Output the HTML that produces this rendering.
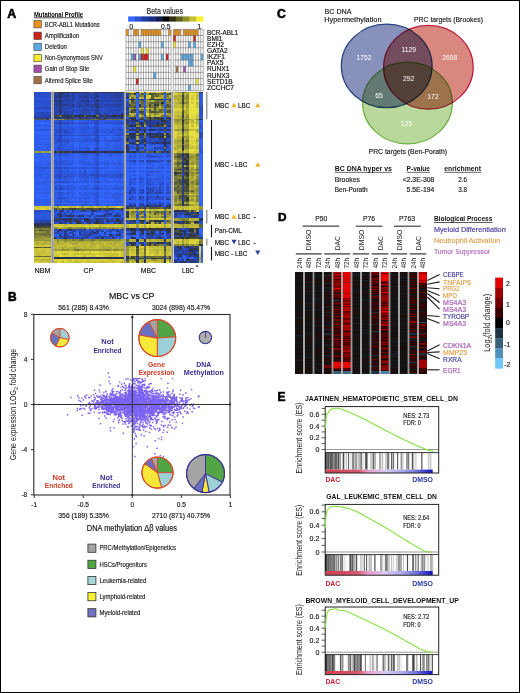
<!DOCTYPE html>
<html><head><meta charset="utf-8"><title>Figure</title><style>
html,body{margin:0;padding:0;background:#fff}
#fig{position:relative;width:520px;height:693px;overflow:hidden;background:#fff}
#fig>div{position:absolute}
#fig>svg{position:absolute;left:0;top:0}
svg text{font-family:"Liberation Sans",sans-serif}
</style></head><body><div id="fig">
<div style="left:34px;top:91.5px;width:169.3px;height:171.5px;filter:blur(0.6px)"><div style="position:absolute;left:0.0px;top:0.0px;width:17.3px;height:1.7px;background:linear-gradient(90deg,#2a51d2 0.0px 2.5px,#294cc7 2.5px 4.9px,#2b55da 4.9px 7.4px,#2a4ecc 7.4px 9.9px,#2b55d9 9.9px 12.4px,#294ac4 12.4px 14.8px,#294dca 14.8px 17.3px)"></div><div style="position:absolute;left:0.0px;top:1.5px;width:17.3px;height:1.9px;background:linear-gradient(90deg,#294dcb 0.0px 2.5px,#294bc6 2.5px 4.9px,#294dca 4.9px 7.4px,#2a4ecc 7.4px 9.9px,#294cc8 9.9px 12.4px,#2a4fcf 12.4px 14.8px,#294dca 14.8px 17.3px)"></div><div style="position:absolute;left:0.0px;top:3.2px;width:17.3px;height:1.9px;background:linear-gradient(90deg,#2a4fcd 0.0px 2.5px,#2a50d0 2.5px 4.9px,#2849c2 4.9px 7.4px,#2a4fcd 7.4px 9.9px,#2a50d1 9.9px 12.4px,#2a4ecd 12.4px 14.8px,#2a50d0 14.8px 17.3px)"></div><div style="position:absolute;left:0.0px;top:5.0px;width:17.3px;height:1.9px;background:linear-gradient(90deg,#2b54d8 0.0px 2.5px,#294ecc 2.5px 4.9px,#2b53d6 4.9px 7.4px,#2b53d5 7.4px 9.9px,#2a51d3 9.9px 12.4px,#294ecc 12.4px 14.8px,#2b54d7 14.8px 17.3px)"></div><div style="position:absolute;left:0.0px;top:6.7px;width:17.3px;height:1.9px;background:linear-gradient(90deg,#294ecb 0.0px 2.5px,#2c58e0 2.5px 4.9px,#2b55da 4.9px 7.4px,#2b52d5 7.4px 9.9px,#2a4ecc 9.9px 12.4px,#2c57dd 12.4px 14.8px,#2d5ae5 14.8px 17.3px)"></div><div style="position:absolute;left:0.0px;top:8.4px;width:17.3px;height:1.9px;background:linear-gradient(90deg,#2a50d1 0.0px 2.5px,#2a50d0 2.5px 4.9px,#294ecc 4.9px 7.4px,#2a4ecd 7.4px 9.9px,#2a4ecc 9.9px 12.4px,#2a50d0 12.4px 14.8px,#294cc7 14.8px 17.3px)"></div><div style="position:absolute;left:0.0px;top:10.1px;width:17.3px;height:1.9px;background:linear-gradient(90deg,#294bc7 0.0px 2.5px,#294dca 2.5px 4.9px,#284ac3 4.9px 7.4px,#294ac5 7.4px 9.9px,#2a4ecd 9.9px 12.4px,#294dca 12.4px 14.8px,#2849c2 14.8px 17.3px)"></div><div style="position:absolute;left:0.0px;top:11.9px;width:17.3px;height:1.9px;background:linear-gradient(90deg,#2b53d6 0.0px 2.5px,#2a51d3 2.5px 4.9px,#2b52d4 4.9px 7.4px,#2a52d4 7.4px 9.9px,#2c57de 9.9px 12.4px,#294dcb 12.4px 14.8px,#2a51d3 14.8px 17.3px)"></div><div style="position:absolute;left:0.0px;top:13.6px;width:17.3px;height:1.9px;background:linear-gradient(90deg,#2b53d5 0.0px 2.5px,#2b54d9 2.5px 4.9px,#2b55da 4.9px 7.4px,#2b52d5 7.4px 9.9px,#2a4fce 9.9px 12.4px,#2b54d7 12.4px 14.8px,#2a51d2 14.8px 17.3px)"></div><div style="position:absolute;left:0.0px;top:15.3px;width:17.3px;height:1.9px;background:linear-gradient(90deg,#294cc7 0.0px 2.5px,#294ac5 2.5px 4.9px,#2847bd 4.9px 7.4px,#294dcb 7.4px 9.9px,#284ac3 9.9px 12.4px,#2847ba 12.4px 14.8px,#2847bc 14.8px 17.3px)"></div><div style="position:absolute;left:0.0px;top:17.0px;width:17.3px;height:1.9px;background:linear-gradient(90deg,#2b54d8 0.0px 2.5px,#2849c2 2.5px 4.9px,#294ecc 4.9px 7.4px,#294dcb 7.4px 9.9px,#294ecc 9.9px 12.4px,#2b54d7 12.4px 14.8px,#2b53d6 14.8px 17.3px)"></div><div style="position:absolute;left:0.0px;top:18.8px;width:17.3px;height:1.9px;background:linear-gradient(90deg,#2a51d3 0.0px 2.5px,#2c59e1 2.5px 4.9px,#2c57de 4.9px 7.4px,#2c57de 7.4px 9.9px,#2b55da 9.9px 12.4px,#2b55da 12.4px 14.8px,#2b56dc 14.8px 17.3px)"></div><div style="position:absolute;left:0.0px;top:20.5px;width:17.3px;height:1.8px;background:linear-gradient(90deg,#2a51d3 0.0px 2.5px,#2848be 2.5px 4.9px,#2847bd 4.9px 7.4px,#2846b6 7.4px 9.9px,#2848c0 9.9px 12.4px,#284ac3 12.4px 14.8px,#2847bc 14.8px 17.3px)"></div><div style="position:absolute;left:0.0px;top:22.1px;width:17.3px;height:1.8px;background:linear-gradient(90deg,#294cc9 0.0px 2.5px,#294cc8 2.5px 4.9px,#2848c0 4.9px 7.4px,#2845b2 7.4px 9.9px,#2847bd 9.9px 12.4px,#2847ba 12.4px 14.8px,#2848c1 14.8px 17.3px)"></div><div style="position:absolute;left:0.0px;top:23.8px;width:17.3px;height:1.8px;background:linear-gradient(90deg,#2845b0 0.0px 2.5px,#2845af 2.5px 4.9px,#2848c0 4.9px 7.4px,#2846b6 7.4px 9.9px,#2846b7 9.9px 12.4px,#2843a6 12.4px 14.8px,#2843a7 14.8px 17.3px)"></div><div style="position:absolute;left:0.0px;top:25.4px;width:17.3px;height:1.8px;background:linear-gradient(90deg,#283f96 0.0px 2.5px,#2843a5 2.5px 4.9px,#28409a 4.9px 7.4px,#283f92 7.4px 9.9px,#2842a2 9.9px 12.4px,#28409a 12.4px 14.8px,#2842a4 14.8px 17.3px)"></div><div style="position:absolute;left:0.0px;top:27.0px;width:17.3px;height:1.7px;background:linear-gradient(90deg,#61663a 0.0px 2.5px,#53593a 2.5px 4.9px,#61663a 4.9px 7.4px,#585e3a 7.4px 9.9px,#646939 9.9px 12.4px,#414738 12.4px 14.8px,#808138 14.8px 17.3px)"></div><div style="position:absolute;left:0.0px;top:28.5px;width:17.3px;height:2.0px;background:linear-gradient(90deg,#2e5ce8 0.0px 2.5px,#2e5deb 2.5px 4.9px,#2e5be7 4.9px 7.4px,#2d5ae4 7.4px 9.9px,#2d5ae5 9.9px 12.4px,#2d5ae5 12.4px 14.8px,#2f5fef 14.8px 17.3px)"></div><div style="position:absolute;left:0.0px;top:30.3px;width:17.3px;height:2.0px;background:linear-gradient(90deg,#3060f1 0.0px 2.5px,#3162f6 2.5px 4.9px,#3265fd 4.9px 7.4px,#3264fa 7.4px 9.9px,#3265fc 9.9px 12.4px,#3264fb 12.4px 14.8px,#3060f2 14.8px 17.3px)"></div><div style="position:absolute;left:0.0px;top:32.1px;width:17.3px;height:2.0px;background:linear-gradient(90deg,#2f5eec 0.0px 2.5px,#305ff0 2.5px 4.9px,#3162f7 4.9px 7.4px,#3061f4 7.4px 9.9px,#2e5be8 9.9px 12.4px,#3161f4 12.4px 14.8px,#3162f5 14.8px 17.3px)"></div><div style="position:absolute;left:0.0px;top:33.9px;width:17.3px;height:2.0px;background:linear-gradient(90deg,#2e5be7 0.0px 2.5px,#2e5be8 2.5px 4.9px,#2c59e2 4.9px 7.4px,#2f5fef 7.4px 9.9px,#2d5be6 9.9px 12.4px,#2f5dec 12.4px 14.8px,#2f5eed 14.8px 17.3px)"></div><div style="position:absolute;left:0.0px;top:35.7px;width:17.3px;height:2.0px;background:linear-gradient(90deg,#305ff0 0.0px 2.5px,#3162f5 2.5px 4.9px,#3265fc 4.9px 7.4px,#3263f9 7.4px 9.9px,#2f5eee 9.9px 12.4px,#305ff0 12.4px 14.8px,#3263f9 14.8px 17.3px)"></div><div style="position:absolute;left:0.0px;top:37.6px;width:17.3px;height:2.0px;background:linear-gradient(90deg,#2c59e2 0.0px 2.5px,#2d5ae5 2.5px 4.9px,#2c58e1 4.9px 7.4px,#2c56dc 7.4px 9.9px,#2b55d9 9.9px 12.4px,#2b56dc 12.4px 14.8px,#2c59e2 14.8px 17.3px)"></div><div style="position:absolute;left:0.0px;top:39.4px;width:17.3px;height:2.0px;background:linear-gradient(90deg,#3263f9 0.0px 2.5px,#3061f3 2.5px 4.9px,#3162f6 4.9px 7.4px,#3060f2 7.4px 9.9px,#3163f8 9.9px 12.4px,#3162f5 12.4px 14.8px,#3162f7 14.8px 17.3px)"></div><div style="position:absolute;left:0.0px;top:41.2px;width:17.3px;height:2.0px;background:linear-gradient(90deg,#3265fc 0.0px 2.5px,#3264fb 2.5px 4.9px,#3265fc 4.9px 7.4px,#3161f5 7.4px 9.9px,#3162f7 9.9px 12.4px,#3265fd 12.4px 14.8px,#3161f5 14.8px 17.3px)"></div><div style="position:absolute;left:0.0px;top:43.0px;width:17.3px;height:2.0px;background:linear-gradient(90deg,#2e5be8 0.0px 2.5px,#2f5fee 2.5px 4.9px,#2f5fef 4.9px 7.4px,#305ff1 7.4px 9.9px,#2f5eed 9.9px 12.4px,#2f5dec 12.4px 14.8px,#2f5eed 14.8px 17.3px)"></div><div style="position:absolute;left:0.0px;top:44.8px;width:17.3px;height:2.0px;background:linear-gradient(90deg,#2f5fef 0.0px 2.5px,#3060f1 2.5px 4.9px,#305ff0 4.9px 7.4px,#3161f5 7.4px 9.9px,#305ff0 9.9px 12.4px,#3162f5 12.4px 14.8px,#3161f5 14.8px 17.3px)"></div><div style="position:absolute;left:0.0px;top:46.6px;width:17.3px;height:2.0px;background:linear-gradient(90deg,#2d5be6 0.0px 2.5px,#2e5dea 2.5px 4.9px,#2f5fee 4.9px 7.4px,#2f5fef 7.4px 9.9px,#2e5dea 9.9px 12.4px,#2e5ce9 12.4px 14.8px,#2e5ce9 14.8px 17.3px)"></div><div style="position:absolute;left:0.0px;top:48.4px;width:17.3px;height:2.0px;background:linear-gradient(90deg,#305ff0 0.0px 2.5px,#3060f2 2.5px 4.9px,#3060f2 4.9px 7.4px,#3161f4 7.4px 9.9px,#3060f2 9.9px 12.4px,#3264fa 12.4px 14.8px,#3162f6 14.8px 17.3px)"></div><div style="position:absolute;left:0.0px;top:50.2px;width:17.3px;height:2.0px;background:linear-gradient(90deg,#3060f1 0.0px 2.5px,#2e5deb 2.5px 4.9px,#3060f2 4.9px 7.4px,#2f5eee 7.4px 9.9px,#2f5deb 9.9px 12.4px,#3060f1 12.4px 14.8px,#305ff0 14.8px 17.3px)"></div><div style="position:absolute;left:0.0px;top:52.1px;width:17.3px;height:2.0px;background:linear-gradient(90deg,#2d59e3 0.0px 2.5px,#2d59e3 2.5px 4.9px,#2c59e2 4.9px 7.4px,#2c58e0 7.4px 9.9px,#2c58e0 9.9px 12.4px,#2b56dc 12.4px 14.8px,#2c56dc 14.8px 17.3px)"></div><div style="position:absolute;left:0.0px;top:53.9px;width:17.3px;height:2.0px;background:linear-gradient(90deg,#3061f4 0.0px 2.5px,#3163f8 2.5px 4.9px,#3163f8 4.9px 7.4px,#3162f5 7.4px 9.9px,#2f5fef 9.9px 12.4px,#3060f2 12.4px 14.8px,#2f5fef 14.8px 17.3px)"></div><div style="position:absolute;left:0.0px;top:55.7px;width:17.3px;height:2.0px;background:linear-gradient(90deg,#2e5dea 0.0px 2.5px,#2c58e1 2.5px 4.9px,#2f5dec 4.9px 7.4px,#2f5dec 7.4px 9.9px,#2f5deb 9.9px 12.4px,#2d5ae5 12.4px 14.8px,#2e5dea 14.8px 17.3px)"></div><div style="position:absolute;left:0.0px;top:57.5px;width:17.3px;height:2.0px;background:linear-gradient(90deg,#3060f2 0.0px 2.5px,#305ff0 2.5px 4.9px,#3161f5 4.9px 7.4px,#3162f5 7.4px 9.9px,#305ff0 9.9px 12.4px,#305ff0 12.4px 14.8px,#305ff0 14.8px 17.3px)"></div><div style="position:absolute;left:0.0px;top:59.3px;width:17.3px;height:2.0px;background:linear-gradient(90deg,#9e9e38 0.0px 2.5px,#9f9f38 2.5px 4.9px,#868638 4.9px 7.4px,#a8a838 7.4px 9.9px,#9c9c38 9.9px 12.4px,#979738 12.4px 14.8px,#b4b138 14.8px 17.3px)"></div><div style="position:absolute;left:0.0px;top:61.1px;width:17.3px;height:2.0px;background:linear-gradient(90deg,#3060f2 0.0px 2.5px,#2f5fef 2.5px 4.9px,#2f5deb 4.9px 7.4px,#2e5dea 7.4px 9.9px,#2f5fef 9.9px 12.4px,#3060f3 12.4px 14.8px,#3060f2 14.8px 17.3px)"></div><div style="position:absolute;left:0.0px;top:62.9px;width:17.3px;height:2.0px;background:linear-gradient(90deg,#3264fb 0.0px 2.5px,#3162f6 2.5px 4.9px,#3263f8 4.9px 7.4px,#3162f6 7.4px 9.9px,#3264fa 9.9px 12.4px,#3264fa 12.4px 14.8px,#3162f7 14.8px 17.3px)"></div><div style="position:absolute;left:0.0px;top:64.7px;width:17.3px;height:2.0px;background:linear-gradient(90deg,#2f5eec 0.0px 2.5px,#3162f7 2.5px 4.9px,#3060f1 4.9px 7.4px,#3060f2 7.4px 9.9px,#3263f9 9.9px 12.4px,#2f5fef 12.4px 14.8px,#3060f1 14.8px 17.3px)"></div><div style="position:absolute;left:0.0px;top:66.4px;width:17.3px;height:2.0px;background:linear-gradient(90deg,#3365fd 0.0px 2.5px,#3264fb 2.5px 4.9px,#3366ff 4.9px 7.4px,#3163f7 7.4px 9.9px,#3366ff 9.9px 12.4px,#3366ff 12.4px 14.8px,#3365fd 14.8px 17.3px)"></div><div style="position:absolute;left:0.0px;top:68.2px;width:17.3px;height:2.0px;background:linear-gradient(90deg,#3263f9 0.0px 2.5px,#3365fd 2.5px 4.9px,#3060f1 4.9px 7.4px,#3162f6 7.4px 9.9px,#2f5fef 9.9px 12.4px,#305ff0 12.4px 14.8px,#3161f5 14.8px 17.3px)"></div><div style="position:absolute;left:0.0px;top:70.0px;width:17.3px;height:2.0px;background:linear-gradient(90deg,#2e5deb 0.0px 2.5px,#2e5deb 2.5px 4.9px,#305ff0 4.9px 7.4px,#3162f6 7.4px 9.9px,#3263f9 9.9px 12.4px,#3162f6 12.4px 14.8px,#2f5deb 14.8px 17.3px)"></div><div style="position:absolute;left:0.0px;top:71.8px;width:17.3px;height:2.0px;background:linear-gradient(90deg,#2f5eed 0.0px 2.5px,#3060f2 2.5px 4.9px,#2e5deb 4.9px 7.4px,#305ff0 7.4px 9.9px,#2f5dec 9.9px 12.4px,#2e5ce8 12.4px 14.8px,#2d5be6 14.8px 17.3px)"></div><div style="position:absolute;left:0.0px;top:73.6px;width:17.3px;height:2.0px;background:linear-gradient(90deg,#305ff0 0.0px 2.5px,#2f5eed 2.5px 4.9px,#2d5ae5 4.9px 7.4px,#2f5eec 7.4px 9.9px,#3162f6 9.9px 12.4px,#2d5be6 12.4px 14.8px,#2f5eed 14.8px 17.3px)"></div><div style="position:absolute;left:0.0px;top:75.3px;width:17.3px;height:2.0px;background:linear-gradient(90deg,#2b53d6 0.0px 2.5px,#2b52d4 2.5px 4.9px,#2b53d5 4.9px 7.4px,#2a51d2 7.4px 9.9px,#2b53d7 9.9px 12.4px,#2b56db 12.4px 14.8px,#2c57de 14.8px 17.3px)"></div><div style="position:absolute;left:0.0px;top:77.1px;width:17.3px;height:2.0px;background:linear-gradient(90deg,#3061f3 0.0px 2.5px,#3061f3 2.5px 4.9px,#2d5be6 4.9px 7.4px,#2f5eec 7.4px 9.9px,#2e5deb 9.9px 12.4px,#3061f3 12.4px 14.8px,#2f5fef 14.8px 17.3px)"></div><div style="position:absolute;left:0.0px;top:78.9px;width:17.3px;height:2.0px;background:linear-gradient(90deg,#3060f2 0.0px 2.5px,#2f5eed 2.5px 4.9px,#2f5eee 4.9px 7.4px,#305ff0 7.4px 9.9px,#305ff0 9.9px 12.4px,#3263f9 12.4px 14.8px,#3161f5 14.8px 17.3px)"></div><div style="position:absolute;left:0.0px;top:80.7px;width:17.3px;height:2.0px;background:linear-gradient(90deg,#2f5eee 0.0px 2.5px,#305ff0 2.5px 4.9px,#2e5deb 4.9px 7.4px,#3060f1 7.4px 9.9px,#305ff0 9.9px 12.4px,#2e5ce8 12.4px 14.8px,#2f5eee 14.8px 17.3px)"></div><div style="position:absolute;left:0.0px;top:82.5px;width:17.3px;height:2.0px;background:linear-gradient(90deg,#2c59e2 0.0px 2.5px,#2c58e0 2.5px 4.9px,#2c57de 4.9px 7.4px,#2f5fef 7.4px 9.9px,#2d5ae5 9.9px 12.4px,#2e5deb 12.4px 14.8px,#2d5be7 14.8px 17.3px)"></div><div style="position:absolute;left:0.0px;top:84.2px;width:17.3px;height:2.0px;background:linear-gradient(90deg,#2e5cea 0.0px 2.5px,#305ff1 2.5px 4.9px,#2e5ce8 4.9px 7.4px,#3061f3 7.4px 9.9px,#305ff1 9.9px 12.4px,#305ff0 12.4px 14.8px,#2f5deb 14.8px 17.3px)"></div><div style="position:absolute;left:0.0px;top:86.0px;width:17.3px;height:2.0px;background:linear-gradient(90deg,#3061f3 0.0px 2.5px,#3060f2 2.5px 4.9px,#3162f7 4.9px 7.4px,#2e5ce9 7.4px 9.9px,#2f5dec 9.9px 12.4px,#2f5eee 12.4px 14.8px,#2f5fee 14.8px 17.3px)"></div><div style="position:absolute;left:0.0px;top:87.8px;width:17.3px;height:2.0px;background:linear-gradient(90deg,#3162f6 0.0px 2.5px,#305ff0 2.5px 4.9px,#3163f8 4.9px 7.4px,#3163f8 7.4px 9.9px,#2f5eec 9.9px 12.4px,#2f5eec 12.4px 14.8px,#3060f3 14.8px 17.3px)"></div><div style="position:absolute;left:0.0px;top:89.6px;width:17.3px;height:2.0px;background:linear-gradient(90deg,#2e5dea 0.0px 2.5px,#2d5ae4 2.5px 4.9px,#2f5eee 4.9px 7.4px,#2e5deb 7.4px 9.9px,#2e5ce9 9.9px 12.4px,#2d5ae4 12.4px 14.8px,#2f5eed 14.8px 17.3px)"></div><div style="position:absolute;left:0.0px;top:91.4px;width:17.3px;height:2.0px;background:linear-gradient(90deg,#305ff0 0.0px 2.5px,#3060f1 2.5px 4.9px,#3060f1 4.9px 7.4px,#2f5eed 7.4px 9.9px,#2e5ce9 9.9px 12.4px,#3060f1 12.4px 14.8px,#3060f1 14.8px 17.3px)"></div><div style="position:absolute;left:0.0px;top:93.1px;width:17.3px;height:2.0px;background:linear-gradient(90deg,#3060f1 0.0px 2.5px,#2f5fef 2.5px 4.9px,#3263f9 4.9px 7.4px,#3060f1 7.4px 9.9px,#3163f8 9.9px 12.4px,#2f5fef 12.4px 14.8px,#3163f8 14.8px 17.3px)"></div><div style="position:absolute;left:0.0px;top:94.9px;width:17.3px;height:2.0px;background:linear-gradient(90deg,#3264fc 0.0px 2.5px,#3163f8 2.5px 4.9px,#3365fd 4.9px 7.4px,#3162f7 7.4px 9.9px,#3162f7 9.9px 12.4px,#3163f8 12.4px 14.8px,#3162f7 14.8px 17.3px)"></div><div style="position:absolute;left:0.0px;top:96.7px;width:17.3px;height:2.0px;background:linear-gradient(90deg,#2f5eec 0.0px 2.5px,#2e5ce9 2.5px 4.9px,#2e5ce9 4.9px 7.4px,#3061f3 7.4px 9.9px,#2e5be7 9.9px 12.4px,#2f5eed 12.4px 14.8px,#2f5eec 14.8px 17.3px)"></div><div style="position:absolute;left:0.0px;top:98.5px;width:17.3px;height:2.0px;background:linear-gradient(90deg,#3060f2 0.0px 2.5px,#3060f1 2.5px 4.9px,#305ff1 4.9px 7.4px,#3162f6 7.4px 9.9px,#2f5fef 9.9px 12.4px,#3060f1 12.4px 14.8px,#3161f5 14.8px 17.3px)"></div><div style="position:absolute;left:0.0px;top:100.3px;width:17.3px;height:2.0px;background:linear-gradient(90deg,#2f5dec 0.0px 2.5px,#2f5eed 2.5px 4.9px,#2f5dec 4.9px 7.4px,#2f5fef 7.4px 9.9px,#2e5cea 9.9px 12.4px,#2d5ae4 12.4px 14.8px,#2f5eed 14.8px 17.3px)"></div><div style="position:absolute;left:0.0px;top:102.0px;width:17.3px;height:2.0px;background:linear-gradient(90deg,#3061f3 0.0px 2.5px,#3366ff 2.5px 4.9px,#3366ff 4.9px 7.4px,#3366ff 7.4px 9.9px,#3264fa 9.9px 12.4px,#3162f6 12.4px 14.8px,#3162f7 14.8px 17.3px)"></div><div style="position:absolute;left:0.0px;top:103.8px;width:17.3px;height:2.0px;background:linear-gradient(90deg,#2f5deb 0.0px 2.5px,#3061f3 2.5px 4.9px,#3162f5 4.9px 7.4px,#3060f2 7.4px 9.9px,#3060f1 9.9px 12.4px,#3060f2 12.4px 14.8px,#305ff0 14.8px 17.3px)"></div><div style="position:absolute;left:0.0px;top:105.6px;width:17.3px;height:2.0px;background:linear-gradient(90deg,#3263f9 0.0px 2.5px,#3366ff 2.5px 4.9px,#3365fd 4.9px 7.4px,#3366ff 7.4px 9.9px,#3366ff 9.9px 12.4px,#3366ff 12.4px 14.8px,#3366ff 14.8px 17.3px)"></div><div style="position:absolute;left:0.0px;top:107.4px;width:17.3px;height:2.0px;background:linear-gradient(90deg,#2e5ce9 0.0px 2.5px,#3060f2 2.5px 4.9px,#3162f7 4.9px 7.4px,#305ff0 7.4px 9.9px,#3060f1 9.9px 12.4px,#2f5dec 12.4px 14.8px,#2f5eed 14.8px 17.3px)"></div><div style="position:absolute;left:0.0px;top:109.2px;width:17.3px;height:2.0px;background:linear-gradient(90deg,#2c58e0 0.0px 2.5px,#2d5ae4 2.5px 4.9px,#2c59e2 4.9px 7.4px,#3060f2 7.4px 9.9px,#2e5be8 9.9px 12.4px,#2e5be8 12.4px 14.8px,#2d5ae4 14.8px 17.3px)"></div><div style="position:absolute;left:0.0px;top:110.9px;width:17.3px;height:2.0px;background:linear-gradient(90deg,#2f5dec 0.0px 2.5px,#2e5ce8 2.5px 4.9px,#305ff1 4.9px 7.4px,#2f5deb 7.4px 9.9px,#2f5eee 9.9px 12.4px,#2f5eed 12.4px 14.8px,#2f5deb 14.8px 17.3px)"></div><div style="position:absolute;left:0.0px;top:112.7px;width:17.3px;height:2.0px;background:linear-gradient(90deg,#3060f1 0.0px 2.5px,#3060f2 2.5px 4.9px,#2f5eed 4.9px 7.4px,#3060f2 7.4px 9.9px,#305ff0 9.9px 12.4px,#2d5ae5 12.4px 14.8px,#2f5fef 14.8px 17.3px)"></div><div style="position:absolute;left:0.0px;top:114.5px;width:17.3px;height:2.0px;background:linear-gradient(90deg,#d4cc3b 0.0px 2.5px,#c7bf38 2.5px 4.9px,#d1c93a 4.9px 7.4px,#d2ca3a 7.4px 9.9px,#d0c83a 9.9px 12.4px,#d3cb3b 12.4px 14.8px,#d2ca3a 14.8px 17.3px)"></div><div style="position:absolute;left:0.0px;top:116.3px;width:17.3px;height:2.0px;background:linear-gradient(90deg,#cfc73a 0.0px 2.5px,#d6ce3c 2.5px 4.9px,#d0c83a 4.9px 7.4px,#dbd33d 7.4px 9.9px,#d4cc3b 9.9px 12.4px,#cbc339 12.4px 14.8px,#d4cc3b 14.8px 17.3px)"></div><div style="position:absolute;left:0.0px;top:118.1px;width:17.3px;height:2.6px;background:linear-gradient(90deg,#284ac3 0.0px 2.5px,#294ecc 2.5px 4.9px,#2b54d7 4.9px 7.4px,#2a4ecc 7.4px 9.9px,#284ac3 9.9px 12.4px,#294cc8 12.4px 14.8px,#2a4fce 14.8px 17.3px)"></div><div style="position:absolute;left:0.0px;top:120.5px;width:17.3px;height:2.2px;background:linear-gradient(90deg,#2b53d6 0.0px 2.5px,#2a50d1 2.5px 4.9px,#2b52d4 4.9px 7.4px,#2b54d8 7.4px 9.9px,#2c57df 9.9px 12.4px,#2b54d8 12.4px 14.8px,#2b54d8 14.8px 17.3px)"></div><div style="position:absolute;left:0.0px;top:122.5px;width:17.3px;height:2.2px;background:linear-gradient(90deg,#2c57dd 0.0px 2.5px,#2e5be7 2.5px 4.9px,#2c56dc 4.9px 7.4px,#2c58e0 7.4px 9.9px,#2c57de 9.9px 12.4px,#2c58e0 12.4px 14.8px,#2c59e2 14.8px 17.3px)"></div><div style="position:absolute;left:0.0px;top:124.5px;width:17.3px;height:2.2px;background:linear-gradient(90deg,#2b54d9 0.0px 2.5px,#2c58e0 2.5px 4.9px,#2b56dc 4.9px 7.4px,#2d59e2 7.4px 9.9px,#2b55db 9.9px 12.4px,#2c57dd 12.4px 14.8px,#2d5ae5 14.8px 17.3px)"></div><div style="position:absolute;left:0.0px;top:126.5px;width:17.3px;height:2.2px;background:linear-gradient(90deg,#2b55da 0.0px 2.5px,#2b52d4 2.5px 4.9px,#2c57dd 4.9px 7.4px,#2c58e0 7.4px 9.9px,#2a50d1 9.9px 12.4px,#2c57de 12.4px 14.8px,#2c59e2 14.8px 17.3px)"></div><div style="position:absolute;left:0.0px;top:128.5px;width:17.3px;height:2.7px;background:linear-gradient(90deg,#2848bf 0.0px 2.5px,#2845b2 2.5px 4.9px,#28419d 4.9px 7.4px,#2845b3 7.4px 9.9px,#2844ac 9.9px 12.4px,#2844aa 12.4px 14.8px,#2844ad 14.8px 17.3px)"></div><div style="position:absolute;left:0.0px;top:131.0px;width:17.3px;height:1.9px;background:linear-gradient(90deg,#2a334d 0.0px 2.5px,#293461 2.5px 4.9px,#29345c 4.9px 7.4px,#29345f 7.4px 9.9px,#283671 9.9px 12.4px,#29345c 12.4px 14.8px,#293460 14.8px 17.3px)"></div><div style="position:absolute;left:0.0px;top:132.8px;width:17.3px;height:1.9px;background:linear-gradient(90deg,#2b3348 0.0px 2.5px,#2b323d 2.5px 4.9px,#28346a 4.9px 7.4px,#293358 7.4px 9.9px,#293357 9.9px 12.4px,#29345c 12.4px 14.8px,#2a334c 14.8px 17.3px)"></div><div style="position:absolute;left:0.0px;top:134.5px;width:17.3px;height:2.2px;background:linear-gradient(90deg,#4e5439 0.0px 2.5px,#3b4137 2.5px 4.9px,#424838 4.9px 7.4px,#4c5239 7.4px 9.9px,#474d39 9.9px 12.4px,#464c38 12.4px 14.8px,#4b5139 14.8px 17.3px)"></div><div style="position:absolute;left:0.0px;top:136.5px;width:17.3px;height:1.9px;background:linear-gradient(90deg,#6a6e39 0.0px 2.5px,#8a8a38 2.5px 4.9px,#6f7239 4.9px 7.4px,#7f8038 7.4px 9.9px,#7f7f38 9.9px 12.4px,#838338 12.4px 14.8px,#707339 14.8px 17.3px)"></div><div style="position:absolute;left:0.0px;top:138.2px;width:17.3px;height:1.9px;background:linear-gradient(90deg,#6f7239 0.0px 2.5px,#6d7039 2.5px 4.9px,#4e5439 4.9px 7.4px,#4b5139 7.4px 9.9px,#636739 9.9px 12.4px,#656939 12.4px 14.8px,#666a39 14.8px 17.3px)"></div><div style="position:absolute;left:0.0px;top:139.8px;width:17.3px;height:1.9px;background:linear-gradient(90deg,#787a39 0.0px 2.5px,#9c9c38 2.5px 4.9px,#8d8d38 4.9px 7.4px,#909038 7.4px 9.9px,#878738 9.9px 12.4px,#6b6e39 12.4px 14.8px,#878738 14.8px 17.3px)"></div><div style="position:absolute;left:0.0px;top:141.5px;width:17.3px;height:1.9px;background:linear-gradient(90deg,#777939 0.0px 2.5px,#717339 2.5px 4.9px,#7a7c38 4.9px 7.4px,#676b39 7.4px 9.9px,#6d7139 9.9px 12.4px,#727539 12.4px 14.8px,#696c39 14.8px 17.3px)"></div><div style="position:absolute;left:0.0px;top:143.2px;width:17.3px;height:1.9px;background:linear-gradient(90deg,#7b7d38 0.0px 2.5px,#8a8a38 2.5px 4.9px,#717439 4.9px 7.4px,#7e7f38 7.4px 9.9px,#666a39 9.9px 12.4px,#6e7139 12.4px 14.8px,#787a39 14.8px 17.3px)"></div><div style="position:absolute;left:0.0px;top:144.8px;width:17.3px;height:1.9px;background:linear-gradient(90deg,#7b7c38 0.0px 2.5px,#8c8c38 2.5px 4.9px,#888838 4.9px 7.4px,#929238 7.4px 9.9px,#8f8f38 9.9px 12.4px,#8c8c38 12.4px 14.8px,#828338 14.8px 17.3px)"></div><div style="position:absolute;left:0.0px;top:146.5px;width:17.3px;height:1.7px;background:linear-gradient(90deg,#9e9e38 0.0px 2.5px,#9e9e38 2.5px 4.9px,#989838 4.9px 7.4px,#9b9b38 7.4px 9.9px,#9c9c38 9.9px 12.4px,#a3a338 12.4px 14.8px,#a4a438 14.8px 17.3px)"></div><div style="position:absolute;left:0.0px;top:148.0px;width:17.3px;height:1.7px;background:linear-gradient(90deg,#939338 0.0px 2.5px,#969638 2.5px 4.9px,#9a9a38 4.9px 7.4px,#939338 7.4px 9.9px,#959538 9.9px 12.4px,#919138 12.4px 14.8px,#9a9a38 14.8px 17.3px)"></div><div style="position:absolute;left:0.0px;top:149.5px;width:17.3px;height:2.2px;background:linear-gradient(90deg,#bbb638 0.0px 2.5px,#abaa38 2.5px 4.9px,#c4bd38 4.9px 7.4px,#bfb938 7.4px 9.9px,#acab38 9.9px 12.4px,#b6b238 12.4px 14.8px,#b1ae38 14.8px 17.3px)"></div><div style="position:absolute;left:0.0px;top:151.5px;width:17.3px;height:2.2px;background:linear-gradient(90deg,#b5b238 0.0px 2.5px,#b2af38 2.5px 4.9px,#beb838 4.9px 7.4px,#b4b138 7.4px 9.9px,#b0ae38 9.9px 12.4px,#b7b338 12.4px 14.8px,#bab538 14.8px 17.3px)"></div><div style="position:absolute;left:0.0px;top:153.5px;width:17.3px;height:2.2px;background:linear-gradient(90deg,#d3cb3b 0.0px 2.5px,#c6bf38 2.5px 4.9px,#cbc339 4.9px 7.4px,#cfc73a 7.4px 9.9px,#cac239 9.9px 12.4px,#d4cc3b 12.4px 14.8px,#cec639 14.8px 17.3px)"></div><div style="position:absolute;left:0.0px;top:155.5px;width:17.3px;height:1.4px;background:linear-gradient(90deg,#52583a 0.0px 2.5px,#555b3a 2.5px 4.9px,#494f39 4.9px 7.4px,#686c39 7.4px 9.9px,#505639 9.9px 12.4px,#4f5539 12.4px 14.8px,#474d39 14.8px 17.3px)"></div><div style="position:absolute;left:0.0px;top:156.7px;width:17.3px;height:2.2px;background:linear-gradient(90deg,#c5be38 0.0px 2.5px,#cfc73a 2.5px 4.9px,#d5cd3b 4.9px 7.4px,#d1c93a 7.4px 9.9px,#cbc339 9.9px 12.4px,#d5cd3b 12.4px 14.8px,#ccc439 14.8px 17.3px)"></div><div style="position:absolute;left:0.0px;top:158.6px;width:17.3px;height:2.2px;background:linear-gradient(90deg,#cec63a 0.0px 2.5px,#cbc339 2.5px 4.9px,#d0c83a 4.9px 7.4px,#c6bf38 7.4px 9.9px,#c3bc38 9.9px 12.4px,#d5cd3b 12.4px 14.8px,#c9c138 14.8px 17.3px)"></div><div style="position:absolute;left:0.0px;top:160.6px;width:17.3px;height:2.2px;background:linear-gradient(90deg,#cdc539 0.0px 2.5px,#c8c038 2.5px 4.9px,#c4bd38 4.9px 7.4px,#cac238 7.4px 9.9px,#c5be38 9.9px 12.4px,#cec63a 12.4px 14.8px,#c8c038 14.8px 17.3px)"></div><div style="position:absolute;left:0.0px;top:162.6px;width:17.3px;height:2.2px;background:linear-gradient(90deg,#d0c83a 0.0px 2.5px,#c2bc38 2.5px 4.9px,#c3bc38 4.9px 7.4px,#d0c83a 7.4px 9.9px,#d3cb3b 9.9px 12.4px,#ccc439 12.4px 14.8px,#c7c038 14.8px 17.3px)"></div><div style="position:absolute;left:0.0px;top:164.5px;width:17.3px;height:1.5px;background:linear-gradient(90deg,#6c6f39 0.0px 2.5px,#707339 2.5px 4.9px,#565c3a 4.9px 7.4px,#666a39 7.4px 9.9px,#5e633a 9.9px 12.4px,#5d623a 12.4px 14.8px,#6c7039 14.8px 17.3px)"></div><div style="position:absolute;left:0.0px;top:165.8px;width:17.3px;height:2.1px;background:linear-gradient(90deg,#ccc439 0.0px 2.5px,#cdc539 2.5px 4.9px,#d7cf3c 4.9px 7.4px,#d3cb3b 7.4px 9.9px,#cec639 9.9px 12.4px,#d2ca3a 12.4px 14.8px,#cfc73a 14.8px 17.3px)"></div><div style="position:absolute;left:0.0px;top:167.7px;width:17.3px;height:2.1px;background:linear-gradient(90deg,#b9b538 0.0px 2.5px,#beb838 2.5px 4.9px,#c0ba38 4.9px 7.4px,#b4b138 7.4px 9.9px,#b7b338 9.9px 12.4px,#b8b438 12.4px 14.8px,#b3b038 14.8px 17.3px)"></div><div style="position:absolute;left:0.0px;top:169.6px;width:17.3px;height:2.1px;background:linear-gradient(90deg,#d5cd3b 0.0px 2.5px,#dad23d 2.5px 4.9px,#c5be38 4.9px 7.4px,#cdc539 7.4px 9.9px,#ddd53d 9.9px 12.4px,#cac238 12.4px 14.8px,#c7bf38 14.8px 17.3px)"></div><div style="position:absolute;left:19.8px;top:0.0px;width:70.0px;height:1.7px;background:linear-gradient(90deg,#555b3a 0.0px 2.5px,#3a4037 2.5px 5.0px,#2b3345 5.0px 7.5px,#2c3236 7.5px 10.0px,#2e3436 10.0px 12.5px,#2c323a 12.5px 15.0px,#2b3346 15.0px 17.5px,#343a37 17.5px 20.0px,#2b3242 20.0px 22.5px,#2c323b 22.5px 25.0px,#373d37 25.0px 27.5px,#29335b 27.5px 30.0px,#283d8b 30.0px 32.5px,#2c3239 32.5px 35.0px,#283f96 35.0px 37.5px,#52583a 37.5px 40.0px,#283462 40.0px 42.5px,#28356b 42.5px 45.0px,#2843a9 45.0px 47.5px,#29345e 47.5px 50.0px,#2a334f 50.0px 52.5px,#2b3241 52.5px 55.0px,#293357 55.0px 57.5px,#28397a 57.5px 60.0px,#2c3239 60.0px 62.5px,#28356c 62.5px 65.0px,#283b84 65.0px 67.5px,#2c3236 67.5px 70.0px)"></div><div style="position:absolute;left:19.8px;top:1.5px;width:70.0px;height:2.0px;background:linear-gradient(90deg,#2843a9 0.0px 2.5px,#28419d 2.5px 5.0px,#28356e 5.0px 7.5px,#284098 7.5px 10.0px,#2844ac 10.0px 12.5px,#283e8f 12.5px 15.0px,#294dcb 15.0px 17.5px,#2842a4 17.5px 20.0px,#2847bc 20.0px 22.5px,#2849c2 22.5px 25.0px,#2843a8 25.0px 27.5px,#2848c1 27.5px 30.0px,#2842a1 30.0px 32.5px,#2842a0 32.5px 35.0px,#2848bf 35.0px 37.5px,#2845b3 37.5px 40.0px,#283f95 40.0px 42.5px,#2842a2 42.5px 45.0px,#2849c3 45.0px 47.5px,#2846b8 47.5px 50.0px,#284ac4 50.0px 52.5px,#2845b0 52.5px 55.0px,#2845b2 55.0px 57.5px,#2849c2 57.5px 60.0px,#2845b2 60.0px 62.5px,#28419e 62.5px 65.0px,#28419c 65.0px 67.5px,#2847bc 67.5px 70.0px)"></div><div style="position:absolute;left:19.8px;top:3.3px;width:70.0px;height:2.0px;background:linear-gradient(90deg,#283d8d 0.0px 2.5px,#283d8c 2.5px 5.0px,#29335a 5.0px 7.5px,#283e90 7.5px 10.0px,#283d8e 10.0px 12.5px,#283b86 12.5px 15.0px,#28409a 15.0px 17.5px,#283c88 17.5px 20.0px,#2846b8 20.0px 22.5px,#294ecc 22.5px 25.0px,#283c89 25.0px 27.5px,#284098 27.5px 30.0px,#283d8d 30.0px 32.5px,#28419c 32.5px 35.0px,#2844ab 35.0px 37.5px,#2844aa 37.5px 40.0px,#283f95 40.0px 42.5px,#28356a 42.5px 45.0px,#2845b1 45.0px 47.5px,#2849c2 47.5px 50.0px,#2842a4 50.0px 52.5px,#2844ab 52.5px 55.0px,#2844ad 55.0px 57.5px,#2842a2 57.5px 60.0px,#283a7e 60.0px 62.5px,#2844ae 62.5px 65.0px,#283f95 65.0px 67.5px,#28419d 67.5px 70.0px)"></div><div style="position:absolute;left:19.8px;top:5.1px;width:70.0px;height:2.0px;background:linear-gradient(90deg,#283c89 0.0px 2.5px,#2842a1 2.5px 5.0px,#283b85 5.0px 7.5px,#2843a6 7.5px 10.0px,#2845b1 10.0px 12.5px,#283e91 12.5px 15.0px,#2848be 15.0px 17.5px,#2842a0 17.5px 20.0px,#2845b3 20.0px 22.5px,#294ecb 22.5px 25.0px,#2844ae 25.0px 27.5px,#2845b1 27.5px 30.0px,#283c89 30.0px 32.5px,#2843a5 32.5px 35.0px,#294dc9 35.0px 37.5px,#2843a9 37.5px 40.0px,#283b84 40.0px 42.5px,#2842a1 42.5px 45.0px,#2b55da 45.0px 47.5px,#2842a0 47.5px 50.0px,#2845b2 50.0px 52.5px,#294dcb 52.5px 55.0px,#2844aa 55.0px 57.5px,#2842a2 57.5px 60.0px,#2a4ecc 60.0px 62.5px,#28419b 62.5px 65.0px,#28419d 65.0px 67.5px,#2845b2 67.5px 70.0px)"></div><div style="position:absolute;left:19.8px;top:7.0px;width:70.0px;height:2.0px;background:linear-gradient(90deg,#2845b0 0.0px 2.5px,#2847bc 2.5px 5.0px,#284098 5.0px 7.5px,#2848bf 7.5px 10.0px,#2847bc 10.0px 12.5px,#2845b0 12.5px 15.0px,#2846b8 15.0px 17.5px,#2845b1 17.5px 20.0px,#2a50cf 20.0px 22.5px,#284ac3 22.5px 25.0px,#2a4fce 25.0px 27.5px,#2849c3 27.5px 30.0px,#2846b5 30.0px 32.5px,#2845af 32.5px 35.0px,#2c58e0 35.0px 37.5px,#2a50cf 37.5px 40.0px,#2845af 40.0px 42.5px,#28419b 42.5px 45.0px,#2846b6 45.0px 47.5px,#2a50d1 47.5px 50.0px,#294cc8 50.0px 52.5px,#2849c2 52.5px 55.0px,#2849c1 55.0px 57.5px,#294dca 57.5px 60.0px,#2845b1 60.0px 62.5px,#2a4fce 62.5px 65.0px,#2844ad 65.0px 67.5px,#2848be 67.5px 70.0px)"></div><div style="position:absolute;left:19.8px;top:8.8px;width:70.0px;height:2.0px;background:linear-gradient(90deg,#28387a 0.0px 2.5px,#283e92 2.5px 5.0px,#28356c 5.0px 7.5px,#284097 7.5px 10.0px,#28419c 10.0px 12.5px,#28419f 12.5px 15.0px,#2844ad 15.0px 17.5px,#283e8f 17.5px 20.0px,#2a50d0 20.0px 22.5px,#294bc7 22.5px 25.0px,#28419f 25.0px 27.5px,#283e90 27.5px 30.0px,#284097 30.0px 32.5px,#283c8a 32.5px 35.0px,#2844aa 35.0px 37.5px,#2845b2 37.5px 40.0px,#28419e 40.0px 42.5px,#283773 42.5px 45.0px,#28419b 45.0px 47.5px,#2846b5 47.5px 50.0px,#2846b5 50.0px 52.5px,#28419f 52.5px 55.0px,#2848be 55.0px 57.5px,#2846b8 57.5px 60.0px,#284096 60.0px 62.5px,#28419b 62.5px 65.0px,#283d8d 65.0px 67.5px,#2842a3 67.5px 70.0px)"></div><div style="position:absolute;left:19.8px;top:10.6px;width:70.0px;height:2.0px;background:linear-gradient(90deg,#2843a7 0.0px 2.5px,#2844aa 2.5px 5.0px,#28397c 5.0px 7.5px,#2848c1 7.5px 10.0px,#2849c2 10.0px 12.5px,#2846b6 12.5px 15.0px,#2844ad 15.0px 17.5px,#2846b8 17.5px 20.0px,#2c59e2 20.0px 22.5px,#2843a9 22.5px 25.0px,#2849c2 25.0px 27.5px,#2847bb 27.5px 30.0px,#2843a5 30.0px 32.5px,#2844ae 32.5px 35.0px,#2849c1 35.0px 37.5px,#2a51d1 37.5px 40.0px,#284099 40.0px 42.5px,#28419f 42.5px 45.0px,#294cc8 45.0px 47.5px,#2849c2 47.5px 50.0px,#2849c2 50.0px 52.5px,#2a50d0 52.5px 55.0px,#294cc8 55.0px 57.5px,#2846b7 57.5px 60.0px,#2845b2 60.0px 62.5px,#294bc5 62.5px 65.0px,#2845b1 65.0px 67.5px,#2846b8 67.5px 70.0px)"></div><div style="position:absolute;left:19.8px;top:12.4px;width:70.0px;height:2.0px;background:linear-gradient(90deg,#283c8a 0.0px 2.5px,#283c8a 2.5px 5.0px,#283775 5.0px 7.5px,#283e92 7.5px 10.0px,#283b86 10.0px 12.5px,#283f95 12.5px 15.0px,#2843a5 15.0px 17.5px,#283a7f 17.5px 20.0px,#2846b6 20.0px 22.5px,#2848c0 22.5px 25.0px,#283f95 25.0px 27.5px,#2845b1 27.5px 30.0px,#2842a2 30.0px 32.5px,#283d8d 32.5px 35.0px,#2843a8 35.0px 37.5px,#2842a0 37.5px 40.0px,#283879 40.0px 42.5px,#283a80 42.5px 45.0px,#2844aa 45.0px 47.5px,#2847b9 47.5px 50.0px,#2842a3 50.0px 52.5px,#2842a2 52.5px 55.0px,#2844ac 55.0px 57.5px,#2846b8 57.5px 60.0px,#2842a0 60.0px 62.5px,#28419e 62.5px 65.0px,#283e92 65.0px 67.5px,#2845b2 67.5px 70.0px)"></div><div style="position:absolute;left:19.8px;top:14.2px;width:70.0px;height:2.0px;background:linear-gradient(90deg,#2843a5 0.0px 2.5px,#2843a5 2.5px 5.0px,#283c89 5.0px 7.5px,#2844ad 7.5px 10.0px,#2846b6 10.0px 12.5px,#2844ac 12.5px 15.0px,#2846b8 15.0px 17.5px,#2843a5 17.5px 20.0px,#294bc7 20.0px 22.5px,#2846b5 22.5px 25.0px,#2843a8 25.0px 27.5px,#2844ae 27.5px 30.0px,#2842a3 30.0px 32.5px,#2848bf 32.5px 35.0px,#2846b5 35.0px 37.5px,#2844ab 37.5px 40.0px,#2843a6 40.0px 42.5px,#283775 42.5px 45.0px,#2847ba 45.0px 47.5px,#2849c2 47.5px 50.0px,#2847bc 50.0px 52.5px,#2846b6 52.5px 55.0px,#294bc5 55.0px 57.5px,#2847b9 57.5px 60.0px,#2846b4 60.0px 62.5px,#2845af 62.5px 65.0px,#2847bb 65.0px 67.5px,#2844aa 67.5px 70.0px)"></div><div style="position:absolute;left:19.8px;top:16.0px;width:70.0px;height:2.0px;background:linear-gradient(90deg,#2845af 0.0px 2.5px,#2843a9 2.5px 5.0px,#28419c 5.0px 7.5px,#28419c 7.5px 10.0px,#2845b3 10.0px 12.5px,#2845b0 12.5px 15.0px,#294bc5 15.0px 17.5px,#2846b8 17.5px 20.0px,#2c58e0 20.0px 22.5px,#2a4ecd 22.5px 25.0px,#294ac4 25.0px 27.5px,#294cc8 27.5px 30.0px,#2844ad 30.0px 32.5px,#2845b2 32.5px 35.0px,#2a4ecc 35.0px 37.5px,#2b52d4 37.5px 40.0px,#284ac3 40.0px 42.5px,#2843a9 42.5px 45.0px,#294dca 45.0px 47.5px,#294ecc 47.5px 50.0px,#2a52d3 50.0px 52.5px,#294bc5 52.5px 55.0px,#2848c0 55.0px 57.5px,#2a50d0 57.5px 60.0px,#294dca 60.0px 62.5px,#294dca 62.5px 65.0px,#2846b6 65.0px 67.5px,#2b54d8 67.5px 70.0px)"></div><div style="position:absolute;left:19.8px;top:17.9px;width:70.0px;height:2.0px;background:linear-gradient(90deg,#2842a3 0.0px 2.5px,#2843a7 2.5px 5.0px,#283a7e 5.0px 7.5px,#2843a9 7.5px 10.0px,#2845b1 10.0px 12.5px,#2846b8 12.5px 15.0px,#294bc5 15.0px 17.5px,#2844ab 17.5px 20.0px,#294ecc 20.0px 22.5px,#294dca 22.5px 25.0px,#2849c1 25.0px 27.5px,#2844aa 27.5px 30.0px,#2842a1 30.0px 32.5px,#2843a9 32.5px 35.0px,#294ecb 35.0px 37.5px,#2842a1 37.5px 40.0px,#283f94 40.0px 42.5px,#2842a0 42.5px 45.0px,#2847bc 45.0px 47.5px,#294ecb 47.5px 50.0px,#294bc6 50.0px 52.5px,#294bc5 52.5px 55.0px,#2847bc 55.0px 57.5px,#2847bb 57.5px 60.0px,#2847b9 60.0px 62.5px,#2847b9 62.5px 65.0px,#2848bf 65.0px 67.5px,#2847b9 67.5px 70.0px)"></div><div style="position:absolute;left:19.8px;top:19.7px;width:70.0px;height:2.0px;background:linear-gradient(90deg,#2845af 0.0px 2.5px,#2842a1 2.5px 5.0px,#283876 5.0px 7.5px,#2847bb 7.5px 10.0px,#2842a1 10.0px 12.5px,#2846b7 12.5px 15.0px,#2845b1 15.0px 17.5px,#2844ac 17.5px 20.0px,#2a4ecc 20.0px 22.5px,#294ecb 22.5px 25.0px,#2849c2 25.0px 27.5px,#2848c0 27.5px 30.0px,#2842a3 30.0px 32.5px,#2844ac 32.5px 35.0px,#2843a6 35.0px 37.5px,#2a4fce 37.5px 40.0px,#2843a8 40.0px 42.5px,#283f93 42.5px 45.0px,#294cc8 45.0px 47.5px,#2a51d1 47.5px 50.0px,#294ac4 50.0px 52.5px,#2848c1 52.5px 55.0px,#2846b5 55.0px 57.5px,#2849c3 57.5px 60.0px,#294bc6 60.0px 62.5px,#2846b5 62.5px 65.0px,#2a51d1 65.0px 67.5px,#294cc8 67.5px 70.0px)"></div><div style="position:absolute;left:19.8px;top:21.5px;width:70.0px;height:2.0px;background:linear-gradient(90deg,#28419e 0.0px 2.5px,#2a51d1 2.5px 5.0px,#283d8d 5.0px 7.5px,#284ac4 7.5px 10.0px,#283e8e 10.0px 12.5px,#283f94 12.5px 15.0px,#2848bf 15.0px 17.5px,#2842a2 17.5px 20.0px,#2c56dc 20.0px 22.5px,#284ac4 22.5px 25.0px,#2844ac 25.0px 27.5px,#28419c 27.5px 30.0px,#2845b2 30.0px 32.5px,#2b55d9 32.5px 35.0px,#2843a9 35.0px 37.5px,#2a51d2 37.5px 40.0px,#2843a8 40.0px 42.5px,#283f95 42.5px 45.0px,#28419e 45.0px 47.5px,#294cc7 47.5px 50.0px,#28419f 50.0px 52.5px,#2846b7 52.5px 55.0px,#2b54d8 55.0px 57.5px,#2845b0 57.5px 60.0px,#2844ab 60.0px 62.5px,#2848bf 62.5px 65.0px,#2a4fcd 65.0px 67.5px,#283670 67.5px 70.0px)"></div><div style="position:absolute;left:19.8px;top:23.3px;width:70.0px;height:2.0px;background:linear-gradient(90deg,#3a4037 0.0px 2.5px,#3f4538 2.5px 5.0px,#656939 5.0px 7.5px,#373d37 7.5px 10.0px,#29345c 10.0px 12.5px,#29335b 12.5px 15.0px,#343a37 15.0px 17.5px,#484e39 17.5px 20.0px,#2b323f 20.0px 22.5px,#2b3347 22.5px 25.0px,#2b3241 25.0px 27.5px,#373d37 27.5px 30.0px,#53593a 30.0px 32.5px,#333937 32.5px 35.0px,#373d37 35.0px 37.5px,#343a37 37.5px 40.0px,#2c3239 40.0px 42.5px,#676b39 42.5px 45.0px,#28356d 45.0px 47.5px,#283776 47.5px 50.0px,#424838 50.0px 52.5px,#283877 52.5px 55.0px,#293356 55.0px 57.5px,#2f3536 57.5px 60.0px,#2c323c 60.0px 62.5px,#2a334c 62.5px 65.0px,#293355 65.0px 67.5px,#2c323a 67.5px 70.0px)"></div><div style="position:absolute;left:19.8px;top:25.2px;width:70.0px;height:2.0px;background:linear-gradient(90deg,#283879 0.0px 2.5px,#283d8d 2.5px 5.0px,#28397e 5.0px 7.5px,#283a80 7.5px 10.0px,#283879 10.0px 12.5px,#283462 12.5px 15.0px,#283e92 15.0px 17.5px,#283467 17.5px 20.0px,#2847bb 20.0px 22.5px,#294bc6 22.5px 25.0px,#28356c 25.0px 27.5px,#283f95 27.5px 30.0px,#283e91 30.0px 32.5px,#283b86 32.5px 35.0px,#2844ae 35.0px 37.5px,#28419c 37.5px 40.0px,#283e91 40.0px 42.5px,#2a3355 42.5px 45.0px,#2843a8 45.0px 47.5px,#2842a0 47.5px 50.0px,#283e8f 50.0px 52.5px,#283a82 52.5px 55.0px,#2847bc 55.0px 57.5px,#283d8d 57.5px 60.0px,#283f93 60.0px 62.5px,#2842a3 62.5px 65.0px,#283c87 65.0px 67.5px,#283a7f 67.5px 70.0px)"></div><div style="position:absolute;left:19.8px;top:27.0px;width:70.0px;height:1.7px;background:linear-gradient(90deg,#9c9c38 0.0px 2.5px,#6f7139 2.5px 5.0px,#878738 5.0px 7.5px,#989838 7.5px 10.0px,#656939 10.0px 12.5px,#5f643a 12.5px 15.0px,#60653a 15.0px 17.5px,#61663a 17.5px 20.0px,#5e633a 20.0px 22.5px,#62663a 22.5px 25.0px,#5a603a 25.0px 27.5px,#505639 27.5px 30.0px,#717439 30.0px 32.5px,#52583a 32.5px 35.0px,#545a3a 35.0px 37.5px,#6e7139 37.5px 40.0px,#787a39 40.0px 42.5px,#6a6e39 42.5px 45.0px,#424838 45.0px 47.5px,#494f39 47.5px 50.0px,#474d39 50.0px 52.5px,#767839 52.5px 55.0px,#777939 55.0px 57.5px,#6e7139 57.5px 60.0px,#717439 60.0px 62.5px,#61653a 62.5px 65.0px,#747639 65.0px 67.5px,#6b6e39 67.5px 70.0px)"></div><div style="position:absolute;left:19.8px;top:28.5px;width:70.0px;height:2.0px;background:linear-gradient(90deg,#2b54d9 0.0px 2.5px,#2b55db 2.5px 5.0px,#2847bc 5.0px 7.5px,#2b54d8 7.5px 10.0px,#2c57df 10.0px 12.5px,#2b54d8 12.5px 15.0px,#2c59e1 15.0px 17.5px,#2b54d7 17.5px 20.0px,#3366fe 20.0px 22.5px,#3265fd 22.5px 25.0px,#2e5cea 25.0px 27.5px,#2e5deb 27.5px 30.0px,#2c58e0 30.0px 32.5px,#2b53d6 32.5px 35.0px,#305ff0 35.0px 37.5px,#2b54d7 37.5px 40.0px,#294dcb 40.0px 42.5px,#2847bc 42.5px 45.0px,#2f5eed 45.0px 47.5px,#2e5ce9 47.5px 50.0px,#2c59e2 50.0px 52.5px,#2c57de 52.5px 55.0px,#2d5ae4 55.0px 57.5px,#2c59e1 57.5px 60.0px,#2c58e0 60.0px 62.5px,#2b53d6 62.5px 65.0px,#2b56db 65.0px 67.5px,#2e5be8 67.5px 70.0px)"></div><div style="position:absolute;left:19.8px;top:30.3px;width:70.0px;height:2.0px;background:linear-gradient(90deg,#294bc6 0.0px 2.5px,#2847bb 2.5px 5.0px,#283e91 5.0px 7.5px,#2a4ecd 7.5px 10.0px,#294ac5 10.0px 12.5px,#294cc9 12.5px 15.0px,#2b53d6 15.0px 17.5px,#2849c3 17.5px 20.0px,#2c58e0 20.0px 22.5px,#2c57de 22.5px 25.0px,#2b55da 25.0px 27.5px,#294dca 27.5px 30.0px,#294dca 30.0px 32.5px,#2b54d9 32.5px 35.0px,#2b55d9 35.0px 37.5px,#2c59e2 37.5px 40.0px,#2843a9 40.0px 42.5px,#2847bc 42.5px 45.0px,#2b54d8 45.0px 47.5px,#2d5be6 47.5px 50.0px,#2b54d8 50.0px 52.5px,#2b56dc 52.5px 55.0px,#2a4ecc 55.0px 57.5px,#2c56dc 57.5px 60.0px,#2b53d5 60.0px 62.5px,#294dca 62.5px 65.0px,#294ecb 65.0px 67.5px,#294ecb 67.5px 70.0px)"></div><div style="position:absolute;left:19.8px;top:32.1px;width:70.0px;height:2.0px;background:linear-gradient(90deg,#2e5deb 0.0px 2.5px,#2b54d8 2.5px 5.0px,#2848bf 5.0px 7.5px,#2c58e0 7.5px 10.0px,#2d5be6 10.0px 12.5px,#2b53d7 12.5px 15.0px,#2d5ae4 15.0px 17.5px,#2e5be8 17.5px 20.0px,#3162f7 20.0px 22.5px,#3264fb 22.5px 25.0px,#2e5be8 25.0px 27.5px,#2d5be6 27.5px 30.0px,#2b55da 30.0px 32.5px,#2d5ae5 32.5px 35.0px,#2f5fef 35.0px 37.5px,#3366ff 37.5px 40.0px,#2c57dd 40.0px 42.5px,#294cc8 42.5px 45.0px,#3265fc 45.0px 47.5px,#3162f7 47.5px 50.0px,#305ff0 50.0px 52.5px,#2f5eed 52.5px 55.0px,#3060f1 55.0px 57.5px,#2d5ae5 57.5px 60.0px,#2e5ce9 60.0px 62.5px,#2e5ce8 62.5px 65.0px,#2f5eee 65.0px 67.5px,#2e5dea 67.5px 70.0px)"></div><div style="position:absolute;left:19.8px;top:33.9px;width:70.0px;height:2.0px;background:linear-gradient(90deg,#2b54d9 0.0px 2.5px,#2d5ae5 2.5px 5.0px,#2a51d2 5.0px 7.5px,#2e5ce9 7.5px 10.0px,#2f5deb 10.0px 12.5px,#2c58e0 12.5px 15.0px,#2f5dec 15.0px 17.5px,#2f5eee 17.5px 20.0px,#3366ff 20.0px 22.5px,#3060f1 22.5px 25.0px,#2d5ae3 25.0px 27.5px,#2e5dea 27.5px 30.0px,#2d59e3 30.0px 32.5px,#2c57de 32.5px 35.0px,#3162f7 35.0px 37.5px,#3163f8 37.5px 40.0px,#2c56dc 40.0px 42.5px,#2b54d8 42.5px 45.0px,#3366ff 45.0px 47.5px,#2f5fef 47.5px 50.0px,#3060f1 50.0px 52.5px,#3263f9 52.5px 55.0px,#3163f8 55.0px 57.5px,#3163f7 57.5px 60.0px,#3061f4 60.0px 62.5px,#2f5eed 62.5px 65.0px,#3161f4 65.0px 67.5px,#3366ff 67.5px 70.0px)"></div><div style="position:absolute;left:19.8px;top:35.7px;width:70.0px;height:2.0px;background:linear-gradient(90deg,#2b55da 0.0px 2.5px,#2c57df 2.5px 5.0px,#284ac3 5.0px 7.5px,#2c59e2 7.5px 10.0px,#2b54d7 10.0px 12.5px,#2b56db 12.5px 15.0px,#2b56db 15.0px 17.5px,#2a52d3 17.5px 20.0px,#2f5fef 20.0px 22.5px,#3161f4 22.5px 25.0px,#2b56db 25.0px 27.5px,#2c57de 27.5px 30.0px,#2b53d6 30.0px 32.5px,#2b55d9 32.5px 35.0px,#2f5eec 35.0px 37.5px,#2d5ae5 37.5px 40.0px,#294ecc 40.0px 42.5px,#2849c2 42.5px 45.0px,#3060f1 45.0px 47.5px,#3162f6 47.5px 50.0px,#2d59e3 50.0px 52.5px,#2e5deb 52.5px 55.0px,#3061f4 55.0px 57.5px,#2b56dc 57.5px 60.0px,#2c56dd 60.0px 62.5px,#2e5ce8 62.5px 65.0px,#2a52d3 65.0px 67.5px,#3162f6 67.5px 70.0px)"></div><div style="position:absolute;left:19.8px;top:37.6px;width:70.0px;height:2.0px;background:linear-gradient(90deg,#294cc8 0.0px 2.5px,#294dc9 2.5px 5.0px,#2846b8 5.0px 7.5px,#2a4fcd 7.5px 10.0px,#294dca 10.0px 12.5px,#2b54d8 12.5px 15.0px,#2c58e0 15.0px 17.5px,#2a4ecc 17.5px 20.0px,#2d5ae4 20.0px 22.5px,#3061f4 22.5px 25.0px,#2d5ae4 25.0px 27.5px,#2b53d7 27.5px 30.0px,#2b53d6 30.0px 32.5px,#2b56db 32.5px 35.0px,#2d5ae4 35.0px 37.5px,#2c58df 37.5px 40.0px,#2b53d6 40.0px 42.5px,#2845b2 42.5px 45.0px,#2e5ce9 45.0px 47.5px,#2d59e2 47.5px 50.0px,#2d5be7 50.0px 52.5px,#2d5ae4 52.5px 55.0px,#2c57de 55.0px 57.5px,#2b54d7 57.5px 60.0px,#2c56dc 60.0px 62.5px,#2b55db 62.5px 65.0px,#294dc9 65.0px 67.5px,#2a52d4 67.5px 70.0px)"></div><div style="position:absolute;left:19.8px;top:39.4px;width:70.0px;height:2.0px;background:linear-gradient(90deg,#2a52d3 0.0px 2.5px,#294ac5 2.5px 5.0px,#2846b4 5.0px 7.5px,#2b55da 7.5px 10.0px,#294bc7 10.0px 12.5px,#294dca 12.5px 15.0px,#2b56dc 15.0px 17.5px,#2a52d4 17.5px 20.0px,#2e5be8 20.0px 22.5px,#3060f2 22.5px 25.0px,#2d5ae5 25.0px 27.5px,#2b52d4 27.5px 30.0px,#2c58e0 30.0px 32.5px,#2d5ae5 32.5px 35.0px,#2f5eee 35.0px 37.5px,#2c58e1 37.5px 40.0px,#2849c1 40.0px 42.5px,#284ac4 42.5px 45.0px,#2c58df 45.0px 47.5px,#2c58e0 47.5px 50.0px,#2b53d6 50.0px 52.5px,#2e5deb 52.5px 55.0px,#2b56db 55.0px 57.5px,#2a50d1 57.5px 60.0px,#2d5be7 60.0px 62.5px,#2e5ce8 62.5px 65.0px,#2a4fcd 65.0px 67.5px,#2c56dc 67.5px 70.0px)"></div><div style="position:absolute;left:19.8px;top:41.2px;width:70.0px;height:2.0px;background:linear-gradient(90deg,#2b53d6 0.0px 2.5px,#2c58e0 2.5px 5.0px,#294bc7 5.0px 7.5px,#2b55da 7.5px 10.0px,#2a51d3 10.0px 12.5px,#2a50d0 12.5px 15.0px,#2b55da 15.0px 17.5px,#2c58df 17.5px 20.0px,#3060f2 20.0px 22.5px,#2e5be7 22.5px 25.0px,#2e5dea 25.0px 27.5px,#2c57de 27.5px 30.0px,#2c57de 30.0px 32.5px,#2b56db 32.5px 35.0px,#2b54d9 35.0px 37.5px,#2d5be6 37.5px 40.0px,#2a51d1 40.0px 42.5px,#294cc8 42.5px 45.0px,#3163f8 45.0px 47.5px,#3060f1 47.5px 50.0px,#3162f7 50.0px 52.5px,#2d5ae5 52.5px 55.0px,#2e5ce8 55.0px 57.5px,#2f5eee 57.5px 60.0px,#2e5cea 60.0px 62.5px,#2b53d6 62.5px 65.0px,#2a51d2 65.0px 67.5px,#2a52d4 67.5px 70.0px)"></div><div style="position:absolute;left:19.8px;top:43.0px;width:70.0px;height:2.0px;background:linear-gradient(90deg,#294ac4 0.0px 2.5px,#294bc6 2.5px 5.0px,#2842a1 5.0px 7.5px,#294cc7 7.5px 10.0px,#294bc6 10.0px 12.5px,#2846b8 12.5px 15.0px,#2b52d4 15.0px 17.5px,#294ecc 17.5px 20.0px,#2b55db 20.0px 22.5px,#2c58e0 22.5px 25.0px,#2a50d0 25.0px 27.5px,#294dcb 27.5px 30.0px,#2845b0 30.0px 32.5px,#2a50d1 32.5px 35.0px,#2a52d3 35.0px 37.5px,#2b53d7 37.5px 40.0px,#2847bd 40.0px 42.5px,#2842a0 42.5px 45.0px,#2c58e0 45.0px 47.5px,#2b53d5 47.5px 50.0px,#2c57df 50.0px 52.5px,#2b53d5 52.5px 55.0px,#2c59e1 55.0px 57.5px,#2b53d5 57.5px 60.0px,#2a50d0 60.0px 62.5px,#2a4ecd 62.5px 65.0px,#294ecb 65.0px 67.5px,#2b54d8 67.5px 70.0px)"></div><div style="position:absolute;left:19.8px;top:44.8px;width:70.0px;height:2.0px;background:linear-gradient(90deg,#2c56dd 0.0px 2.5px,#2c58e1 2.5px 5.0px,#294bc5 5.0px 7.5px,#3162f6 7.5px 10.0px,#2d5be6 10.0px 12.5px,#3060f2 12.5px 15.0px,#2e5be7 15.0px 17.5px,#305ff0 17.5px 20.0px,#3366ff 20.0px 22.5px,#3263f9 22.5px 25.0px,#2f5eee 25.0px 27.5px,#2f5eee 27.5px 30.0px,#2e5be7 30.0px 32.5px,#2d59e2 32.5px 35.0px,#3061f3 35.0px 37.5px,#3161f5 37.5px 40.0px,#2c56dc 40.0px 42.5px,#294dc9 42.5px 45.0px,#3060f3 45.0px 47.5px,#3366ff 47.5px 50.0px,#2f5eed 50.0px 52.5px,#3366fe 52.5px 55.0px,#3365fe 55.0px 57.5px,#3263f9 57.5px 60.0px,#3163f7 60.0px 62.5px,#2e5cea 62.5px 65.0px,#3161f5 65.0px 67.5px,#3366fe 67.5px 70.0px)"></div><div style="position:absolute;left:19.8px;top:46.6px;width:70.0px;height:2.0px;background:linear-gradient(90deg,#2b55d9 0.0px 2.5px,#2a50cf 2.5px 5.0px,#2847bc 5.0px 7.5px,#2c57de 7.5px 10.0px,#2b53d7 10.0px 12.5px,#2a4fcd 12.5px 15.0px,#2c57df 15.0px 17.5px,#2b54d8 17.5px 20.0px,#2e5ce9 20.0px 22.5px,#3162f5 22.5px 25.0px,#2d5be6 25.0px 27.5px,#2c59e2 27.5px 30.0px,#294cc8 30.0px 32.5px,#2b53d5 32.5px 35.0px,#2a51d3 35.0px 37.5px,#2c57de 37.5px 40.0px,#284ac3 40.0px 42.5px,#284ac4 42.5px 45.0px,#3163f7 45.0px 47.5px,#3366fe 47.5px 50.0px,#2c59e1 50.0px 52.5px,#2e5deb 52.5px 55.0px,#305ff0 55.0px 57.5px,#2c58e0 57.5px 60.0px,#2c57df 60.0px 62.5px,#2e5be7 62.5px 65.0px,#2b53d7 65.0px 67.5px,#2b53d6 67.5px 70.0px)"></div><div style="position:absolute;left:19.8px;top:48.4px;width:70.0px;height:2.0px;background:linear-gradient(90deg,#2a4fcf 0.0px 2.5px,#2848bf 2.5px 5.0px,#284ac4 5.0px 7.5px,#2a51d2 7.5px 10.0px,#2a4fce 10.0px 12.5px,#2849c1 12.5px 15.0px,#2c58e0 15.0px 17.5px,#2b54d7 17.5px 20.0px,#2e5ce9 20.0px 22.5px,#2c58e1 22.5px 25.0px,#2c57df 25.0px 27.5px,#2a52d4 27.5px 30.0px,#2a4fcf 30.0px 32.5px,#2b52d5 32.5px 35.0px,#2d5ae5 35.0px 37.5px,#2b55da 37.5px 40.0px,#2848c1 40.0px 42.5px,#2845b0 42.5px 45.0px,#2c58e1 45.0px 47.5px,#2d5be6 47.5px 50.0px,#2c58e1 50.0px 52.5px,#2b55d9 52.5px 55.0px,#2b54d7 55.0px 57.5px,#2b55da 57.5px 60.0px,#2a52d3 60.0px 62.5px,#2a4ecd 62.5px 65.0px,#2a4fcd 65.0px 67.5px,#2b55da 67.5px 70.0px)"></div><div style="position:absolute;left:19.8px;top:50.2px;width:70.0px;height:2.0px;background:linear-gradient(90deg,#2b53d7 0.0px 2.5px,#2c58e0 2.5px 5.0px,#2a4fcd 5.0px 7.5px,#2d5be6 7.5px 10.0px,#2b56db 10.0px 12.5px,#2b56dc 12.5px 15.0px,#3060f2 15.0px 17.5px,#2e5ce8 17.5px 20.0px,#3061f4 20.0px 22.5px,#3366ff 22.5px 25.0px,#2e5deb 25.0px 27.5px,#3061f4 27.5px 30.0px,#2f5fee 30.0px 32.5px,#3060f2 32.5px 35.0px,#3060f1 35.0px 37.5px,#3060f2 37.5px 40.0px,#2f5eee 40.0px 42.5px,#2a50d0 42.5px 45.0px,#3264fa 45.0px 47.5px,#3366ff 47.5px 50.0px,#3060f1 50.0px 52.5px,#3162f6 52.5px 55.0px,#2e5dea 55.0px 57.5px,#3264fa 57.5px 60.0px,#2e5be7 60.0px 62.5px,#3161f4 62.5px 65.0px,#2f5fef 65.0px 67.5px,#2d5ae4 67.5px 70.0px)"></div><div style="position:absolute;left:19.8px;top:52.1px;width:70.0px;height:2.0px;background:linear-gradient(90deg,#2c59e2 0.0px 2.5px,#2e5ce8 2.5px 5.0px,#294cc8 5.0px 7.5px,#2b54d9 7.5px 10.0px,#2c59e2 10.0px 12.5px,#2c59e2 12.5px 15.0px,#2e5dea 15.0px 17.5px,#2e5deb 17.5px 20.0px,#3366ff 20.0px 22.5px,#3264fb 22.5px 25.0px,#2e5deb 25.0px 27.5px,#3163f8 27.5px 30.0px,#3061f3 30.0px 32.5px,#2c59e2 32.5px 35.0px,#3264fa 35.0px 37.5px,#2f5eee 37.5px 40.0px,#2a50cf 40.0px 42.5px,#2a4ecc 42.5px 45.0px,#3264fb 45.0px 47.5px,#3366ff 47.5px 50.0px,#2c59e2 50.0px 52.5px,#2d5be7 52.5px 55.0px,#3163f8 55.0px 57.5px,#3163f8 57.5px 60.0px,#2e5ce9 60.0px 62.5px,#3163f8 62.5px 65.0px,#2c58df 65.0px 67.5px,#2d5be6 67.5px 70.0px)"></div><div style="position:absolute;left:19.8px;top:53.9px;width:70.0px;height:2.0px;background:linear-gradient(90deg,#2f5eec 0.0px 2.5px,#2a52d3 2.5px 5.0px,#2a51d3 5.0px 7.5px,#2e5ce8 7.5px 10.0px,#2e5be8 10.0px 12.5px,#3162f6 12.5px 15.0px,#2e5ce8 15.0px 17.5px,#2c57de 17.5px 20.0px,#3366ff 20.0px 22.5px,#3366ff 22.5px 25.0px,#2c59e2 25.0px 27.5px,#3265fc 27.5px 30.0px,#2e5ce9 30.0px 32.5px,#3162f6 32.5px 35.0px,#3366ff 35.0px 37.5px,#3265fc 37.5px 40.0px,#3060f2 40.0px 42.5px,#2b56db 42.5px 45.0px,#3264fb 45.0px 47.5px,#3366ff 47.5px 50.0px,#3265fc 50.0px 52.5px,#2c58e0 52.5px 55.0px,#3060f2 55.0px 57.5px,#3263f9 57.5px 60.0px,#2e5ce9 60.0px 62.5px,#2e5ce9 62.5px 65.0px,#2e5ce9 65.0px 67.5px,#2f5eed 67.5px 70.0px)"></div><div style="position:absolute;left:19.8px;top:55.7px;width:70.0px;height:2.0px;background:linear-gradient(90deg,#2c57de 0.0px 2.5px,#294cc9 2.5px 5.0px,#284ac4 5.0px 7.5px,#2a52d3 7.5px 10.0px,#2e5deb 10.0px 12.5px,#2d59e3 12.5px 15.0px,#2f5eed 15.0px 17.5px,#2c58df 17.5px 20.0px,#3162f6 20.0px 22.5px,#2f5fef 22.5px 25.0px,#2c58e0 25.0px 27.5px,#2d5be6 27.5px 30.0px,#2b54d8 30.0px 32.5px,#2b56dc 32.5px 35.0px,#2e5ce9 35.0px 37.5px,#3366ff 37.5px 40.0px,#2b53d6 40.0px 42.5px,#2849c2 42.5px 45.0px,#3161f5 45.0px 47.5px,#2e5dea 47.5px 50.0px,#2f5eee 50.0px 52.5px,#2e5ce9 52.5px 55.0px,#3161f4 55.0px 57.5px,#2f5dec 57.5px 60.0px,#2c58df 60.0px 62.5px,#2b54d9 62.5px 65.0px,#2b55d9 65.0px 67.5px,#2d59e3 67.5px 70.0px)"></div><div style="position:absolute;left:19.8px;top:57.5px;width:70.0px;height:2.0px;background:linear-gradient(90deg,#2c57de 0.0px 2.5px,#2a4ecc 2.5px 5.0px,#284ac4 5.0px 7.5px,#2b54d7 7.5px 10.0px,#2b53d6 10.0px 12.5px,#2a4fcf 12.5px 15.0px,#2d5ae5 15.0px 17.5px,#2a52d4 17.5px 20.0px,#305ff0 20.0px 22.5px,#2d5ae4 22.5px 25.0px,#2c57df 25.0px 27.5px,#2c59e1 27.5px 30.0px,#2d5ae5 30.0px 32.5px,#2b52d4 32.5px 35.0px,#2d5ae5 35.0px 37.5px,#3263f8 37.5px 40.0px,#294cc8 40.0px 42.5px,#2847bd 42.5px 45.0px,#2f5fee 45.0px 47.5px,#2d5ae5 47.5px 50.0px,#2d5ae5 50.0px 52.5px,#2d5ae4 52.5px 55.0px,#2d5ae5 55.0px 57.5px,#2f5eee 57.5px 60.0px,#2c57de 60.0px 62.5px,#2d5ae5 62.5px 65.0px,#2b54d8 65.0px 67.5px,#2b55da 67.5px 70.0px)"></div><div style="position:absolute;left:19.8px;top:59.3px;width:70.0px;height:2.0px;background:linear-gradient(90deg,#2b3347 0.0px 2.5px,#505639 2.5px 5.0px,#3a4037 5.0px 7.5px,#3e4438 7.5px 10.0px,#373d37 10.0px 12.5px,#343a37 12.5px 15.0px,#414738 15.0px 17.5px,#2b323d 17.5px 20.0px,#283774 20.0px 22.5px,#2a3354 22.5px 25.0px,#2a334e 25.0px 27.5px,#29345d 27.5px 30.0px,#2b3343 30.0px 32.5px,#2f3536 32.5px 35.0px,#2c3238 35.0px 37.5px,#2b3344 37.5px 40.0px,#2d3336 40.0px 42.5px,#393f37 42.5px 45.0px,#293355 45.0px 47.5px,#283462 47.5px 50.0px,#2b3242 50.0px 52.5px,#333937 52.5px 55.0px,#293359 55.0px 57.5px,#2b3344 57.5px 60.0px,#303636 60.0px 62.5px,#293357 62.5px 65.0px,#2f3536 65.0px 67.5px,#2b323e 67.5px 70.0px)"></div><div style="position:absolute;left:19.8px;top:61.1px;width:70.0px;height:2.0px;background:linear-gradient(90deg,#2b55d9 0.0px 2.5px,#2a52d3 2.5px 5.0px,#2845b2 5.0px 7.5px,#294bc6 7.5px 10.0px,#2a4fce 10.0px 12.5px,#294cc8 12.5px 15.0px,#2c58e1 15.0px 17.5px,#2a50cf 17.5px 20.0px,#2d5be6 20.0px 22.5px,#2d5ae4 22.5px 25.0px,#2d5ae4 25.0px 27.5px,#2b55db 27.5px 30.0px,#2a4fce 30.0px 32.5px,#2a4fcf 32.5px 35.0px,#2c56dd 35.0px 37.5px,#2c57de 37.5px 40.0px,#284ac4 40.0px 42.5px,#2845b2 42.5px 45.0px,#305ff0 45.0px 47.5px,#3162f6 47.5px 50.0px,#2c57de 50.0px 52.5px,#2a51d1 52.5px 55.0px,#2a52d3 55.0px 57.5px,#2b55da 57.5px 60.0px,#2d5ae5 60.0px 62.5px,#2b53d5 62.5px 65.0px,#2b56dc 65.0px 67.5px,#2b53d7 67.5px 70.0px)"></div><div style="position:absolute;left:19.8px;top:62.9px;width:70.0px;height:2.0px;background:linear-gradient(90deg,#2a51d2 0.0px 2.5px,#2d5be6 2.5px 5.0px,#284ac3 5.0px 7.5px,#2e5dea 7.5px 10.0px,#2b56db 10.0px 12.5px,#2c57df 12.5px 15.0px,#3161f4 15.0px 17.5px,#3161f4 17.5px 20.0px,#3163f8 20.0px 22.5px,#3263f9 22.5px 25.0px,#2f5eed 25.0px 27.5px,#2d5ae4 27.5px 30.0px,#2c58e0 30.0px 32.5px,#2c59e1 32.5px 35.0px,#3162f6 35.0px 37.5px,#305ff1 37.5px 40.0px,#2b56db 40.0px 42.5px,#294dc9 42.5px 45.0px,#2e5ce9 45.0px 47.5px,#3264fa 47.5px 50.0px,#2f5eed 50.0px 52.5px,#3366ff 52.5px 55.0px,#2c58e0 55.0px 57.5px,#2e5deb 57.5px 60.0px,#2e5be7 60.0px 62.5px,#2d5be6 62.5px 65.0px,#2d5be6 65.0px 67.5px,#3264fa 67.5px 70.0px)"></div><div style="position:absolute;left:19.8px;top:64.7px;width:70.0px;height:2.0px;background:linear-gradient(90deg,#305ff0 0.0px 2.5px,#2e5ce9 2.5px 5.0px,#2c59e2 5.0px 7.5px,#2f5eec 7.5px 10.0px,#2d5ae5 10.0px 12.5px,#2e5ce9 12.5px 15.0px,#3060f2 15.0px 17.5px,#2b56dc 17.5px 20.0px,#3366ff 20.0px 22.5px,#3366ff 22.5px 25.0px,#2e5deb 25.0px 27.5px,#3162f6 27.5px 30.0px,#2c57de 30.0px 32.5px,#3161f5 32.5px 35.0px,#3163f8 35.0px 37.5px,#2f5deb 37.5px 40.0px,#305ff0 40.0px 42.5px,#2a51d2 42.5px 45.0px,#3264fa 45.0px 47.5px,#3365fd 47.5px 50.0px,#2e5deb 50.0px 52.5px,#3264fa 52.5px 55.0px,#3161f4 55.0px 57.5px,#3264fb 57.5px 60.0px,#2e5deb 60.0px 62.5px,#3264fb 62.5px 65.0px,#2f5fef 65.0px 67.5px,#3263f9 67.5px 70.0px)"></div><div style="position:absolute;left:19.8px;top:66.4px;width:70.0px;height:2.0px;background:linear-gradient(90deg,#2d5ae4 0.0px 2.5px,#2f5eed 2.5px 5.0px,#2b53d6 5.0px 7.5px,#3366ff 7.5px 10.0px,#3161f4 10.0px 12.5px,#3161f5 12.5px 15.0px,#3060f2 15.0px 17.5px,#3365fd 17.5px 20.0px,#3366ff 20.0px 22.5px,#3264fb 22.5px 25.0px,#3061f3 25.0px 27.5px,#3161f4 27.5px 30.0px,#305ff0 30.0px 32.5px,#3263f8 32.5px 35.0px,#3264fa 35.0px 37.5px,#3263f9 37.5px 40.0px,#2b55da 40.0px 42.5px,#2b56dc 42.5px 45.0px,#3366ff 45.0px 47.5px,#3264fb 47.5px 50.0px,#3366ff 50.0px 52.5px,#3366ff 52.5px 55.0px,#3365fd 55.0px 57.5px,#3366ff 57.5px 60.0px,#3060f2 60.0px 62.5px,#3161f4 62.5px 65.0px,#3264fb 65.0px 67.5px,#3365fd 67.5px 70.0px)"></div><div style="position:absolute;left:19.8px;top:68.2px;width:70.0px;height:2.0px;background:linear-gradient(90deg,#2b52d4 0.0px 2.5px,#2f5eed 2.5px 5.0px,#2c56dd 5.0px 7.5px,#2c58e0 7.5px 10.0px,#2b55da 10.0px 12.5px,#2e5ce9 12.5px 15.0px,#2d5ae4 15.0px 17.5px,#2e5deb 17.5px 20.0px,#3366ff 20.0px 22.5px,#3265fd 22.5px 25.0px,#2d5be6 25.0px 27.5px,#2d59e3 27.5px 30.0px,#2e5ce9 30.0px 32.5px,#3162f5 32.5px 35.0px,#3060f1 35.0px 37.5px,#3163f8 37.5px 40.0px,#2d5ae5 40.0px 42.5px,#2a51d3 42.5px 45.0px,#3162f7 45.0px 47.5px,#3366ff 47.5px 50.0px,#3162f7 50.0px 52.5px,#2d5be6 52.5px 55.0px,#3162f7 55.0px 57.5px,#2d5ae5 57.5px 60.0px,#3366ff 60.0px 62.5px,#3162f6 62.5px 65.0px,#2e5dea 65.0px 67.5px,#3263f9 67.5px 70.0px)"></div><div style="position:absolute;left:19.8px;top:70.0px;width:70.0px;height:2.0px;background:linear-gradient(90deg,#2c56dc 0.0px 2.5px,#2d5be6 2.5px 5.0px,#2847bc 5.0px 7.5px,#2a52d3 7.5px 10.0px,#2e5deb 10.0px 12.5px,#2c58e1 12.5px 15.0px,#3060f1 15.0px 17.5px,#2d5ae5 17.5px 20.0px,#3162f7 20.0px 22.5px,#3162f6 22.5px 25.0px,#2b56dc 25.0px 27.5px,#2c57dd 27.5px 30.0px,#2c59e1 30.0px 32.5px,#2c58df 32.5px 35.0px,#2d5be6 35.0px 37.5px,#3263f9 37.5px 40.0px,#2b53d6 40.0px 42.5px,#2b53d6 42.5px 45.0px,#2e5be7 45.0px 47.5px,#2e5ce9 47.5px 50.0px,#2e5be7 50.0px 52.5px,#2c57dd 52.5px 55.0px,#2f5fef 55.0px 57.5px,#3060f1 57.5px 60.0px,#2c57dd 60.0px 62.5px,#2d5ae5 62.5px 65.0px,#2c58df 65.0px 67.5px,#3061f3 67.5px 70.0px)"></div><div style="position:absolute;left:19.8px;top:71.8px;width:70.0px;height:2.0px;background:linear-gradient(90deg,#2b53d7 0.0px 2.5px,#2b52d5 2.5px 5.0px,#2a4fce 5.0px 7.5px,#2c58e1 7.5px 10.0px,#2b55da 10.0px 12.5px,#2b53d6 12.5px 15.0px,#2b53d6 15.0px 17.5px,#2e5ce9 17.5px 20.0px,#3163f8 20.0px 22.5px,#3161f5 22.5px 25.0px,#2d5ae4 25.0px 27.5px,#2d5be7 27.5px 30.0px,#2c59e1 30.0px 32.5px,#2c59e2 32.5px 35.0px,#2c58e1 35.0px 37.5px,#2e5ce9 37.5px 40.0px,#2b54d7 40.0px 42.5px,#2849c2 42.5px 45.0px,#2e5ce8 45.0px 47.5px,#3061f4 47.5px 50.0px,#2b55d9 50.0px 52.5px,#2e5be8 52.5px 55.0px,#2f5eee 55.0px 57.5px,#2c58e1 57.5px 60.0px,#2e5ce8 60.0px 62.5px,#2d5be6 62.5px 65.0px,#2a50d0 65.0px 67.5px,#2d5be6 67.5px 70.0px)"></div><div style="position:absolute;left:19.8px;top:73.6px;width:70.0px;height:2.0px;background:linear-gradient(90deg,#2e5cea 0.0px 2.5px,#2e5dea 2.5px 5.0px,#2e5dea 5.0px 7.5px,#3061f3 7.5px 10.0px,#2e5ce8 10.0px 12.5px,#305ff0 12.5px 15.0px,#3060f1 15.0px 17.5px,#3263f9 17.5px 20.0px,#3264fb 20.0px 22.5px,#3366ff 22.5px 25.0px,#3263f9 25.0px 27.5px,#3366ff 27.5px 30.0px,#2d5ae5 30.0px 32.5px,#3060f1 32.5px 35.0px,#3265fc 35.0px 37.5px,#3163f8 37.5px 40.0px,#2d5be6 40.0px 42.5px,#2c58df 42.5px 45.0px,#3264fb 45.0px 47.5px,#3366ff 47.5px 50.0px,#305ff0 50.0px 52.5px,#2d5ae5 52.5px 55.0px,#3366ff 55.0px 57.5px,#3263f9 57.5px 60.0px,#3264fa 60.0px 62.5px,#2f5eee 62.5px 65.0px,#3366ff 65.0px 67.5px,#2d5be6 67.5px 70.0px)"></div><div style="position:absolute;left:19.8px;top:75.3px;width:70.0px;height:2.0px;background:linear-gradient(90deg,#294ac4 0.0px 2.5px,#294dca 2.5px 5.0px,#2a4ecd 5.0px 7.5px,#2b56db 7.5px 10.0px,#294cc9 10.0px 12.5px,#2a4fcd 12.5px 15.0px,#2d5ae5 15.0px 17.5px,#2b54d8 17.5px 20.0px,#2c58e1 20.0px 22.5px,#2c59e2 22.5px 25.0px,#2c58e0 25.0px 27.5px,#2b56dc 27.5px 30.0px,#2a51d3 30.0px 32.5px,#2c57dd 32.5px 35.0px,#2d5ae5 35.0px 37.5px,#2c56dd 37.5px 40.0px,#2a50cf 40.0px 42.5px,#294bc7 42.5px 45.0px,#2c58df 45.0px 47.5px,#2c59e2 47.5px 50.0px,#2c57dd 50.0px 52.5px,#2d5ae5 52.5px 55.0px,#2f5dec 55.0px 57.5px,#2f5dec 57.5px 60.0px,#2d5be6 60.0px 62.5px,#2b55db 62.5px 65.0px,#2d5ae5 65.0px 67.5px,#2e5ce8 67.5px 70.0px)"></div><div style="position:absolute;left:19.8px;top:77.1px;width:70.0px;height:2.0px;background:linear-gradient(90deg,#2e5cea 0.0px 2.5px,#2f5eed 2.5px 5.0px,#2a4fce 5.0px 7.5px,#2d5ae5 7.5px 10.0px,#2f5dec 10.0px 12.5px,#2f5eee 12.5px 15.0px,#2f5eec 15.0px 17.5px,#3162f7 17.5px 20.0px,#3264fa 20.0px 22.5px,#3366ff 22.5px 25.0px,#3162f6 25.0px 27.5px,#3060f2 27.5px 30.0px,#2f5dec 30.0px 32.5px,#3366fe 32.5px 35.0px,#3366ff 35.0px 37.5px,#3263f9 37.5px 40.0px,#3060f2 40.0px 42.5px,#2a4fce 42.5px 45.0px,#3366ff 45.0px 47.5px,#3366ff 47.5px 50.0px,#2c59e2 50.0px 52.5px,#3263f9 52.5px 55.0px,#3263f9 55.0px 57.5px,#3161f4 57.5px 60.0px,#3163f8 60.0px 62.5px,#3264fb 62.5px 65.0px,#3265fc 65.0px 67.5px,#3162f5 67.5px 70.0px)"></div><div style="position:absolute;left:19.8px;top:78.9px;width:70.0px;height:2.0px;background:linear-gradient(90deg,#2b53d7 0.0px 2.5px,#2c57de 2.5px 5.0px,#294dcb 5.0px 7.5px,#2f5fee 7.5px 10.0px,#2d5ae5 10.0px 12.5px,#2c58df 12.5px 15.0px,#2f5eee 15.0px 17.5px,#2c59e1 17.5px 20.0px,#3264fb 20.0px 22.5px,#3264fb 22.5px 25.0px,#2d5be6 25.0px 27.5px,#3161f4 27.5px 30.0px,#2a4fce 30.0px 32.5px,#3060f1 32.5px 35.0px,#2d5ae4 35.0px 37.5px,#2d5ae5 37.5px 40.0px,#2c57dd 40.0px 42.5px,#2a50cf 42.5px 45.0px,#2f5eed 45.0px 47.5px,#3161f4 47.5px 50.0px,#2e5ce9 50.0px 52.5px,#305ff0 52.5px 55.0px,#2f5eed 55.0px 57.5px,#3061f3 57.5px 60.0px,#3162f6 60.0px 62.5px,#2f5deb 62.5px 65.0px,#2c58e1 65.0px 67.5px,#2e5deb 67.5px 70.0px)"></div><div style="position:absolute;left:19.8px;top:80.7px;width:70.0px;height:2.0px;background:linear-gradient(90deg,#2c57dd 0.0px 2.5px,#2b53d7 2.5px 5.0px,#2a50d0 5.0px 7.5px,#2c58e0 7.5px 10.0px,#2b55da 10.0px 12.5px,#2c59e2 12.5px 15.0px,#2b54d8 15.0px 17.5px,#2f5fef 17.5px 20.0px,#2f5deb 20.0px 22.5px,#3061f4 22.5px 25.0px,#2b55da 25.0px 27.5px,#2e5ce8 27.5px 30.0px,#2b53d5 30.0px 32.5px,#2d5be6 32.5px 35.0px,#2f5fee 35.0px 37.5px,#2f5deb 37.5px 40.0px,#2a52d4 40.0px 42.5px,#2a52d3 42.5px 45.0px,#2d5ae4 45.0px 47.5px,#3263f9 47.5px 50.0px,#2e5ce9 50.0px 52.5px,#2d5be6 52.5px 55.0px,#2f5deb 55.0px 57.5px,#2c58e0 57.5px 60.0px,#2f5eed 60.0px 62.5px,#2b55db 62.5px 65.0px,#2b53d6 65.0px 67.5px,#2d5be6 67.5px 70.0px)"></div><div style="position:absolute;left:19.8px;top:82.5px;width:70.0px;height:2.0px;background:linear-gradient(90deg,#2a52d3 0.0px 2.5px,#294dc9 2.5px 5.0px,#2849c1 5.0px 7.5px,#2d5ae4 7.5px 10.0px,#2b55da 10.0px 12.5px,#294bc5 12.5px 15.0px,#2b55d9 15.0px 17.5px,#2c58df 17.5px 20.0px,#2c56dd 20.0px 22.5px,#2e5ce8 22.5px 25.0px,#2a51d2 25.0px 27.5px,#2b52d5 27.5px 30.0px,#2847bc 30.0px 32.5px,#2c58e0 32.5px 35.0px,#2a52d3 35.0px 37.5px,#2847b9 37.5px 40.0px,#2848c0 40.0px 42.5px,#2845b3 42.5px 45.0px,#2b55db 45.0px 47.5px,#2b53d6 47.5px 50.0px,#2a50d0 50.0px 52.5px,#2a4fce 52.5px 55.0px,#2c58e0 55.0px 57.5px,#2b52d5 57.5px 60.0px,#2a4fce 60.0px 62.5px,#2a4fcf 62.5px 65.0px,#294cc7 65.0px 67.5px,#294dca 67.5px 70.0px)"></div><div style="position:absolute;left:19.8px;top:84.2px;width:70.0px;height:2.0px;background:linear-gradient(90deg,#2a4ecd 0.0px 2.5px,#294cc8 2.5px 5.0px,#2848c1 5.0px 7.5px,#2b53d6 7.5px 10.0px,#294dc9 10.0px 12.5px,#2b55da 12.5px 15.0px,#2a4fcf 15.0px 17.5px,#2c57dd 17.5px 20.0px,#2d5be6 20.0px 22.5px,#2f5eec 22.5px 25.0px,#2c57de 25.0px 27.5px,#2b52d5 27.5px 30.0px,#2c57df 30.0px 32.5px,#294dc9 32.5px 35.0px,#2e5dea 35.0px 37.5px,#2b54d8 37.5px 40.0px,#294dcb 40.0px 42.5px,#2849c2 42.5px 45.0px,#2c58e0 45.0px 47.5px,#2b55da 47.5px 50.0px,#2b55da 50.0px 52.5px,#2c58e1 52.5px 55.0px,#2c57df 55.0px 57.5px,#2b52d5 57.5px 60.0px,#2d59e2 60.0px 62.5px,#2b52d5 62.5px 65.0px,#294dca 65.0px 67.5px,#2c58e0 67.5px 70.0px)"></div><div style="position:absolute;left:19.8px;top:86.0px;width:70.0px;height:2.0px;background:linear-gradient(90deg,#2b55da 0.0px 2.5px,#2d5ae4 2.5px 5.0px,#2a50d0 5.0px 7.5px,#2e5ce8 7.5px 10.0px,#2c58e0 10.0px 12.5px,#2f5deb 12.5px 15.0px,#3163f8 15.0px 17.5px,#2c57dd 17.5px 20.0px,#3366fe 20.0px 22.5px,#3366ff 22.5px 25.0px,#2d59e2 25.0px 27.5px,#305ff0 27.5px 30.0px,#2d5ae5 30.0px 32.5px,#305ff0 32.5px 35.0px,#3060f2 35.0px 37.5px,#2f5eee 37.5px 40.0px,#2a51d3 40.0px 42.5px,#2a4ecc 42.5px 45.0px,#3366fe 45.0px 47.5px,#3264fa 47.5px 50.0px,#2e5ce8 50.0px 52.5px,#3161f4 52.5px 55.0px,#3263f8 55.0px 57.5px,#3060f2 57.5px 60.0px,#2d5ae4 60.0px 62.5px,#3060f3 62.5px 65.0px,#2c58e0 65.0px 67.5px,#2e5be7 67.5px 70.0px)"></div><div style="position:absolute;left:19.8px;top:87.8px;width:70.0px;height:2.0px;background:linear-gradient(90deg,#3060f2 0.0px 2.5px,#2e5ce8 2.5px 5.0px,#2b55da 5.0px 7.5px,#3060f1 7.5px 10.0px,#2e5ce8 10.0px 12.5px,#2b53d6 12.5px 15.0px,#2e5cea 15.0px 17.5px,#2d59e3 17.5px 20.0px,#3366fe 20.0px 22.5px,#3161f5 22.5px 25.0px,#3162f5 25.0px 27.5px,#2f5fef 27.5px 30.0px,#2c58e0 30.0px 32.5px,#2b56db 32.5px 35.0px,#3060f1 35.0px 37.5px,#3162f6 37.5px 40.0px,#2c59e2 40.0px 42.5px,#2c58e1 42.5px 45.0px,#3162f6 45.0px 47.5px,#305ff0 47.5px 50.0px,#2f5fef 50.0px 52.5px,#3161f4 52.5px 55.0px,#3263f9 55.0px 57.5px,#3365fd 57.5px 60.0px,#2e5ce8 60.0px 62.5px,#305ff0 62.5px 65.0px,#2d59e3 65.0px 67.5px,#3264fa 67.5px 70.0px)"></div><div style="position:absolute;left:19.8px;top:89.6px;width:70.0px;height:2.0px;background:linear-gradient(90deg,#2a50cf 0.0px 2.5px,#2b53d5 2.5px 5.0px,#294dc9 5.0px 7.5px,#294ac5 7.5px 10.0px,#294dc9 10.0px 12.5px,#2a4ecc 12.5px 15.0px,#2d5ae5 15.0px 17.5px,#2a50cf 17.5px 20.0px,#2e5be8 20.0px 22.5px,#2c57df 22.5px 25.0px,#2c58df 25.0px 27.5px,#2c59e2 27.5px 30.0px,#2c58e0 30.0px 32.5px,#2e5ce8 32.5px 35.0px,#3060f2 35.0px 37.5px,#2e5ce9 37.5px 40.0px,#2a50d0 40.0px 42.5px,#2847b9 42.5px 45.0px,#2b55d9 45.0px 47.5px,#305ff1 47.5px 50.0px,#3161f5 50.0px 52.5px,#2c58e0 52.5px 55.0px,#2d59e3 55.0px 57.5px,#2e5be7 57.5px 60.0px,#2e5ce9 60.0px 62.5px,#2d5ae4 62.5px 65.0px,#2b55da 65.0px 67.5px,#2c58e1 67.5px 70.0px)"></div><div style="position:absolute;left:19.8px;top:91.4px;width:70.0px;height:2.0px;background:linear-gradient(90deg,#3162f6 0.0px 2.5px,#3264fb 2.5px 5.0px,#2f5eec 5.0px 7.5px,#3263f9 7.5px 10.0px,#3265fd 10.0px 12.5px,#3161f4 12.5px 15.0px,#3366ff 15.0px 17.5px,#3162f6 17.5px 20.0px,#3366ff 20.0px 22.5px,#3366ff 22.5px 25.0px,#3366ff 25.0px 27.5px,#3366ff 27.5px 30.0px,#3366ff 30.0px 32.5px,#2f5eed 32.5px 35.0px,#3366ff 35.0px 37.5px,#3366ff 37.5px 40.0px,#3161f4 40.0px 42.5px,#2f5dec 42.5px 45.0px,#3366ff 45.0px 47.5px,#3366ff 47.5px 50.0px,#3264fa 50.0px 52.5px,#3366ff 52.5px 55.0px,#3366ff 55.0px 57.5px,#3366ff 57.5px 60.0px,#3365fe 60.0px 62.5px,#3366ff 62.5px 65.0px,#3061f4 65.0px 67.5px,#3061f3 67.5px 70.0px)"></div><div style="position:absolute;left:19.8px;top:93.1px;width:70.0px;height:2.0px;background:linear-gradient(90deg,#2e5cea 0.0px 2.5px,#2c57de 2.5px 5.0px,#2c56dc 5.0px 7.5px,#3162f6 7.5px 10.0px,#3265fd 10.0px 12.5px,#2f5eed 12.5px 15.0px,#2e5be8 15.0px 17.5px,#3060f2 17.5px 20.0px,#3366ff 20.0px 22.5px,#3366ff 22.5px 25.0px,#3061f3 25.0px 27.5px,#3060f3 27.5px 30.0px,#2f5fef 30.0px 32.5px,#3060f1 32.5px 35.0px,#3366ff 35.0px 37.5px,#3366fe 37.5px 40.0px,#2b54d8 40.0px 42.5px,#2d59e3 42.5px 45.0px,#305ff0 45.0px 47.5px,#3366ff 47.5px 50.0px,#2e5cea 50.0px 52.5px,#3161f5 52.5px 55.0px,#3060f2 55.0px 57.5px,#3162f7 57.5px 60.0px,#2f5fef 60.0px 62.5px,#2c56dc 62.5px 65.0px,#3366ff 65.0px 67.5px,#3163f8 67.5px 70.0px)"></div><div style="position:absolute;left:19.8px;top:94.9px;width:70.0px;height:2.0px;background:linear-gradient(90deg,#2a4fce 0.0px 2.5px,#2d59e3 2.5px 5.0px,#294dc9 5.0px 7.5px,#2b54d8 7.5px 10.0px,#2c58e0 10.0px 12.5px,#2b56dc 12.5px 15.0px,#2d59e2 15.0px 17.5px,#2b54d7 17.5px 20.0px,#2f5eee 20.0px 22.5px,#2f5eee 22.5px 25.0px,#2e5ce8 25.0px 27.5px,#2e5ce8 27.5px 30.0px,#294dca 30.0px 32.5px,#2e5deb 32.5px 35.0px,#2f5dec 35.0px 37.5px,#2f5fef 37.5px 40.0px,#2a52d4 40.0px 42.5px,#2a52d3 42.5px 45.0px,#2e5ce8 45.0px 47.5px,#3162f6 47.5px 50.0px,#2f5dec 50.0px 52.5px,#3061f3 52.5px 55.0px,#2f5eee 55.0px 57.5px,#3162f5 57.5px 60.0px,#2e5ce8 60.0px 62.5px,#2c57df 62.5px 65.0px,#2f5eed 65.0px 67.5px,#2b53d7 67.5px 70.0px)"></div><div style="position:absolute;left:19.8px;top:96.7px;width:70.0px;height:2.0px;background:linear-gradient(90deg,#2a52d3 0.0px 2.5px,#2b53d6 2.5px 5.0px,#2847bb 5.0px 7.5px,#2b53d6 7.5px 10.0px,#2b55da 10.0px 12.5px,#2b53d5 12.5px 15.0px,#2c57de 15.0px 17.5px,#2c59e1 17.5px 20.0px,#2c58e1 20.0px 22.5px,#3163f7 22.5px 25.0px,#2b55da 25.0px 27.5px,#2d5be7 27.5px 30.0px,#2b54d8 30.0px 32.5px,#2c57dd 32.5px 35.0px,#2c59e2 35.0px 37.5px,#2b54d8 37.5px 40.0px,#2a51d3 40.0px 42.5px,#2849c2 42.5px 45.0px,#2d5ae5 45.0px 47.5px,#2e5ce9 47.5px 50.0px,#2f5deb 50.0px 52.5px,#2c59e2 52.5px 55.0px,#3060f3 55.0px 57.5px,#2b55da 57.5px 60.0px,#2b52d4 60.0px 62.5px,#2b56dc 62.5px 65.0px,#2b53d6 65.0px 67.5px,#2c59e1 67.5px 70.0px)"></div><div style="position:absolute;left:19.8px;top:98.5px;width:70.0px;height:2.0px;background:linear-gradient(90deg,#3263f9 0.0px 2.5px,#2f5eec 2.5px 5.0px,#2d5be6 5.0px 7.5px,#3366ff 7.5px 10.0px,#3366ff 10.0px 12.5px,#2f5fef 12.5px 15.0px,#3060f2 15.0px 17.5px,#2f5eed 17.5px 20.0px,#3163f8 20.0px 22.5px,#3366ff 22.5px 25.0px,#3365fe 25.0px 27.5px,#3264fa 27.5px 30.0px,#3265fc 30.0px 32.5px,#3264fa 32.5px 35.0px,#3264fb 35.0px 37.5px,#3366ff 37.5px 40.0px,#2e5deb 40.0px 42.5px,#2f5fef 42.5px 45.0px,#3366ff 45.0px 47.5px,#3366ff 47.5px 50.0px,#3366fe 50.0px 52.5px,#3366fe 52.5px 55.0px,#3366ff 55.0px 57.5px,#3366ff 57.5px 60.0px,#3265fc 60.0px 62.5px,#3366ff 62.5px 65.0px,#3264fa 65.0px 67.5px,#3366ff 67.5px 70.0px)"></div><div style="position:absolute;left:19.8px;top:100.3px;width:70.0px;height:2.0px;background:linear-gradient(90deg,#2e5ce9 0.0px 2.5px,#2b56dc 2.5px 5.0px,#294bc7 5.0px 7.5px,#2b55db 7.5px 10.0px,#2d5ae4 10.0px 12.5px,#2b52d5 12.5px 15.0px,#2d5be6 15.0px 17.5px,#2b54d9 17.5px 20.0px,#3162f6 20.0px 22.5px,#3366ff 22.5px 25.0px,#2d5be7 25.0px 27.5px,#305ff0 27.5px 30.0px,#2e5ce9 30.0px 32.5px,#3162f6 32.5px 35.0px,#2f5dec 35.0px 37.5px,#2d5ae4 37.5px 40.0px,#2d59e2 40.0px 42.5px,#2a51d2 42.5px 45.0px,#3366ff 45.0px 47.5px,#3060f2 47.5px 50.0px,#2d59e3 50.0px 52.5px,#2f5dec 52.5px 55.0px,#2e5ce9 55.0px 57.5px,#2e5be7 57.5px 60.0px,#2f5dec 60.0px 62.5px,#2c58e1 62.5px 65.0px,#3060f2 65.0px 67.5px,#2f5eec 67.5px 70.0px)"></div><div style="position:absolute;left:19.8px;top:102.0px;width:70.0px;height:2.0px;background:linear-gradient(90deg,#2b54d8 0.0px 2.5px,#2a50d1 2.5px 5.0px,#2a4fce 5.0px 7.5px,#2e5cea 7.5px 10.0px,#2d59e2 10.0px 12.5px,#2c59e2 12.5px 15.0px,#2f5fef 15.0px 17.5px,#2f5fee 17.5px 20.0px,#3060f2 20.0px 22.5px,#3366ff 22.5px 25.0px,#2d5be6 25.0px 27.5px,#2e5be8 27.5px 30.0px,#2c58e0 30.0px 32.5px,#2b56db 32.5px 35.0px,#2e5ce9 35.0px 37.5px,#2f5deb 37.5px 40.0px,#294ecb 40.0px 42.5px,#2a51d2 42.5px 45.0px,#3265fc 45.0px 47.5px,#3163f8 47.5px 50.0px,#2d59e2 50.0px 52.5px,#3060f2 52.5px 55.0px,#3161f5 55.0px 57.5px,#2e5be8 57.5px 60.0px,#2b52d5 60.0px 62.5px,#2e5ce9 62.5px 65.0px,#2b55da 65.0px 67.5px,#2c57dd 67.5px 70.0px)"></div><div style="position:absolute;left:19.8px;top:103.8px;width:70.0px;height:2.0px;background:linear-gradient(90deg,#2f5dec 0.0px 2.5px,#2d5be7 2.5px 5.0px,#2b56dc 5.0px 7.5px,#2f5deb 7.5px 10.0px,#3060f1 10.0px 12.5px,#2e5cea 12.5px 15.0px,#3060f1 15.0px 17.5px,#2b55db 17.5px 20.0px,#3366ff 20.0px 22.5px,#3265fd 22.5px 25.0px,#3161f5 25.0px 27.5px,#3060f1 27.5px 30.0px,#2f5dec 30.0px 32.5px,#3061f3 32.5px 35.0px,#3162f6 35.0px 37.5px,#3265fc 37.5px 40.0px,#2c58df 40.0px 42.5px,#2a50d0 42.5px 45.0px,#3162f6 45.0px 47.5px,#3264fc 47.5px 50.0px,#2f5eee 50.0px 52.5px,#3161f4 52.5px 55.0px,#3060f2 55.0px 57.5px,#2c57de 57.5px 60.0px,#2f5fee 60.0px 62.5px,#2c57de 62.5px 65.0px,#2d5be6 65.0px 67.5px,#3162f6 67.5px 70.0px)"></div><div style="position:absolute;left:19.8px;top:105.6px;width:70.0px;height:2.0px;background:linear-gradient(90deg,#2d5ae5 0.0px 2.5px,#2b53d6 2.5px 5.0px,#2849c1 5.0px 7.5px,#2c57dd 7.5px 10.0px,#2b53d6 10.0px 12.5px,#2c57dd 12.5px 15.0px,#2e5cea 15.0px 17.5px,#305ff0 17.5px 20.0px,#2f5fef 20.0px 22.5px,#2f5dec 22.5px 25.0px,#2c57dd 25.0px 27.5px,#2e5ce8 27.5px 30.0px,#2b55d9 30.0px 32.5px,#2c57de 32.5px 35.0px,#2d5ae5 35.0px 37.5px,#3060f1 37.5px 40.0px,#2c58e0 40.0px 42.5px,#2c57de 42.5px 45.0px,#3061f3 45.0px 47.5px,#3162f6 47.5px 50.0px,#305ff0 50.0px 52.5px,#2e5be7 52.5px 55.0px,#3162f7 55.0px 57.5px,#2e5ce8 57.5px 60.0px,#2b56db 60.0px 62.5px,#2d5be6 62.5px 65.0px,#305ff0 65.0px 67.5px,#2e5ce9 67.5px 70.0px)"></div><div style="position:absolute;left:19.8px;top:107.4px;width:70.0px;height:2.0px;background:linear-gradient(90deg,#2e5be8 0.0px 2.5px,#2e5ce8 2.5px 5.0px,#2c56dc 5.0px 7.5px,#2e5dea 7.5px 10.0px,#2c58e0 10.0px 12.5px,#2e5deb 12.5px 15.0px,#3060f1 15.0px 17.5px,#3264fa 17.5px 20.0px,#2f5eee 20.0px 22.5px,#3366ff 22.5px 25.0px,#305ff0 25.0px 27.5px,#3365fd 27.5px 30.0px,#2d5be6 30.0px 32.5px,#3162f5 32.5px 35.0px,#3162f5 35.0px 37.5px,#3265fc 37.5px 40.0px,#2d5ae5 40.0px 42.5px,#2c56dc 42.5px 45.0px,#3366ff 45.0px 47.5px,#3366ff 47.5px 50.0px,#3264fb 50.0px 52.5px,#3162f7 52.5px 55.0px,#3264fb 55.0px 57.5px,#3366fe 57.5px 60.0px,#3060f2 60.0px 62.5px,#2f5deb 62.5px 65.0px,#2f5dec 65.0px 67.5px,#3366ff 67.5px 70.0px)"></div><div style="position:absolute;left:19.8px;top:109.2px;width:70.0px;height:2.0px;background:linear-gradient(90deg,#2a52d4 0.0px 2.5px,#2d5be6 2.5px 5.0px,#2849c1 5.0px 7.5px,#3060f2 7.5px 10.0px,#2b54d9 10.0px 12.5px,#2b53d7 12.5px 15.0px,#2b55da 15.0px 17.5px,#2a52d4 17.5px 20.0px,#2f5eee 20.0px 22.5px,#2e5dea 22.5px 25.0px,#2b53d6 25.0px 27.5px,#2b53d6 27.5px 30.0px,#2b55da 30.0px 32.5px,#2b55da 32.5px 35.0px,#3060f2 35.0px 37.5px,#305ff0 37.5px 40.0px,#294dc9 40.0px 42.5px,#294cc8 42.5px 45.0px,#3162f7 45.0px 47.5px,#3060f2 47.5px 50.0px,#3161f5 50.0px 52.5px,#2e5be8 52.5px 55.0px,#2d59e3 55.0px 57.5px,#3162f6 57.5px 60.0px,#2d5be6 60.0px 62.5px,#2c58e0 62.5px 65.0px,#2c58e1 65.0px 67.5px,#2d5ae5 67.5px 70.0px)"></div><div style="position:absolute;left:19.8px;top:110.9px;width:70.0px;height:2.0px;background:linear-gradient(90deg,#2f5fef 0.0px 2.5px,#2e5be7 2.5px 5.0px,#2e5be7 5.0px 7.5px,#2f5fee 7.5px 10.0px,#3162f6 10.0px 12.5px,#305ff0 12.5px 15.0px,#2e5be7 15.0px 17.5px,#3060f1 17.5px 20.0px,#3366ff 20.0px 22.5px,#3263f9 22.5px 25.0px,#3162f7 25.0px 27.5px,#3163f7 27.5px 30.0px,#2f5deb 30.0px 32.5px,#2e5cea 32.5px 35.0px,#3366fe 35.0px 37.5px,#3263f8 37.5px 40.0px,#3060f2 40.0px 42.5px,#2d5ae5 42.5px 45.0px,#3365fd 45.0px 47.5px,#3366ff 47.5px 50.0px,#3061f4 50.0px 52.5px,#2f5fef 52.5px 55.0px,#3366ff 55.0px 57.5px,#3161f4 57.5px 60.0px,#3061f3 60.0px 62.5px,#3061f4 62.5px 65.0px,#2f5eed 65.0px 67.5px,#3264fb 67.5px 70.0px)"></div><div style="position:absolute;left:19.8px;top:112.7px;width:70.0px;height:2.0px;background:linear-gradient(90deg,#2b55da 0.0px 2.5px,#294dca 2.5px 5.0px,#2b55da 5.0px 7.5px,#2e5ce8 7.5px 10.0px,#2b54d9 10.0px 12.5px,#2b52d4 12.5px 15.0px,#2f5fef 15.0px 17.5px,#2e5ce9 17.5px 20.0px,#3162f6 20.0px 22.5px,#2f5fef 22.5px 25.0px,#2e5deb 25.0px 27.5px,#2c57de 27.5px 30.0px,#2a50d1 30.0px 32.5px,#2d59e3 32.5px 35.0px,#2c58e0 35.0px 37.5px,#3162f7 37.5px 40.0px,#2c57de 40.0px 42.5px,#294cc8 42.5px 45.0px,#2e5be7 45.0px 47.5px,#3265fc 47.5px 50.0px,#2f5dec 50.0px 52.5px,#2d5ae4 52.5px 55.0px,#2f5deb 55.0px 57.5px,#2f5fef 57.5px 60.0px,#2e5be7 60.0px 62.5px,#2c56dd 62.5px 65.0px,#2d5ae4 65.0px 67.5px,#3060f1 67.5px 70.0px)"></div><div style="position:absolute;left:19.8px;top:114.5px;width:70.0px;height:2.4px;background:linear-gradient(90deg,#b4b138 0.0px 2.5px,#939338 2.5px 5.0px,#cdc539 5.0px 7.5px,#cdc539 7.5px 10.0px,#d3cb3b 10.0px 12.5px,#d0c83a 12.5px 15.0px,#b7b338 15.0px 17.5px,#c1bb38 17.5px 20.0px,#b8b438 20.0px 22.5px,#d1c93a 22.5px 25.0px,#bfb938 25.0px 27.5px,#969638 27.5px 30.0px,#d1c93a 30.0px 32.5px,#bdb838 32.5px 35.0px,#b1af38 35.0px 37.5px,#afad38 37.5px 40.0px,#d1c93a 40.0px 42.5px,#c7bf38 42.5px 45.0px,#b7b338 45.0px 47.5px,#b0ae38 47.5px 50.0px,#c9c138 50.0px 52.5px,#9d9d38 52.5px 55.0px,#bcb738 55.0px 57.5px,#bfba38 57.5px 60.0px,#b6b338 60.0px 62.5px,#d7cf3c 62.5px 65.0px,#ddd53d 65.0px 67.5px,#b1af38 67.5px 70.0px)"></div><div style="position:absolute;left:19.8px;top:116.7px;width:70.0px;height:2.0px;background:linear-gradient(90deg,#474d39 0.0px 2.5px,#717439 2.5px 5.0px,#727539 5.0px 7.5px,#464c38 7.5px 10.0px,#5c613a 10.0px 12.5px,#575d3a 12.5px 15.0px,#434938 15.0px 17.5px,#3b4137 17.5px 20.0px,#3b4137 20.0px 22.5px,#4b5139 22.5px 25.0px,#575d3a 25.0px 27.5px,#4e5439 27.5px 30.0px,#555b3a 30.0px 32.5px,#404638 32.5px 35.0px,#3d4338 35.0px 37.5px,#454b38 37.5px 40.0px,#52583a 40.0px 42.5px,#4f5539 42.5px 45.0px,#2f3536 45.0px 47.5px,#4e5439 47.5px 50.0px,#444a38 50.0px 52.5px,#4c5239 52.5px 55.0px,#353b37 55.0px 57.5px,#343a37 57.5px 60.0px,#53593a 60.0px 62.5px,#4e5439 62.5px 65.0px,#595f3a 65.0px 67.5px,#3c4238 67.5px 70.0px)"></div><div style="position:absolute;left:19.8px;top:118.5px;width:70.0px;height:1.9px;background:linear-gradient(90deg,#284ac3 0.0px 2.5px,#2b55db 2.5px 5.0px,#283878 5.0px 7.5px,#284096 7.5px 10.0px,#2f5fef 10.0px 12.5px,#2842a0 12.5px 15.0px,#2c58e0 15.0px 17.5px,#2844ae 17.5px 20.0px,#2a52d3 20.0px 22.5px,#2f5eed 22.5px 25.0px,#294ecc 25.0px 27.5px,#283774 27.5px 30.0px,#28419d 30.0px 32.5px,#284ac3 32.5px 35.0px,#2e5ce9 35.0px 37.5px,#29335b 37.5px 40.0px,#283a81 40.0px 42.5px,#2844ad 42.5px 45.0px,#2849c2 45.0px 47.5px,#2c57df 47.5px 50.0px,#2848be 50.0px 52.5px,#2843a8 52.5px 55.0px,#2b52d5 55.0px 57.5px,#2b55d9 57.5px 60.0px,#2e5ce9 60.0px 62.5px,#2f5eec 62.5px 65.0px,#2a51d3 65.0px 67.5px,#294ac5 67.5px 70.0px)"></div><div style="position:absolute;left:19.8px;top:120.2px;width:70.0px;height:1.9px;background:linear-gradient(90deg,#2b53d6 0.0px 2.5px,#3366ff 2.5px 5.0px,#2849c1 5.0px 7.5px,#294dcb 7.5px 10.0px,#2846b8 10.0px 12.5px,#2c56dd 12.5px 15.0px,#3366ff 15.0px 17.5px,#2843a6 17.5px 20.0px,#3366ff 20.0px 22.5px,#294ecc 22.5px 25.0px,#3366ff 25.0px 27.5px,#3366ff 27.5px 30.0px,#3366ff 30.0px 32.5px,#3265fc 32.5px 35.0px,#2e5ce9 35.0px 37.5px,#2c56dc 37.5px 40.0px,#3366ff 40.0px 42.5px,#3263f9 42.5px 45.0px,#3366ff 45.0px 47.5px,#2c56dd 47.5px 50.0px,#3161f4 50.0px 52.5px,#2b53d5 52.5px 55.0px,#3366ff 55.0px 57.5px,#2847bd 57.5px 60.0px,#3162f7 60.0px 62.5px,#2c58e1 62.5px 65.0px,#2c57df 65.0px 67.5px,#3161f5 67.5px 70.0px)"></div><div style="position:absolute;left:19.8px;top:121.8px;width:70.0px;height:1.9px;background:linear-gradient(90deg,#2c57de 0.0px 2.5px,#283c86 2.5px 5.0px,#283878 5.0px 7.5px,#2d5ae5 7.5px 10.0px,#2847bb 10.0px 12.5px,#3366ff 12.5px 15.0px,#2844ab 15.0px 17.5px,#2c56dc 17.5px 20.0px,#3366ff 20.0px 22.5px,#3366ff 22.5px 25.0px,#2e5be7 25.0px 27.5px,#2f5eed 27.5px 30.0px,#2b54d8 30.0px 32.5px,#3264fb 32.5px 35.0px,#3366ff 35.0px 37.5px,#284098 37.5px 40.0px,#3163f7 40.0px 42.5px,#3162f5 42.5px 45.0px,#3366ff 45.0px 47.5px,#3162f6 47.5px 50.0px,#2843a9 50.0px 52.5px,#2844aa 52.5px 55.0px,#283a81 55.0px 57.5px,#3264fb 57.5px 60.0px,#2c59e2 60.0px 62.5px,#28419c 62.5px 65.0px,#2c58e0 65.0px 67.5px,#2a4fce 67.5px 70.0px)"></div><div style="position:absolute;left:19.8px;top:123.5px;width:70.0px;height:1.9px;background:linear-gradient(90deg,#2847bc 0.0px 2.5px,#2847ba 2.5px 5.0px,#2b3347 5.0px 7.5px,#2844ae 7.5px 10.0px,#283f95 10.0px 12.5px,#2c3236 12.5px 15.0px,#283877 15.0px 17.5px,#333937 17.5px 20.0px,#284ac4 20.0px 22.5px,#28419e 22.5px 25.0px,#283876 25.0px 27.5px,#283879 27.5px 30.0px,#2e5be7 30.0px 32.5px,#284ac4 32.5px 35.0px,#283776 35.0px 37.5px,#2f5fef 37.5px 40.0px,#2a51d3 40.0px 42.5px,#28419f 42.5px 45.0px,#2846b7 45.0px 47.5px,#28366f 47.5px 50.0px,#28366f 50.0px 52.5px,#2844ae 52.5px 55.0px,#294cc9 55.0px 57.5px,#294bc6 57.5px 60.0px,#2b3347 60.0px 62.5px,#283877 62.5px 65.0px,#283467 65.0px 67.5px,#3060f1 67.5px 70.0px)"></div><div style="position:absolute;left:19.8px;top:125.2px;width:70.0px;height:1.9px;background:linear-gradient(90deg,#294cc8 0.0px 2.5px,#283e8f 2.5px 5.0px,#2a50cf 5.0px 7.5px,#3366ff 7.5px 10.0px,#3366ff 10.0px 12.5px,#3366ff 12.5px 15.0px,#2e5dea 15.0px 17.5px,#2e5deb 17.5px 20.0px,#3366ff 20.0px 22.5px,#2f5dec 22.5px 25.0px,#2847ba 25.0px 27.5px,#2e5be7 27.5px 30.0px,#3366ff 30.0px 32.5px,#3366ff 32.5px 35.0px,#3366ff 35.0px 37.5px,#3366ff 37.5px 40.0px,#28419d 40.0px 42.5px,#3161f5 42.5px 45.0px,#2848be 45.0px 47.5px,#3366ff 47.5px 50.0px,#3060f2 50.0px 52.5px,#2e5be8 52.5px 55.0px,#3366ff 55.0px 57.5px,#3163f7 57.5px 60.0px,#3162f7 60.0px 62.5px,#3366ff 62.5px 65.0px,#305ff0 65.0px 67.5px,#294bc7 67.5px 70.0px)"></div><div style="position:absolute;left:19.8px;top:126.8px;width:70.0px;height:1.9px;background:linear-gradient(90deg,#283b85 0.0px 2.5px,#444a38 2.5px 5.0px,#28346a 5.0px 7.5px,#283a7f 7.5px 10.0px,#283464 10.0px 12.5px,#283b83 12.5px 15.0px,#2a334c 15.0px 17.5px,#28419c 17.5px 20.0px,#28419f 20.0px 22.5px,#283e8e 22.5px 25.0px,#2844ac 25.0px 27.5px,#2846b4 27.5px 30.0px,#283469 30.0px 32.5px,#2a334d 32.5px 35.0px,#2842a1 35.0px 37.5px,#294ac4 37.5px 40.0px,#28419f 40.0px 42.5px,#283a7e 42.5px 45.0px,#2844aa 45.0px 47.5px,#2842a4 47.5px 50.0px,#4b5139 50.0px 52.5px,#294dc9 52.5px 55.0px,#294dca 55.0px 57.5px,#2845b1 57.5px 60.0px,#2a51d3 60.0px 62.5px,#2a334e 62.5px 65.0px,#2a50d0 65.0px 67.5px,#2847ba 67.5px 70.0px)"></div><div style="position:absolute;left:19.8px;top:128.5px;width:70.0px;height:2.2px;background:linear-gradient(90deg,#28397c 0.0px 2.5px,#284096 2.5px 5.0px,#2842a1 5.0px 7.5px,#2844ae 7.5px 10.0px,#28356d 10.0px 12.5px,#283772 12.5px 15.0px,#3a4037 15.0px 17.5px,#2847b9 17.5px 20.0px,#2a3351 20.0px 22.5px,#383e37 22.5px 25.0px,#283773 25.0px 27.5px,#2e5ce8 27.5px 30.0px,#283a81 30.0px 32.5px,#293357 32.5px 35.0px,#283671 35.0px 37.5px,#283f94 37.5px 40.0px,#2846b4 40.0px 42.5px,#2a334b 42.5px 45.0px,#283d8a 45.0px 47.5px,#2842a1 47.5px 50.0px,#2f5eed 50.0px 52.5px,#283670 52.5px 55.0px,#283f92 55.0px 57.5px,#283879 57.5px 60.0px,#2846b6 60.0px 62.5px,#323837 62.5px 65.0px,#293358 65.0px 67.5px,#283b85 67.5px 70.0px)"></div><div style="position:absolute;left:19.8px;top:130.5px;width:70.0px;height:2.2px;background:linear-gradient(90deg,#2845b1 0.0px 2.5px,#2c56dd 2.5px 5.0px,#283469 5.0px 7.5px,#2846b7 7.5px 10.0px,#2842a4 10.0px 12.5px,#3264fb 12.5px 15.0px,#283e8f 15.0px 17.5px,#2a51d3 17.5px 20.0px,#3366ff 20.0px 22.5px,#2b3346 22.5px 25.0px,#353b37 25.0px 27.5px,#2842a3 27.5px 30.0px,#3162f6 30.0px 32.5px,#2842a0 32.5px 35.0px,#283773 35.0px 37.5px,#2a4fce 37.5px 40.0px,#2a3351 40.0px 42.5px,#2b323f 42.5px 45.0px,#283c88 45.0px 47.5px,#283c87 47.5px 50.0px,#2b53d5 50.0px 52.5px,#2847bc 52.5px 55.0px,#2b56db 55.0px 57.5px,#2d5be6 57.5px 60.0px,#283670 60.0px 62.5px,#2844ac 62.5px 65.0px,#283466 65.0px 67.5px,#2845af 67.5px 70.0px)"></div><div style="position:absolute;left:19.8px;top:132.5px;width:70.0px;height:1.7px;background:linear-gradient(90deg,#d2ca3b 0.0px 2.5px,#d2ca3a 2.5px 5.0px,#ccc439 5.0px 7.5px,#cac238 7.5px 10.0px,#b8b438 10.0px 12.5px,#c2bb38 12.5px 15.0px,#cec639 15.0px 17.5px,#c7bf38 17.5px 20.0px,#beb838 20.0px 22.5px,#cac239 22.5px 25.0px,#d0c83a 25.0px 27.5px,#bbb738 27.5px 30.0px,#c3bc38 30.0px 32.5px,#c7bf38 32.5px 35.0px,#b9b538 35.0px 37.5px,#c6bf38 37.5px 40.0px,#cfc73a 40.0px 42.5px,#cdc539 42.5px 45.0px,#b4b138 45.0px 47.5px,#bdb838 47.5px 50.0px,#c2bc38 50.0px 52.5px,#c6be38 52.5px 55.0px,#c1bb38 55.0px 57.5px,#bfb938 57.5px 60.0px,#d1c93a 60.0px 62.5px,#d0c83a 62.5px 65.0px,#c0ba38 65.0px 67.5px,#b8b438 67.5px 70.0px)"></div><div style="position:absolute;left:19.8px;top:134.0px;width:70.0px;height:1.7px;background:linear-gradient(90deg,#dcd43d 0.0px 2.5px,#d9d13c 2.5px 5.0px,#e8e040 5.0px 7.5px,#d6ce3b 7.5px 10.0px,#dbd33d 10.0px 12.5px,#e0d83e 12.5px 15.0px,#dfd73e 15.0px 17.5px,#dcd43d 17.5px 20.0px,#e3db3f 20.0px 22.5px,#e0d83e 22.5px 25.0px,#e8e040 25.0px 27.5px,#e3db3f 27.5px 30.0px,#e4dc3f 30.0px 32.5px,#e8e040 32.5px 35.0px,#dcd43d 35.0px 37.5px,#e5dd3f 37.5px 40.0px,#e0d83e 40.0px 42.5px,#e4dc3f 42.5px 45.0px,#c5be38 45.0px 47.5px,#d3cb3b 47.5px 50.0px,#e0d83e 50.0px 52.5px,#e2da3e 52.5px 55.0px,#ddd53d 55.0px 57.5px,#e0d83e 57.5px 60.0px,#e8e040 60.0px 62.5px,#e0d83e 62.5px 65.0px,#e2da3f 65.0px 67.5px,#ddd53d 67.5px 70.0px)"></div><div style="position:absolute;left:19.8px;top:135.5px;width:70.0px;height:2.2px;background:linear-gradient(90deg,#8a8a38 0.0px 2.5px,#a1a138 2.5px 5.0px,#b9b538 5.0px 7.5px,#a5a538 7.5px 10.0px,#a5a538 10.0px 12.5px,#8f8f38 12.5px 15.0px,#818238 15.0px 17.5px,#979738 17.5px 20.0px,#979738 20.0px 22.5px,#888838 22.5px 25.0px,#8d8d38 25.0px 27.5px,#838338 27.5px 30.0px,#8b8b38 30.0px 32.5px,#abaa38 32.5px 35.0px,#979738 35.0px 37.5px,#a0a038 37.5px 40.0px,#999938 40.0px 42.5px,#949438 42.5px 45.0px,#8c8c38 45.0px 47.5px,#979738 47.5px 50.0px,#8d8d38 50.0px 52.5px,#a1a138 52.5px 55.0px,#9c9c38 55.0px 57.5px,#828238 57.5px 60.0px,#9a9a38 60.0px 62.5px,#9e9e38 62.5px 65.0px,#b3b038 65.0px 67.5px,#878738 67.5px 70.0px)"></div><div style="position:absolute;left:19.8px;top:137.5px;width:70.0px;height:1.9px;background:linear-gradient(90deg,#2846b8 0.0px 2.5px,#284ac3 2.5px 5.0px,#2b323e 5.0px 7.5px,#2d59e3 7.5px 10.0px,#2847bb 10.0px 12.5px,#28397c 12.5px 15.0px,#293460 15.0px 17.5px,#2843a7 17.5px 20.0px,#283c8a 20.0px 22.5px,#2b54d7 22.5px 25.0px,#283b83 25.0px 27.5px,#294cc9 27.5px 30.0px,#28366f 30.0px 32.5px,#3263f9 32.5px 35.0px,#283f93 35.0px 37.5px,#2c56dc 37.5px 40.0px,#2848bf 40.0px 42.5px,#2843a8 42.5px 45.0px,#2846b8 45.0px 47.5px,#2a51d2 47.5px 50.0px,#3162f5 50.0px 52.5px,#2c58e0 52.5px 55.0px,#2846b4 55.0px 57.5px,#28419c 57.5px 60.0px,#294bc5 60.0px 62.5px,#2847ba 62.5px 65.0px,#2c58df 65.0px 67.5px,#2843a7 67.5px 70.0px)"></div><div style="position:absolute;left:19.8px;top:139.2px;width:70.0px;height:1.9px;background:linear-gradient(90deg,#3264fa 0.0px 2.5px,#2b3346 2.5px 5.0px,#294cc8 5.0px 7.5px,#2849c2 7.5px 10.0px,#28356d 10.0px 12.5px,#2b53d7 12.5px 15.0px,#3366ff 15.0px 17.5px,#2842a3 17.5px 20.0px,#2845b0 20.0px 22.5px,#2f5deb 22.5px 25.0px,#2b55db 25.0px 27.5px,#284097 27.5px 30.0px,#2a52d3 30.0px 32.5px,#294bc5 32.5px 35.0px,#2b54d8 35.0px 37.5px,#2a334f 37.5px 40.0px,#3263f9 40.0px 42.5px,#283877 42.5px 45.0px,#2b53d5 45.0px 47.5px,#283c86 47.5px 50.0px,#3366ff 50.0px 52.5px,#2847b9 52.5px 55.0px,#2848c0 55.0px 57.5px,#3366ff 57.5px 60.0px,#3366ff 60.0px 62.5px,#293357 62.5px 65.0px,#2844ae 65.0px 67.5px,#2c58e0 67.5px 70.0px)"></div><div style="position:absolute;left:19.8px;top:140.8px;width:70.0px;height:1.9px;background:linear-gradient(90deg,#2843a9 0.0px 2.5px,#28419d 2.5px 5.0px,#2b55da 5.0px 7.5px,#2a50d1 7.5px 10.0px,#283c89 10.0px 12.5px,#3162f5 12.5px 15.0px,#2846b6 15.0px 17.5px,#284097 17.5px 20.0px,#3366ff 20.0px 22.5px,#3366ff 22.5px 25.0px,#283463 25.0px 27.5px,#2c58e0 27.5px 30.0px,#28419f 30.0px 32.5px,#284ac3 32.5px 35.0px,#2844ae 35.0px 37.5px,#28409a 37.5px 40.0px,#28356d 40.0px 42.5px,#283d8d 42.5px 45.0px,#3366ff 45.0px 47.5px,#3366ff 47.5px 50.0px,#283776 50.0px 52.5px,#3061f3 52.5px 55.0px,#2c59e1 55.0px 57.5px,#3366ff 57.5px 60.0px,#3366ff 60.0px 62.5px,#2d59e2 62.5px 65.0px,#2846b4 65.0px 67.5px,#2a51d2 67.5px 70.0px)"></div><div style="position:absolute;left:19.8px;top:142.5px;width:70.0px;height:1.9px;background:linear-gradient(90deg,#2d5be6 0.0px 2.5px,#3366ff 2.5px 5.0px,#283d8a 5.0px 7.5px,#3161f4 7.5px 10.0px,#283b84 10.0px 12.5px,#28419e 12.5px 15.0px,#3366ff 15.0px 17.5px,#2847bc 17.5px 20.0px,#283e8e 20.0px 22.5px,#3366ff 22.5px 25.0px,#2846b8 25.0px 27.5px,#2844ac 27.5px 30.0px,#2844ae 30.0px 32.5px,#2849c1 32.5px 35.0px,#28356b 35.0px 37.5px,#284ac3 37.5px 40.0px,#2c58e1 40.0px 42.5px,#2b52d4 42.5px 45.0px,#2e5dea 45.0px 47.5px,#3060f1 47.5px 50.0px,#2a50d1 50.0px 52.5px,#3366ff 52.5px 55.0px,#293357 55.0px 57.5px,#2847b9 57.5px 60.0px,#2b53d6 60.0px 62.5px,#283774 62.5px 65.0px,#283877 65.0px 67.5px,#3366ff 67.5px 70.0px)"></div><div style="position:absolute;left:19.8px;top:144.2px;width:70.0px;height:1.9px;background:linear-gradient(90deg,#2b52d5 0.0px 2.5px,#294cc8 2.5px 5.0px,#28366f 5.0px 7.5px,#2846b7 7.5px 10.0px,#283b85 10.0px 12.5px,#2849c1 12.5px 15.0px,#283a82 15.0px 17.5px,#283e92 17.5px 20.0px,#3366ff 20.0px 22.5px,#2849c3 22.5px 25.0px,#3366ff 25.0px 27.5px,#2d5ae5 27.5px 30.0px,#283e8f 30.0px 32.5px,#283772 32.5px 35.0px,#2d5ae6 35.0px 37.5px,#2a4fce 37.5px 40.0px,#2845af 40.0px 42.5px,#294cc9 42.5px 45.0px,#283465 45.0px 47.5px,#283a80 47.5px 50.0px,#2844aa 50.0px 52.5px,#2849c2 52.5px 55.0px,#2845b1 55.0px 57.5px,#2846b6 57.5px 60.0px,#294cc9 60.0px 62.5px,#2d5ae4 62.5px 65.0px,#2844ad 65.0px 67.5px,#284099 67.5px 70.0px)"></div><div style="position:absolute;left:19.8px;top:145.8px;width:70.0px;height:1.9px;background:linear-gradient(90deg,#293461 0.0px 2.5px,#3365fe 2.5px 5.0px,#2846b5 5.0px 7.5px,#283f96 7.5px 10.0px,#28356d 10.0px 12.5px,#2847ba 12.5px 15.0px,#2845b0 15.0px 17.5px,#2845af 17.5px 20.0px,#2846b5 20.0px 22.5px,#294ac4 22.5px 25.0px,#2845b0 25.0px 27.5px,#283d8c 27.5px 30.0px,#2847bd 30.0px 32.5px,#2846b7 32.5px 35.0px,#2f5eed 35.0px 37.5px,#2d59e3 37.5px 40.0px,#2845af 40.0px 42.5px,#28397d 42.5px 45.0px,#2a50d1 45.0px 47.5px,#28356d 47.5px 50.0px,#2a52d3 50.0px 52.5px,#2845b2 52.5px 55.0px,#2a51d2 55.0px 57.5px,#283671 57.5px 60.0px,#294ac5 60.0px 62.5px,#2f5dec 62.5px 65.0px,#2b52d4 65.0px 67.5px,#3366ff 67.5px 70.0px)"></div><div style="position:absolute;left:19.8px;top:147.5px;width:70.0px;height:2.2px;background:linear-gradient(90deg,#acab38 0.0px 2.5px,#888838 2.5px 5.0px,#9c9c38 5.0px 7.5px,#969638 7.5px 10.0px,#888838 10.0px 12.5px,#828238 12.5px 15.0px,#999938 15.0px 17.5px,#777939 17.5px 20.0px,#8a8a38 20.0px 22.5px,#8a8a38 22.5px 25.0px,#797a39 25.0px 27.5px,#656939 27.5px 30.0px,#959538 30.0px 32.5px,#898938 32.5px 35.0px,#8f8f38 35.0px 37.5px,#6f7239 37.5px 40.0px,#878738 40.0px 42.5px,#999938 42.5px 45.0px,#868638 45.0px 47.5px,#848438 47.5px 50.0px,#7e7f38 50.0px 52.5px,#898938 52.5px 55.0px,#888838 55.0px 57.5px,#919138 57.5px 60.0px,#8d8d38 60.0px 62.5px,#8f8f38 62.5px 65.0px,#888838 65.0px 67.5px,#abaa38 67.5px 70.0px)"></div><div style="position:absolute;left:19.8px;top:149.5px;width:70.0px;height:2.2px;background:linear-gradient(90deg,#bab538 0.0px 2.5px,#999938 2.5px 5.0px,#b3b038 5.0px 7.5px,#bcb738 7.5px 10.0px,#9d9d38 10.0px 12.5px,#beb938 12.5px 15.0px,#a3a338 15.0px 17.5px,#b8b438 17.5px 20.0px,#a4a438 20.0px 22.5px,#a3a338 22.5px 25.0px,#aaaa38 25.0px 27.5px,#b7b338 27.5px 30.0px,#afad38 30.0px 32.5px,#b8b438 32.5px 35.0px,#aeac38 35.0px 37.5px,#a4a438 37.5px 40.0px,#c4bd38 40.0px 42.5px,#b2b038 42.5px 45.0px,#a8a838 45.0px 47.5px,#b9b538 47.5px 50.0px,#bdb838 50.0px 52.5px,#b2af38 52.5px 55.0px,#b9b538 55.0px 57.5px,#b4b138 57.5px 60.0px,#a4a438 60.0px 62.5px,#aaa938 62.5px 65.0px,#b2af38 65.0px 67.5px,#bbb738 67.5px 70.0px)"></div><div style="position:absolute;left:19.8px;top:151.5px;width:70.0px;height:2.2px;background:linear-gradient(90deg,#b9b538 0.0px 2.5px,#b6b238 2.5px 5.0px,#c2bc38 5.0px 7.5px,#b3b038 7.5px 10.0px,#c2bc38 10.0px 12.5px,#c7bf38 12.5px 15.0px,#bcb738 15.0px 17.5px,#a8a838 17.5px 20.0px,#a6a638 20.0px 22.5px,#b4b138 22.5px 25.0px,#c9c138 25.0px 27.5px,#b4b138 27.5px 30.0px,#c5be38 30.0px 32.5px,#bbb638 32.5px 35.0px,#c5be38 35.0px 37.5px,#acab38 37.5px 40.0px,#b4b138 40.0px 42.5px,#beb838 42.5px 45.0px,#b8b438 45.0px 47.5px,#b7b438 47.5px 50.0px,#cfc73a 50.0px 52.5px,#beb838 52.5px 55.0px,#adac38 55.0px 57.5px,#c1bb38 57.5px 60.0px,#a6a638 60.0px 62.5px,#c3bc38 62.5px 65.0px,#bbb738 65.0px 67.5px,#b0ae38 67.5px 70.0px)"></div><div style="position:absolute;left:19.8px;top:153.5px;width:70.0px;height:2.2px;background:linear-gradient(90deg,#bab638 0.0px 2.5px,#c6bf38 2.5px 5.0px,#c4bd38 5.0px 7.5px,#c9c138 7.5px 10.0px,#b8b438 10.0px 12.5px,#d1c93a 12.5px 15.0px,#d4cc3b 15.0px 17.5px,#c3bc38 17.5px 20.0px,#c6be38 20.0px 22.5px,#b6b338 22.5px 25.0px,#c2bc38 25.0px 27.5px,#c1bb38 27.5px 30.0px,#aaa938 30.0px 32.5px,#c9c138 32.5px 35.0px,#b0ae38 35.0px 37.5px,#b6b238 37.5px 40.0px,#bdb838 40.0px 42.5px,#cec63a 42.5px 45.0px,#b8b438 45.0px 47.5px,#b6b238 47.5px 50.0px,#b9b538 50.0px 52.5px,#b6b238 52.5px 55.0px,#c5be38 55.0px 57.5px,#b0ae38 57.5px 60.0px,#bdb838 60.0px 62.5px,#bbb638 62.5px 65.0px,#bfb938 65.0px 67.5px,#b5b238 67.5px 70.0px)"></div><div style="position:absolute;left:19.8px;top:155.5px;width:70.0px;height:2.2px;background:linear-gradient(90deg,#c2bc38 0.0px 2.5px,#c2bc38 2.5px 5.0px,#b9b538 5.0px 7.5px,#aaa938 7.5px 10.0px,#b6b338 10.0px 12.5px,#bdb838 12.5px 15.0px,#adac38 15.0px 17.5px,#afad38 17.5px 20.0px,#969638 20.0px 22.5px,#b5b238 22.5px 25.0px,#afad38 25.0px 27.5px,#c0ba38 27.5px 30.0px,#c0ba38 30.0px 32.5px,#bab538 32.5px 35.0px,#b8b438 35.0px 37.5px,#bbb638 37.5px 40.0px,#bfba38 40.0px 42.5px,#c5be38 42.5px 45.0px,#c0ba38 45.0px 47.5px,#acab38 47.5px 50.0px,#a9a838 50.0px 52.5px,#b7b338 52.5px 55.0px,#b0ae38 55.0px 57.5px,#cac238 57.5px 60.0px,#b6b238 60.0px 62.5px,#adac38 62.5px 65.0px,#b9b538 65.0px 67.5px,#b6b338 67.5px 70.0px)"></div><div style="position:absolute;left:19.8px;top:157.5px;width:70.0px;height:2.2px;background:linear-gradient(90deg,#999938 0.0px 2.5px,#a2a238 2.5px 5.0px,#9e9e38 5.0px 7.5px,#898938 7.5px 10.0px,#949438 10.0px 12.5px,#8d8d38 12.5px 15.0px,#aaaa38 15.0px 17.5px,#a5a538 17.5px 20.0px,#878738 20.0px 22.5px,#696c39 22.5px 25.0px,#8c8c38 25.0px 27.5px,#8f8f38 27.5px 30.0px,#8d8d38 30.0px 32.5px,#979738 32.5px 35.0px,#949438 35.0px 37.5px,#989838 37.5px 40.0px,#9e9e38 40.0px 42.5px,#959538 42.5px 45.0px,#898938 45.0px 47.5px,#959538 47.5px 50.0px,#959538 50.0px 52.5px,#757739 52.5px 55.0px,#959538 55.0px 57.5px,#9f9f38 57.5px 60.0px,#838338 60.0px 62.5px,#909038 62.5px 65.0px,#a8a838 65.0px 67.5px,#8e8e38 67.5px 70.0px)"></div><div style="position:absolute;left:19.8px;top:159.5px;width:70.0px;height:2.2px;background:linear-gradient(90deg,#d8d03c 0.0px 2.5px,#ddd53d 2.5px 5.0px,#ded63d 5.0px 7.5px,#dad23d 7.5px 10.0px,#dfd73e 10.0px 12.5px,#d7cf3c 12.5px 15.0px,#dbd33d 15.0px 17.5px,#d7cf3c 17.5px 20.0px,#ded63e 20.0px 22.5px,#d5cd3b 22.5px 25.0px,#e3db3f 25.0px 27.5px,#d2ca3b 27.5px 30.0px,#ddd53d 30.0px 32.5px,#e5dd3f 32.5px 35.0px,#d2ca3b 35.0px 37.5px,#e3db3f 37.5px 40.0px,#dfd73e 40.0px 42.5px,#e8e040 42.5px 45.0px,#d9d13c 45.0px 47.5px,#d5cd3b 47.5px 50.0px,#ded63d 50.0px 52.5px,#dfd73e 52.5px 55.0px,#d2ca3b 55.0px 57.5px,#e2da3e 57.5px 60.0px,#d5cd3b 60.0px 62.5px,#dbd33d 62.5px 65.0px,#e2da3f 65.0px 67.5px,#cec639 67.5px 70.0px)"></div><div style="position:absolute;left:19.8px;top:161.5px;width:70.0px;height:2.2px;background:linear-gradient(90deg,#d5cd3b 0.0px 2.5px,#d9d13c 2.5px 5.0px,#ddd53d 5.0px 7.5px,#c6be38 7.5px 10.0px,#c6be38 10.0px 12.5px,#d1c93a 12.5px 15.0px,#ddd53d 15.0px 17.5px,#d6ce3c 17.5px 20.0px,#c2bc38 20.0px 22.5px,#cbc339 22.5px 25.0px,#d1c93a 25.0px 27.5px,#ccc439 27.5px 30.0px,#cdc539 30.0px 32.5px,#c5bd38 32.5px 35.0px,#c2bb38 35.0px 37.5px,#cfc73a 37.5px 40.0px,#d3cb3b 40.0px 42.5px,#d6ce3c 42.5px 45.0px,#d2ca3a 45.0px 47.5px,#d1c93a 47.5px 50.0px,#bfba38 50.0px 52.5px,#cbc339 52.5px 55.0px,#cbc339 55.0px 57.5px,#c6be38 57.5px 60.0px,#cbc339 60.0px 62.5px,#c9c138 62.5px 65.0px,#e1d93e 65.0px 67.5px,#cac238 67.5px 70.0px)"></div><div style="position:absolute;left:19.8px;top:163.5px;width:70.0px;height:2.2px;background:linear-gradient(90deg,#d1c93a 0.0px 2.5px,#c9c138 2.5px 5.0px,#e8e040 5.0px 7.5px,#dcd43d 7.5px 10.0px,#d7cf3c 10.0px 12.5px,#d5cd3b 12.5px 15.0px,#dcd43d 15.0px 17.5px,#dcd43d 17.5px 20.0px,#cac239 20.0px 22.5px,#dcd43d 22.5px 25.0px,#e3db3f 25.0px 27.5px,#d3cb3b 27.5px 30.0px,#bfb938 30.0px 32.5px,#e3db3f 32.5px 35.0px,#dcd43d 35.0px 37.5px,#d0c83a 37.5px 40.0px,#d2ca3a 40.0px 42.5px,#e1d93e 42.5px 45.0px,#dcd43d 45.0px 47.5px,#d9d13c 47.5px 50.0px,#d3cb3b 50.0px 52.5px,#ccc439 52.5px 55.0px,#c4bd38 55.0px 57.5px,#cbc339 57.5px 60.0px,#ccc439 60.0px 62.5px,#cec639 62.5px 65.0px,#e2da3e 65.0px 67.5px,#ccc439 67.5px 70.0px)"></div><div style="position:absolute;left:19.8px;top:165.5px;width:70.0px;height:2.2px;background:linear-gradient(90deg,#2b3347 0.0px 2.5px,#2a334a 2.5px 5.0px,#2a334a 5.0px 7.5px,#2a334b 7.5px 10.0px,#2a3352 10.0px 12.5px,#2b3241 12.5px 15.0px,#283467 15.0px 17.5px,#2a3352 17.5px 20.0px,#28356d 20.0px 22.5px,#293462 22.5px 25.0px,#2a334c 25.0px 27.5px,#2a3352 27.5px 30.0px,#2a334d 30.0px 32.5px,#2b3347 32.5px 35.0px,#2b3240 35.0px 37.5px,#283879 37.5px 40.0px,#293356 40.0px 42.5px,#2c3237 42.5px 45.0px,#29345f 45.0px 47.5px,#2a334f 47.5px 50.0px,#2c323a 50.0px 52.5px,#2a334a 52.5px 55.0px,#2a334e 55.0px 57.5px,#2a3355 57.5px 60.0px,#29345f 60.0px 62.5px,#293359 62.5px 65.0px,#2b323d 65.0px 67.5px,#2b323e 67.5px 70.0px)"></div><div style="position:absolute;left:19.8px;top:167.5px;width:70.0px;height:2.2px;background:linear-gradient(90deg,#dcd43d 0.0px 2.5px,#d2ca3b 2.5px 5.0px,#e3db3f 5.0px 7.5px,#d6ce3b 7.5px 10.0px,#e1d93e 10.0px 12.5px,#d3cb3b 12.5px 15.0px,#cdc539 15.0px 17.5px,#e4dc3f 17.5px 20.0px,#d1c93a 20.0px 22.5px,#d4cc3b 22.5px 25.0px,#d8d03c 25.0px 27.5px,#d6ce3b 27.5px 30.0px,#d6ce3b 30.0px 32.5px,#d7cf3c 32.5px 35.0px,#cfc73a 35.0px 37.5px,#dbd33d 37.5px 40.0px,#dad23d 40.0px 42.5px,#d6ce3c 42.5px 45.0px,#d1c93a 45.0px 47.5px,#d8d03c 47.5px 50.0px,#d8d03c 50.0px 52.5px,#d4cc3b 52.5px 55.0px,#cac239 55.0px 57.5px,#d0c83a 57.5px 60.0px,#d6ce3c 60.0px 62.5px,#d7cf3c 62.5px 65.0px,#e4dc3f 65.0px 67.5px,#ddd53d 67.5px 70.0px)"></div><div style="position:absolute;left:19.8px;top:169.5px;width:70.0px;height:2.2px;background:linear-gradient(90deg,#c6be38 0.0px 2.5px,#dfd73e 2.5px 5.0px,#d6ce3c 5.0px 7.5px,#bdb838 7.5px 10.0px,#dad23d 10.0px 12.5px,#d1c93a 12.5px 15.0px,#d2ca3a 15.0px 17.5px,#cec639 17.5px 20.0px,#cac238 20.0px 22.5px,#bfb938 22.5px 25.0px,#cac238 25.0px 27.5px,#d2ca3a 27.5px 30.0px,#dbd33d 30.0px 32.5px,#c2bc38 32.5px 35.0px,#cec63a 35.0px 37.5px,#cfc73a 37.5px 40.0px,#c5be38 40.0px 42.5px,#d5cd3b 42.5px 45.0px,#c6bf38 45.0px 47.5px,#beb838 47.5px 50.0px,#c7bf38 50.0px 52.5px,#cfc73a 52.5px 55.0px,#d3cb3b 55.0px 57.5px,#c5be38 57.5px 60.0px,#ccc439 60.0px 62.5px,#d4cc3b 62.5px 65.0px,#d3cb3b 65.0px 67.5px,#c0ba38 67.5px 70.0px)"></div><div style="position:absolute;left:91.8px;top:0.0px;width:45.4px;height:1.7px;background:linear-gradient(90deg,#9d9d38 0.0px 2.5px,#cbc339 2.5px 5.0px,#dcd43d 5.0px 7.6px,#b2af38 7.6px 10.1px,#2b3345 10.1px 12.6px,#c8c038 12.6px 15.1px,#d8d03c 15.1px 17.7px,#494f39 17.7px 20.2px,#e4dc3f 20.2px 22.7px,#bfb938 22.7px 25.2px,#cac239 25.2px 27.7px,#bdb838 27.7px 30.3px,#d3cb3b 30.3px 32.8px,#c8c038 32.8px 35.3px,#c0ba38 35.3px 37.8px,#484e39 37.8px 40.4px,#dfd73e 40.4px 42.9px,#acab38 42.9px 45.4px)"></div><div style="position:absolute;left:91.8px;top:1.5px;width:45.4px;height:2.0px;background:linear-gradient(90deg,#2845b2 0.0px 2.5px,#595e3a 2.5px 5.0px,#767839 5.0px 7.6px,#2c323c 7.6px 10.1px,#3366ff 10.1px 12.6px,#858538 12.6px 15.1px,#505639 15.1px 17.7px,#3366ff 17.7px 20.2px,#929238 20.2px 22.7px,#414738 22.7px 25.2px,#505639 25.2px 27.7px,#575d3a 27.7px 30.3px,#686c39 30.3px 32.8px,#7f8038 32.8px 35.3px,#52583a 35.3px 37.8px,#3366ff 37.8px 40.4px,#676b39 40.4px 42.9px,#4d5339 42.9px 45.4px)"></div><div style="position:absolute;left:91.8px;top:3.3px;width:45.4px;height:2.0px;background:linear-gradient(90deg,#2845b1 0.0px 2.5px,#898938 2.5px 5.0px,#b3b038 5.0px 7.6px,#9f9f38 7.6px 10.1px,#3366ff 10.1px 12.6px,#6a6e39 12.6px 15.1px,#8e8e38 15.1px 17.7px,#2845b3 17.7px 20.2px,#d3cb3b 20.2px 22.7px,#e8e040 22.7px 25.2px,#5f643a 25.2px 27.7px,#696d39 27.7px 30.3px,#666a39 30.3px 32.8px,#959538 32.8px 35.3px,#afad38 35.3px 37.8px,#3162f5 37.8px 40.4px,#787a39 40.4px 42.9px,#c6bf38 42.9px 45.4px)"></div><div style="position:absolute;left:91.8px;top:5.1px;width:45.4px;height:2.0px;background:linear-gradient(90deg,#283877 0.0px 2.5px,#c9c138 2.5px 5.0px,#666a39 5.0px 7.6px,#a8a838 7.6px 10.1px,#2d5ae3 10.1px 12.6px,#d2ca3b 12.6px 15.1px,#adab38 15.1px 17.7px,#2846b4 17.7px 20.2px,#e7df40 20.2px 22.7px,#bab538 22.7px 25.2px,#595f3a 25.2px 27.7px,#b7b438 27.7px 30.3px,#c0ba38 30.3px 32.8px,#b9b438 32.8px 35.3px,#abaa38 35.3px 37.8px,#2b53d6 37.8px 40.4px,#9b9b38 40.4px 42.9px,#919138 42.9px 45.4px)"></div><div style="position:absolute;left:91.8px;top:7.0px;width:45.4px;height:2.0px;background:linear-gradient(90deg,#3366ff 0.0px 2.5px,#293460 2.5px 5.0px,#283463 5.0px 7.6px,#283f96 7.6px 10.1px,#3366ff 10.1px 12.6px,#283877 12.6px 15.1px,#283d8c 15.1px 17.7px,#3366ff 17.7px 20.2px,#5c623a 20.2px 22.7px,#28409a 22.7px 25.2px,#2c323b 25.2px 27.7px,#29345f 27.7px 30.3px,#28397c 30.3px 32.8px,#2c323b 32.8px 35.3px,#28356b 35.3px 37.8px,#3366ff 37.8px 40.4px,#2843a7 40.4px 42.9px,#283879 42.9px 45.4px)"></div><div style="position:absolute;left:91.8px;top:8.8px;width:45.4px;height:2.0px;background:linear-gradient(90deg,#2c57df 0.0px 2.5px,#acab38 2.5px 5.0px,#414738 5.0px 7.6px,#767839 7.6px 10.1px,#305ff0 10.1px 12.6px,#777939 12.6px 15.1px,#585d3a 15.1px 17.7px,#2a50cf 17.7px 20.2px,#afad38 20.2px 22.7px,#959538 22.7px 25.2px,#b7b338 25.2px 27.7px,#858538 27.7px 30.3px,#676b39 30.3px 32.8px,#777939 32.8px 35.3px,#757739 35.3px 37.8px,#2b54d9 37.8px 40.4px,#969638 40.4px 42.9px,#52583a 42.9px 45.4px)"></div><div style="position:absolute;left:91.8px;top:10.6px;width:45.4px;height:2.0px;background:linear-gradient(90deg,#2844aa 0.0px 2.5px,#8e8e38 2.5px 5.0px,#5d623a 5.0px 7.6px,#545a3a 7.6px 10.1px,#3060f2 10.1px 12.6px,#8b8b38 12.6px 15.1px,#5d623a 15.1px 17.7px,#3264fa 17.7px 20.2px,#909038 20.2px 22.7px,#666a39 22.7px 25.2px,#5c623a 25.2px 27.7px,#555b3a 27.7px 30.3px,#545a3a 30.3px 32.8px,#7a7c38 32.8px 35.3px,#2b3347 35.3px 37.8px,#3366ff 37.8px 40.4px,#818138 40.4px 42.9px,#878738 42.9px 45.4px)"></div><div style="position:absolute;left:91.8px;top:12.4px;width:45.4px;height:2.0px;background:linear-gradient(90deg,#2848c0 0.0px 2.5px,#4a5039 2.5px 5.0px,#686c39 5.0px 7.6px,#676b39 7.6px 10.1px,#3366ff 10.1px 12.6px,#28346a 12.6px 15.1px,#6a6e39 15.1px 17.7px,#3162f5 17.7px 20.2px,#929238 20.2px 22.7px,#3c4238 22.7px 25.2px,#888838 25.2px 27.7px,#3d4338 27.7px 30.3px,#393f37 30.3px 32.8px,#909038 32.8px 35.3px,#6b6e39 35.3px 37.8px,#3366fe 37.8px 40.4px,#565c3a 40.4px 42.9px,#6d7039 42.9px 45.4px)"></div><div style="position:absolute;left:91.8px;top:14.2px;width:45.4px;height:2.0px;background:linear-gradient(90deg,#2848bf 0.0px 2.5px,#555b3a 2.5px 5.0px,#646839 5.0px 7.6px,#434938 7.6px 10.1px,#3366ff 10.1px 12.6px,#454b38 12.6px 15.1px,#696d39 15.1px 17.7px,#2a51d2 17.7px 20.2px,#929238 20.2px 22.7px,#5c613a 22.7px 25.2px,#727439 25.2px 27.7px,#484e39 27.7px 30.3px,#797a39 30.3px 32.8px,#bfb938 32.8px 35.3px,#808038 35.3px 37.8px,#2f5eed 37.8px 40.4px,#565c3a 40.4px 42.9px,#4f5539 42.9px 45.4px)"></div><div style="position:absolute;left:91.8px;top:16.1px;width:45.4px;height:2.0px;background:linear-gradient(90deg,#29345d 0.0px 2.5px,#b6b238 2.5px 5.0px,#8a8a38 5.0px 7.6px,#9c9c38 7.6px 10.1px,#2f5eee 10.1px 12.6px,#e8e040 12.6px 15.1px,#c1bb38 15.1px 17.7px,#3061f3 17.7px 20.2px,#e0d83e 20.2px 22.7px,#b8b438 22.7px 25.2px,#bdb738 25.2px 27.7px,#4d5339 27.7px 30.3px,#a1a138 30.3px 32.8px,#cbc339 32.8px 35.3px,#a0a038 35.3px 37.8px,#2e5ce9 37.8px 40.4px,#abaa38 40.4px 42.9px,#a5a538 42.9px 45.4px)"></div><div style="position:absolute;left:91.8px;top:17.9px;width:45.4px;height:2.0px;background:linear-gradient(90deg,#2845b2 0.0px 2.5px,#979738 2.5px 5.0px,#595f3a 5.0px 7.6px,#303636 7.6px 10.1px,#3366ff 10.1px 12.6px,#868638 12.6px 15.1px,#797b39 15.1px 17.7px,#3366ff 17.7px 20.2px,#acab38 20.2px 22.7px,#585d3a 22.7px 25.2px,#9a9a38 25.2px 27.7px,#51573a 27.7px 30.3px,#9d9d38 30.3px 32.8px,#52583a 32.8px 35.3px,#6e7139 35.3px 37.8px,#3061f4 37.8px 40.4px,#717439 40.4px 42.9px,#5b603a 42.9px 45.4px)"></div><div style="position:absolute;left:91.8px;top:19.7px;width:45.4px;height:2.0px;background:linear-gradient(90deg,#294ac4 0.0px 2.5px,#6d7039 2.5px 5.0px,#414738 5.0px 7.6px,#5a603a 7.6px 10.1px,#3366ff 10.1px 12.6px,#383e37 12.6px 15.1px,#414738 15.1px 17.7px,#3366ff 17.7px 20.2px,#b2af38 20.2px 22.7px,#5b603a 22.7px 25.2px,#444a38 25.2px 27.7px,#565c3a 27.7px 30.3px,#5d623a 30.3px 32.8px,#5b603a 32.8px 35.3px,#7d7e38 35.3px 37.8px,#3163f8 37.8px 40.4px,#4e5439 40.4px 42.9px,#4c5239 42.9px 45.4px)"></div><div style="position:absolute;left:91.8px;top:21.5px;width:45.4px;height:2.0px;background:linear-gradient(90deg,#284096 0.0px 2.5px,#b6b338 2.5px 5.0px,#b6b338 5.0px 7.6px,#a8a838 7.6px 10.1px,#2c59e2 10.1px 12.6px,#949438 12.6px 15.1px,#5a603a 15.1px 17.7px,#2a50d0 17.7px 20.2px,#e8e040 20.2px 22.7px,#929238 22.7px 25.2px,#b0ae38 25.2px 27.7px,#818238 27.7px 30.3px,#929238 30.3px 32.8px,#bfba38 32.8px 35.3px,#b2b038 35.3px 37.8px,#3366ff 37.8px 40.4px,#adac38 40.4px 42.9px,#8a8a38 42.9px 45.4px)"></div><div style="position:absolute;left:91.8px;top:23.4px;width:45.4px;height:2.0px;background:linear-gradient(90deg,#5a5f3a 0.0px 2.5px,#9a9a38 2.5px 5.0px,#adac38 5.0px 7.6px,#767839 7.6px 10.1px,#2d5be6 10.1px 12.6px,#d1c93a 12.6px 15.1px,#9a9a38 15.1px 17.7px,#2849c2 17.7px 20.2px,#b9b538 20.2px 22.7px,#8a8a38 22.7px 25.2px,#cdc539 25.2px 27.7px,#9c9c38 27.7px 30.3px,#c9c138 30.3px 32.8px,#b6b338 32.8px 35.3px,#7d7e38 35.3px 37.8px,#2c58df 37.8px 40.4px,#787939 40.4px 42.9px,#9c9c38 42.9px 45.4px)"></div><div style="position:absolute;left:91.8px;top:25.2px;width:45.4px;height:2.0px;background:linear-gradient(90deg,#2f5dec 0.0px 2.5px,#283c8a 2.5px 5.0px,#283464 5.0px 7.6px,#293357 7.6px 10.1px,#3366ff 10.1px 12.6px,#676b39 12.6px 15.1px,#4b5139 15.1px 17.7px,#3366ff 17.7px 20.2px,#545a3a 20.2px 22.7px,#29335a 22.7px 25.2px,#565c3a 25.2px 27.7px,#283b85 27.7px 30.3px,#2b3242 30.3px 32.8px,#494f39 32.8px 35.3px,#29345d 35.3px 37.8px,#3366ff 37.8px 40.4px,#283b83 40.4px 42.9px,#28397d 42.9px 45.4px)"></div><div style="position:absolute;left:91.8px;top:27.0px;width:45.4px;height:1.7px;background:linear-gradient(90deg,#283463 0.0px 2.5px,#696c39 2.5px 5.0px,#2e3436 5.0px 7.6px,#353b37 7.6px 10.1px,#294bc6 10.1px 12.6px,#313736 12.6px 15.1px,#3b4137 15.1px 17.7px,#2849c1 17.7px 20.2px,#575d3a 20.2px 22.7px,#3f4538 22.7px 25.2px,#4f5539 25.2px 27.7px,#404638 27.7px 30.3px,#494f39 30.3px 32.8px,#2c3237 32.8px 35.3px,#393f37 35.3px 37.8px,#2a50d0 37.8px 40.4px,#5b613a 40.4px 42.9px,#293358 42.9px 45.4px)"></div><div style="position:absolute;left:91.8px;top:28.5px;width:45.4px;height:2.0px;background:linear-gradient(90deg,#283672 0.0px 2.5px,#28409a 2.5px 5.0px,#283b84 5.0px 7.6px,#283879 7.6px 10.1px,#28356d 10.1px 12.6px,#2a51d3 12.6px 15.1px,#2b54d8 15.1px 17.7px,#373d37 17.7px 20.2px,#28419e 20.2px 22.7px,#283467 22.7px 25.2px,#2842a1 25.2px 27.7px,#28419c 27.7px 30.3px,#2842a0 30.3px 32.8px,#2845b3 32.8px 35.3px,#2b323c 35.3px 37.8px,#2a334c 37.8px 40.4px,#283e8f 40.4px 42.9px,#28409a 42.9px 45.4px)"></div><div style="position:absolute;left:91.8px;top:30.3px;width:45.4px;height:2.0px;background:linear-gradient(90deg,#28409a 0.0px 2.5px,#2a50d0 2.5px 5.0px,#283f96 5.0px 7.6px,#2847bb 7.6px 10.1px,#808138 10.1px 12.6px,#29335a 12.6px 15.1px,#28366f 15.1px 17.7px,#656939 17.7px 20.2px,#28356b 20.2px 22.7px,#283d8e 22.7px 25.2px,#283c8a 25.2px 27.7px,#28419b 27.7px 30.3px,#283a81 30.3px 32.8px,#283f96 32.8px 35.3px,#283d8c 35.3px 37.8px,#404638 37.8px 40.4px,#283b82 40.4px 42.9px,#2842a3 42.9px 45.4px)"></div><div style="position:absolute;left:91.8px;top:32.1px;width:45.4px;height:2.0px;background:linear-gradient(90deg,#383e37 0.0px 2.5px,#2843a5 2.5px 5.0px,#283c89 5.0px 7.6px,#283469 7.6px 10.1px,#4a5039 10.1px 12.6px,#28419e 12.6px 15.1px,#283671 15.1px 17.7px,#7e7f38 17.7px 20.2px,#28409a 20.2px 22.7px,#283f94 22.7px 25.2px,#28397c 25.2px 27.7px,#28419c 27.7px 30.3px,#293358 30.3px 32.8px,#28356a 32.8px 35.3px,#2d3336 35.3px 37.8px,#4e5439 37.8px 40.4px,#2847ba 40.4px 42.9px,#294dca 42.9px 45.4px)"></div><div style="position:absolute;left:91.8px;top:33.9px;width:45.4px;height:2.0px;background:linear-gradient(90deg,#5c613a 0.0px 2.5px,#2d3336 2.5px 5.0px,#283464 5.0px 7.6px,#2d3336 7.6px 10.1px,#8b8b38 10.1px 12.6px,#717439 12.6px 15.1px,#28366f 15.1px 17.7px,#abaa38 17.7px 20.2px,#2847b9 20.2px 22.7px,#283467 22.7px 25.2px,#283c8a 25.2px 27.7px,#484e39 27.7px 30.3px,#3b4137 30.3px 32.8px,#4f5539 32.8px 35.3px,#3c4238 35.3px 37.8px,#a1a138 37.8px 40.4px,#284099 40.4px 42.9px,#2a3349 42.9px 45.4px)"></div><div style="position:absolute;left:91.8px;top:35.7px;width:45.4px;height:2.0px;background:linear-gradient(90deg,#2845b0 0.0px 2.5px,#2e5be7 2.5px 5.0px,#2845b0 5.0px 7.6px,#2e5ce9 7.6px 10.1px,#283b84 10.1px 12.6px,#2847bc 12.6px 15.1px,#294cc8 15.1px 17.7px,#283f93 17.7px 20.2px,#3264fc 20.2px 22.7px,#2846b5 22.7px 25.2px,#2c58e1 25.2px 27.7px,#2a50d0 27.7px 30.3px,#2a51d3 30.3px 32.8px,#294cc8 32.8px 35.3px,#2c57de 35.3px 37.8px,#293461 37.8px 40.4px,#2a50d0 40.4px 42.9px,#2f5eee 42.9px 45.4px)"></div><div style="position:absolute;left:91.8px;top:37.6px;width:45.4px;height:2.0px;background:linear-gradient(90deg,#61653a 0.0px 2.5px,#28397e 2.5px 5.0px,#283879 5.0px 7.6px,#28397d 7.6px 10.1px,#4c5239 10.1px 12.6px,#2d3336 12.6px 15.1px,#2842a4 15.1px 17.7px,#3b4137 17.7px 20.2px,#2847ba 20.2px 22.7px,#283462 22.7px 25.2px,#2b3347 25.2px 27.7px,#283b84 27.7px 30.3px,#2845af 30.3px 32.8px,#284099 32.8px 35.3px,#283671 35.3px 37.8px,#575d3a 37.8px 40.4px,#28356c 40.4px 42.9px,#283e91 42.9px 45.4px)"></div><div style="position:absolute;left:91.8px;top:39.4px;width:45.4px;height:2.0px;background:linear-gradient(90deg,#2a4fce 0.0px 2.5px,#3366ff 2.5px 5.0px,#2d5ae5 5.0px 7.6px,#2849c2 7.6px 10.1px,#29345d 10.1px 12.6px,#3366ff 12.6px 15.1px,#2b54d7 15.1px 17.7px,#29345e 17.7px 20.2px,#3265fc 20.2px 22.7px,#2a50d0 22.7px 25.2px,#3060f2 25.2px 27.7px,#3061f3 27.7px 30.3px,#2a51d3 30.3px 32.8px,#2843a8 32.8px 35.3px,#3366ff 35.3px 37.8px,#2842a1 37.8px 40.4px,#305ff0 40.4px 42.9px,#2b55da 42.9px 45.4px)"></div><div style="position:absolute;left:91.8px;top:41.2px;width:45.4px;height:2.0px;background:linear-gradient(90deg,#8d8d38 0.0px 2.5px,#2c3237 2.5px 5.0px,#2f3536 5.0px 7.6px,#293460 7.6px 10.1px,#929238 10.1px 12.6px,#404638 12.6px 15.1px,#303636 15.1px 17.7px,#8b8b38 17.7px 20.2px,#283467 20.2px 22.7px,#2a3355 22.7px 25.2px,#2f3536 25.2px 27.7px,#283c86 27.7px 30.3px,#2b3241 30.3px 32.8px,#28397c 32.8px 35.3px,#283463 35.3px 37.8px,#9a9a38 37.8px 40.4px,#2b3347 40.4px 42.9px,#5c613a 42.9px 45.4px)"></div><div style="position:absolute;left:91.8px;top:43.0px;width:45.4px;height:2.0px;background:linear-gradient(90deg,#2a334b 0.0px 2.5px,#28387a 2.5px 5.0px,#293358 5.0px 7.6px,#283d8b 7.6px 10.1px,#3a4037 10.1px 12.6px,#28356e 12.6px 15.1px,#283774 15.1px 17.7px,#5f643a 17.7px 20.2px,#283f95 20.2px 22.7px,#373d37 22.7px 25.2px,#284099 25.2px 27.7px,#283b85 27.7px 30.3px,#2a334f 30.3px 32.8px,#284097 32.8px 35.3px,#293460 35.3px 37.8px,#575d3a 37.8px 40.4px,#283f93 40.4px 42.9px,#283c87 42.9px 45.4px)"></div><div style="position:absolute;left:91.8px;top:44.8px;width:45.4px;height:2.0px;background:linear-gradient(90deg,#515739 0.0px 2.5px,#283c87 2.5px 5.0px,#293358 5.0px 7.6px,#28366f 7.6px 10.1px,#a6a638 10.1px 12.6px,#2842a1 12.6px 15.1px,#2842a1 15.1px 17.7px,#767839 17.7px 20.2px,#294cc7 20.2px 22.7px,#283463 22.7px 25.2px,#29345e 25.2px 27.7px,#353b37 27.7px 30.3px,#3e4438 30.3px 32.8px,#313736 32.8px 35.3px,#2c3238 35.3px 37.8px,#b1ae38 37.8px 40.4px,#283465 40.4px 42.9px,#283672 42.9px 45.4px)"></div><div style="position:absolute;left:91.8px;top:46.6px;width:45.4px;height:2.0px;background:linear-gradient(90deg,#2a3354 0.0px 2.5px,#2849c3 2.5px 5.0px,#28397d 5.0px 7.6px,#2844ab 7.6px 10.1px,#a1a138 10.1px 12.6px,#2b54d8 12.6px 15.1px,#2845b2 15.1px 17.7px,#343a37 17.7px 20.2px,#2c56dd 20.2px 22.7px,#2843a6 22.7px 25.2px,#284ac4 25.2px 27.7px,#2848bf 27.7px 30.3px,#2b54d9 30.3px 32.8px,#283e8f 32.8px 35.3px,#2843a6 35.3px 37.8px,#2b3349 37.8px 40.4px,#2846b8 40.4px 42.9px,#2844aa 42.9px 45.4px)"></div><div style="position:absolute;left:91.8px;top:48.4px;width:45.4px;height:2.0px;background:linear-gradient(90deg,#28356d 0.0px 2.5px,#2a4fce 2.5px 5.0px,#294ac4 5.0px 7.6px,#283f94 7.6px 10.1px,#2b323d 10.1px 12.6px,#28419e 12.6px 15.1px,#283a82 15.1px 17.7px,#29345e 17.7px 20.2px,#2846b4 20.2px 22.7px,#2847bc 22.7px 25.2px,#2b53d7 25.2px 27.7px,#2847b9 27.7px 30.3px,#2846b8 30.3px 32.8px,#2848c0 32.8px 35.3px,#2844ac 35.3px 37.8px,#283465 37.8px 40.4px,#2846b8 40.4px 42.9px,#2844aa 42.9px 45.4px)"></div><div style="position:absolute;left:91.8px;top:50.2px;width:45.4px;height:2.0px;background:linear-gradient(90deg,#898938 0.0px 2.5px,#283a7f 2.5px 5.0px,#29345f 5.0px 7.6px,#284097 7.6px 10.1px,#a1a138 10.1px 12.6px,#283b83 12.6px 15.1px,#28409a 15.1px 17.7px,#61663a 17.7px 20.2px,#2844ab 20.2px 22.7px,#2847bc 22.7px 25.2px,#28397c 25.2px 27.7px,#28419c 27.7px 30.3px,#28356b 30.3px 32.8px,#284098 32.8px 35.3px,#283463 35.3px 37.8px,#293461 37.8px 40.4px,#28356b 40.4px 42.9px,#283772 42.9px 45.4px)"></div><div style="position:absolute;left:91.8px;top:52.1px;width:45.4px;height:2.0px;background:linear-gradient(90deg,#2846b6 0.0px 2.5px,#2a4fcd 2.5px 5.0px,#2849c1 5.0px 7.6px,#283774 7.6px 10.1px,#28397a 10.1px 12.6px,#294bc5 12.6px 15.1px,#2a4fce 15.1px 17.7px,#293357 17.7px 20.2px,#3163f8 20.2px 22.7px,#2b55db 22.7px 25.2px,#2849c2 25.2px 27.7px,#2a4ecc 27.7px 30.3px,#2d5ae4 30.3px 32.8px,#2a4ecd 32.8px 35.3px,#294bc7 35.3px 37.8px,#313736 37.8px 40.4px,#294bc5 40.4px 42.9px,#2a4ecd 42.9px 45.4px)"></div><div style="position:absolute;left:91.8px;top:53.9px;width:45.4px;height:2.0px;background:linear-gradient(90deg,#283462 0.0px 2.5px,#3061f3 2.5px 5.0px,#294bc5 5.0px 7.6px,#3162f6 7.6px 10.1px,#2842a4 10.1px 12.6px,#2e5ce8 12.6px 15.1px,#2e5deb 15.1px 17.7px,#283d8c 17.7px 20.2px,#3366ff 20.2px 22.7px,#2f5eec 22.7px 25.2px,#3366ff 25.2px 27.7px,#2c57dd 27.7px 30.3px,#3366ff 30.3px 32.8px,#2e5cea 32.8px 35.3px,#2e5cea 35.3px 37.8px,#283468 37.8px 40.4px,#2847bb 40.4px 42.9px,#2c58e1 42.9px 45.4px)"></div><div style="position:absolute;left:91.8px;top:55.7px;width:45.4px;height:2.0px;background:linear-gradient(90deg,#303636 0.0px 2.5px,#2848c0 2.5px 5.0px,#2a50cf 5.0px 7.6px,#284ac4 7.6px 10.1px,#414738 10.1px 12.6px,#2844aa 12.6px 15.1px,#2847ba 15.1px 17.7px,#6e7139 17.7px 20.2px,#3161f4 20.2px 22.7px,#2f5eee 22.7px 25.2px,#3162f6 25.2px 27.7px,#283f93 27.7px 30.3px,#2845b3 30.3px 32.8px,#2844ad 32.8px 35.3px,#294ac4 35.3px 37.8px,#6e7139 37.8px 40.4px,#2846b7 40.4px 42.9px,#2e5ce9 42.9px 45.4px)"></div><div style="position:absolute;left:91.8px;top:57.5px;width:45.4px;height:2.0px;background:linear-gradient(90deg,#28397c 0.0px 2.5px,#2b54d8 2.5px 5.0px,#3366ff 5.0px 7.6px,#3366ff 7.6px 10.1px,#28397c 10.1px 12.6px,#2d5be6 12.6px 15.1px,#3162f6 15.1px 17.7px,#28419d 17.7px 20.2px,#3161f4 20.2px 22.7px,#2c58e0 22.7px 25.2px,#2a52d4 25.2px 27.7px,#2a51d3 27.7px 30.3px,#2e5ce8 30.3px 32.8px,#3263f9 32.8px 35.3px,#2b55db 35.3px 37.8px,#2b3344 37.8px 40.4px,#2e5deb 40.4px 42.9px,#294bc6 42.9px 45.4px)"></div><div style="position:absolute;left:91.8px;top:59.3px;width:45.4px;height:2.0px;background:linear-gradient(90deg,#293357 0.0px 2.5px,#414738 2.5px 5.0px,#333937 5.0px 7.6px,#313737 7.6px 10.1px,#2845af 10.1px 12.6px,#454b38 12.6px 15.1px,#494f39 15.1px 17.7px,#2848bf 17.7px 20.2px,#646839 20.2px 22.7px,#4d5339 22.7px 25.2px,#4f5539 25.2px 27.7px,#2c3236 27.7px 30.3px,#6a6e39 30.3px 32.8px,#5b613a 32.8px 35.3px,#353b37 35.3px 37.8px,#2847bd 37.8px 40.4px,#2a3349 40.4px 42.9px,#4b5139 42.9px 45.4px)"></div><div style="position:absolute;left:91.8px;top:61.1px;width:45.4px;height:2.0px;background:linear-gradient(90deg,#3366ff 0.0px 2.5px,#3264fa 2.5px 5.0px,#2f5eed 5.0px 7.6px,#2f5dec 7.6px 10.1px,#3366ff 10.1px 12.6px,#3162f7 12.6px 15.1px,#2f5eed 15.1px 17.7px,#3366ff 17.7px 20.2px,#2b55da 20.2px 22.7px,#2e5be8 22.7px 25.2px,#3060f2 25.2px 27.7px,#3060f1 27.7px 30.3px,#2b55d9 30.3px 32.8px,#2b55da 32.8px 35.3px,#2f5eed 35.3px 37.8px,#3366ff 37.8px 40.4px,#2f5eee 40.4px 42.9px,#305ff0 42.9px 45.4px)"></div><div style="position:absolute;left:91.8px;top:62.9px;width:45.4px;height:2.0px;background:linear-gradient(90deg,#3366ff 0.0px 2.5px,#2c58e0 2.5px 5.0px,#2f5eee 5.0px 7.6px,#2d5ae4 7.6px 10.1px,#3366ff 10.1px 12.6px,#2f5deb 12.6px 15.1px,#3061f4 15.1px 17.7px,#3366ff 17.7px 20.2px,#2b52d5 20.2px 22.7px,#2a4ecc 22.7px 25.2px,#2c57de 25.2px 27.7px,#2f5dec 27.7px 30.3px,#2e5be7 30.3px 32.8px,#2f5eee 32.8px 35.3px,#3060f3 35.3px 37.8px,#3366ff 37.8px 40.4px,#294ecc 40.4px 42.9px,#2d59e2 42.9px 45.4px)"></div><div style="position:absolute;left:91.8px;top:64.7px;width:45.4px;height:2.0px;background:linear-gradient(90deg,#3366ff 0.0px 2.5px,#294dca 2.5px 5.0px,#2f5eed 5.0px 7.6px,#2b53d6 7.6px 10.1px,#3366ff 10.1px 12.6px,#2c58e0 12.6px 15.1px,#2d5ae5 15.1px 17.7px,#3366ff 17.7px 20.2px,#2a4fce 20.2px 22.7px,#2a51d2 22.7px 25.2px,#294ac4 25.2px 27.7px,#2849c2 27.7px 30.3px,#2a51d3 30.3px 32.8px,#2b54d8 32.8px 35.3px,#2a4fce 35.3px 37.8px,#3366ff 37.8px 40.4px,#2b53d6 40.4px 42.9px,#2e5be7 42.9px 45.4px)"></div><div style="position:absolute;left:91.8px;top:66.5px;width:45.4px;height:2.0px;background:linear-gradient(90deg,#3366ff 0.0px 2.5px,#2e5be8 2.5px 5.0px,#3263f9 5.0px 7.6px,#3163f7 7.6px 10.1px,#3366ff 10.1px 12.6px,#3265fc 12.6px 15.1px,#3366ff 15.1px 17.7px,#3366ff 17.7px 20.2px,#3162f5 20.2px 22.7px,#3366ff 22.7px 25.2px,#3366ff 25.2px 27.7px,#3265fc 27.7px 30.3px,#3366fe 30.3px 32.8px,#2e5ce9 32.8px 35.3px,#3366ff 35.3px 37.8px,#3366ff 37.8px 40.4px,#3366ff 40.4px 42.9px,#3162f7 42.9px 45.4px)"></div><div style="position:absolute;left:91.8px;top:68.3px;width:45.4px;height:2.0px;background:linear-gradient(90deg,#2d5ae5 0.0px 2.5px,#2a4fce 2.5px 5.0px,#2848c1 5.0px 7.6px,#2844ae 7.6px 10.1px,#2e5be7 10.1px 12.6px,#2a51d2 12.6px 15.1px,#2848be 15.1px 17.7px,#3366ff 17.7px 20.2px,#2844ac 20.2px 22.7px,#2843a8 22.7px 25.2px,#2843a8 25.2px 27.7px,#2848be 27.7px 30.3px,#2a50d0 30.3px 32.8px,#2848c1 32.8px 35.3px,#2849c2 35.3px 37.8px,#3366ff 37.8px 40.4px,#2845b0 40.4px 42.9px,#2842a3 42.9px 45.4px)"></div><div style="position:absolute;left:91.8px;top:70.1px;width:45.4px;height:2.0px;background:linear-gradient(90deg,#3366ff 0.0px 2.5px,#2d5ae5 2.5px 5.0px,#2f5fef 5.0px 7.6px,#2b52d5 7.6px 10.1px,#3366ff 10.1px 12.6px,#2b53d6 12.6px 15.1px,#2c59e1 15.1px 17.7px,#3366ff 17.7px 20.2px,#2a50d0 20.2px 22.7px,#2b56db 22.7px 25.2px,#2e5be7 25.2px 27.7px,#2d59e3 27.7px 30.3px,#2a50d0 30.3px 32.8px,#2b54d7 32.8px 35.3px,#2e5cea 35.3px 37.8px,#3366ff 37.8px 40.4px,#2e5deb 40.4px 42.9px,#2c58e0 42.9px 45.4px)"></div><div style="position:absolute;left:91.8px;top:71.9px;width:45.4px;height:2.0px;background:linear-gradient(90deg,#3366ff 0.0px 2.5px,#2f5eec 2.5px 5.0px,#2e5be7 5.0px 7.6px,#2c58e1 7.6px 10.1px,#3366ff 10.1px 12.6px,#2c57dd 12.6px 15.1px,#3060f2 15.1px 17.7px,#3366ff 17.7px 20.2px,#2d5ae4 20.2px 22.7px,#2b54d8 22.7px 25.2px,#2f5fee 25.2px 27.7px,#3265fc 27.7px 30.3px,#3365fd 30.3px 32.8px,#3060f1 32.8px 35.3px,#2f5eee 35.3px 37.8px,#3366ff 37.8px 40.4px,#2d59e2 40.4px 42.9px,#2c59e2 42.9px 45.4px)"></div><div style="position:absolute;left:91.8px;top:73.7px;width:45.4px;height:2.0px;background:linear-gradient(90deg,#3366ff 0.0px 2.5px,#2f5eed 2.5px 5.0px,#3366ff 5.0px 7.6px,#3366fe 7.6px 10.1px,#3366ff 10.1px 12.6px,#3366ff 12.6px 15.1px,#3366ff 15.1px 17.7px,#3366ff 17.7px 20.2px,#2f5eed 20.2px 22.7px,#3366ff 22.7px 25.2px,#2f5deb 25.2px 27.7px,#3366ff 27.7px 30.3px,#3061f4 30.3px 32.8px,#2f5fef 32.8px 35.3px,#2e5ce8 35.3px 37.8px,#3366ff 37.8px 40.4px,#2f5eee 40.4px 42.9px,#3161f5 42.9px 45.4px)"></div><div style="position:absolute;left:91.8px;top:75.5px;width:45.4px;height:2.0px;background:linear-gradient(90deg,#3366ff 0.0px 2.5px,#2b55d9 2.5px 5.0px,#2f5dec 5.0px 7.6px,#2e5be8 7.6px 10.1px,#3366ff 10.1px 12.6px,#2b54d7 12.6px 15.1px,#3061f3 15.1px 17.7px,#3366ff 17.7px 20.2px,#2a51d3 20.2px 22.7px,#2c56dc 22.7px 25.2px,#2c56dc 25.2px 27.7px,#3366ff 27.7px 30.3px,#2d59e2 30.3px 32.8px,#2c56dd 32.8px 35.3px,#294dc9 35.3px 37.8px,#3366ff 37.8px 40.4px,#3163f8 40.4px 42.9px,#2b54d8 42.9px 45.4px)"></div><div style="position:absolute;left:91.8px;top:77.3px;width:45.4px;height:2.0px;background:linear-gradient(90deg,#3366ff 0.0px 2.5px,#3365fd 2.5px 5.0px,#3366ff 5.0px 7.6px,#3265fd 7.6px 10.1px,#3366ff 10.1px 12.6px,#3161f4 12.6px 15.1px,#3264fa 15.1px 17.7px,#3366ff 17.7px 20.2px,#3162f6 20.2px 22.7px,#3366ff 22.7px 25.2px,#3366ff 25.2px 27.7px,#3366ff 27.7px 30.3px,#3366ff 30.3px 32.8px,#3366ff 32.8px 35.3px,#3366ff 35.3px 37.8px,#3366ff 37.8px 40.4px,#3162f6 40.4px 42.9px,#3366ff 42.9px 45.4px)"></div><div style="position:absolute;left:91.8px;top:79.1px;width:45.4px;height:2.0px;background:linear-gradient(90deg,#2d5be6 0.0px 2.5px,#2a4fcf 2.5px 5.0px,#294ecb 5.0px 7.6px,#284ac4 7.6px 10.1px,#3366ff 10.1px 12.6px,#2a50d0 12.6px 15.1px,#2a4fcf 15.1px 17.7px,#3366ff 17.7px 20.2px,#294bc5 20.2px 22.7px,#294ac4 22.7px 25.2px,#2844ac 25.2px 27.7px,#2847ba 27.7px 30.3px,#294cc7 30.3px 32.8px,#2d59e2 32.8px 35.3px,#294dca 35.3px 37.8px,#3264fb 37.8px 40.4px,#294ecb 40.4px 42.9px,#2b53d6 42.9px 45.4px)"></div><div style="position:absolute;left:91.8px;top:80.9px;width:45.4px;height:2.0px;background:linear-gradient(90deg,#3366ff 0.0px 2.5px,#3366ff 2.5px 5.0px,#3366ff 5.0px 7.6px,#3264fc 7.6px 10.1px,#3366ff 10.1px 12.6px,#3366ff 12.6px 15.1px,#3061f3 15.1px 17.7px,#3366ff 17.7px 20.2px,#2f5deb 20.2px 22.7px,#2c57de 22.7px 25.2px,#2f5eed 25.2px 27.7px,#3366ff 27.7px 30.3px,#2f5deb 30.3px 32.8px,#3061f4 32.8px 35.3px,#3366ff 35.3px 37.8px,#3366ff 37.8px 40.4px,#3061f4 40.4px 42.9px,#3163f7 42.9px 45.4px)"></div><div style="position:absolute;left:91.8px;top:82.7px;width:45.4px;height:2.0px;background:linear-gradient(90deg,#3366ff 0.0px 2.5px,#2f5eee 2.5px 5.0px,#2d5be6 5.0px 7.6px,#2b56dc 7.6px 10.1px,#3366ff 10.1px 12.6px,#3060f3 12.6px 15.1px,#305ff0 15.1px 17.7px,#3366ff 17.7px 20.2px,#2b52d5 20.2px 22.7px,#2d5ae3 22.7px 25.2px,#2d5ae5 25.2px 27.7px,#3162f6 27.7px 30.3px,#2f5deb 30.3px 32.8px,#3061f3 32.8px 35.3px,#2d5ae4 35.3px 37.8px,#3366ff 37.8px 40.4px,#3263f9 40.4px 42.9px,#2c58e0 42.9px 45.4px)"></div><div style="position:absolute;left:91.8px;top:84.5px;width:45.4px;height:2.0px;background:linear-gradient(90deg,#3366ff 0.0px 2.5px,#2e5ce8 2.5px 5.0px,#3265fc 5.0px 7.6px,#3162f7 7.6px 10.1px,#3366ff 10.1px 12.6px,#2e5ce8 12.6px 15.1px,#3060f2 15.1px 17.7px,#3366ff 17.7px 20.2px,#2c57de 20.2px 22.7px,#3162f6 22.7px 25.2px,#3161f5 25.2px 27.7px,#3365fd 27.7px 30.3px,#2f5fef 30.3px 32.8px,#3162f5 32.8px 35.3px,#2d5ae5 35.3px 37.8px,#3366ff 37.8px 40.4px,#2d5ae5 40.4px 42.9px,#2f5deb 42.9px 45.4px)"></div><div style="position:absolute;left:91.8px;top:86.3px;width:45.4px;height:2.0px;background:linear-gradient(90deg,#3366ff 0.0px 2.5px,#2b52d4 2.5px 5.0px,#2d5ae4 5.0px 7.6px,#294bc7 7.6px 10.1px,#3366ff 10.1px 12.6px,#294dca 12.6px 15.1px,#2a50d0 15.1px 17.7px,#3366ff 17.7px 20.2px,#2b54d8 20.2px 22.7px,#2a50d0 22.7px 25.2px,#2d5be6 25.2px 27.7px,#2b56dc 27.7px 30.3px,#2a51d2 30.3px 32.8px,#2b55da 32.8px 35.3px,#2d59e3 35.3px 37.8px,#3366ff 37.8px 40.4px,#2d5ae5 40.4px 42.9px,#2b54d7 42.9px 45.4px)"></div><div style="position:absolute;left:91.8px;top:88.1px;width:45.4px;height:2.0px;background:linear-gradient(90deg,#3366ff 0.0px 2.5px,#2c57df 2.5px 5.0px,#2c56dc 5.0px 7.6px,#2d5be6 7.6px 10.1px,#3366ff 10.1px 12.6px,#2b52d4 12.6px 15.1px,#2e5ce9 15.1px 17.7px,#3366ff 17.7px 20.2px,#2a50d1 20.2px 22.7px,#2e5deb 22.7px 25.2px,#2e5ce9 25.2px 27.7px,#2e5ce9 27.7px 30.3px,#2d5ae4 30.3px 32.8px,#2f5eed 32.8px 35.3px,#2f5eed 35.3px 37.8px,#3366ff 37.8px 40.4px,#2e5be7 40.4px 42.9px,#2f5deb 42.9px 45.4px)"></div><div style="position:absolute;left:91.8px;top:89.9px;width:45.4px;height:2.0px;background:linear-gradient(90deg,#3366ff 0.0px 2.5px,#294bc6 2.5px 5.0px,#2c58e0 5.0px 7.6px,#2e5be7 7.6px 10.1px,#3366ff 10.1px 12.6px,#2b55db 12.6px 15.1px,#2b55da 15.1px 17.7px,#3366ff 17.7px 20.2px,#2b53d6 20.2px 22.7px,#2c57de 22.7px 25.2px,#2a4fce 25.2px 27.7px,#3163f8 27.7px 30.3px,#2e5ce9 30.3px 32.8px,#2c58e0 32.8px 35.3px,#2a51d2 35.3px 37.8px,#3265fd 37.8px 40.4px,#2f5eed 40.4px 42.9px,#2b54d8 42.9px 45.4px)"></div><div style="position:absolute;left:91.8px;top:91.7px;width:45.4px;height:2.0px;background:linear-gradient(90deg,#3366fe 0.0px 2.5px,#2b54d8 2.5px 5.0px,#2d5ae4 5.0px 7.6px,#2a50d0 7.6px 10.1px,#3366ff 10.1px 12.6px,#2c58df 12.6px 15.1px,#2f5eee 15.1px 17.7px,#3366ff 17.7px 20.2px,#2848be 20.2px 22.7px,#2a4ecc 22.7px 25.2px,#2c59e2 25.2px 27.7px,#2d5ae5 27.7px 30.3px,#2d59e2 30.3px 32.8px,#2b52d5 32.8px 35.3px,#2a50d0 35.3px 37.8px,#3366ff 37.8px 40.4px,#2b56db 40.4px 42.9px,#2c57de 42.9px 45.4px)"></div><div style="position:absolute;left:91.8px;top:93.5px;width:45.4px;height:2.0px;background:linear-gradient(90deg,#3366ff 0.0px 2.5px,#2e5cea 2.5px 5.0px,#3264fa 5.0px 7.6px,#3366ff 7.6px 10.1px,#3366ff 10.1px 12.6px,#305ff1 12.6px 15.1px,#2c58e0 15.1px 17.7px,#3366ff 17.7px 20.2px,#2c58e0 20.2px 22.7px,#2b56db 22.7px 25.2px,#2d5ae5 25.2px 27.7px,#2e5be7 27.7px 30.3px,#3162f6 30.3px 32.8px,#2a4fce 32.8px 35.3px,#2d5ae5 35.3px 37.8px,#3366ff 37.8px 40.4px,#294ecb 40.4px 42.9px,#3162f6 42.9px 45.4px)"></div><div style="position:absolute;left:91.8px;top:95.3px;width:45.4px;height:2.0px;background:linear-gradient(90deg,#3366ff 0.0px 2.5px,#2d59e3 2.5px 5.0px,#2849c1 5.0px 7.6px,#2d59e3 7.6px 10.1px,#3366ff 10.1px 12.6px,#2c59e1 12.6px 15.1px,#305ff0 15.1px 17.7px,#3366ff 17.7px 20.2px,#2846b8 20.2px 22.7px,#2a4fcf 22.7px 25.2px,#2a50d0 25.2px 27.7px,#294cc7 27.7px 30.3px,#2b56db 30.3px 32.8px,#2848bf 32.8px 35.3px,#2b56dc 35.3px 37.8px,#3366ff 37.8px 40.4px,#294ecb 40.4px 42.9px,#2c56dd 42.9px 45.4px)"></div><div style="position:absolute;left:91.8px;top:97.2px;width:45.4px;height:2.0px;background:linear-gradient(90deg,#3264fb 0.0px 2.5px,#294bc7 2.5px 5.0px,#2845b1 5.0px 7.6px,#2847b9 7.6px 10.1px,#3366ff 10.1px 12.6px,#2a4fcf 12.6px 15.1px,#2844ad 15.1px 17.7px,#3366ff 17.7px 20.2px,#2845b2 20.2px 22.7px,#284ac3 22.7px 25.2px,#28409a 25.2px 27.7px,#305ff0 27.7px 30.3px,#2a50d0 30.3px 32.8px,#2b52d4 32.8px 35.3px,#294cc8 35.3px 37.8px,#3366ff 37.8px 40.4px,#2a4ecd 40.4px 42.9px,#2d59e3 42.9px 45.4px)"></div><div style="position:absolute;left:91.8px;top:99.0px;width:45.4px;height:2.0px;background:linear-gradient(90deg,#3366ff 0.0px 2.5px,#28419f 2.5px 5.0px,#2b55d9 5.0px 7.6px,#2b54d7 7.6px 10.1px,#3366ff 10.1px 12.6px,#2a4fcd 12.6px 15.1px,#2a4fcd 15.1px 17.7px,#3366ff 17.7px 20.2px,#2b54d8 20.2px 22.7px,#294bc6 22.7px 25.2px,#2a4fce 25.2px 27.7px,#2c59e2 27.7px 30.3px,#294cc7 30.3px 32.8px,#2847ba 32.8px 35.3px,#2f5deb 35.3px 37.8px,#3366ff 37.8px 40.4px,#2d5be7 40.4px 42.9px,#2b54d9 42.9px 45.4px)"></div><div style="position:absolute;left:91.8px;top:100.8px;width:45.4px;height:2.0px;background:linear-gradient(90deg,#2a51d3 0.0px 2.5px,#283f92 2.5px 5.0px,#2a4ecd 5.0px 7.6px,#2849c2 7.6px 10.1px,#3366ff 10.1px 12.6px,#2847b9 12.6px 15.1px,#2847bd 15.1px 17.7px,#3366ff 17.7px 20.2px,#28419c 20.2px 22.7px,#283d8c 22.7px 25.2px,#2b52d5 25.2px 27.7px,#2847bc 27.7px 30.3px,#2844ae 30.3px 32.8px,#283f96 32.8px 35.3px,#2848bf 35.3px 37.8px,#3366ff 37.8px 40.4px,#2847b9 40.4px 42.9px,#294cc7 42.9px 45.4px)"></div><div style="position:absolute;left:91.8px;top:102.7px;width:45.4px;height:2.0px;background:linear-gradient(90deg,#3366ff 0.0px 2.5px,#2c57dd 2.5px 5.0px,#3061f3 5.0px 7.6px,#3366ff 7.6px 10.1px,#3366ff 10.1px 12.6px,#3366ff 12.6px 15.1px,#3163f8 15.1px 17.7px,#3366ff 17.7px 20.2px,#2a51d2 20.2px 22.7px,#3366ff 22.7px 25.2px,#2e5be8 25.2px 27.7px,#3162f7 27.7px 30.3px,#2c59e1 30.3px 32.8px,#3265fd 32.8px 35.3px,#3366ff 35.3px 37.8px,#3366ff 37.8px 40.4px,#3161f5 40.4px 42.9px,#3366ff 42.9px 45.4px)"></div><div style="position:absolute;left:91.8px;top:104.5px;width:45.4px;height:2.0px;background:linear-gradient(90deg,#3265fd 0.0px 2.5px,#2b53d6 2.5px 5.0px,#2849c2 5.0px 7.6px,#2b55da 7.6px 10.1px,#3366ff 10.1px 12.6px,#28409a 12.6px 15.1px,#2847b9 15.1px 17.7px,#3366ff 17.7px 20.2px,#2847bb 20.2px 22.7px,#2848c0 22.7px 25.2px,#2a4ecd 25.2px 27.7px,#2b55da 27.7px 30.3px,#28409a 30.3px 32.8px,#2a51d2 32.8px 35.3px,#2847ba 35.3px 37.8px,#3366ff 37.8px 40.4px,#2b52d5 40.4px 42.9px,#2d5ae5 42.9px 45.4px)"></div><div style="position:absolute;left:91.8px;top:106.3px;width:45.4px;height:2.0px;background:linear-gradient(90deg,#3060f1 0.0px 2.5px,#283f94 2.5px 5.0px,#2b54d8 5.0px 7.6px,#2c58e1 7.6px 10.1px,#3366ff 10.1px 12.6px,#2844ae 12.6px 15.1px,#2b53d6 15.1px 17.7px,#3366ff 17.7px 20.2px,#2842a0 20.2px 22.7px,#2d5ae5 22.7px 25.2px,#2b53d6 25.2px 27.7px,#2a4fce 27.7px 30.3px,#2a51d2 30.3px 32.8px,#284ac4 32.8px 35.3px,#294cc9 35.3px 37.8px,#3366ff 37.8px 40.4px,#283e90 40.4px 42.9px,#2b53d6 42.9px 45.4px)"></div><div style="position:absolute;left:91.8px;top:108.2px;width:45.4px;height:2.0px;background:linear-gradient(90deg,#3366ff 0.0px 2.5px,#3060f3 2.5px 5.0px,#3366ff 5.0px 7.6px,#2e5cea 7.6px 10.1px,#3366ff 10.1px 12.6px,#3163f8 12.6px 15.1px,#2b53d7 15.1px 17.7px,#3366ff 17.7px 20.2px,#294cc9 20.2px 22.7px,#3060f2 22.7px 25.2px,#2c59e2 25.2px 27.7px,#2f5eed 27.7px 30.3px,#3365fd 30.3px 32.8px,#2f5deb 32.8px 35.3px,#3366ff 35.3px 37.8px,#3366ff 37.8px 40.4px,#3366ff 40.4px 42.9px,#2d5be6 42.9px 45.4px)"></div><div style="position:absolute;left:91.8px;top:110.0px;width:45.4px;height:2.0px;background:linear-gradient(90deg,#3366ff 0.0px 2.5px,#3163f7 2.5px 5.0px,#3162f7 5.0px 7.6px,#3061f3 7.6px 10.1px,#3366ff 10.1px 12.6px,#2d5be6 12.6px 15.1px,#3162f5 15.1px 17.7px,#3366ff 17.7px 20.2px,#2b54d7 20.2px 22.7px,#294ecb 22.7px 25.2px,#3163f8 25.2px 27.7px,#305ff0 27.7px 30.3px,#2b53d7 30.3px 32.8px,#2a4ecd 32.8px 35.3px,#2c58e0 35.3px 37.8px,#3366ff 37.8px 40.4px,#2b56dc 40.4px 42.9px,#3365fd 42.9px 45.4px)"></div><div style="position:absolute;left:91.8px;top:111.8px;width:45.4px;height:2.0px;background:linear-gradient(90deg,#3162f7 0.0px 2.5px,#2844ad 2.5px 5.0px,#294ecc 5.0px 7.6px,#2845b0 7.6px 10.1px,#3366ff 10.1px 12.6px,#2846b6 12.6px 15.1px,#2844ad 15.1px 17.7px,#3366ff 17.7px 20.2px,#2845b2 20.2px 22.7px,#2848bf 22.7px 25.2px,#294bc6 25.2px 27.7px,#2848bf 27.7px 30.3px,#2d59e3 30.3px 32.8px,#2844ac 32.8px 35.3px,#2845b2 35.3px 37.8px,#3365fd 37.8px 40.4px,#2a50d0 40.4px 42.9px,#2847bd 42.9px 45.4px)"></div><div style="position:absolute;left:91.8px;top:113.7px;width:45.4px;height:2.0px;background:linear-gradient(90deg,#2847b9 0.0px 2.5px,#283774 2.5px 5.0px,#28419f 5.0px 7.6px,#283876 7.6px 10.1px,#3366ff 10.1px 12.6px,#28387a 12.6px 15.1px,#2842a0 15.1px 17.7px,#2847b9 17.7px 20.2px,#2a3352 20.2px 22.7px,#283e8f 22.7px 25.2px,#28397c 25.2px 27.7px,#283e8f 27.7px 30.3px,#283773 30.3px 32.8px,#293460 32.8px 35.3px,#2849c1 35.3px 37.8px,#2f5fef 37.8px 40.4px,#28397a 40.4px 42.9px,#2a3353 42.9px 45.4px)"></div><div style="position:absolute;left:91.8px;top:115.5px;width:45.4px;height:2.2px;background:linear-gradient(90deg,#2a334c 0.0px 2.5px,#5b603a 2.5px 5.0px,#484e39 5.0px 7.6px,#666a39 7.6px 10.1px,#283b83 10.1px 12.6px,#494f39 12.6px 15.1px,#545a3a 15.1px 17.7px,#28397d 17.7px 20.2px,#757739 20.2px 22.7px,#444a38 22.7px 25.2px,#555b3a 25.2px 27.7px,#4b5139 27.7px 30.3px,#4f5539 30.3px 32.8px,#656939 32.8px 35.3px,#6b6e39 35.3px 37.8px,#283a82 37.8px 40.4px,#505639 40.4px 42.9px,#3d4338 42.9px 45.4px)"></div><div style="position:absolute;left:91.8px;top:117.5px;width:45.4px;height:2.2px;background:linear-gradient(90deg,#a2a238 0.0px 2.5px,#d4cc3b 2.5px 5.0px,#c8c038 5.0px 7.6px,#c3bc38 7.6px 10.1px,#999938 10.1px 12.6px,#d3cb3b 12.6px 15.1px,#cdc539 15.1px 17.7px,#828238 17.7px 20.2px,#dbd33d 20.2px 22.7px,#cfc73a 22.7px 25.2px,#beb938 25.2px 27.7px,#bbb638 27.7px 30.3px,#cac238 30.3px 32.8px,#d4cc3b 32.8px 35.3px,#d1c93a 35.3px 37.8px,#858538 37.8px 40.4px,#b9b438 40.4px 42.9px,#ccc439 42.9px 45.4px)"></div><div style="position:absolute;left:91.8px;top:119.5px;width:45.4px;height:1.9px;background:linear-gradient(90deg,#283775 0.0px 2.5px,#a9a838 2.5px 5.0px,#717439 5.0px 7.6px,#7e7f38 7.6px 10.1px,#3366ff 10.1px 12.6px,#6c6f39 12.6px 15.1px,#555b3a 15.1px 17.7px,#2f5dec 17.7px 20.2px,#9b9b38 20.2px 22.7px,#5e633a 22.7px 25.2px,#939338 25.2px 27.7px,#686c39 27.7px 30.3px,#515739 30.3px 32.8px,#6f7139 32.8px 35.3px,#5c613a 35.3px 37.8px,#2a4fcd 37.8px 40.4px,#8b8b38 40.4px 42.9px,#4d5339 42.9px 45.4px)"></div><div style="position:absolute;left:91.8px;top:121.2px;width:45.4px;height:1.9px;background:linear-gradient(90deg,#28356d 0.0px 2.5px,#a2a238 2.5px 5.0px,#878738 5.0px 7.6px,#9f9f38 7.6px 10.1px,#2c58df 10.1px 12.6px,#6c6f39 12.6px 15.1px,#8a8a38 15.1px 17.7px,#294cc8 17.7px 20.2px,#c2bb38 20.2px 22.7px,#8d8d38 22.7px 25.2px,#abaa38 25.2px 27.7px,#4f5539 27.7px 30.3px,#888838 30.3px 32.8px,#959538 32.8px 35.3px,#767839 35.3px 37.8px,#2845b1 37.8px 40.4px,#8c8c38 40.4px 42.9px,#747739 42.9px 45.4px)"></div><div style="position:absolute;left:91.8px;top:123.0px;width:45.4px;height:1.9px;background:linear-gradient(90deg,#3e4438 0.0px 2.5px,#bbb638 2.5px 5.0px,#989838 5.0px 7.6px,#a7a738 7.6px 10.1px,#2843a6 10.1px 12.6px,#c0ba38 12.6px 15.1px,#b2af38 15.1px 17.7px,#284096 17.7px 20.2px,#b9b538 20.2px 22.7px,#b2af38 22.7px 25.2px,#adac38 25.2px 27.7px,#bab538 27.7px 30.3px,#abaa38 30.3px 32.8px,#c1bb38 32.8px 35.3px,#b8b438 35.3px 37.8px,#2847bc 37.8px 40.4px,#a3a338 40.4px 42.9px,#8f8f38 42.9px 45.4px)"></div><div style="position:absolute;left:91.8px;top:124.8px;width:45.4px;height:1.9px;background:linear-gradient(90deg,#293358 0.0px 2.5px,#b2af38 2.5px 5.0px,#a0a038 5.0px 7.6px,#999938 7.6px 10.1px,#2a50d0 10.1px 12.6px,#9a9a38 12.6px 15.1px,#656939 15.1px 17.7px,#2b53d6 17.7px 20.2px,#acab38 20.2px 22.7px,#7d7e38 22.7px 25.2px,#a9a938 25.2px 27.7px,#a5a538 27.7px 30.3px,#9e9e38 30.3px 32.8px,#a5a538 32.8px 35.3px,#7a7c38 35.3px 37.8px,#2842a4 37.8px 40.4px,#979738 40.4px 42.9px,#aead38 42.9px 45.4px)"></div><div style="position:absolute;left:91.8px;top:126.5px;width:45.4px;height:2.2px;background:linear-gradient(90deg,#b3b038 0.0px 2.5px,#c9c138 2.5px 5.0px,#c4bd38 5.0px 7.6px,#c6be38 7.6px 10.1px,#6d7039 10.1px 12.6px,#b7b338 12.6px 15.1px,#c1bb38 15.1px 17.7px,#8f8f38 17.7px 20.2px,#cec639 20.2px 22.7px,#c3bc38 22.7px 25.2px,#cec63a 25.2px 27.7px,#c1bb38 27.7px 30.3px,#cdc539 30.3px 32.8px,#d7cf3c 32.8px 35.3px,#c8c038 35.3px 37.8px,#757739 37.8px 40.4px,#ccc439 40.4px 42.9px,#c0ba38 42.9px 45.4px)"></div><div style="position:absolute;left:91.8px;top:128.5px;width:45.4px;height:2.2px;background:linear-gradient(90deg,#2845af 0.0px 2.5px,#4c5239 2.5px 5.0px,#283878 5.0px 7.6px,#283671 7.6px 10.1px,#3366ff 10.1px 12.6px,#283468 12.6px 15.1px,#2a334f 15.1px 17.7px,#294ac5 17.7px 20.2px,#999938 20.2px 22.7px,#28366f 22.7px 25.2px,#474d39 25.2px 27.7px,#29345c 27.7px 30.3px,#2b323f 30.3px 32.8px,#323837 32.8px 35.3px,#283672 35.3px 37.8px,#3366ff 37.8px 40.4px,#53593a 40.4px 42.9px,#7a7b39 42.9px 45.4px)"></div><div style="position:absolute;left:91.8px;top:130.5px;width:45.4px;height:2.2px;background:linear-gradient(90deg,#2b54d9 0.0px 2.5px,#283a7f 2.5px 5.0px,#2845b0 5.0px 7.6px,#4b5139 7.6px 10.1px,#3366ff 10.1px 12.6px,#626739 12.6px 15.1px,#444a38 15.1px 17.7px,#3366ff 17.7px 20.2px,#2f3536 20.2px 22.7px,#444a38 22.7px 25.2px,#c0ba38 25.2px 27.7px,#5c623a 27.7px 30.3px,#717439 30.3px 32.8px,#283878 32.8px 35.3px,#adac38 35.3px 37.8px,#2e5be7 37.8px 40.4px,#929238 40.4px 42.9px,#8a8a38 42.9px 45.4px)"></div><div style="position:absolute;left:91.8px;top:132.5px;width:45.4px;height:2.2px;background:linear-gradient(90deg,#bdb738 0.0px 2.5px,#d9d13c 2.5px 5.0px,#d2ca3a 5.0px 7.6px,#d8d03c 7.6px 10.1px,#a3a338 10.1px 12.6px,#d8d03c 12.6px 15.1px,#d3cb3b 15.1px 17.7px,#b1af38 17.7px 20.2px,#e6de3f 20.2px 22.7px,#cfc73a 22.7px 25.2px,#d3cb3b 25.2px 27.7px,#d9d13c 27.7px 30.3px,#dcd43d 30.3px 32.8px,#dfd73e 32.8px 35.3px,#cdc539 35.3px 37.8px,#b1ae38 37.8px 40.4px,#cfc73a 40.4px 42.9px,#d7cf3c 42.9px 45.4px)"></div><div style="position:absolute;left:91.8px;top:134.5px;width:45.4px;height:2.2px;background:linear-gradient(90deg,#aaaa38 0.0px 2.5px,#d1c93a 2.5px 5.0px,#ccc439 5.0px 7.6px,#c9c138 7.6px 10.1px,#9a9a38 10.1px 12.6px,#d9d13c 12.6px 15.1px,#ccc439 15.1px 17.7px,#a4a438 17.7px 20.2px,#dbd33d 20.2px 22.7px,#bdb838 22.7px 25.2px,#d1c93a 25.2px 27.7px,#cbc339 27.7px 30.3px,#c5be38 30.3px 32.8px,#cfc73a 32.8px 35.3px,#c8c038 35.3px 37.8px,#9a9a38 37.8px 40.4px,#cbc339 40.4px 42.9px,#cbc339 42.9px 45.4px)"></div><div style="position:absolute;left:91.8px;top:136.5px;width:45.4px;height:1.7px;background:linear-gradient(90deg,#283879 0.0px 2.5px,#303636 2.5px 5.0px,#293356 5.0px 7.6px,#29345e 7.6px 10.1px,#294bc5 10.1px 12.6px,#293461 12.6px 15.1px,#283464 15.1px 17.7px,#2842a4 17.7px 20.2px,#323837 20.2px 22.7px,#2b3346 22.7px 25.2px,#2f3536 25.2px 27.7px,#293461 27.7px 30.3px,#393f37 30.3px 32.8px,#2b3242 32.8px 35.3px,#2b3348 35.3px 37.8px,#2844ac 37.8px 40.4px,#2a3352 40.4px 42.9px,#2b3343 42.9px 45.4px)"></div><div style="position:absolute;left:91.8px;top:138.0px;width:45.4px;height:1.7px;background:linear-gradient(90deg,#283a7f 0.0px 2.5px,#424838 2.5px 5.0px,#2a3353 5.0px 7.6px,#2b3241 7.6px 10.1px,#283e92 10.1px 12.6px,#2c3236 12.6px 15.1px,#2b3346 15.1px 17.7px,#283e8f 17.7px 20.2px,#4b5139 20.2px 22.7px,#454b38 22.7px 25.2px,#3d4338 25.2px 27.7px,#2b3242 27.7px 30.3px,#343a37 30.3px 32.8px,#3b4137 32.8px 35.3px,#283672 35.3px 37.8px,#283466 37.8px 40.4px,#2d3336 40.4px 42.9px,#2b323c 42.9px 45.4px)"></div><div style="position:absolute;left:91.8px;top:139.5px;width:45.4px;height:2.2px;background:linear-gradient(90deg,#3366ff 0.0px 2.5px,#2b53d7 2.5px 5.0px,#28419c 5.0px 7.6px,#383e37 7.6px 10.1px,#3366ff 10.1px 12.6px,#2d5ae4 12.6px 15.1px,#363c37 15.1px 17.7px,#3366ff 17.7px 20.2px,#2845b2 20.2px 22.7px,#2848be 22.7px 25.2px,#2b3346 25.2px 27.7px,#294cc9 27.7px 30.3px,#3366ff 30.3px 32.8px,#28356b 32.8px 35.3px,#2b54d7 35.3px 37.8px,#3366ff 37.8px 40.4px,#283773 40.4px 42.9px,#2a334a 42.9px 45.4px)"></div><div style="position:absolute;left:91.8px;top:141.5px;width:45.4px;height:2.2px;background:linear-gradient(90deg,#283f96 0.0px 2.5px,#28409a 2.5px 5.0px,#2a334f 5.0px 7.6px,#2a334d 7.6px 10.1px,#3366ff 10.1px 12.6px,#294bc6 12.6px 15.1px,#283775 15.1px 17.7px,#3366ff 17.7px 20.2px,#2a3350 20.2px 22.7px,#28397b 22.7px 25.2px,#363c37 25.2px 27.7px,#284099 27.7px 30.3px,#2b54d7 30.3px 32.8px,#2846b8 32.8px 35.3px,#28356c 35.3px 37.8px,#3366ff 37.8px 40.4px,#28419e 40.4px 42.9px,#2846b6 42.9px 45.4px)"></div><div style="position:absolute;left:91.8px;top:143.5px;width:45.4px;height:2.2px;background:linear-gradient(90deg,#3366ff 0.0px 2.5px,#2c59e2 2.5px 5.0px,#2c59e2 5.0px 7.6px,#3366ff 7.6px 10.1px,#3366ff 10.1px 12.6px,#2843a7 12.6px 15.1px,#2c58e0 15.1px 17.7px,#3366ff 17.7px 20.2px,#2844ac 20.2px 22.7px,#2846b7 22.7px 25.2px,#283e90 25.2px 27.7px,#3162f7 27.7px 30.3px,#28419c 30.3px 32.8px,#283e8f 32.8px 35.3px,#2e5ce9 35.3px 37.8px,#3366ff 37.8px 40.4px,#2846b8 40.4px 42.9px,#284099 42.9px 45.4px)"></div><div style="position:absolute;left:91.8px;top:145.5px;width:45.4px;height:2.2px;background:linear-gradient(90deg,#3366ff 0.0px 2.5px,#2e5ce9 2.5px 5.0px,#293358 5.0px 7.6px,#283877 7.6px 10.1px,#3366ff 10.1px 12.6px,#2f5dec 12.6px 15.1px,#2846b8 15.1px 17.7px,#3366ff 17.7px 20.2px,#283e8f 20.2px 22.7px,#28397b 22.7px 25.2px,#2846b7 25.2px 27.7px,#2846b8 27.7px 30.3px,#284099 30.3px 32.8px,#2a3353 32.8px 35.3px,#2843a7 35.3px 37.8px,#3366ff 37.8px 40.4px,#28419e 40.4px 42.9px,#28409a 42.9px 45.4px)"></div><div style="position:absolute;left:91.8px;top:147.5px;width:45.4px;height:1.7px;background:linear-gradient(90deg,#4e5439 0.0px 2.5px,#b2af38 2.5px 5.0px,#bab538 5.0px 7.6px,#afad38 7.6px 10.1px,#283467 10.1px 12.6px,#9f9f38 12.6px 15.1px,#a0a038 15.1px 17.7px,#293358 17.7px 20.2px,#c2bb38 20.2px 22.7px,#9b9b38 22.7px 25.2px,#c3bc38 25.2px 27.7px,#b8b438 27.7px 30.3px,#aaa938 30.3px 32.8px,#a2a238 32.8px 35.3px,#a0a038 35.3px 37.8px,#333937 37.8px 40.4px,#bab638 40.4px 42.9px,#a3a338 42.9px 45.4px)"></div><div style="position:absolute;left:91.8px;top:149.0px;width:45.4px;height:1.7px;background:linear-gradient(90deg,#767839 0.0px 2.5px,#b2af38 2.5px 5.0px,#a0a038 5.0px 7.6px,#b5b138 7.6px 10.1px,#2a334e 10.1px 12.6px,#ccc439 12.6px 15.1px,#bab638 15.1px 17.7px,#2b3240 17.7px 20.2px,#d3cb3b 20.2px 22.7px,#bbb638 22.7px 25.2px,#b4b138 25.2px 27.7px,#a8a838 27.7px 30.3px,#bab638 30.3px 32.8px,#bdb738 32.8px 35.3px,#acab38 35.3px 37.8px,#343a37 37.8px 40.4px,#b7b338 40.4px 42.9px,#999938 42.9px 45.4px)"></div><div style="position:absolute;left:91.8px;top:150.5px;width:45.4px;height:2.2px;background:linear-gradient(90deg,#2848be 0.0px 2.5px,#2a3353 2.5px 5.0px,#283877 5.0px 7.6px,#283469 7.6px 10.1px,#3366ff 10.1px 12.6px,#283e8f 12.6px 15.1px,#28419e 15.1px 17.7px,#3264fa 17.7px 20.2px,#4e5439 20.2px 22.7px,#283671 22.7px 25.2px,#454b38 25.2px 27.7px,#2845b3 27.7px 30.3px,#2a3351 30.3px 32.8px,#2a3350 32.8px 35.3px,#2b3348 35.3px 37.8px,#2848c0 37.8px 40.4px,#3d4338 40.4px 42.9px,#383e37 42.9px 45.4px)"></div><div style="position:absolute;left:91.8px;top:152.5px;width:45.4px;height:2.2px;background:linear-gradient(90deg,#2847bb 0.0px 2.5px,#666a39 2.5px 5.0px,#2c323a 5.0px 7.6px,#414738 7.6px 10.1px,#2f5fef 10.1px 12.6px,#989838 12.6px 15.1px,#343a37 15.1px 17.7px,#2b53d5 17.7px 20.2px,#5c623a 20.2px 22.7px,#2c3238 22.7px 25.2px,#7e7f38 25.2px 27.7px,#353b37 27.7px 30.3px,#61653a 30.3px 32.8px,#818138 32.8px 35.3px,#767839 35.3px 37.8px,#3366ff 37.8px 40.4px,#5d623a 40.4px 42.9px,#2b3349 42.9px 45.4px)"></div><div style="position:absolute;left:91.8px;top:154.5px;width:45.4px;height:1.9px;background:linear-gradient(90deg,#949438 0.0px 2.5px,#b5b238 2.5px 5.0px,#bab638 5.0px 7.6px,#c5be38 7.6px 10.1px,#434938 10.1px 12.6px,#d6ce3c 12.6px 15.1px,#d7cf3c 15.1px 17.7px,#737639 17.7px 20.2px,#d5cd3b 20.2px 22.7px,#c5bd38 22.7px 25.2px,#bbb638 25.2px 27.7px,#cbc339 27.7px 30.3px,#beb938 30.3px 32.8px,#bfb938 32.8px 35.3px,#bfb938 35.3px 37.8px,#5a603a 37.8px 40.4px,#c4bd38 40.4px 42.9px,#bdb838 42.9px 45.4px)"></div><div style="position:absolute;left:91.8px;top:156.2px;width:45.4px;height:1.9px;background:linear-gradient(90deg,#9a9a38 0.0px 2.5px,#cec63a 2.5px 5.0px,#c4bd38 5.0px 7.6px,#dad23d 7.6px 10.1px,#61663a 10.1px 12.6px,#d2ca3b 12.6px 15.1px,#b6b338 15.1px 17.7px,#6b6f39 17.7px 20.2px,#e2da3f 20.2px 22.7px,#cdc539 22.7px 25.2px,#d7cf3c 25.2px 27.7px,#c7c038 27.7px 30.3px,#d0c83a 30.3px 32.8px,#c6be38 32.8px 35.3px,#d2ca3b 35.3px 37.8px,#5e633a 37.8px 40.4px,#c0ba38 40.4px 42.9px,#cfc73a 42.9px 45.4px)"></div><div style="position:absolute;left:91.8px;top:157.8px;width:45.4px;height:1.9px;background:linear-gradient(90deg,#959538 0.0px 2.5px,#c1bb38 2.5px 5.0px,#b8b438 5.0px 7.6px,#cac238 7.6px 10.1px,#4e5439 10.1px 12.6px,#b5b238 12.6px 15.1px,#d2ca3a 15.1px 17.7px,#656939 17.7px 20.2px,#d5cd3b 20.2px 22.7px,#c1bb38 22.7px 25.2px,#beb938 25.2px 27.7px,#b7b338 27.7px 30.3px,#b8b438 30.3px 32.8px,#c5be38 32.8px 35.3px,#c4bd38 35.3px 37.8px,#4a5039 37.8px 40.4px,#bbb638 40.4px 42.9px,#b5b238 42.9px 45.4px)"></div><div style="position:absolute;left:91.8px;top:159.5px;width:45.4px;height:1.9px;background:linear-gradient(90deg,#9b9b38 0.0px 2.5px,#d4cc3b 2.5px 5.0px,#ccc439 5.0px 7.6px,#c7bf38 7.6px 10.1px,#575d3a 10.1px 12.6px,#cac239 12.6px 15.1px,#cac238 15.1px 17.7px,#6e7139 17.7px 20.2px,#e5dd3f 20.2px 22.7px,#cdc539 22.7px 25.2px,#cdc539 25.2px 27.7px,#c9c138 27.7px 30.3px,#b7b438 30.3px 32.8px,#d9d13c 32.8px 35.3px,#cdc539 35.3px 37.8px,#6c6f39 37.8px 40.4px,#c5bd38 40.4px 42.9px,#cfc73a 42.9px 45.4px)"></div><div style="position:absolute;left:91.8px;top:161.2px;width:45.4px;height:1.9px;background:linear-gradient(90deg,#9b9b38 0.0px 2.5px,#cfc73a 2.5px 5.0px,#c0ba38 5.0px 7.6px,#e1d93e 7.6px 10.1px,#4d5339 10.1px 12.6px,#c5be38 12.6px 15.1px,#c3bc38 15.1px 17.7px,#6c7039 17.7px 20.2px,#ddd53d 20.2px 22.7px,#c4bd38 22.7px 25.2px,#ccc439 25.2px 27.7px,#cbc339 27.7px 30.3px,#c3bd38 30.3px 32.8px,#d3cb3b 32.8px 35.3px,#c0ba38 35.3px 37.8px,#727439 37.8px 40.4px,#cbc339 40.4px 42.9px,#dcd43d 42.9px 45.4px)"></div><div style="position:absolute;left:91.8px;top:162.8px;width:45.4px;height:1.9px;background:linear-gradient(90deg,#9e9e38 0.0px 2.5px,#d7cf3c 2.5px 5.0px,#d0c83a 5.0px 7.6px,#d4cc3b 7.6px 10.1px,#676b39 10.1px 12.6px,#d6ce3c 12.6px 15.1px,#c4bd38 15.1px 17.7px,#797b39 17.7px 20.2px,#ded63e 20.2px 22.7px,#d3cb3b 22.7px 25.2px,#e5dd3f 25.2px 27.7px,#c8c038 27.7px 30.3px,#c5be38 30.3px 32.8px,#dbd33d 32.8px 35.3px,#d1c93a 35.3px 37.8px,#6f7239 37.8px 40.4px,#c4bd38 40.4px 42.9px,#c7c038 42.9px 45.4px)"></div><div style="position:absolute;left:91.8px;top:164.5px;width:45.4px;height:1.7px;background:linear-gradient(90deg,#2a334a 0.0px 2.5px,#909038 2.5px 5.0px,#404638 5.0px 7.6px,#585e3a 7.6px 10.1px,#283774 10.1px 12.6px,#828238 12.6px 15.1px,#737539 15.1px 17.7px,#28366e 17.7px 20.2px,#62663a 20.2px 22.7px,#5d623a 22.7px 25.2px,#666a39 25.2px 27.7px,#6d7039 27.7px 30.3px,#777939 30.3px 32.8px,#6c6f39 32.8px 35.3px,#666a39 35.3px 37.8px,#283c88 37.8px 40.4px,#8a8a38 40.4px 42.9px,#444a38 42.9px 45.4px)"></div><div style="position:absolute;left:91.8px;top:166.0px;width:45.4px;height:1.7px;background:linear-gradient(90deg,#28366f 0.0px 2.5px,#464c38 2.5px 5.0px,#2c3236 5.0px 7.6px,#4a5039 7.6px 10.1px,#2842a4 10.1px 12.6px,#303636 12.6px 15.1px,#4a5039 15.1px 17.7px,#2846b6 17.7px 20.2px,#53593a 20.2px 22.7px,#52583a 22.7px 25.2px,#2f3536 25.2px 27.7px,#2a3350 27.7px 30.3px,#3a4037 30.3px 32.8px,#343a37 32.8px 35.3px,#373d37 35.3px 37.8px,#294dca 37.8px 40.4px,#4b5139 40.4px 42.9px,#2e3436 42.9px 45.4px)"></div><div style="position:absolute;left:91.8px;top:167.5px;width:45.4px;height:2.2px;background:linear-gradient(90deg,#4e5439 0.0px 2.5px,#a7a738 2.5px 5.0px,#a3a338 5.0px 7.6px,#808138 7.6px 10.1px,#28356a 10.1px 12.6px,#a6a638 12.6px 15.1px,#9d9d38 15.1px 17.7px,#283465 17.7px 20.2px,#b3b138 20.2px 22.7px,#bdb838 22.7px 25.2px,#979738 25.2px 27.7px,#929238 27.7px 30.3px,#adab38 30.3px 32.8px,#bbb738 32.8px 35.3px,#a8a838 35.3px 37.8px,#2c3239 37.8px 40.4px,#c0ba38 40.4px 42.9px,#8a8a38 42.9px 45.4px)"></div><div style="position:absolute;left:91.8px;top:169.5px;width:45.4px;height:2.2px;background:linear-gradient(90deg,#7f8038 0.0px 2.5px,#c9c138 2.5px 5.0px,#bab638 5.0px 7.6px,#c8c038 7.6px 10.1px,#383e37 10.1px 12.6px,#c9c138 12.6px 15.1px,#a7a738 15.1px 17.7px,#313736 17.7px 20.2px,#c4bd38 20.2px 22.7px,#c9c138 22.7px 25.2px,#d5cd3b 25.2px 27.7px,#bdb838 27.7px 30.3px,#bcb738 30.3px 32.8px,#c1bb38 32.8px 35.3px,#acab38 35.3px 37.8px,#293358 37.8px 40.4px,#e8e040 40.4px 42.9px,#b2b038 42.9px 45.4px)"></div><div style="position:absolute;left:139.5px;top:0.0px;width:29.8px;height:1.7px;background:linear-gradient(90deg,#aeac38 0.0px 2.5px,#a1a138 2.5px 5.0px,#9f9f38 5.0px 7.5px,#555b3a 7.5px 9.9px,#8a8a38 9.9px 12.4px,#a1a138 12.4px 14.9px,#beb938 14.9px 17.4px,#bbb738 17.4px 19.9px,#abaa38 19.9px 22.4px,#9f9f38 22.4px 24.8px,#29345f 24.8px 27.3px,#29345f 27.3px 29.8px)"></div><div style="position:absolute;left:139.5px;top:1.5px;width:29.8px;height:2.0px;background:linear-gradient(90deg,#e0d83e 0.0px 2.5px,#c2bb38 2.5px 5.0px,#cbc339 5.0px 7.5px,#686c39 7.5px 9.9px,#bdb838 9.9px 12.4px,#a5a538 12.4px 14.9px,#e8e040 14.9px 17.4px,#e8e040 17.4px 19.9px,#e8e040 19.9px 22.4px,#ccc439 22.4px 24.8px,#2a50cf 24.8px 27.3px,#2d59e2 27.3px 29.8px)"></div><div style="position:absolute;left:139.5px;top:3.3px;width:29.8px;height:2.0px;background:linear-gradient(90deg,#acab38 0.0px 2.5px,#b2b038 2.5px 5.0px,#a2a238 5.0px 7.5px,#393f37 7.5px 9.9px,#a2a238 9.9px 12.4px,#838438 12.4px 14.9px,#e8e040 14.9px 17.4px,#d6ce3c 17.4px 19.9px,#e1d93e 19.9px 22.4px,#bbb638 22.4px 24.8px,#2d59e3 24.8px 27.3px,#3162f6 27.3px 29.8px)"></div><div style="position:absolute;left:139.5px;top:5.1px;width:29.8px;height:2.0px;background:linear-gradient(90deg,#a9a938 0.0px 2.5px,#b5b238 2.5px 5.0px,#b8b438 5.0px 7.5px,#4f5539 7.5px 9.9px,#989838 9.9px 12.4px,#898938 12.4px 14.9px,#e8e040 14.9px 17.4px,#d0c83a 17.4px 19.9px,#e8e040 19.9px 22.4px,#c1bb38 22.4px 24.8px,#2c58e1 24.8px 27.3px,#2c58e1 27.3px 29.8px)"></div><div style="position:absolute;left:139.5px;top:7.0px;width:29.8px;height:2.0px;background:linear-gradient(90deg,#beb938 0.0px 2.5px,#a9a938 2.5px 5.0px,#9e9e38 5.0px 7.5px,#404638 7.5px 9.9px,#a6a638 9.9px 12.4px,#919138 12.4px 14.9px,#e8e040 14.9px 17.4px,#d8d03c 17.4px 19.9px,#e8e040 19.9px 22.4px,#c9c138 22.4px 24.8px,#2c57df 24.8px 27.3px,#305ff0 27.3px 29.8px)"></div><div style="position:absolute;left:139.5px;top:8.8px;width:29.8px;height:2.0px;background:linear-gradient(90deg,#cbc339 0.0px 2.5px,#bcb738 2.5px 5.0px,#bbb638 5.0px 7.5px,#414738 7.5px 9.9px,#b3b138 9.9px 12.4px,#989838 12.4px 14.9px,#e8e040 14.9px 17.4px,#e3db3f 17.4px 19.9px,#e8e040 19.9px 22.4px,#e2da3f 22.4px 24.8px,#2c57dd 24.8px 27.3px,#2e5cea 27.3px 29.8px)"></div><div style="position:absolute;left:139.5px;top:10.6px;width:29.8px;height:2.0px;background:linear-gradient(90deg,#b9b538 0.0px 2.5px,#b2b038 2.5px 5.0px,#9c9c38 5.0px 7.5px,#353b37 7.5px 9.9px,#868638 9.9px 12.4px,#8e8e38 12.4px 14.9px,#e8e040 14.9px 17.4px,#d5cd3b 17.4px 19.9px,#e7df40 19.9px 22.4px,#bbb638 22.4px 24.8px,#2d5be6 24.8px 27.3px,#3161f5 27.3px 29.8px)"></div><div style="position:absolute;left:139.5px;top:12.4px;width:29.8px;height:2.0px;background:linear-gradient(90deg,#c3bc38 0.0px 2.5px,#c4bd38 2.5px 5.0px,#c4bd38 5.0px 7.5px,#5f643a 7.5px 9.9px,#beb838 9.9px 12.4px,#a2a238 12.4px 14.9px,#e8e040 14.9px 17.4px,#e8e040 17.4px 19.9px,#e8e040 19.9px 22.4px,#c9c138 22.4px 24.8px,#2a51d1 24.8px 27.3px,#2c57de 27.3px 29.8px)"></div><div style="position:absolute;left:139.5px;top:14.2px;width:29.8px;height:2.0px;background:linear-gradient(90deg,#bab638 0.0px 2.5px,#c6bf38 2.5px 5.0px,#bab638 5.0px 7.5px,#656939 7.5px 9.9px,#ccc439 9.9px 12.4px,#989838 12.4px 14.9px,#e8e040 14.9px 17.4px,#e8e040 17.4px 19.9px,#e8e040 19.9px 22.4px,#cac239 22.4px 24.8px,#2b52d4 24.8px 27.3px,#2b52d4 27.3px 29.8px)"></div><div style="position:absolute;left:139.5px;top:16.1px;width:29.8px;height:2.0px;background:linear-gradient(90deg,#e4dc3f 0.0px 2.5px,#cfc73a 2.5px 5.0px,#ddd53d 5.0px 7.5px,#898938 7.5px 9.9px,#dfd73e 9.9px 12.4px,#b6b338 12.4px 14.9px,#e8e040 14.9px 17.4px,#e8e040 17.4px 19.9px,#e8e040 19.9px 22.4px,#e8e040 22.4px 24.8px,#2849c2 24.8px 27.3px,#2847bb 27.3px 29.8px)"></div><div style="position:absolute;left:139.5px;top:17.9px;width:29.8px;height:2.0px;background:linear-gradient(90deg,#dbd33d 0.0px 2.5px,#dbd33d 2.5px 5.0px,#dbd33d 5.0px 7.5px,#666a39 7.5px 9.9px,#c3bd38 9.9px 12.4px,#b3b038 12.4px 14.9px,#e8e040 14.9px 17.4px,#e8e040 17.4px 19.9px,#e8e040 19.9px 22.4px,#e8e040 22.4px 24.8px,#294dc9 24.8px 27.3px,#294cc7 27.3px 29.8px)"></div><div style="position:absolute;left:139.5px;top:19.7px;width:29.8px;height:2.0px;background:linear-gradient(90deg,#cbc339 0.0px 2.5px,#bab538 2.5px 5.0px,#c4bd38 5.0px 7.5px,#4b5139 7.5px 9.9px,#acab38 9.9px 12.4px,#aead38 12.4px 14.9px,#e8e040 14.9px 17.4px,#e8e040 17.4px 19.9px,#e8e040 19.9px 22.4px,#e4dc3f 22.4px 24.8px,#2b53d6 24.8px 27.3px,#284ac3 27.3px 29.8px)"></div><div style="position:absolute;left:139.5px;top:21.5px;width:29.8px;height:2.0px;background:linear-gradient(90deg,#cdc539 0.0px 2.5px,#c8c038 2.5px 5.0px,#cac238 5.0px 7.5px,#484e39 7.5px 9.9px,#b9b538 9.9px 12.4px,#b0ae38 12.4px 14.9px,#e8e040 14.9px 17.4px,#e8e040 17.4px 19.9px,#e8e040 19.9px 22.4px,#d7cf3c 22.4px 24.8px,#2a51d2 24.8px 27.3px,#2b52d5 27.3px 29.8px)"></div><div style="position:absolute;left:139.5px;top:23.4px;width:29.8px;height:2.0px;background:linear-gradient(90deg,#c4bd38 0.0px 2.5px,#aead38 2.5px 5.0px,#aeac38 5.0px 7.5px,#3d4338 7.5px 9.9px,#bfb938 9.9px 12.4px,#8a8a38 12.4px 14.9px,#e8e040 14.9px 17.4px,#e1d93e 17.4px 19.9px,#e4dc3f 19.9px 22.4px,#ccc439 22.4px 24.8px,#2b56dc 24.8px 27.3px,#2b55da 27.3px 29.8px)"></div><div style="position:absolute;left:139.5px;top:25.2px;width:29.8px;height:2.0px;background:linear-gradient(90deg,#c6bf38 0.0px 2.5px,#bbb638 2.5px 5.0px,#b1af38 5.0px 7.5px,#3e4438 7.5px 9.9px,#aaaa38 9.9px 12.4px,#929238 12.4px 14.9px,#e8e040 14.9px 17.4px,#d9d13c 17.4px 19.9px,#e8e040 19.9px 22.4px,#c9c138 22.4px 24.8px,#2b54d8 24.8px 27.3px,#2f5eee 27.3px 29.8px)"></div><div style="position:absolute;left:139.5px;top:27.0px;width:29.8px;height:1.7px;background:linear-gradient(90deg,#949438 0.0px 2.5px,#8b8b38 2.5px 5.0px,#8c8c38 5.0px 7.5px,#5b613a 7.5px 9.9px,#7f8038 9.9px 12.4px,#858538 12.4px 14.9px,#a1a138 14.9px 17.4px,#c4bd38 17.4px 19.9px,#bbb638 19.9px 22.4px,#8f8f38 22.4px 24.8px,#28346a 24.8px 27.3px,#28356d 27.3px 29.8px)"></div><div style="position:absolute;left:139.5px;top:28.5px;width:29.8px;height:2.0px;background:linear-gradient(90deg,#9a9a38 0.0px 2.5px,#888838 2.5px 5.0px,#a1a138 5.0px 7.5px,#2b3346 7.5px 9.9px,#8e8e38 9.9px 12.4px,#929238 12.4px 14.9px,#cfc73a 14.9px 17.4px,#b6b338 17.4px 19.9px,#e1d93e 19.9px 22.4px,#b7b338 22.4px 24.8px,#2e5cea 24.8px 27.3px,#3366ff 27.3px 29.8px)"></div><div style="position:absolute;left:139.5px;top:30.3px;width:29.8px;height:2.0px;background:linear-gradient(90deg,#b8b438 0.0px 2.5px,#a2a238 2.5px 5.0px,#adac38 5.0px 7.5px,#3f4538 7.5px 9.9px,#9b9b38 9.9px 12.4px,#838438 12.4px 14.9px,#dbd33d 14.9px 17.4px,#c9c138 17.4px 19.9px,#d3cb3b 19.9px 22.4px,#bcb738 22.4px 24.8px,#2f5eee 24.8px 27.3px,#3265fd 27.3px 29.8px)"></div><div style="position:absolute;left:139.5px;top:32.1px;width:29.8px;height:2.0px;background:linear-gradient(90deg,#bab638 0.0px 2.5px,#bfb938 2.5px 5.0px,#b3b038 5.0px 7.5px,#484e39 7.5px 9.9px,#b3b038 9.9px 12.4px,#a6a638 12.4px 14.9px,#e7df40 14.9px 17.4px,#dcd43d 17.4px 19.9px,#e8e040 19.9px 22.4px,#c6bf38 22.4px 24.8px,#2f5eed 24.8px 27.3px,#2c57de 27.3px 29.8px)"></div><div style="position:absolute;left:139.5px;top:33.9px;width:29.8px;height:2.0px;background:linear-gradient(90deg,#d2ca3a 0.0px 2.5px,#b2af38 2.5px 5.0px,#cdc539 5.0px 7.5px,#4a5039 7.5px 9.9px,#bab538 9.9px 12.4px,#abab38 12.4px 14.9px,#e8e040 14.9px 17.4px,#c1bb38 17.4px 19.9px,#e8e040 19.9px 22.4px,#dbd33d 22.4px 24.8px,#2a4ecd 24.8px 27.3px,#2e5ce9 27.3px 29.8px)"></div><div style="position:absolute;left:139.5px;top:35.7px;width:29.8px;height:2.0px;background:linear-gradient(90deg,#d6ce3b 0.0px 2.5px,#cbc339 2.5px 5.0px,#bdb838 5.0px 7.5px,#494f39 7.5px 9.9px,#b3b138 9.9px 12.4px,#abaa38 12.4px 14.9px,#e8e040 14.9px 17.4px,#e0d83e 17.4px 19.9px,#e8e040 19.9px 22.4px,#e1d93e 22.4px 24.8px,#2b54d8 24.8px 27.3px,#2d5ae5 27.3px 29.8px)"></div><div style="position:absolute;left:139.5px;top:37.6px;width:29.8px;height:2.0px;background:linear-gradient(90deg,#aeac38 0.0px 2.5px,#8f8f38 2.5px 5.0px,#a4a438 5.0px 7.5px,#29335a 7.5px 9.9px,#888838 9.9px 12.4px,#858538 12.4px 14.9px,#c7bf38 14.9px 17.4px,#c0ba38 17.4px 19.9px,#cfc73a 19.9px 22.4px,#a9a938 22.4px 24.8px,#2f5eee 24.8px 27.3px,#3366ff 27.3px 29.8px)"></div><div style="position:absolute;left:139.5px;top:39.4px;width:29.8px;height:2.0px;background:linear-gradient(90deg,#ddd53d 0.0px 2.5px,#c5be38 2.5px 5.0px,#c9c138 5.0px 7.5px,#505639 7.5px 9.9px,#b3b038 9.9px 12.4px,#a9a938 12.4px 14.9px,#e8e040 14.9px 17.4px,#e8e040 17.4px 19.9px,#e8e040 19.9px 22.4px,#c0ba38 22.4px 24.8px,#2b55d9 24.8px 27.3px,#2e5ce9 27.3px 29.8px)"></div><div style="position:absolute;left:139.5px;top:41.2px;width:29.8px;height:2.0px;background:linear-gradient(90deg,#e1d93e 0.0px 2.5px,#c8c038 2.5px 5.0px,#c2bb38 5.0px 7.5px,#717439 7.5px 9.9px,#d0c83a 9.9px 12.4px,#b8b438 12.4px 14.9px,#e8e040 14.9px 17.4px,#e8e040 17.4px 19.9px,#e8e040 19.9px 22.4px,#e4dc3f 22.4px 24.8px,#2845b1 24.8px 27.3px,#2845b3 27.3px 29.8px)"></div><div style="position:absolute;left:139.5px;top:43.0px;width:29.8px;height:2.0px;background:linear-gradient(90deg,#dad23d 0.0px 2.5px,#cac239 2.5px 5.0px,#e1d93e 5.0px 7.5px,#757739 7.5px 9.9px,#cec639 9.9px 12.4px,#aead38 12.4px 14.9px,#e8e040 14.9px 17.4px,#e8e040 17.4px 19.9px,#e8e040 19.9px 22.4px,#ded63d 22.4px 24.8px,#2a4ecc 24.8px 27.3px,#2a4ecc 27.3px 29.8px)"></div><div style="position:absolute;left:139.5px;top:44.8px;width:29.8px;height:2.0px;background:linear-gradient(90deg,#e2da3f 0.0px 2.5px,#b7b338 2.5px 5.0px,#c2bc38 5.0px 7.5px,#53593a 7.5px 9.9px,#a0a038 9.9px 12.4px,#989838 12.4px 14.9px,#dad23d 14.9px 17.4px,#d6ce3c 17.4px 19.9px,#e8e040 19.9px 22.4px,#ddd53d 22.4px 24.8px,#2a4fce 24.8px 27.3px,#2a4ecd 27.3px 29.8px)"></div><div style="position:absolute;left:139.5px;top:46.6px;width:29.8px;height:2.0px;background:linear-gradient(90deg,#c9c138 0.0px 2.5px,#bab638 2.5px 5.0px,#b2af38 5.0px 7.5px,#333937 7.5px 9.9px,#bbb638 9.9px 12.4px,#959538 12.4px 14.9px,#e8e040 14.9px 17.4px,#e8e040 17.4px 19.9px,#ded63d 19.9px 22.4px,#c2bb38 22.4px 24.8px,#2a52d3 24.8px 27.3px,#3060f2 27.3px 29.8px)"></div><div style="position:absolute;left:139.5px;top:48.4px;width:29.8px;height:2.0px;background:linear-gradient(90deg,#abaa38 0.0px 2.5px,#9c9c38 2.5px 5.0px,#9e9e38 5.0px 7.5px,#2b3345 7.5px 9.9px,#979738 9.9px 12.4px,#787a39 12.4px 14.9px,#ddd53d 14.9px 17.4px,#d5cd3b 17.4px 19.9px,#ddd53d 19.9px 22.4px,#afad38 22.4px 24.8px,#3162f7 24.8px 27.3px,#3161f5 27.3px 29.8px)"></div><div style="position:absolute;left:139.5px;top:50.2px;width:29.8px;height:2.0px;background:linear-gradient(90deg,#b3b138 0.0px 2.5px,#aeac38 2.5px 5.0px,#b1ae38 5.0px 7.5px,#383e37 7.5px 9.9px,#a9a938 9.9px 12.4px,#949438 12.4px 14.9px,#e8e040 14.9px 17.4px,#ddd53d 17.4px 19.9px,#dcd43d 19.9px 22.4px,#d1c93a 22.4px 24.8px,#2f5dec 24.8px 27.3px,#3263f8 27.3px 29.8px)"></div><div style="position:absolute;left:139.5px;top:52.1px;width:29.8px;height:2.0px;background:linear-gradient(90deg,#bfba38 0.0px 2.5px,#aeac38 2.5px 5.0px,#b4b138 5.0px 7.5px,#545a3a 7.5px 9.9px,#a2a238 9.9px 12.4px,#8a8a38 12.4px 14.9px,#dad23c 14.9px 17.4px,#e5dd3f 17.4px 19.9px,#e8e040 19.9px 22.4px,#cfc73a 22.4px 24.8px,#2e5ce9 24.8px 27.3px,#3161f5 27.3px 29.8px)"></div><div style="position:absolute;left:139.5px;top:53.9px;width:29.8px;height:2.0px;background:linear-gradient(90deg,#c4bd38 0.0px 2.5px,#9d9d38 2.5px 5.0px,#a7a738 5.0px 7.5px,#2a334a 7.5px 9.9px,#888838 9.9px 12.4px,#828338 12.4px 14.9px,#d8d03c 14.9px 17.4px,#cfc73a 17.4px 19.9px,#ded63d 19.9px 22.4px,#c7c038 22.4px 24.8px,#3060f1 24.8px 27.3px,#3366ff 27.3px 29.8px)"></div><div style="position:absolute;left:139.5px;top:55.7px;width:29.8px;height:2.0px;background:linear-gradient(90deg,#b0ae38 0.0px 2.5px,#a9a938 2.5px 5.0px,#aead38 5.0px 7.5px,#2b3240 7.5px 9.9px,#949438 9.9px 12.4px,#8e8e38 12.4px 14.9px,#c6be38 14.9px 17.4px,#c6be38 17.4px 19.9px,#d3cb3b 19.9px 22.4px,#b9b538 22.4px 24.8px,#2c57de 24.8px 27.3px,#2f5eec 27.3px 29.8px)"></div><div style="position:absolute;left:139.5px;top:57.5px;width:29.8px;height:2.0px;background:linear-gradient(90deg,#bbb638 0.0px 2.5px,#c1bb38 2.5px 5.0px,#d2ca3a 5.0px 7.5px,#363c37 7.5px 9.9px,#b2b038 9.9px 12.4px,#aaaa38 12.4px 14.9px,#e8e040 14.9px 17.4px,#e8e040 17.4px 19.9px,#e2da3e 19.9px 22.4px,#d6ce3c 22.4px 24.8px,#2c59e2 24.8px 27.3px,#2c57de 27.3px 29.8px)"></div><div style="position:absolute;left:139.5px;top:59.3px;width:29.8px;height:2.0px;background:linear-gradient(90deg,#dfd73e 0.0px 2.5px,#b7b338 2.5px 5.0px,#adac38 5.0px 7.5px,#909038 7.5px 9.9px,#d4cc3b 9.9px 12.4px,#b6b338 12.4px 14.9px,#e2da3f 14.9px 17.4px,#dfd73e 17.4px 19.9px,#d2ca3b 19.9px 22.4px,#d6ce3b 22.4px 24.8px,#2b52d5 24.8px 27.3px,#2a52d3 27.3px 29.8px)"></div><div style="position:absolute;left:139.5px;top:61.1px;width:29.8px;height:2.0px;background:linear-gradient(90deg,#7f8038 0.0px 2.5px,#61653a 2.5px 5.0px,#8e8e38 5.0px 7.5px,#283a82 7.5px 9.9px,#4c5239 9.9px 12.4px,#4d5339 12.4px 14.9px,#c3bc38 14.9px 17.4px,#c2bc38 17.4px 19.9px,#c7bf38 19.9px 22.4px,#9a9a38 22.4px 24.8px,#3366ff 24.8px 27.3px,#3366ff 27.3px 29.8px)"></div><div style="position:absolute;left:139.5px;top:62.9px;width:29.8px;height:2.0px;background:linear-gradient(90deg,#868638 0.0px 2.5px,#5a5f3a 2.5px 5.0px,#494f39 5.0px 7.5px,#29345f 7.5px 9.9px,#4e5439 9.9px 12.4px,#303636 12.4px 14.9px,#a1a138 14.9px 17.4px,#9f9f38 17.4px 19.9px,#a3a338 19.9px 22.4px,#656939 22.4px 24.8px,#3366ff 24.8px 27.3px,#3366ff 27.3px 29.8px)"></div><div style="position:absolute;left:139.5px;top:64.7px;width:29.8px;height:2.0px;background:linear-gradient(90deg,#656a39 0.0px 2.5px,#454b38 2.5px 5.0px,#52583a 5.0px 7.5px,#28366e 7.5px 9.9px,#565c3a 9.9px 12.4px,#293356 12.4px 14.9px,#888838 14.9px 17.4px,#8a8a38 17.4px 19.9px,#9a9a38 19.9px 22.4px,#858538 22.4px 24.8px,#3366ff 24.8px 27.3px,#3366ff 27.3px 29.8px)"></div><div style="position:absolute;left:139.5px;top:66.4px;width:29.8px;height:2.0px;background:linear-gradient(90deg,#939338 0.0px 2.5px,#7d7e38 2.5px 5.0px,#686c39 5.0px 7.5px,#283e91 7.5px 9.9px,#2c323a 9.9px 12.4px,#4c5239 12.4px 14.9px,#8c8c38 14.9px 17.4px,#a9a838 17.4px 19.9px,#acab38 19.9px 22.4px,#7e7f38 22.4px 24.8px,#3366ff 24.8px 27.3px,#3366ff 27.3px 29.8px)"></div><div style="position:absolute;left:139.5px;top:68.2px;width:29.8px;height:2.0px;background:linear-gradient(90deg,#b1af38 0.0px 2.5px,#737539 2.5px 5.0px,#919138 5.0px 7.5px,#283a81 7.5px 9.9px,#494f39 9.9px 12.4px,#2c323c 12.4px 14.9px,#b1ae38 14.9px 17.4px,#a8a838 17.4px 19.9px,#a9a938 19.9px 22.4px,#939338 22.4px 24.8px,#3366ff 24.8px 27.3px,#3366ff 27.3px 29.8px)"></div><div style="position:absolute;left:139.5px;top:70.0px;width:29.8px;height:2.0px;background:linear-gradient(90deg,#8b8b38 0.0px 2.5px,#4b5139 2.5px 5.0px,#545a3a 5.0px 7.5px,#283b84 7.5px 9.9px,#53593a 9.9px 12.4px,#2a334f 12.4px 14.9px,#a8a838 14.9px 17.4px,#8a8a38 17.4px 19.9px,#a8a838 19.9px 22.4px,#888838 22.4px 24.8px,#3366ff 24.8px 27.3px,#3366ff 27.3px 29.8px)"></div><div style="position:absolute;left:139.5px;top:71.8px;width:29.8px;height:2.0px;background:linear-gradient(90deg,#7d7e38 0.0px 2.5px,#4b5139 2.5px 5.0px,#646839 5.0px 7.5px,#28356c 7.5px 9.9px,#2a3349 9.9px 12.4px,#2c323a 12.4px 14.9px,#a5a538 14.9px 17.4px,#979738 17.4px 19.9px,#a9a938 19.9px 22.4px,#8d8d38 22.4px 24.8px,#3366ff 24.8px 27.3px,#3366ff 27.3px 29.8px)"></div><div style="position:absolute;left:139.5px;top:73.6px;width:29.8px;height:2.0px;background:linear-gradient(90deg,#a8a838 0.0px 2.5px,#676b39 2.5px 5.0px,#999938 5.0px 7.5px,#283775 7.5px 9.9px,#a5a538 9.9px 12.4px,#5a603a 12.4px 14.9px,#c2bc38 14.9px 17.4px,#c4bd38 17.4px 19.9px,#e8e040 19.9px 22.4px,#9e9e38 22.4px 24.8px,#3366ff 24.8px 27.3px,#3366ff 27.3px 29.8px)"></div><div style="position:absolute;left:139.5px;top:75.3px;width:29.8px;height:2.0px;background:linear-gradient(90deg,#7c7d38 0.0px 2.5px,#7f8038 2.5px 5.0px,#6e7139 5.0px 7.5px,#283773 7.5px 9.9px,#454b38 9.9px 12.4px,#2b3346 12.4px 14.9px,#b7b338 14.9px 17.4px,#a2a238 17.4px 19.9px,#c8c038 19.9px 22.4px,#919138 22.4px 24.8px,#3366ff 24.8px 27.3px,#3366ff 27.3px 29.8px)"></div><div style="position:absolute;left:139.5px;top:77.1px;width:29.8px;height:2.0px;background:linear-gradient(90deg,#646839 0.0px 2.5px,#373d37 2.5px 5.0px,#383e37 5.0px 7.5px,#2847bb 7.5px 9.9px,#53593a 9.9px 12.4px,#2a3352 12.4px 14.9px,#a6a638 14.9px 17.4px,#8c8c38 17.4px 19.9px,#a9a938 19.9px 22.4px,#575d3a 22.4px 24.8px,#3366ff 24.8px 27.3px,#3366ff 27.3px 29.8px)"></div><div style="position:absolute;left:139.5px;top:78.9px;width:29.8px;height:2.0px;background:linear-gradient(90deg,#757739 0.0px 2.5px,#7d7e38 2.5px 5.0px,#828238 5.0px 7.5px,#28397d 7.5px 9.9px,#5f643a 9.9px 12.4px,#5b603a 12.4px 14.9px,#929238 14.9px 17.4px,#a9a938 17.4px 19.9px,#acab38 19.9px 22.4px,#919138 22.4px 24.8px,#3366ff 24.8px 27.3px,#3366ff 27.3px 29.8px)"></div><div style="position:absolute;left:139.5px;top:80.7px;width:29.8px;height:2.0px;background:linear-gradient(90deg,#2c3238 0.0px 2.5px,#4b5139 2.5px 5.0px,#4c5239 5.0px 7.5px,#2844ad 7.5px 9.9px,#3e4438 9.9px 12.4px,#2a3355 12.4px 14.9px,#939338 14.9px 17.4px,#878738 17.4px 19.9px,#9e9e38 19.9px 22.4px,#6e7139 22.4px 24.8px,#3366ff 24.8px 27.3px,#3366ff 27.3px 29.8px)"></div><div style="position:absolute;left:139.5px;top:82.5px;width:29.8px;height:2.0px;background:linear-gradient(90deg,#4d5339 0.0px 2.5px,#686c39 2.5px 5.0px,#666a39 5.0px 7.5px,#2847ba 7.5px 9.9px,#484e39 9.9px 12.4px,#343a37 12.4px 14.9px,#abaa38 14.9px 17.4px,#8d8d38 17.4px 19.9px,#aaaa38 19.9px 22.4px,#a0a038 22.4px 24.8px,#3366ff 24.8px 27.3px,#3366ff 27.3px 29.8px)"></div><div style="position:absolute;left:139.5px;top:84.2px;width:29.8px;height:2.0px;background:linear-gradient(90deg,#828238 0.0px 2.5px,#7d7e38 2.5px 5.0px,#7e7f38 5.0px 7.5px,#283b84 7.5px 9.9px,#747639 9.9px 12.4px,#4a5039 12.4px 14.9px,#b7b338 14.9px 17.4px,#9c9c38 17.4px 19.9px,#c7bf38 19.9px 22.4px,#919138 22.4px 24.8px,#3366ff 24.8px 27.3px,#3366ff 27.3px 29.8px)"></div><div style="position:absolute;left:139.5px;top:86.0px;width:29.8px;height:2.0px;background:linear-gradient(90deg,#62663a 0.0px 2.5px,#898938 2.5px 5.0px,#8f8f38 5.0px 7.5px,#283469 7.5px 9.9px,#686c39 9.9px 12.4px,#646839 12.4px 14.9px,#a7a738 14.9px 17.4px,#9c9c38 17.4px 19.9px,#d7cf3c 19.9px 22.4px,#8b8b38 22.4px 24.8px,#3366ff 24.8px 27.3px,#3366ff 27.3px 29.8px)"></div><div style="position:absolute;left:139.5px;top:87.8px;width:29.8px;height:2.0px;background:linear-gradient(90deg,#7e7f38 0.0px 2.5px,#5e633a 2.5px 5.0px,#545a3a 5.0px 7.5px,#283c8a 7.5px 9.9px,#4b5139 9.9px 12.4px,#313736 12.4px 14.9px,#b4b138 14.9px 17.4px,#b1af38 17.4px 19.9px,#999938 19.9px 22.4px,#7a7c38 22.4px 24.8px,#3366ff 24.8px 27.3px,#3366ff 27.3px 29.8px)"></div><div style="position:absolute;left:139.5px;top:89.6px;width:29.8px;height:2.0px;background:linear-gradient(90deg,#5e633a 0.0px 2.5px,#60653a 2.5px 5.0px,#4b5139 5.0px 7.5px,#28356d 7.5px 9.9px,#2c3238 9.9px 12.4px,#434938 12.4px 14.9px,#a1a138 14.9px 17.4px,#757739 17.4px 19.9px,#a6a638 19.9px 22.4px,#7d7e38 22.4px 24.8px,#3366ff 24.8px 27.3px,#3366ff 27.3px 29.8px)"></div><div style="position:absolute;left:139.5px;top:91.4px;width:29.8px;height:2.0px;background:linear-gradient(90deg,#51573a 0.0px 2.5px,#6c6f39 2.5px 5.0px,#505639 5.0px 7.5px,#283d8d 7.5px 9.9px,#4b5139 9.9px 12.4px,#2d3336 12.4px 14.9px,#a6a638 14.9px 17.4px,#8c8c38 17.4px 19.9px,#999938 19.9px 22.4px,#5e633a 22.4px 24.8px,#3366ff 24.8px 27.3px,#3366ff 27.3px 29.8px)"></div><div style="position:absolute;left:139.5px;top:93.1px;width:29.8px;height:2.0px;background:linear-gradient(90deg,#949438 0.0px 2.5px,#747739 2.5px 5.0px,#7b7c38 5.0px 7.5px,#283b85 7.5px 9.9px,#757739 9.9px 12.4px,#3a4037 12.4px 14.9px,#a2a238 14.9px 17.4px,#aeac38 17.4px 19.9px,#aead38 19.9px 22.4px,#acab38 22.4px 24.8px,#3366ff 24.8px 27.3px,#3366ff 27.3px 29.8px)"></div><div style="position:absolute;left:139.5px;top:94.9px;width:29.8px;height:2.0px;background:linear-gradient(90deg,#727439 0.0px 2.5px,#53593a 2.5px 5.0px,#727439 5.0px 7.5px,#28419d 7.5px 9.9px,#4e5439 9.9px 12.4px,#434938 12.4px 14.9px,#afad38 14.9px 17.4px,#959538 17.4px 19.9px,#bdb838 19.9px 22.4px,#9b9b38 22.4px 24.8px,#3366ff 24.8px 27.3px,#3366ff 27.3px 29.8px)"></div><div style="position:absolute;left:139.5px;top:96.7px;width:29.8px;height:2.0px;background:linear-gradient(90deg,#505639 0.0px 2.5px,#707339 2.5px 5.0px,#61663a 5.0px 7.5px,#283876 7.5px 9.9px,#53593a 9.9px 12.4px,#4b5139 12.4px 14.9px,#b9b538 14.9px 17.4px,#a7a738 17.4px 19.9px,#9f9f38 19.9px 22.4px,#8c8c38 22.4px 24.8px,#3366ff 24.8px 27.3px,#3366ff 27.3px 29.8px)"></div><div style="position:absolute;left:139.5px;top:98.5px;width:29.8px;height:2.0px;background:linear-gradient(90deg,#717439 0.0px 2.5px,#4d5339 2.5px 5.0px,#636739 5.0px 7.5px,#283b85 7.5px 9.9px,#4c5239 9.9px 12.4px,#454b38 12.4px 14.9px,#878738 14.9px 17.4px,#60653a 17.4px 19.9px,#9c9c38 19.9px 22.4px,#8c8c38 22.4px 24.8px,#3366ff 24.8px 27.3px,#3366ff 27.3px 29.8px)"></div><div style="position:absolute;left:139.5px;top:100.3px;width:29.8px;height:2.0px;background:linear-gradient(90deg,#a2a238 0.0px 2.5px,#4e5439 2.5px 5.0px,#787a39 5.0px 7.5px,#283d8b 7.5px 9.9px,#7c7d38 9.9px 12.4px,#6a6e39 12.4px 14.9px,#adac38 14.9px 17.4px,#939338 17.4px 19.9px,#a9a938 19.9px 22.4px,#979738 22.4px 24.8px,#3366ff 24.8px 27.3px,#3366ff 27.3px 29.8px)"></div><div style="position:absolute;left:139.5px;top:102.0px;width:29.8px;height:2.0px;background:linear-gradient(90deg,#b3b038 0.0px 2.5px,#b1af38 2.5px 5.0px,#8c8c38 5.0px 7.5px,#434938 7.5px 9.9px,#909038 9.9px 12.4px,#7e7f38 12.4px 14.9px,#e5dd3f 14.9px 17.4px,#cdc539 17.4px 19.9px,#c9c138 19.9px 22.4px,#b1af38 22.4px 24.8px,#3366ff 24.8px 27.3px,#3264fc 27.3px 29.8px)"></div><div style="position:absolute;left:139.5px;top:103.8px;width:29.8px;height:2.0px;background:linear-gradient(90deg,#8a8a38 0.0px 2.5px,#8c8c38 2.5px 5.0px,#555b3a 5.0px 7.5px,#283a82 7.5px 9.9px,#424838 9.9px 12.4px,#676b39 12.4px 14.9px,#a0a038 14.9px 17.4px,#9b9b38 17.4px 19.9px,#a6a638 19.9px 22.4px,#7f8038 22.4px 24.8px,#3366ff 24.8px 27.3px,#3366ff 27.3px 29.8px)"></div><div style="position:absolute;left:139.5px;top:105.6px;width:29.8px;height:2.0px;background:linear-gradient(90deg,#868638 0.0px 2.5px,#7e7f38 2.5px 5.0px,#545a3a 5.0px 7.5px,#283f95 7.5px 9.9px,#53593a 9.9px 12.4px,#2c3239 12.4px 14.9px,#bfba38 14.9px 17.4px,#a5a538 17.4px 19.9px,#d1c93a 19.9px 22.4px,#878738 22.4px 24.8px,#3366ff 24.8px 27.3px,#3366ff 27.3px 29.8px)"></div><div style="position:absolute;left:139.5px;top:107.4px;width:29.8px;height:2.0px;background:linear-gradient(90deg,#7f8038 0.0px 2.5px,#959538 2.5px 5.0px,#757839 5.0px 7.5px,#283a80 7.5px 9.9px,#53593a 9.9px 12.4px,#2e3436 12.4px 14.9px,#9b9b38 14.9px 17.4px,#949438 17.4px 19.9px,#bbb638 19.9px 22.4px,#818238 22.4px 24.8px,#3265fd 24.8px 27.3px,#3366ff 27.3px 29.8px)"></div><div style="position:absolute;left:139.5px;top:109.2px;width:29.8px;height:2.0px;background:linear-gradient(90deg,#8e8e38 0.0px 2.5px,#a2a238 2.5px 5.0px,#959538 5.0px 7.5px,#283879 7.5px 9.9px,#595f3a 9.9px 12.4px,#515739 12.4px 14.9px,#bdb838 14.9px 17.4px,#a9a938 17.4px 19.9px,#a7a738 19.9px 22.4px,#828338 22.4px 24.8px,#3366ff 24.8px 27.3px,#3366ff 27.3px 29.8px)"></div><div style="position:absolute;left:139.5px;top:110.9px;width:29.8px;height:2.0px;background:linear-gradient(90deg,#9f9f38 0.0px 2.5px,#a9a938 2.5px 5.0px,#8d8d38 5.0px 7.5px,#2b323c 7.5px 9.9px,#a8a838 9.9px 12.4px,#898938 12.4px 14.9px,#ccc439 14.9px 17.4px,#d7cf3c 17.4px 19.9px,#c1bb38 19.9px 22.4px,#b7b338 22.4px 24.8px,#3264fa 24.8px 27.3px,#3264fa 27.3px 29.8px)"></div><div style="position:absolute;left:139.5px;top:112.7px;width:29.8px;height:2.0px;background:linear-gradient(90deg,#7e7f38 0.0px 2.5px,#6d7039 2.5px 5.0px,#6e7139 5.0px 7.5px,#283670 7.5px 9.9px,#5a5f3a 9.9px 12.4px,#4d5339 12.4px 14.9px,#a0a038 14.9px 17.4px,#9d9d38 17.4px 19.9px,#bab638 19.9px 22.4px,#afae38 22.4px 24.8px,#3366ff 24.8px 27.3px,#3366ff 27.3px 29.8px)"></div><div style="position:absolute;left:139.5px;top:114.5px;width:29.8px;height:2.4px;background:linear-gradient(90deg,#ccc439 0.0px 2.5px,#c7bf38 2.5px 5.0px,#c3bc38 5.0px 7.5px,#b8b438 7.5px 9.9px,#bfb938 9.9px 12.4px,#c4bd38 12.4px 14.9px,#d3cb3b 14.9px 17.4px,#cfc73a 17.4px 19.9px,#cbc339 19.9px 22.4px,#d2ca3a 22.4px 24.8px,#8b8b38 24.8px 27.3px,#999938 27.3px 29.8px)"></div><div style="position:absolute;left:139.5px;top:116.7px;width:29.8px;height:2.4px;background:linear-gradient(90deg,#c8c038 0.0px 2.5px,#bbb638 2.5px 5.0px,#d0c83a 5.0px 7.5px,#a8a838 7.5px 9.9px,#d3cb3b 9.9px 12.4px,#c4bd38 12.4px 14.9px,#d7cf3c 14.9px 17.4px,#cdc539 17.4px 19.9px,#c9c138 19.9px 22.4px,#c1ba38 22.4px 24.8px,#969638 24.8px 27.3px,#919138 27.3px 29.8px)"></div><div style="position:absolute;left:139.5px;top:118.9px;width:29.8px;height:1.7px;background:linear-gradient(90deg,#2a334b 0.0px 2.5px,#2c323a 2.5px 5.0px,#283464 5.0px 7.5px,#283466 7.5px 9.9px,#283464 9.9px 12.4px,#4b5139 12.4px 14.9px,#878738 14.9px 17.4px,#414738 17.4px 19.9px,#7c7d38 19.9px 22.4px,#c4bd38 22.4px 24.8px,#3263f8 24.8px 27.3px,#3366ff 27.3px 29.8px)"></div><div style="position:absolute;left:139.5px;top:120.4px;width:29.8px;height:1.7px;background:linear-gradient(90deg,#28409a 0.0px 2.5px,#2843a6 2.5px 5.0px,#2842a2 5.0px 7.5px,#2849c2 7.5px 9.9px,#4b5139 9.9px 12.4px,#283c89 12.4px 14.9px,#283f95 14.9px 17.4px,#28387a 17.4px 19.9px,#2844aa 19.9px 22.4px,#2b3343 22.4px 24.8px,#3366ff 24.8px 27.3px,#3366ff 27.3px 29.8px)"></div><div style="position:absolute;left:139.5px;top:122.0px;width:29.8px;height:1.7px;background:linear-gradient(90deg,#28419e 0.0px 2.5px,#636739 2.5px 5.0px,#2844ae 5.0px 7.5px,#2847bc 7.5px 9.9px,#2b3349 9.9px 12.4px,#2a3351 12.4px 14.9px,#2b3347 14.9px 17.4px,#5c613a 17.4px 19.9px,#61663a 19.9px 22.4px,#464c38 22.4px 24.8px,#3162f5 24.8px 27.3px,#294dca 27.3px 29.8px)"></div><div style="position:absolute;left:139.5px;top:123.5px;width:29.8px;height:1.7px;background:linear-gradient(90deg,#2842a4 0.0px 2.5px,#294ecb 2.5px 5.0px,#2b55d9 5.0px 7.5px,#3264fa 7.5px 9.9px,#294dcb 9.9px 12.4px,#2846b8 12.4px 14.9px,#2844ae 14.9px 17.4px,#283d8d 17.4px 19.9px,#283774 19.9px 22.4px,#284097 22.4px 24.8px,#3366ff 24.8px 27.3px,#3366ff 27.3px 29.8px)"></div><div style="position:absolute;left:139.5px;top:125.0px;width:29.8px;height:1.7px;background:linear-gradient(90deg,#2842a1 0.0px 2.5px,#2c58e0 2.5px 5.0px,#2845af 5.0px 7.5px,#3061f3 7.5px 9.9px,#2846b8 9.9px 12.4px,#2c57df 12.4px 14.9px,#293461 14.9px 17.4px,#283b85 17.4px 19.9px,#283b85 19.9px 22.4px,#2844ab 22.4px 24.8px,#3366ff 24.8px 27.3px,#3366ff 27.3px 29.8px)"></div><div style="position:absolute;left:139.5px;top:126.5px;width:29.8px;height:1.7px;background:linear-gradient(90deg,#9b9b38 0.0px 2.5px,#939338 2.5px 5.0px,#909038 5.0px 7.5px,#787a39 7.5px 9.9px,#8e8e38 9.9px 12.4px,#868638 12.4px 14.9px,#cbc339 14.9px 17.4px,#afad38 17.4px 19.9px,#b8b438 19.9px 22.4px,#b5b238 22.4px 24.8px,#283b84 24.8px 27.3px,#2a334b 27.3px 29.8px)"></div><div style="position:absolute;left:139.5px;top:128.0px;width:29.8px;height:1.7px;background:linear-gradient(90deg,#979738 0.0px 2.5px,#a2a238 2.5px 5.0px,#828238 5.0px 7.5px,#5d623a 7.5px 9.9px,#717439 9.9px 12.4px,#838338 12.4px 14.9px,#a7a738 14.9px 17.4px,#a5a538 17.4px 19.9px,#a9a838 19.9px 22.4px,#a3a338 22.4px 24.8px,#283a81 24.8px 27.3px,#283775 27.3px 29.8px)"></div><div style="position:absolute;left:139.5px;top:129.5px;width:29.8px;height:1.7px;background:linear-gradient(90deg,#293358 0.0px 2.5px,#28397c 2.5px 5.0px,#28419e 5.0px 7.5px,#283466 7.5px 9.9px,#3e4438 9.9px 12.4px,#414738 12.4px 14.9px,#60653a 14.9px 17.4px,#8b8b38 17.4px 19.9px,#28366f 19.9px 22.4px,#2b3240 22.4px 24.8px,#2842a4 24.8px 27.3px,#3162f5 27.3px 29.8px)"></div><div style="position:absolute;left:139.5px;top:131.0px;width:29.8px;height:1.7px;background:linear-gradient(90deg,#7f8038 0.0px 2.5px,#373d37 2.5px 5.0px,#28366f 5.0px 7.5px,#373d37 7.5px 9.9px,#515739 9.9px 12.4px,#283773 12.4px 14.9px,#585d3a 14.9px 17.4px,#cfc73a 17.4px 19.9px,#494f39 19.9px 22.4px,#5a5f3a 22.4px 24.8px,#2e5ce8 24.8px 27.3px,#2849c1 27.3px 29.8px)"></div><div style="position:absolute;left:139.5px;top:132.5px;width:29.8px;height:2.2px;background:linear-gradient(90deg,#bab638 0.0px 2.5px,#bbb638 2.5px 5.0px,#acab38 5.0px 7.5px,#919138 7.5px 9.9px,#b3b038 9.9px 12.4px,#aead38 12.4px 14.9px,#bbb638 14.9px 17.4px,#b0ae38 17.4px 19.9px,#c3bc38 19.9px 22.4px,#b8b438 22.4px 24.8px,#60653a 24.8px 27.3px,#5f643a 27.3px 29.8px)"></div><div style="position:absolute;left:139.5px;top:134.5px;width:29.8px;height:2.2px;background:linear-gradient(90deg,#bfb938 0.0px 2.5px,#bab638 2.5px 5.0px,#c3bd38 5.0px 7.5px,#949438 7.5px 9.9px,#adac38 9.9px 12.4px,#a4a438 12.4px 14.9px,#cac239 14.9px 17.4px,#bab638 17.4px 19.9px,#cfc73a 19.9px 22.4px,#bcb738 22.4px 24.8px,#646839 24.8px 27.3px,#62663a 27.3px 29.8px)"></div><div style="position:absolute;left:139.5px;top:136.5px;width:29.8px;height:2.0px;background:linear-gradient(90deg,#2c323c 0.0px 2.5px,#2846b4 2.5px 5.0px,#284097 5.0px 7.5px,#2a51d3 7.5px 9.9px,#2848be 9.9px 12.4px,#28419b 12.4px 14.9px,#2c323b 14.9px 17.4px,#383e37 17.4px 19.9px,#5b603a 19.9px 22.4px,#303636 22.4px 24.8px,#3366ff 24.8px 27.3px,#3366ff 27.3px 29.8px)"></div><div style="position:absolute;left:139.5px;top:138.3px;width:29.8px;height:2.0px;background:linear-gradient(90deg,#4b5139 0.0px 2.5px,#4f5539 2.5px 5.0px,#353b37 5.0px 7.5px,#283467 7.5px 9.9px,#283467 9.9px 12.4px,#2846b5 12.4px 14.9px,#2b3242 14.9px 17.4px,#2d3336 17.4px 19.9px,#7f8038 19.9px 22.4px,#28356d 22.4px 24.8px,#3162f7 24.8px 27.3px,#3366ff 27.3px 29.8px)"></div><div style="position:absolute;left:139.5px;top:140.1px;width:29.8px;height:2.0px;background:linear-gradient(90deg,#283c88 0.0px 2.5px,#505639 2.5px 5.0px,#434938 5.0px 7.5px,#2a4fce 7.5px 9.9px,#2a334f 9.9px 12.4px,#2e5deb 12.4px 14.9px,#62663a 14.9px 17.4px,#283c89 17.4px 19.9px,#6f7239 19.9px 22.4px,#283462 22.4px 24.8px,#3162f6 24.8px 27.3px,#3365fe 27.3px 29.8px)"></div><div style="position:absolute;left:139.5px;top:141.9px;width:29.8px;height:2.0px;background:linear-gradient(90deg,#2b3348 0.0px 2.5px,#2a334f 2.5px 5.0px,#323837 5.0px 7.5px,#28419c 7.5px 9.9px,#2b3240 9.9px 12.4px,#2844ad 12.4px 14.9px,#2b3241 14.9px 17.4px,#424838 17.4px 19.9px,#28419c 19.9px 22.4px,#28346a 22.4px 24.8px,#2d5be6 24.8px 27.3px,#3366ff 27.3px 29.8px)"></div><div style="position:absolute;left:139.5px;top:143.7px;width:29.8px;height:2.0px;background:linear-gradient(90deg,#2847b9 0.0px 2.5px,#505639 2.5px 5.0px,#283c88 5.0px 7.5px,#2847ba 7.5px 9.9px,#3e4438 9.9px 12.4px,#2843a5 12.4px 14.9px,#2a334b 14.9px 17.4px,#303636 17.4px 19.9px,#2a3355 19.9px 22.4px,#52583a 22.4px 24.8px,#2b52d4 24.8px 27.3px,#3366ff 27.3px 29.8px)"></div><div style="position:absolute;left:139.5px;top:145.5px;width:29.8px;height:2.2px;background:linear-gradient(90deg,#3a4037 0.0px 2.5px,#313736 2.5px 5.0px,#404638 5.0px 7.5px,#29335a 7.5px 9.9px,#4b5139 9.9px 12.4px,#2e3436 12.4px 14.9px,#444a38 14.9px 17.4px,#494f39 17.4px 19.9px,#53593a 19.9px 22.4px,#3e4438 22.4px 24.8px,#283e92 24.8px 27.3px,#28397c 27.3px 29.8px)"></div><div style="position:absolute;left:139.5px;top:147.5px;width:29.8px;height:2.5px;background:linear-gradient(90deg,#c4bd38 0.0px 2.5px,#d1c93a 2.5px 5.0px,#d8d03c 5.0px 7.5px,#9f9f38 7.5px 9.9px,#c5be38 9.9px 12.4px,#b6b338 12.4px 14.9px,#d4cc3b 14.9px 17.4px,#d5cd3b 17.4px 19.9px,#cdc539 19.9px 22.4px,#e2da3f 22.4px 24.8px,#969638 24.8px 27.3px,#848438 27.3px 29.8px)"></div><div style="position:absolute;left:139.5px;top:149.8px;width:29.8px;height:2.5px;background:linear-gradient(90deg,#d6ce3c 0.0px 2.5px,#b7b338 2.5px 5.0px,#d4cc3b 5.0px 7.5px,#a1a138 7.5px 9.9px,#c9c138 9.9px 12.4px,#c1ba38 12.4px 14.9px,#ded63e 14.9px 17.4px,#d8d03c 17.4px 19.9px,#e0d83e 19.9px 22.4px,#cac238 22.4px 24.8px,#757739 24.8px 27.3px,#898938 27.3px 29.8px)"></div><div style="position:absolute;left:139.5px;top:152.0px;width:29.8px;height:2.7px;background:linear-gradient(90deg,#8b8b38 0.0px 2.5px,#898938 2.5px 5.0px,#979738 5.0px 7.5px,#6b6e39 7.5px 9.9px,#929238 9.9px 12.4px,#7d7e38 12.4px 14.9px,#afad38 14.9px 17.4px,#878738 17.4px 19.9px,#adac38 19.9px 22.4px,#999938 22.4px 24.8px,#2c3236 24.8px 27.3px,#2c3237 27.3px 29.8px)"></div><div style="position:absolute;left:139.5px;top:154.5px;width:29.8px;height:2.1px;background:linear-gradient(90deg,#28419d 0.0px 2.5px,#2a334b 2.5px 5.0px,#283469 5.0px 7.5px,#2b55da 7.5px 9.9px,#454b38 9.9px 12.4px,#283776 12.4px 14.9px,#283a80 14.9px 17.4px,#283a7f 17.4px 19.9px,#464c38 19.9px 22.4px,#283b84 22.4px 24.8px,#e8e040 24.8px 27.3px,#3366ff 27.3px 29.8px)"></div><div style="position:absolute;left:139.5px;top:156.4px;width:29.8px;height:2.1px;background:linear-gradient(90deg,#283c89 0.0px 2.5px,#2844aa 2.5px 5.0px,#2a334b 5.0px 7.5px,#2a4fce 7.5px 9.9px,#2a50d1 9.9px 12.4px,#2844ac 12.4px 14.9px,#293460 14.9px 17.4px,#2a3354 17.4px 19.9px,#2b323f 19.9px 22.4px,#283671 22.4px 24.8px,#e8e040 24.8px 27.3px,#3264fa 27.3px 29.8px)"></div><div style="position:absolute;left:139.5px;top:158.3px;width:29.8px;height:2.1px;background:linear-gradient(90deg,#284097 0.0px 2.5px,#283d8b 2.5px 5.0px,#2848c0 5.0px 7.5px,#283e91 7.5px 9.9px,#28419f 9.9px 12.4px,#2844ad 12.4px 14.9px,#29345c 14.9px 17.4px,#293460 17.4px 19.9px,#284098 19.9px 22.4px,#283c88 22.4px 24.8px,#dfd73e 24.8px 27.3px,#3366ff 27.3px 29.8px)"></div><div style="position:absolute;left:139.5px;top:160.2px;width:29.8px;height:2.1px;background:linear-gradient(90deg,#283f94 0.0px 2.5px,#28419c 2.5px 5.0px,#2848be 5.0px 7.5px,#283d8d 7.5px 9.9px,#2845b1 9.9px 12.4px,#2843a8 12.4px 14.9px,#464c38 14.9px 17.4px,#283c87 17.4px 19.9px,#283469 19.9px 22.4px,#2b55da 22.4px 24.8px,#e8e040 24.8px 27.3px,#294cc7 27.3px 29.8px)"></div><div style="position:absolute;left:139.5px;top:162.1px;width:29.8px;height:2.1px;background:linear-gradient(90deg,#2846b4 0.0px 2.5px,#2844ac 2.5px 5.0px,#2a334f 5.0px 7.5px,#283a81 7.5px 9.9px,#283c89 9.9px 12.4px,#393f37 12.4px 14.9px,#293356 14.9px 17.4px,#28397b 17.4px 19.9px,#2c3236 19.9px 22.4px,#28397d 22.4px 24.8px,#acab38 24.8px 27.3px,#3366ff 27.3px 29.8px)"></div><div style="position:absolute;left:139.5px;top:163.9px;width:29.8px;height:2.1px;background:linear-gradient(90deg,#2a4ecd 0.0px 2.5px,#28366f 2.5px 5.0px,#2a3351 5.0px 7.5px,#2f5dec 7.5px 9.9px,#2a51d2 9.9px 12.4px,#294ac5 12.4px 14.9px,#29345e 14.9px 17.4px,#2845b3 17.4px 19.9px,#2a334f 19.9px 22.4px,#283879 22.4px 24.8px,#d5cd3b 24.8px 27.3px,#2a52d4 27.3px 29.8px)"></div><div style="position:absolute;left:139.5px;top:165.8px;width:29.8px;height:2.1px;background:linear-gradient(90deg,#3366fe 0.0px 2.5px,#2842a1 2.5px 5.0px,#2a52d3 5.0px 7.5px,#2b53d6 7.5px 9.9px,#3366ff 9.9px 12.4px,#2846b8 12.4px 14.9px,#2e5deb 14.9px 17.4px,#3366ff 17.4px 19.9px,#2846b7 19.9px 22.4px,#2844aa 22.4px 24.8px,#a0a038 24.8px 27.3px,#3366ff 27.3px 29.8px)"></div><div style="position:absolute;left:139.5px;top:167.7px;width:29.8px;height:2.1px;background:linear-gradient(90deg,#283f95 0.0px 2.5px,#28419f 2.5px 5.0px,#2a50d0 5.0px 7.5px,#283e91 7.5px 9.9px,#3366ff 9.9px 12.4px,#2a334b 12.4px 14.9px,#3f4538 14.9px 17.4px,#283775 17.4px 19.9px,#2849c2 19.9px 22.4px,#284098 22.4px 24.8px,#b7b338 24.8px 27.3px,#3366ff 27.3px 29.8px)"></div><div style="position:absolute;left:139.5px;top:169.6px;width:29.8px;height:2.1px;background:linear-gradient(90deg,#283467 0.0px 2.5px,#294cc8 2.5px 5.0px,#28356c 5.0px 7.5px,#283877 7.5px 9.9px,#2c323a 9.9px 12.4px,#2847b9 12.4px 14.9px,#28397d 14.9px 17.4px,#28397d 17.4px 19.9px,#2a334e 19.9px 22.4px,#2843a5 22.4px 24.8px,#bdb738 24.8px 27.3px,#3366ff 27.3px 29.8px)"></div></div><div style="left:295.40px;top:272.10px;width:7.70px;height:101.90px;background:linear-gradient(180deg,#180f0f 0.0px 1.0px,#1b0e0e 1.0px 2.0px,#131415 2.0px 3.0px,#131516 3.0px 4.0px,#161010 4.0px 5.0px,#1d0d0d 5.0px 6.0px,#161010 6.0px 7.0px,#141617 7.0px 8.0px,#131415 8.0px 9.0px,#131111 9.0px 10.0px,#190f0f 10.0px 11.0px,#141111 11.0px 12.0px,#121212 12.0px 13.0px,#121212 13.0px 14.0px,#151111 14.0px 15.0px,#131415 15.0px 16.0px,#141111 16.0px 17.0px,#151111 17.0px 18.0px,#1c0d0d 18.0px 19.0px,#131111 19.0px 20.0px,#190f0f 20.0px 21.0px,#131516 21.0px 22.0px,#180f0f 22.0px 23.0px,#151111 23.0px 24.0px,#121313 24.0px 25.0px,#141111 25.0px 26.0px,#180f0f 26.0px 27.0px,#121212 27.0px 28.0px,#190f0f 28.0px 29.0px,#1c0d0d 29.0px 30.0px,#1c0d0d 30.0px 31.0px,#1c0d0d 31.0px 32.0px,#141618 32.0px 33.0px,#151010 33.0px 34.0px,#131414 34.0px 35.0px,#190f0f 35.0px 36.0px,#141111 36.0px 37.0px,#151111 37.0px 38.0px,#161010 38.0px 39.0px,#131314 39.0px 40.0px,#141111 40.0px 41.0px,#131414 41.0px 42.0px,#1f0c0c 42.0px 43.0px,#121313 43.0px 44.0px,#141111 44.0px 45.0px,#15191b 45.0px 46.0px,#141719 46.0px 47.0px,#131415 47.0px 48.0px,#180f0f 48.0px 49.0px,#180f0f 49.0px 50.0px,#151010 50.0px 50.9px,#131314 50.9px 51.9px,#1d0d0d 51.9px 52.9px,#131516 52.9px 53.9px,#131415 53.9px 54.9px,#161010 54.9px 55.9px,#131516 55.9px 56.9px,#151111 56.9px 57.9px,#190f0f 57.9px 58.9px,#131111 58.9px 59.9px,#161010 59.9px 60.9px,#141111 60.9px 61.9px,#131414 61.9px 62.9px,#171f24 62.9px 63.9px,#141618 63.9px 64.9px,#141111 64.9px 65.9px,#15181a 65.9px 66.9px,#121313 66.9px 67.9px,#151111 67.9px 68.9px,#1b0e0e 68.9px 69.9px,#141719 69.9px 70.9px,#121313 70.9px 71.9px,#151111 71.9px 72.9px,#161010 72.9px 73.9px,#141719 73.9px 74.9px,#1d0d0d 74.9px 75.9px,#131415 75.9px 76.9px,#190e0e 76.9px 77.9px,#131212 77.9px 78.9px,#161010 78.9px 79.9px,#1c0d0d 79.9px 80.9px,#170f0f 80.9px 81.9px,#141111 81.9px 82.9px,#131516 82.9px 83.9px,#131414 83.9px 84.9px,#141719 84.9px 85.9px,#1e0c0c 85.9px 86.9px,#14181a 86.9px 87.9px,#161d20 87.9px 88.9px,#1c0d0d 88.9px 89.9px,#1a0e0e 89.9px 90.9px,#121212 90.9px 91.9px,#180f0f 91.9px 92.9px,#131415 92.9px 93.9px,#121314 93.9px 94.9px,#161010 94.9px 95.9px,#161010 95.9px 96.9px,#121313 96.9px 97.9px,#1c0d0d 97.9px 98.9px,#180f0f 98.9px 99.9px,#141111 99.9px 100.9px,#141617 100.9px 101.9px)"></div><div style="left:304.90px;top:272.10px;width:7.70px;height:101.90px;background:linear-gradient(180deg,#141111 0.0px 1.0px,#121212 1.0px 2.0px,#131111 2.0px 3.0px,#180f0f 3.0px 4.0px,#121314 4.0px 5.0px,#151111 5.0px 6.0px,#180f0f 6.0px 7.0px,#161010 7.0px 8.0px,#200b0b 8.0px 9.0px,#15191b 9.0px 10.0px,#131111 10.0px 11.0px,#141618 11.0px 12.0px,#131111 12.0px 13.0px,#210b0b 13.0px 14.0px,#15181a 14.0px 15.0px,#121212 15.0px 16.0px,#171010 16.0px 17.0px,#141111 17.0px 18.0px,#190f0f 18.0px 19.0px,#14181a 19.0px 20.0px,#190f0f 20.0px 21.0px,#131516 21.0px 22.0px,#141618 22.0px 23.0px,#171010 23.0px 24.0px,#161010 24.0px 25.0px,#131415 25.0px 26.0px,#131415 26.0px 27.0px,#131212 27.0px 28.0px,#141111 28.0px 29.0px,#131212 29.0px 30.0px,#131516 30.0px 31.0px,#161b1f 31.0px 32.0px,#1b0e0e 32.0px 33.0px,#151111 33.0px 34.0px,#141618 34.0px 35.0px,#14181a 35.0px 36.0px,#131414 36.0px 37.0px,#121213 37.0px 38.0px,#161b1e 38.0px 39.0px,#1b0e0e 39.0px 40.0px,#161010 40.0px 41.0px,#121212 41.0px 42.0px,#151010 42.0px 43.0px,#151111 43.0px 44.0px,#190f0f 44.0px 45.0px,#141111 45.0px 46.0px,#1a0e0e 46.0px 47.0px,#1c0d0d 47.0px 48.0px,#121212 48.0px 49.0px,#121313 49.0px 50.0px,#131516 50.0px 50.9px,#121212 50.9px 51.9px,#131415 51.9px 52.9px,#141111 52.9px 53.9px,#151010 53.9px 54.9px,#161010 54.9px 55.9px,#141617 55.9px 56.9px,#190f0f 56.9px 57.9px,#121212 57.9px 58.9px,#131212 58.9px 59.9px,#121313 59.9px 60.9px,#151a1d 60.9px 61.9px,#151111 61.9px 62.9px,#15191b 62.9px 63.9px,#190e0e 63.9px 64.9px,#141111 64.9px 65.9px,#1c0d0d 65.9px 66.9px,#171010 66.9px 67.9px,#170f0f 67.9px 68.9px,#1b0e0e 68.9px 69.9px,#131111 69.9px 70.9px,#1c0d0d 70.9px 71.9px,#131212 71.9px 72.9px,#151111 72.9px 73.9px,#131414 73.9px 74.9px,#161010 74.9px 75.9px,#171010 75.9px 76.9px,#121313 76.9px 77.9px,#141718 77.9px 78.9px,#131111 78.9px 79.9px,#161010 79.9px 80.9px,#131212 80.9px 81.9px,#131516 81.9px 82.9px,#131415 82.9px 83.9px,#121212 83.9px 84.9px,#171d21 84.9px 85.9px,#131314 85.9px 86.9px,#1b0e0e 86.9px 87.9px,#141718 87.9px 88.9px,#121212 88.9px 89.9px,#1d0d0d 89.9px 90.9px,#170f0f 90.9px 91.9px,#180f0f 91.9px 92.9px,#131212 92.9px 93.9px,#141719 93.9px 94.9px,#230a0a 94.9px 95.9px,#151010 95.9px 96.9px,#151111 96.9px 97.9px,#1c0d0d 97.9px 98.9px,#180f0f 98.9px 99.9px,#141111 99.9px 100.9px,#141617 100.9px 101.9px)"></div><div style="left:314.40px;top:272.10px;width:7.70px;height:101.90px;background:linear-gradient(180deg,#131212 0.0px 1.0px,#131212 1.0px 2.0px,#131414 2.0px 3.0px,#131516 3.0px 4.0px,#131517 4.0px 5.0px,#131212 5.0px 6.0px,#131314 6.0px 7.0px,#161010 7.0px 8.0px,#190f0f 8.0px 9.0px,#151010 9.0px 10.0px,#141111 10.0px 11.0px,#1c0d0d 11.0px 12.0px,#171010 12.0px 13.0px,#14181a 13.0px 14.0px,#131415 14.0px 15.0px,#151111 15.0px 16.0px,#131516 16.0px 17.0px,#180f0f 17.0px 18.0px,#15191b 18.0px 19.0px,#151a1c 19.0px 20.0px,#190f0f 20.0px 21.0px,#171010 21.0px 22.0px,#15181a 22.0px 23.0px,#141111 23.0px 24.0px,#1b0e0e 24.0px 25.0px,#141617 25.0px 26.0px,#141618 26.0px 27.0px,#141618 27.0px 28.0px,#131516 28.0px 29.0px,#15191b 29.0px 30.0px,#121313 30.0px 31.0px,#141719 31.0px 32.0px,#141111 32.0px 33.0px,#1f0c0c 33.0px 34.0px,#131617 34.0px 35.0px,#180f0f 35.0px 36.0px,#1a0e0e 36.0px 37.0px,#161c1f 37.0px 38.0px,#141111 38.0px 39.0px,#131111 39.0px 40.0px,#121212 40.0px 41.0px,#180f0f 41.0px 42.0px,#121313 42.0px 43.0px,#151010 43.0px 44.0px,#121213 44.0px 45.0px,#131212 45.0px 46.0px,#131415 46.0px 47.0px,#200c0c 47.0px 48.0px,#131111 48.0px 49.0px,#141617 49.0px 50.0px,#1e0c0c 50.0px 50.9px,#1c0d0d 50.9px 51.9px,#121212 51.9px 52.9px,#131414 52.9px 53.9px,#131415 53.9px 54.9px,#1a0e0e 54.9px 55.9px,#121212 55.9px 56.9px,#131415 56.9px 57.9px,#180f0f 57.9px 58.9px,#121212 58.9px 59.9px,#131111 59.9px 60.9px,#1e0c0c 60.9px 61.9px,#180f0f 61.9px 62.9px,#1a0e0e 62.9px 63.9px,#161010 63.9px 64.9px,#1a0e0e 64.9px 65.9px,#131212 65.9px 66.9px,#190f0f 66.9px 67.9px,#190f0f 67.9px 68.9px,#121313 68.9px 69.9px,#141718 69.9px 70.9px,#161010 70.9px 71.9px,#131212 71.9px 72.9px,#171010 72.9px 73.9px,#131314 73.9px 74.9px,#161010 74.9px 75.9px,#190f0f 75.9px 76.9px,#200b0b 76.9px 77.9px,#1d0d0d 77.9px 78.9px,#161010 78.9px 79.9px,#1b0e0e 79.9px 80.9px,#131414 80.9px 81.9px,#1a0e0e 81.9px 82.9px,#141111 82.9px 83.9px,#1b0e0e 83.9px 84.9px,#151010 84.9px 85.9px,#121212 85.9px 86.9px,#131415 86.9px 87.9px,#1a0e0e 87.9px 88.9px,#141111 88.9px 89.9px,#170f0f 89.9px 90.9px,#161010 90.9px 91.9px,#151a1d 91.9px 92.9px,#171010 92.9px 93.9px,#121213 93.9px 94.9px,#161010 94.9px 95.9px,#161010 95.9px 96.9px,#15191c 96.9px 97.9px,#121212 97.9px 98.9px,#131111 98.9px 99.9px,#161010 99.9px 100.9px,#190f0f 100.9px 101.9px)"></div><div style="left:323.90px;top:272.10px;width:7.70px;height:101.90px;background:linear-gradient(180deg,#141617 0.0px 1.0px,#151111 1.0px 2.0px,#220b0b 2.0px 3.0px,#1a252c 3.0px 4.0px,#340202 4.0px 5.0px,#15191c 5.0px 6.0px,#2c0606 6.0px 7.0px,#1a0e0e 7.0px 8.0px,#350202 8.0px 9.0px,#280808 9.0px 10.0px,#180f0f 10.0px 11.0px,#19242a 11.0px 12.0px,#1a0e0e 12.0px 13.0px,#1d0d0d 13.0px 14.0px,#200b0b 14.0px 15.0px,#171e22 15.0px 16.0px,#14181a 16.0px 17.0px,#141719 17.0px 18.0px,#1c0d0d 18.0px 19.0px,#15181b 19.0px 20.0px,#161010 20.0px 21.0px,#260808 21.0px 22.0px,#121212 22.0px 23.0px,#2c0505 23.0px 24.0px,#1d0d0d 24.0px 25.0px,#141111 25.0px 26.0px,#290707 26.0px 27.0px,#200c0c 27.0px 28.0px,#141111 28.0px 29.0px,#131415 29.0px 30.0px,#170f0f 30.0px 31.0px,#1d0d0d 31.0px 32.0px,#290707 32.0px 33.0px,#1c0d0d 33.0px 34.0px,#131516 34.0px 35.0px,#171f23 35.0px 36.0px,#1c0d0d 36.0px 37.0px,#1e0c0c 37.0px 38.0px,#290707 38.0px 39.0px,#131414 39.0px 40.0px,#171e22 40.0px 41.0px,#250909 41.0px 42.0px,#161010 42.0px 43.0px,#171d21 43.0px 44.0px,#310303 44.0px 45.0px,#260909 45.0px 46.0px,#190f0f 46.0px 47.0px,#1c0d0d 47.0px 48.0px,#141718 48.0px 49.0px,#270808 49.0px 50.0px,#121213 50.0px 50.9px,#121313 50.9px 51.9px,#141111 51.9px 52.9px,#161c1f 52.9px 53.9px,#280808 53.9px 54.9px,#310303 54.9px 55.9px,#240a0a 55.9px 56.9px,#1b2830 56.9px 57.9px,#141111 57.9px 58.9px,#131516 58.9px 59.9px,#1e0c0c 59.9px 60.9px,#1c2932 60.9px 61.9px,#1c2a32 61.9px 62.9px,#121313 62.9px 63.9px,#270808 63.9px 64.9px,#151010 64.9px 65.9px,#3a0000 65.9px 66.9px,#14181a 66.9px 67.9px,#190f0f 67.9px 68.9px,#161010 68.9px 69.9px,#14181a 69.9px 70.9px,#290707 70.9px 71.9px,#171e23 71.9px 72.9px,#161b1e 72.9px 73.9px,#131212 73.9px 74.9px,#121313 74.9px 75.9px,#290707 75.9px 76.9px,#131414 76.9px 77.9px,#200c0c 77.9px 78.9px,#121313 78.9px 79.9px,#2b0606 79.9px 80.9px,#180f0f 80.9px 81.9px,#1c0d0d 81.9px 82.9px,#192328 82.9px 83.9px,#230a0a 83.9px 84.9px,#131516 84.9px 85.9px,#260909 85.9px 86.9px,#200b0b 86.9px 87.9px,#200b0b 87.9px 88.9px,#290707 88.9px 89.9px,#1e0c0c 89.9px 90.9px,#15181b 90.9px 91.9px,#1a0e0e 91.9px 92.9px,#700000 92.9px 93.9px,#700000 93.9px 94.9px,#700000 94.9px 95.9px,#2e0505 95.9px 96.9px,#1c0d0d 96.9px 97.9px,#1a0e0e 97.9px 98.9px,#1f0c0c 98.9px 99.9px,#290707 99.9px 100.9px,#131414 100.9px 101.9px)"></div><div style="left:333.40px;top:272.10px;width:7.70px;height:101.90px;background:linear-gradient(180deg,#bd0000 0.0px 1.0px,#750000 1.0px 2.0px,#a80000 2.0px 3.0px,#a70000 3.0px 4.0px,#5e0000 4.0px 5.0px,#ae0000 5.0px 6.0px,#9a0000 6.0px 7.0px,#4d0000 7.0px 8.0px,#800000 8.0px 9.0px,#7a0000 9.0px 10.0px,#700000 10.0px 11.0px,#a20000 11.0px 12.0px,#730000 12.0px 13.0px,#940000 13.0px 14.0px,#670000 14.0px 15.0px,#880000 15.0px 16.0px,#e20101 16.0px 17.0px,#a20000 17.0px 18.0px,#520000 18.0px 19.0px,#6d0000 19.0px 20.0px,#510000 20.0px 21.0px,#1c0d0d 21.0px 22.0px,#7f0000 22.0px 23.0px,#540000 23.0px 24.0px,#530000 24.0px 25.0px,#580000 25.0px 26.0px,#370000 26.0px 27.0px,#290707 27.0px 28.0px,#20333e 28.0px 29.0px,#1a0e0e 29.0px 30.0px,#5e0000 30.0px 31.0px,#710000 31.0px 32.0px,#4a0000 32.0px 33.0px,#121212 33.0px 34.0px,#430000 34.0px 35.0px,#530000 35.0px 36.0px,#220a0a 36.0px 37.0px,#890000 37.0px 38.0px,#270808 38.0px 39.0px,#500000 39.0px 40.0px,#270808 40.0px 41.0px,#760000 41.0px 42.0px,#210b0b 42.0px 43.0px,#2c0606 43.0px 44.0px,#7d0000 44.0px 45.0px,#210b0b 45.0px 46.0px,#360101 46.0px 47.0px,#650000 47.0px 48.0px,#5c0000 48.0px 49.0px,#121314 49.0px 50.0px,#660000 50.0px 50.9px,#3e0000 50.9px 51.9px,#7f0000 51.9px 52.9px,#131414 52.9px 53.9px,#6c0000 53.9px 54.9px,#5c0000 54.9px 55.9px,#380000 55.9px 56.9px,#370101 56.9px 57.9px,#5a0000 57.9px 58.9px,#2e0505 58.9px 59.9px,#380000 59.9px 60.9px,#2b0606 60.9px 61.9px,#4d0000 61.9px 62.9px,#640000 62.9px 63.9px,#121213 63.9px 64.9px,#470000 64.9px 65.9px,#530000 65.9px 66.9px,#840000 66.9px 67.9px,#2a0707 67.9px 68.9px,#7a0000 68.9px 69.9px,#320303 69.9px 70.9px,#590000 70.9px 71.9px,#4d0000 71.9px 72.9px,#4f0000 72.9px 73.9px,#350202 73.9px 74.9px,#210b0b 74.9px 75.9px,#810000 75.9px 76.9px,#7f0000 76.9px 77.9px,#3b0000 77.9px 78.9px,#390000 78.9px 79.9px,#370101 79.9px 80.9px,#151111 80.9px 81.9px,#1b0e0e 81.9px 82.9px,#510000 82.9px 83.9px,#680000 83.9px 84.9px,#350101 84.9px 85.9px,#1f0c0c 85.9px 86.9px,#1b0e0e 86.9px 87.9px,#290707 87.9px 88.9px,#5b0000 88.9px 89.9px,#e00000 89.9px 90.9px,#e00000 90.9px 91.9px,#e00000 91.9px 92.9px,#e00000 92.9px 93.9px,#e00000 93.9px 94.9px,#e00000 94.9px 95.9px,#780000 95.9px 96.9px,#410000 96.9px 97.9px,#240a0a 97.9px 98.9px,#3a6078 98.9px 99.9px,#3a6078 99.9px 100.9px,#3a6078 100.9px 101.9px)"></div><div style="left:342.90px;top:272.10px;width:7.70px;height:101.90px;background:linear-gradient(180deg,#e70404 0.0px 1.0px,#e30202 1.0px 2.0px,#e70303 2.0px 3.0px,#ed0606 3.0px 4.0px,#bf0000 4.0px 5.0px,#e50303 5.0px 6.0px,#d60000 6.0px 7.0px,#e00000 7.0px 8.0px,#de0000 8.0px 9.0px,#e30101 9.0px 10.0px,#940000 10.0px 11.0px,#e80404 11.0px 12.0px,#e80404 12.0px 13.0px,#e80404 13.0px 14.0px,#e80404 14.0px 15.0px,#e80404 15.0px 16.0px,#e80404 16.0px 17.0px,#e80404 17.0px 18.0px,#e20101 18.0px 19.0px,#ec0606 19.0px 20.0px,#bf0000 20.0px 21.0px,#ce0000 21.0px 22.0px,#d60000 22.0px 23.0px,#eb0606 23.0px 24.0px,#e30101 24.0px 25.0px,#e10101 25.0px 26.0px,#8b0000 26.0px 27.0px,#aa0000 27.0px 28.0px,#530000 28.0px 29.0px,#860000 29.0px 30.0px,#b00000 30.0px 31.0px,#8f0000 31.0px 32.0px,#6b0000 32.0px 33.0px,#e20101 33.0px 34.0px,#630000 34.0px 35.0px,#c90000 35.0px 36.0px,#be0000 36.0px 37.0px,#960000 37.0px 38.0px,#c70000 38.0px 39.0px,#640000 39.0px 40.0px,#790000 40.0px 41.0px,#820000 41.0px 42.0px,#9a0000 42.0px 43.0px,#860000 43.0px 44.0px,#d90000 44.0px 45.0px,#7f0000 45.0px 46.0px,#840000 46.0px 47.0px,#5e0000 47.0px 48.0px,#9e0000 48.0px 49.0px,#ac0000 49.0px 50.0px,#710000 50.0px 50.9px,#5c0000 50.9px 51.9px,#570000 51.9px 52.9px,#be0000 52.9px 53.9px,#ac0000 53.9px 54.9px,#970000 54.9px 55.9px,#ab0000 55.9px 56.9px,#9e0000 56.9px 57.9px,#800000 57.9px 58.9px,#2f0404 58.9px 59.9px,#830000 59.9px 60.9px,#890000 60.9px 61.9px,#990000 61.9px 62.9px,#930000 62.9px 63.9px,#530000 63.9px 64.9px,#790000 64.9px 65.9px,#350101 65.9px 66.9px,#a50000 66.9px 67.9px,#370101 67.9px 68.9px,#890000 68.9px 69.9px,#4e0000 69.9px 70.9px,#4d0000 70.9px 71.9px,#4a0000 71.9px 72.9px,#620000 72.9px 73.9px,#7e0000 73.9px 74.9px,#980000 74.9px 75.9px,#630000 75.9px 76.9px,#8f0000 76.9px 77.9px,#8f0000 77.9px 78.9px,#c30000 78.9px 79.9px,#570000 79.9px 80.9px,#7b0000 80.9px 81.9px,#890000 81.9px 82.9px,#750000 82.9px 83.9px,#860000 83.9px 84.9px,#540000 84.9px 85.9px,#610000 85.9px 86.9px,#550000 86.9px 87.9px,#550000 87.9px 88.9px,#4a0000 88.9px 89.9px,#eb0505 89.9px 90.9px,#eb0505 90.9px 91.9px,#eb0505 91.9px 92.9px,#eb0505 92.9px 93.9px,#eb0505 93.9px 94.9px,#eb0505 94.9px 95.9px,#5f0000 95.9px 96.9px,#430000 96.9px 97.9px,#460000 97.9px 98.9px,#3e6a85 98.9px 99.9px,#3e6a85 99.9px 100.9px,#3e6a85 100.9px 101.9px)"></div><div style="left:352.40px;top:272.10px;width:7.70px;height:101.90px;background:linear-gradient(180deg,#131415 0.0px 1.0px,#14181a 1.0px 2.0px,#141618 2.0px 3.0px,#161c1f 3.0px 4.0px,#161010 4.0px 5.0px,#121313 5.0px 6.0px,#180f0f 6.0px 7.0px,#131111 7.0px 8.0px,#151a1d 8.0px 9.0px,#1e0d0d 9.0px 10.0px,#161010 10.0px 11.0px,#180f0f 11.0px 12.0px,#131314 12.0px 13.0px,#131314 13.0px 14.0px,#131212 14.0px 15.0px,#1d0d0d 15.0px 16.0px,#141718 16.0px 17.0px,#141617 17.0px 18.0px,#161010 18.0px 19.0px,#151a1d 19.0px 20.0px,#1b0e0e 20.0px 21.0px,#141618 21.0px 22.0px,#1a0e0e 22.0px 23.0px,#131212 23.0px 24.0px,#121212 24.0px 25.0px,#141618 25.0px 26.0px,#1b0e0e 26.0px 27.0px,#121212 27.0px 28.0px,#141719 28.0px 29.0px,#171010 29.0px 30.0px,#131212 30.0px 31.0px,#161010 31.0px 32.0px,#121313 32.0px 33.0px,#151010 33.0px 34.0px,#161010 34.0px 35.0px,#141111 35.0px 36.0px,#15181b 36.0px 37.0px,#161010 37.0px 38.0px,#1b0e0e 38.0px 39.0px,#161010 39.0px 40.0px,#180f0f 40.0px 41.0px,#180f0f 41.0px 42.0px,#121212 42.0px 43.0px,#190f0f 43.0px 44.0px,#121212 44.0px 45.0px,#131517 45.0px 46.0px,#141718 46.0px 47.0px,#190f0f 47.0px 48.0px,#171010 48.0px 49.0px,#171010 49.0px 50.0px,#131314 50.0px 50.9px,#15191c 50.9px 51.9px,#180f0f 51.9px 52.9px,#131212 52.9px 53.9px,#131414 53.9px 54.9px,#131414 54.9px 55.9px,#131314 55.9px 56.9px,#15191c 56.9px 57.9px,#171010 57.9px 58.9px,#171010 58.9px 59.9px,#180f0f 59.9px 60.9px,#121213 60.9px 61.9px,#141718 61.9px 62.9px,#141719 62.9px 63.9px,#121212 63.9px 64.9px,#1d0d0d 64.9px 65.9px,#180f0f 65.9px 66.9px,#141111 66.9px 67.9px,#161010 67.9px 68.9px,#180f0f 68.9px 69.9px,#141111 69.9px 70.9px,#151111 70.9px 71.9px,#151111 71.9px 72.9px,#131314 72.9px 73.9px,#141617 73.9px 74.9px,#131314 74.9px 75.9px,#1a0e0e 75.9px 76.9px,#15181a 76.9px 77.9px,#121313 77.9px 78.9px,#121313 78.9px 79.9px,#141111 79.9px 80.9px,#121313 80.9px 81.9px,#180f0f 81.9px 82.9px,#121213 82.9px 83.9px,#131111 83.9px 84.9px,#171010 84.9px 85.9px,#141719 85.9px 86.9px,#190f0f 86.9px 87.9px,#190f0f 87.9px 88.9px,#141719 88.9px 89.9px,#131212 89.9px 90.9px,#131415 90.9px 91.9px,#121213 91.9px 92.9px,#180f0f 92.9px 93.9px,#15191c 93.9px 94.9px,#180f0f 94.9px 95.9px,#161010 95.9px 96.9px,#131111 96.9px 97.9px,#1f0c0c 97.9px 98.9px,#121313 98.9px 99.9px,#14181a 99.9px 100.9px,#161010 100.9px 101.9px)"></div><div style="left:361.90px;top:272.10px;width:7.70px;height:101.90px;background:linear-gradient(180deg,#141111 0.0px 1.0px,#131414 1.0px 2.0px,#161b1e 2.0px 3.0px,#151a1c 3.0px 4.0px,#1c0d0d 4.0px 5.0px,#14181a 5.0px 6.0px,#1b0e0e 6.0px 7.0px,#180f0f 7.0px 8.0px,#161b1e 8.0px 9.0px,#151111 9.0px 10.0px,#171010 10.0px 11.0px,#190f0f 11.0px 12.0px,#1b0e0e 12.0px 13.0px,#1a0e0e 13.0px 14.0px,#131111 14.0px 15.0px,#121212 15.0px 16.0px,#121212 16.0px 17.0px,#161010 17.0px 18.0px,#131516 18.0px 19.0px,#141617 19.0px 20.0px,#200c0c 20.0px 21.0px,#190f0f 21.0px 22.0px,#190f0f 22.0px 23.0px,#121212 23.0px 24.0px,#131516 24.0px 25.0px,#121313 25.0px 26.0px,#131415 26.0px 27.0px,#131414 27.0px 28.0px,#14181a 28.0px 29.0px,#171010 29.0px 30.0px,#151010 30.0px 31.0px,#180f0f 31.0px 32.0px,#141111 32.0px 33.0px,#131415 33.0px 34.0px,#1e0c0c 34.0px 35.0px,#180f0f 35.0px 36.0px,#161010 36.0px 37.0px,#180f0f 37.0px 38.0px,#121212 38.0px 39.0px,#170f0f 39.0px 40.0px,#131415 40.0px 41.0px,#190f0f 41.0px 42.0px,#180f0f 42.0px 43.0px,#180f0f 43.0px 44.0px,#161010 44.0px 45.0px,#141111 45.0px 46.0px,#151111 46.0px 47.0px,#170f0f 47.0px 48.0px,#121313 48.0px 49.0px,#171010 49.0px 50.0px,#180f0f 50.0px 50.9px,#141718 50.9px 51.9px,#15191b 51.9px 52.9px,#151111 52.9px 53.9px,#121212 53.9px 54.9px,#131415 54.9px 55.9px,#141718 55.9px 56.9px,#141617 56.9px 57.9px,#15181b 57.9px 58.9px,#121212 58.9px 59.9px,#14181a 59.9px 60.9px,#15191b 60.9px 61.9px,#131212 61.9px 62.9px,#1b0e0e 62.9px 63.9px,#1a0e0e 63.9px 64.9px,#131212 64.9px 65.9px,#151010 65.9px 66.9px,#121212 66.9px 67.9px,#131212 67.9px 68.9px,#131415 68.9px 69.9px,#141111 69.9px 70.9px,#131617 70.9px 71.9px,#131415 71.9px 72.9px,#131212 72.9px 73.9px,#131212 73.9px 74.9px,#1e0c0c 74.9px 75.9px,#131516 75.9px 76.9px,#141617 76.9px 77.9px,#171010 77.9px 78.9px,#161010 78.9px 79.9px,#171010 79.9px 80.9px,#131212 80.9px 81.9px,#14181a 81.9px 82.9px,#121213 82.9px 83.9px,#141718 83.9px 84.9px,#131111 84.9px 85.9px,#1d0d0d 85.9px 86.9px,#121212 86.9px 87.9px,#141111 87.9px 88.9px,#190f0f 88.9px 89.9px,#141719 89.9px 90.9px,#170f0f 90.9px 91.9px,#121212 91.9px 92.9px,#131415 92.9px 93.9px,#121213 93.9px 94.9px,#131517 94.9px 95.9px,#180f0f 95.9px 96.9px,#141111 96.9px 97.9px,#121313 97.9px 98.9px,#161010 98.9px 99.9px,#14181a 99.9px 100.9px,#171e22 100.9px 101.9px)"></div><div style="left:371.40px;top:272.10px;width:7.70px;height:101.90px;background:linear-gradient(180deg,#820000 0.0px 1.0px,#460000 1.0px 2.0px,#720000 2.0px 3.0px,#3b0000 3.0px 4.0px,#250909 4.0px 5.0px,#360101 5.0px 6.0px,#760000 6.0px 7.0px,#650000 7.0px 8.0px,#440000 8.0px 9.0px,#6f0000 9.0px 10.0px,#4f0000 10.0px 11.0px,#5f0000 11.0px 12.0px,#360101 12.0px 13.0px,#1b0e0e 13.0px 14.0px,#5c0000 14.0px 15.0px,#6f0000 15.0px 16.0px,#3b0000 16.0px 17.0px,#890000 17.0px 18.0px,#2f0404 18.0px 19.0px,#5b0000 19.0px 20.0px,#370000 20.0px 21.0px,#4a0000 21.0px 22.0px,#230a0a 22.0px 23.0px,#161c1f 23.0px 24.0px,#6a0000 24.0px 25.0px,#4c0000 25.0px 26.0px,#380000 26.0px 27.0px,#131111 27.0px 28.0px,#3f0000 28.0px 29.0px,#121313 29.0px 30.0px,#340202 30.0px 31.0px,#3f0000 31.0px 32.0px,#340202 32.0px 33.0px,#121212 33.0px 34.0px,#360101 34.0px 35.0px,#2c0606 35.0px 36.0px,#350202 36.0px 37.0px,#4b0000 37.0px 38.0px,#190e0e 38.0px 39.0px,#151010 39.0px 40.0px,#1b2931 40.0px 41.0px,#530000 41.0px 42.0px,#161010 42.0px 43.0px,#4b0000 43.0px 44.0px,#310404 44.0px 45.0px,#480000 45.0px 46.0px,#2e0505 46.0px 47.0px,#330202 47.0px 48.0px,#230a0a 48.0px 49.0px,#320303 49.0px 50.0px,#131314 50.0px 50.9px,#430000 50.9px 51.9px,#182025 51.9px 52.9px,#1c0d0d 52.9px 53.9px,#1f0c0c 53.9px 54.9px,#2a0707 54.9px 55.9px,#260909 55.9px 56.9px,#121212 56.9px 57.9px,#290707 57.9px 58.9px,#213542 58.9px 59.9px,#180f0f 59.9px 60.9px,#260808 60.9px 61.9px,#180f0f 61.9px 62.9px,#400000 62.9px 63.9px,#240909 63.9px 64.9px,#320303 64.9px 65.9px,#131617 65.9px 66.9px,#3f0000 66.9px 67.9px,#390000 67.9px 68.9px,#171d21 68.9px 69.9px,#4f0000 69.9px 70.9px,#141617 70.9px 71.9px,#141718 71.9px 72.9px,#3b0000 72.9px 73.9px,#5a0000 73.9px 74.9px,#360101 74.9px 75.9px,#240909 75.9px 76.9px,#180f0f 76.9px 77.9px,#171010 77.9px 78.9px,#2c0606 78.9px 79.9px,#300404 79.9px 80.9px,#121212 80.9px 81.9px,#330202 81.9px 82.9px,#1c2b34 82.9px 83.9px,#2d0505 83.9px 84.9px,#131212 84.9px 85.9px,#15191b 85.9px 86.9px,#650000 86.9px 87.9px,#350101 87.9px 88.9px,#200b0b 88.9px 89.9px,#131516 89.9px 90.9px,#4f0000 90.9px 91.9px,#2a0707 91.9px 92.9px,#161010 92.9px 93.9px,#1e2f39 93.9px 94.9px,#3e0000 94.9px 95.9px,#380000 95.9px 96.9px,#330303 96.9px 97.9px,#131415 97.9px 98.9px,#203440 98.9px 99.9px,#203440 99.9px 100.9px,#203440 100.9px 101.9px)"></div><div style="left:380.90px;top:272.10px;width:7.70px;height:101.90px;background:linear-gradient(180deg,#ea0505 0.0px 1.0px,#710000 1.0px 2.0px,#da0000 2.0px 3.0px,#ea0505 3.0px 4.0px,#e10101 4.0px 5.0px,#f00808 5.0px 6.0px,#ec0606 6.0px 7.0px,#ed0707 7.0px 8.0px,#e90505 8.0px 9.0px,#780000 9.0px 10.0px,#5f0000 10.0px 11.0px,#5d0000 11.0px 12.0px,#b90000 12.0px 13.0px,#790000 13.0px 14.0px,#280707 14.0px 15.0px,#880000 15.0px 16.0px,#840000 16.0px 17.0px,#6c0000 17.0px 18.0px,#910000 18.0px 19.0px,#5a0000 19.0px 20.0px,#e70303 20.0px 21.0px,#6f0000 21.0px 22.0px,#560000 22.0px 23.0px,#850000 23.0px 24.0px,#880000 24.0px 25.0px,#a40000 25.0px 26.0px,#8a0000 26.0px 27.0px,#9b0000 27.0px 28.0px,#820000 28.0px 29.0px,#760000 29.0px 30.0px,#530000 30.0px 31.0px,#610000 31.0px 32.0px,#7e0000 32.0px 33.0px,#4a0000 33.0px 34.0px,#a10000 34.0px 35.0px,#750000 35.0px 36.0px,#b50000 36.0px 37.0px,#a10000 37.0px 38.0px,#750000 38.0px 39.0px,#ec0606 39.0px 40.0px,#c20000 40.0px 41.0px,#650000 41.0px 42.0px,#920000 42.0px 43.0px,#680000 43.0px 44.0px,#580000 44.0px 45.0px,#870000 45.0px 46.0px,#6d0000 46.0px 47.0px,#a50000 47.0px 48.0px,#250909 48.0px 49.0px,#690000 49.0px 50.0px,#930000 50.0px 50.9px,#680000 50.9px 51.9px,#af0000 51.9px 52.9px,#b30000 52.9px 53.9px,#2a0707 53.9px 54.9px,#4b0000 54.9px 55.9px,#420000 55.9px 56.9px,#9b0000 56.9px 57.9px,#460000 57.9px 58.9px,#131516 58.9px 59.9px,#3f0000 59.9px 60.9px,#4d0000 60.9px 61.9px,#550000 61.9px 62.9px,#540000 62.9px 63.9px,#5e0000 63.9px 64.9px,#370000 64.9px 65.9px,#5a0000 65.9px 66.9px,#470000 66.9px 67.9px,#480000 67.9px 68.9px,#4f0000 68.9px 69.9px,#800000 69.9px 70.9px,#680000 70.9px 71.9px,#790000 71.9px 72.9px,#390000 72.9px 73.9px,#1b0e0e 73.9px 74.9px,#530000 74.9px 75.9px,#810000 75.9px 76.9px,#5a0000 76.9px 77.9px,#430000 77.9px 78.9px,#1e0c0c 78.9px 79.9px,#6b0000 79.9px 80.9px,#360101 80.9px 81.9px,#1b0e0e 81.9px 82.9px,#6c0000 82.9px 83.9px,#5f0000 83.9px 84.9px,#900000 84.9px 85.9px,#290707 85.9px 86.9px,#240909 86.9px 87.9px,#620000 87.9px 88.9px,#9d0000 88.9px 89.9px,#650000 89.9px 90.9px,#790000 90.9px 91.9px,#250909 91.9px 92.9px,#690000 92.9px 93.9px,#8d0000 93.9px 94.9px,#8d0000 94.9px 95.9px,#8d0000 95.9px 96.9px,#8c0000 96.9px 97.9px,#3b0000 97.9px 98.9px,#4c86ab 98.9px 99.9px,#4c86ab 99.9px 100.9px,#4c86ab 100.9px 101.9px)"></div><div style="left:390.40px;top:272.10px;width:7.70px;height:101.90px;background:linear-gradient(180deg,#131111 0.0px 1.0px,#151111 1.0px 2.0px,#131516 2.0px 3.0px,#141618 3.0px 4.0px,#151010 4.0px 5.0px,#1f0c0c 5.0px 6.0px,#121313 6.0px 7.0px,#121313 7.0px 8.0px,#1d0d0d 8.0px 9.0px,#131415 9.0px 10.0px,#131415 10.0px 11.0px,#1d0d0d 11.0px 12.0px,#171010 12.0px 13.0px,#171010 13.0px 14.0px,#161b1e 14.0px 15.0px,#1a0e0e 15.0px 16.0px,#121212 16.0px 17.0px,#190f0f 17.0px 18.0px,#161010 18.0px 19.0px,#1d0d0d 19.0px 20.0px,#180f0f 20.0px 21.0px,#1d0d0d 21.0px 22.0px,#131415 22.0px 23.0px,#190f0f 23.0px 24.0px,#171010 24.0px 25.0px,#131314 25.0px 26.0px,#141719 26.0px 27.0px,#121212 27.0px 28.0px,#131516 28.0px 29.0px,#121313 29.0px 30.0px,#121314 30.0px 31.0px,#131415 31.0px 32.0px,#141111 32.0px 33.0px,#141111 33.0px 34.0px,#131617 34.0px 35.0px,#131415 35.0px 36.0px,#141111 36.0px 37.0px,#131314 37.0px 38.0px,#121313 38.0px 39.0px,#131516 39.0px 40.0px,#151a1c 40.0px 41.0px,#121212 41.0px 42.0px,#141617 42.0px 43.0px,#131212 43.0px 44.0px,#121212 44.0px 45.0px,#121313 45.0px 46.0px,#180f0f 46.0px 47.0px,#131516 47.0px 48.0px,#190e0e 48.0px 49.0px,#151111 49.0px 50.0px,#210b0b 50.0px 50.9px,#131516 50.9px 51.9px,#131415 51.9px 52.9px,#151010 52.9px 53.9px,#180f0f 53.9px 54.9px,#121212 54.9px 55.9px,#180f0f 55.9px 56.9px,#141111 56.9px 57.9px,#14181a 57.9px 58.9px,#151111 58.9px 59.9px,#180f0f 59.9px 60.9px,#151010 60.9px 61.9px,#131212 61.9px 62.9px,#131516 62.9px 63.9px,#170f0f 63.9px 64.9px,#1b0e0e 64.9px 65.9px,#141719 65.9px 66.9px,#171010 66.9px 67.9px,#15191c 67.9px 68.9px,#141111 68.9px 69.9px,#171e22 69.9px 70.9px,#121212 70.9px 71.9px,#171010 71.9px 72.9px,#14181a 72.9px 73.9px,#141719 73.9px 74.9px,#141111 74.9px 75.9px,#121212 75.9px 76.9px,#151111 76.9px 77.9px,#1b0e0e 77.9px 78.9px,#141618 78.9px 79.9px,#151111 79.9px 80.9px,#151a1d 80.9px 81.9px,#171f24 81.9px 82.9px,#131517 82.9px 83.9px,#171e22 83.9px 84.9px,#161010 84.9px 85.9px,#180f0f 85.9px 86.9px,#161010 86.9px 87.9px,#15191b 87.9px 88.9px,#131415 88.9px 89.9px,#15191b 89.9px 90.9px,#121212 90.9px 91.9px,#141617 91.9px 92.9px,#190f0f 92.9px 93.9px,#161010 93.9px 94.9px,#141719 94.9px 95.9px,#1b0e0e 95.9px 96.9px,#151111 96.9px 97.9px,#180f0f 97.9px 98.9px,#141111 98.9px 99.9px,#1a0e0e 99.9px 100.9px,#190e0e 100.9px 101.9px)"></div><div style="left:399.90px;top:272.10px;width:7.70px;height:101.90px;background:linear-gradient(180deg,#180f0f 0.0px 1.0px,#1b0e0e 1.0px 2.0px,#171010 2.0px 3.0px,#151111 3.0px 4.0px,#131415 4.0px 5.0px,#161b1e 5.0px 6.0px,#1a0e0e 6.0px 7.0px,#171010 7.0px 8.0px,#141617 8.0px 9.0px,#180f0f 9.0px 10.0px,#141111 10.0px 11.0px,#141111 11.0px 12.0px,#1d0d0d 12.0px 13.0px,#190f0f 13.0px 14.0px,#141719 14.0px 15.0px,#141111 15.0px 16.0px,#190f0f 16.0px 17.0px,#1a0e0e 17.0px 18.0px,#161010 18.0px 19.0px,#121213 19.0px 20.0px,#151010 20.0px 21.0px,#151a1c 21.0px 22.0px,#1a0e0e 22.0px 23.0px,#131111 23.0px 24.0px,#131314 24.0px 25.0px,#131415 25.0px 26.0px,#141111 26.0px 27.0px,#131516 27.0px 28.0px,#131517 28.0px 29.0px,#131516 29.0px 30.0px,#1d0d0d 30.0px 31.0px,#131212 31.0px 32.0px,#161010 32.0px 33.0px,#151010 33.0px 34.0px,#131414 34.0px 35.0px,#180f0f 35.0px 36.0px,#131212 36.0px 37.0px,#131415 37.0px 38.0px,#131617 38.0px 39.0px,#121313 39.0px 40.0px,#121313 40.0px 41.0px,#1b0e0e 41.0px 42.0px,#161d21 42.0px 43.0px,#190e0e 43.0px 44.0px,#1b0e0e 44.0px 45.0px,#1c0d0d 45.0px 46.0px,#131415 46.0px 47.0px,#131516 47.0px 48.0px,#1a0e0e 48.0px 49.0px,#171010 49.0px 50.0px,#151111 50.0px 50.9px,#131516 50.9px 51.9px,#121212 51.9px 52.9px,#141618 52.9px 53.9px,#1c0d0d 53.9px 54.9px,#190f0f 54.9px 55.9px,#121313 55.9px 56.9px,#190f0f 56.9px 57.9px,#141111 57.9px 58.9px,#151a1d 58.9px 59.9px,#171010 59.9px 60.9px,#131415 60.9px 61.9px,#151010 61.9px 62.9px,#121313 62.9px 63.9px,#131517 63.9px 64.9px,#121212 64.9px 65.9px,#190f0f 65.9px 66.9px,#141618 66.9px 67.9px,#131517 67.9px 68.9px,#14181a 68.9px 69.9px,#131414 69.9px 70.9px,#180f0f 70.9px 71.9px,#170f0f 71.9px 72.9px,#161010 72.9px 73.9px,#161010 73.9px 74.9px,#1c0d0d 74.9px 75.9px,#1c0d0d 75.9px 76.9px,#1c0d0d 76.9px 77.9px,#131516 77.9px 78.9px,#131414 78.9px 79.9px,#180f0f 79.9px 80.9px,#170f0f 80.9px 81.9px,#121313 81.9px 82.9px,#121212 82.9px 83.9px,#180f0f 83.9px 84.9px,#131212 84.9px 85.9px,#131415 85.9px 86.9px,#151010 86.9px 87.9px,#131314 87.9px 88.9px,#171010 88.9px 89.9px,#151111 89.9px 90.9px,#121212 90.9px 91.9px,#131516 91.9px 92.9px,#190f0f 92.9px 93.9px,#131516 93.9px 94.9px,#141111 94.9px 95.9px,#121212 95.9px 96.9px,#141111 96.9px 97.9px,#121213 97.9px 98.9px,#190f0f 98.9px 99.9px,#141111 99.9px 100.9px,#141617 100.9px 101.9px)"></div><div style="left:409.40px;top:272.10px;width:7.70px;height:101.90px;background:linear-gradient(180deg,#131617 0.0px 1.0px,#390000 1.0px 2.0px,#240909 2.0px 3.0px,#490000 3.0px 4.0px,#330202 4.0px 5.0px,#4a0000 5.0px 6.0px,#15191b 6.0px 7.0px,#210b0b 7.0px 8.0px,#490000 8.0px 9.0px,#131617 9.0px 10.0px,#380000 10.0px 11.0px,#280808 11.0px 12.0px,#420000 12.0px 13.0px,#220a0a 13.0px 14.0px,#190f0f 14.0px 15.0px,#3b0000 15.0px 16.0px,#660000 16.0px 17.0px,#131415 17.0px 18.0px,#2f0404 18.0px 19.0px,#180f0f 19.0px 20.0px,#330202 20.0px 21.0px,#330303 21.0px 22.0px,#190f0f 22.0px 23.0px,#14181a 23.0px 24.0px,#2a0606 24.0px 25.0px,#2a0707 25.0px 26.0px,#3e0000 26.0px 27.0px,#280707 27.0px 28.0px,#430000 28.0px 29.0px,#2f0404 29.0px 30.0px,#510000 30.0px 31.0px,#430000 31.0px 32.0px,#141719 32.0px 33.0px,#230a0a 33.0px 34.0px,#330303 34.0px 35.0px,#240a0a 35.0px 36.0px,#310303 36.0px 37.0px,#570000 37.0px 38.0px,#171010 38.0px 39.0px,#1b0e0e 39.0px 40.0px,#171010 40.0px 41.0px,#440000 41.0px 42.0px,#690000 42.0px 43.0px,#171010 43.0px 44.0px,#6d0000 44.0px 45.0px,#14181a 45.0px 46.0px,#2c0606 46.0px 47.0px,#2d0505 47.0px 48.0px,#300404 48.0px 49.0px,#960000 49.0px 50.0px,#960000 50.0px 50.9px,#260909 50.9px 51.9px,#430000 51.9px 52.9px,#250909 52.9px 53.9px,#320303 53.9px 54.9px,#340202 54.9px 55.9px,#510000 55.9px 56.9px,#131212 56.9px 57.9px,#550000 57.9px 58.9px,#600000 58.9px 59.9px,#121313 59.9px 60.9px,#1d2d37 60.9px 61.9px,#1d2d37 61.9px 62.9px,#180f0f 62.9px 63.9px,#700000 63.9px 64.9px,#700000 64.9px 65.9px,#182025 65.9px 66.9px,#1a0e0e 66.9px 67.9px,#161c1f 67.9px 68.9px,#410000 68.9px 69.9px,#161010 69.9px 70.9px,#2f0404 70.9px 71.9px,#1f0c0c 71.9px 72.9px,#350202 72.9px 73.9px,#1d2e38 73.9px 74.9px,#290707 74.9px 75.9px,#15191b 75.9px 76.9px,#151010 76.9px 77.9px,#320303 77.9px 78.9px,#3d0000 78.9px 79.9px,#161010 79.9px 80.9px,#1f0c0c 80.9px 81.9px,#610000 81.9px 82.9px,#2b0606 82.9px 83.9px,#410000 83.9px 84.9px,#430000 84.9px 85.9px,#3b0000 85.9px 86.9px,#270808 86.9px 87.9px,#260808 87.9px 88.9px,#3e0000 88.9px 89.9px,#1f313c 89.9px 90.9px,#190f0f 90.9px 91.9px,#330303 91.9px 92.9px,#350101 92.9px 93.9px,#360101 93.9px 94.9px,#1e0c0c 94.9px 95.9px,#180f0f 95.9px 96.9px,#14181a 96.9px 97.9px,#2e0505 97.9px 98.9px,#290707 98.9px 99.9px,#2c0606 99.9px 100.9px,#1b2830 100.9px 101.9px)"></div><div style="left:418.90px;top:272.10px;width:7.70px;height:101.90px;background:linear-gradient(180deg,#b40000 0.0px 1.0px,#960000 1.0px 2.0px,#e50202 2.0px 3.0px,#e20101 3.0px 4.0px,#e20101 4.0px 5.0px,#e00000 5.0px 6.0px,#e70303 6.0px 7.0px,#d30000 7.0px 8.0px,#a00000 8.0px 9.0px,#cf0000 9.0px 10.0px,#ca0000 10.0px 11.0px,#330202 11.0px 12.0px,#380000 12.0px 13.0px,#2b0606 13.0px 14.0px,#300404 14.0px 15.0px,#280808 15.0px 16.0px,#220a0a 16.0px 17.0px,#15191c 17.0px 18.0px,#141111 18.0px 19.0px,#1c0d0d 19.0px 20.0px,#6e0000 20.0px 21.0px,#230a0a 21.0px 22.0px,#131415 22.0px 23.0px,#3b0000 23.0px 24.0px,#370000 24.0px 25.0px,#200b0b 25.0px 26.0px,#4b0000 26.0px 27.0px,#141719 27.0px 28.0px,#161b1e 28.0px 29.0px,#1a0e0e 29.0px 30.0px,#1e0c0c 30.0px 31.0px,#220a0a 31.0px 32.0px,#290707 32.0px 33.0px,#490000 33.0px 34.0px,#2b0606 34.0px 35.0px,#350202 35.0px 36.0px,#220b0b 36.0px 37.0px,#14181a 37.0px 38.0px,#270808 38.0px 39.0px,#141719 39.0px 40.0px,#3f0000 40.0px 41.0px,#210b0b 41.0px 42.0px,#15191b 42.0px 43.0px,#260808 43.0px 44.0px,#2d0505 44.0px 45.0px,#1a0e0e 45.0px 46.0px,#15191b 46.0px 47.0px,#200b0b 47.0px 48.0px,#1a0e0e 48.0px 49.0px,#1a0e0e 49.0px 50.0px,#2e4b5d 50.0px 50.9px,#131212 50.9px 51.9px,#7b0000 51.9px 52.9px,#660000 52.9px 53.9px,#4f0000 53.9px 54.9px,#220a0a 54.9px 55.9px,#4d0000 55.9px 56.9px,#3a0000 56.9px 57.9px,#2a0707 57.9px 58.9px,#280707 58.9px 59.9px,#2a0707 59.9px 60.9px,#1c2b33 60.9px 61.9px,#4d0000 61.9px 62.9px,#480000 62.9px 63.9px,#310303 63.9px 64.9px,#330202 64.9px 65.9px,#121314 65.9px 66.9px,#260909 66.9px 67.9px,#161010 67.9px 68.9px,#15181a 68.9px 69.9px,#310303 69.9px 70.9px,#7e0000 70.9px 71.9px,#6e0000 71.9px 72.9px,#2b0606 72.9px 73.9px,#1c0d0d 73.9px 74.9px,#790000 74.9px 75.9px,#131415 75.9px 76.9px,#151111 76.9px 77.9px,#350101 77.9px 78.9px,#730000 78.9px 79.9px,#650000 79.9px 80.9px,#1f313c 80.9px 81.9px,#1e2f3a 81.9px 82.9px,#171d21 82.9px 83.9px,#530000 83.9px 84.9px,#131516 84.9px 85.9px,#141111 85.9px 86.9px,#530000 86.9px 87.9px,#a00000 87.9px 88.9px,#a00000 88.9px 89.9px,#a00000 89.9px 90.9px,#a00000 90.9px 91.9px,#a00000 91.9px 92.9px,#a00000 92.9px 93.9px,#a00000 93.9px 94.9px,#a00000 94.9px 95.9px,#430000 95.9px 96.9px,#360101 96.9px 97.9px,#360101 97.9px 98.9px,#400000 98.9px 99.9px,#2d0505 99.9px 100.9px,#1b0e0e 100.9px 101.9px)"></div>
<svg width="520" height="693" viewBox="0 0 520 693"><defs><linearGradient id="gbar" x1="0" x2="1" y1="0" y2="0">
<stop offset="0" stop-color="#d04050"/><stop offset="0.3" stop-color="#d85870"/><stop offset="0.4" stop-color="#e8a0d0"/>
<stop offset="0.55" stop-color="#d8c8f0"/><stop offset="0.7" stop-color="#b0b0ec"/><stop offset="0.85" stop-color="#7070e0"/><stop offset="1" stop-color="#1010c0"/></linearGradient></defs>
<text x="7.30" y="18.10" font-size="12.4" font-weight="bold" stroke="#000" stroke-width="0.55">A</text>
<text x="34.00" y="16.50" font-size="7.1" font-weight="bold" textLength="49.00" lengthAdjust="spacingAndGlyphs" text-decoration="underline">Mutational Profile</text>
<rect x="33.90" y="20.50" width="7.40" height="7.40" fill="#e8901c" stroke="#444" stroke-width="0.6"/>
<text x="44.80" y="26.60" font-size="6.8" fill="#222" stroke="#222" stroke-width="0.16" textLength="54.90" lengthAdjust="spacingAndGlyphs">BCR-ABL1 Mutations</text>
<rect x="33.90" y="32.10" width="7.40" height="7.40" fill="#cc2018" stroke="#444" stroke-width="0.6"/>
<text x="44.80" y="38.20" font-size="6.8" fill="#222" stroke="#222" stroke-width="0.16" textLength="34.40" lengthAdjust="spacingAndGlyphs">Amplification</text>
<rect x="33.90" y="43.20" width="7.40" height="7.40" fill="#5aaae4" stroke="#444" stroke-width="0.6"/>
<text x="44.80" y="49.30" font-size="6.8" fill="#222" stroke="#222" stroke-width="0.16" textLength="22.10" lengthAdjust="spacingAndGlyphs">Deletion</text>
<rect x="33.90" y="54.30" width="7.40" height="7.40" fill="#f8ea30" stroke="#444" stroke-width="0.6"/>
<text x="44.80" y="60.40" font-size="6.8" fill="#222" stroke="#222" stroke-width="0.16" textLength="57.90" lengthAdjust="spacingAndGlyphs">Non-Synonymous SNV</text>
<rect x="33.90" y="65.10" width="7.40" height="7.40" fill="#a050a8" stroke="#444" stroke-width="0.6"/>
<text x="44.80" y="71.20" font-size="6.8" fill="#222" stroke="#222" stroke-width="0.16" textLength="44.50" lengthAdjust="spacingAndGlyphs">Gain of Stop Site</text>
<rect x="33.90" y="76.40" width="7.40" height="7.40" fill="#a07448" stroke="#444" stroke-width="0.6"/>
<text x="44.80" y="82.50" font-size="6.8" fill="#222" stroke="#222" stroke-width="0.16" textLength="48.00" lengthAdjust="spacingAndGlyphs">Altered Splice Site</text>
<text x="146.50" y="13.80" font-size="9.2" fill="#222" stroke="#222" stroke-width="0.16" textLength="36.50" lengthAdjust="spacingAndGlyphs">Beta values</text>
<rect x="128.20" y="16.40" width="7.11" height="5.20" fill="#3366ff"/>
<rect x="135.01" y="16.40" width="7.11" height="5.20" fill="#2850d0"/>
<rect x="141.82" y="16.40" width="7.11" height="5.20" fill="#1e3ca0"/>
<rect x="148.63" y="16.40" width="7.11" height="5.20" fill="#182c80"/>
<rect x="155.44" y="16.40" width="7.11" height="5.20" fill="#101a50"/>
<rect x="162.25" y="16.40" width="7.11" height="5.20" fill="#000000"/>
<rect x="169.05" y="16.40" width="7.11" height="5.20" fill="#303010"/>
<rect x="175.86" y="16.40" width="7.11" height="5.20" fill="#606020"/>
<rect x="182.67" y="16.40" width="7.11" height="5.20" fill="#909028"/>
<rect x="189.48" y="16.40" width="7.11" height="5.20" fill="#c8c030"/>
<rect x="196.29" y="16.40" width="7.11" height="5.20" fill="#f8f030"/>
<text x="131.20" y="28.70" font-size="7.2" fill="#222" stroke="#222" stroke-width="0.16" text-anchor="middle">0</text>
<text x="165.80" y="28.70" font-size="7.2" fill="#222" stroke="#222" stroke-width="0.16" text-anchor="middle" textLength="9.50" lengthAdjust="spacingAndGlyphs">0.5</text>
<text x="199.20" y="28.70" font-size="7.2" fill="#222" stroke="#222" stroke-width="0.16" text-anchor="middle">1</text>
<rect x="126.00" y="29.40" width="45.00" height="61.40" fill="#fff"/>
<rect x="126.00" y="29.40" width="2.50" height="6.14" fill="#e8901c"/>
<rect x="133.50" y="29.40" width="2.50" height="6.14" fill="#e8901c"/>
<rect x="136.00" y="29.40" width="2.50" height="6.14" fill="#e8901c"/>
<rect x="141.00" y="29.40" width="2.50" height="6.14" fill="#e8901c"/>
<rect x="143.50" y="29.40" width="2.50" height="6.14" fill="#e8901c"/>
<rect x="146.00" y="29.40" width="2.50" height="6.14" fill="#e8901c"/>
<rect x="148.50" y="29.40" width="2.50" height="6.14" fill="#e8901c"/>
<rect x="151.00" y="29.40" width="2.50" height="6.14" fill="#e8901c"/>
<rect x="153.50" y="29.40" width="2.50" height="6.14" fill="#e8901c"/>
<rect x="156.00" y="29.40" width="2.50" height="6.14" fill="#e8901c"/>
<rect x="158.50" y="29.40" width="2.50" height="6.14" fill="#e8901c"/>
<rect x="168.50" y="29.40" width="2.50" height="6.14" fill="#e8901c"/>
<rect x="138.50" y="41.68" width="2.50" height="6.14" fill="#5aaae4"/>
<rect x="161.00" y="41.68" width="2.50" height="6.14" fill="#5aaae4"/>
<rect x="141.00" y="47.82" width="2.50" height="6.14" fill="#f8ea30"/>
<rect x="146.00" y="47.82" width="2.50" height="6.14" fill="#f8ea30"/>
<rect x="131.00" y="53.96" width="2.50" height="6.14" fill="#5aaae4"/>
<rect x="133.50" y="53.96" width="2.50" height="6.14" fill="#a050a8"/>
<rect x="138.50" y="53.96" width="2.50" height="6.14" fill="#5aaae4"/>
<rect x="141.00" y="53.96" width="2.50" height="6.14" fill="#cc2018"/>
<rect x="143.50" y="53.96" width="2.50" height="6.14" fill="#cc2018"/>
<rect x="146.00" y="53.96" width="2.50" height="6.14" fill="#cc2018"/>
<rect x="161.00" y="53.96" width="2.50" height="6.14" fill="#5aaae4"/>
<rect x="166.00" y="53.96" width="2.50" height="6.14" fill="#cc2018"/>
<rect x="133.50" y="66.24" width="2.50" height="6.14" fill="#f8ea30"/>
<rect x="153.50" y="72.38" width="2.50" height="6.14" fill="#5aaae4"/>
<rect x="136.00" y="78.52" width="2.50" height="6.14" fill="#cc2018"/>
<path d="M126.00 29.40V90.80M128.50 29.40V90.80M131.00 29.40V90.80M133.50 29.40V90.80M136.00 29.40V90.80M138.50 29.40V90.80M141.00 29.40V90.80M143.50 29.40V90.80M146.00 29.40V90.80M148.50 29.40V90.80M151.00 29.40V90.80M153.50 29.40V90.80M156.00 29.40V90.80M158.50 29.40V90.80M161.00 29.40V90.80M163.50 29.40V90.80M166.00 29.40V90.80M168.50 29.40V90.80M171.00 29.40V90.80M126.00 29.40H171.00M126.00 35.54H171.00M126.00 41.68H171.00M126.00 47.82H171.00M126.00 53.96H171.00M126.00 60.10H171.00M126.00 66.24H171.00M126.00 72.38H171.00M126.00 78.52H171.00M126.00 84.66H171.00M126.00 90.80H171.00" stroke="#5a5a5a" stroke-width="0.5" fill="none"/>
<rect x="173.25" y="29.40" width="30.00" height="61.40" fill="#fff"/>
<rect x="173.25" y="29.40" width="2.50" height="6.14" fill="#e8901c"/>
<rect x="175.75" y="29.40" width="2.50" height="6.14" fill="#e8901c"/>
<rect x="178.25" y="29.40" width="2.50" height="6.14" fill="#e8901c"/>
<rect x="183.25" y="29.40" width="2.50" height="6.14" fill="#e8901c"/>
<rect x="185.75" y="29.40" width="2.50" height="6.14" fill="#e8901c"/>
<rect x="188.25" y="29.40" width="2.50" height="6.14" fill="#e8901c"/>
<rect x="190.75" y="29.40" width="2.50" height="6.14" fill="#e8901c"/>
<rect x="193.25" y="29.40" width="2.50" height="6.14" fill="#e8901c"/>
<rect x="195.75" y="29.40" width="2.50" height="6.14" fill="#e8901c"/>
<rect x="173.25" y="35.54" width="2.50" height="6.14" fill="#cc2018"/>
<rect x="193.25" y="35.54" width="2.50" height="6.14" fill="#cc2018"/>
<rect x="173.25" y="41.68" width="2.50" height="6.14" fill="#f8ea30"/>
<rect x="188.25" y="41.68" width="2.50" height="6.14" fill="#5aaae4"/>
<rect x="193.25" y="41.68" width="2.50" height="6.14" fill="#5aaae4"/>
<rect x="180.75" y="53.96" width="2.50" height="6.14" fill="#5aaae4"/>
<rect x="183.25" y="53.96" width="2.50" height="6.14" fill="#5aaae4"/>
<rect x="185.75" y="53.96" width="2.50" height="6.14" fill="#5aaae4"/>
<rect x="188.25" y="53.96" width="2.50" height="6.14" fill="#5aaae4"/>
<rect x="190.75" y="53.96" width="2.50" height="6.14" fill="#5aaae4"/>
<rect x="200.75" y="53.96" width="2.50" height="6.14" fill="#5aaae4"/>
<rect x="188.25" y="60.10" width="2.50" height="6.14" fill="#5aaae4"/>
<rect x="190.75" y="60.10" width="2.50" height="6.14" fill="#5aaae4"/>
<rect x="175.75" y="66.24" width="2.50" height="6.14" fill="#a07448"/>
<rect x="183.25" y="66.24" width="2.50" height="6.14" fill="#a050a8"/>
<rect x="195.75" y="78.52" width="2.50" height="6.14" fill="#f8ea30"/>
<rect x="188.25" y="84.66" width="2.50" height="6.14" fill="#5aaae4"/>
<path d="M173.25 29.40V90.80M175.75 29.40V90.80M178.25 29.40V90.80M180.75 29.40V90.80M183.25 29.40V90.80M185.75 29.40V90.80M188.25 29.40V90.80M190.75 29.40V90.80M193.25 29.40V90.80M195.75 29.40V90.80M198.25 29.40V90.80M200.75 29.40V90.80M203.25 29.40V90.80M173.25 29.40H203.25M173.25 35.54H203.25M173.25 41.68H203.25M173.25 47.82H203.25M173.25 53.96H203.25M173.25 60.10H203.25M173.25 66.24H203.25M173.25 72.38H203.25M173.25 78.52H203.25M173.25 84.66H203.25M173.25 90.80H203.25" stroke="#5a5a5a" stroke-width="0.5" fill="none"/>
<text x="207.00" y="34.57" font-size="6.6" fill="#111" stroke="#111" stroke-width="0.16" textLength="31.00" lengthAdjust="spacingAndGlyphs">BCR-ABL1</text>
<text x="207.00" y="40.71" font-size="6.6" fill="#111" stroke="#111" stroke-width="0.16">BMI1</text>
<text x="207.00" y="46.85" font-size="6.6" fill="#111" stroke="#111" stroke-width="0.16">EZH2</text>
<text x="207.00" y="52.99" font-size="6.6" fill="#111" stroke="#111" stroke-width="0.16">GATA2</text>
<text x="207.00" y="59.13" font-size="6.6" fill="#111" stroke="#111" stroke-width="0.16">IKZF1</text>
<text x="207.00" y="65.27" font-size="6.6" fill="#111" stroke="#111" stroke-width="0.16">PAX5</text>
<text x="207.00" y="71.41" font-size="6.6" fill="#111" stroke="#111" stroke-width="0.16">RUNX1</text>
<text x="207.00" y="77.55" font-size="6.6" fill="#111" stroke="#111" stroke-width="0.16">RUNX3</text>
<text x="207.00" y="83.69" font-size="6.6" fill="#111" stroke="#111" stroke-width="0.16">SETD1B</text>
<text x="207.00" y="89.83" font-size="6.6" fill="#111" stroke="#111" stroke-width="0.16" textLength="27.00" lengthAdjust="spacingAndGlyphs">ZCCHC7</text>
<rect x="51.30" y="91.50" width="2.50" height="171.50" fill="#9a9a9a"/>
<rect x="123.80" y="91.50" width="2.00" height="171.50" fill="#9a9a9a"/>
<rect x="171.20" y="91.50" width="2.30" height="171.50" fill="#9a9a9a"/>
<text x="34.60" y="272.60" font-size="7.4" fill="#111" stroke="#111" stroke-width="0.16" textLength="16.00" lengthAdjust="spacingAndGlyphs">NBM</text>
<text x="83.60" y="272.60" font-size="7.4" fill="#111" stroke="#111" stroke-width="0.16" textLength="9.70" lengthAdjust="spacingAndGlyphs">CP</text>
<text x="140.80" y="272.60" font-size="7.4" fill="#111" stroke="#111" stroke-width="0.16" textLength="15.20" lengthAdjust="spacingAndGlyphs">MBC</text>
<text x="182.00" y="272.60" font-size="7.4" fill="#111" stroke="#111" stroke-width="0.16" textLength="12.00" lengthAdjust="spacingAndGlyphs">LBC</text>
<text x="196.00" y="268.50" font-size="5.5" fill="#111" stroke="#111" stroke-width="0.16">*</text>
<line x1="206.80" y1="91.90" x2="206.80" y2="119.30" stroke="#777" stroke-width="1.1" />
<line x1="211.50" y1="120.00" x2="211.50" y2="209.00" stroke="#111" stroke-width="1.1" />
<line x1="206.80" y1="209.80" x2="206.80" y2="223.50" stroke="#777" stroke-width="1.1" />
<line x1="211.50" y1="224.80" x2="211.50" y2="237.20" stroke="#111" stroke-width="1.1" />
<line x1="206.80" y1="238.50" x2="206.80" y2="245.40" stroke="#777" stroke-width="1.1" />
<line x1="211.50" y1="246.80" x2="211.50" y2="260.50" stroke="#111" stroke-width="1.1" />
<text x="214.70" y="107.70" font-size="7.4" fill="#111" stroke="#111" stroke-width="0.16" textLength="14.50" lengthAdjust="spacingAndGlyphs">MBC</text>
<path d="M231.40 107.24L236.60 107.24L234.00 102.76Z" fill="#f0b428"/>
<text x="238.00" y="107.70" font-size="7.4" fill="#111" stroke="#111" stroke-width="0.16" textLength="12.30" lengthAdjust="spacingAndGlyphs">LBC</text>
<path d="M255.20 107.24L260.40 107.24L257.80 102.76Z" fill="#f0b428"/>
<text x="214.70" y="167.20" font-size="7.4" fill="#111" stroke="#111" stroke-width="0.16" textLength="14.50" lengthAdjust="spacingAndGlyphs">MBC</text>
<text x="231.00" y="167.20" font-size="7.4" fill="#111" stroke="#111" stroke-width="0.16">-</text>
<text x="235.00" y="167.20" font-size="7.4" fill="#111" stroke="#111" stroke-width="0.16" textLength="12.30" lengthAdjust="spacingAndGlyphs">LBC</text>
<path d="M255.20 166.74L260.40 166.74L257.80 162.26Z" fill="#f0b428"/>
<text x="214.70" y="219.30" font-size="7.4" fill="#111" stroke="#111" stroke-width="0.16" textLength="14.50" lengthAdjust="spacingAndGlyphs">MBC</text>
<path d="M231.40 218.84L236.60 218.84L234.00 214.36Z" fill="#f0b428"/>
<text x="238.00" y="219.30" font-size="7.4" fill="#111" stroke="#111" stroke-width="0.16" textLength="12.30" lengthAdjust="spacingAndGlyphs">LBC</text>
<text x="253.50" y="219.30" font-size="7.4" fill="#111" stroke="#111" stroke-width="0.16">-</text>
<text x="214.70" y="233.00" font-size="7.4" fill="#111" stroke="#111" stroke-width="0.16" textLength="27.00" lengthAdjust="spacingAndGlyphs">Pan-CML</text>
<text x="214.70" y="244.70" font-size="7.4" fill="#111" stroke="#111" stroke-width="0.16" textLength="14.50" lengthAdjust="spacingAndGlyphs">MBC</text>
<path d="M231.40 239.76L236.60 239.76L234.00 244.24Z" fill="#2840a0"/>
<text x="238.00" y="244.70" font-size="7.4" fill="#111" stroke="#111" stroke-width="0.16" textLength="12.30" lengthAdjust="spacingAndGlyphs">LBC</text>
<text x="253.50" y="244.70" font-size="7.4" fill="#111" stroke="#111" stroke-width="0.16">-</text>
<text x="214.70" y="255.50" font-size="7.4" fill="#111" stroke="#111" stroke-width="0.16" textLength="14.50" lengthAdjust="spacingAndGlyphs">MBC</text>
<text x="231.00" y="255.50" font-size="7.4" fill="#111" stroke="#111" stroke-width="0.16">-</text>
<text x="235.00" y="255.50" font-size="7.4" fill="#111" stroke="#111" stroke-width="0.16" textLength="12.30" lengthAdjust="spacingAndGlyphs">LBC</text>
<path d="M255.20 250.56L260.40 250.56L257.80 255.04Z" fill="#2840a0"/>
<text x="7.90" y="301.30" font-size="12.0" font-weight="bold" stroke="#000" stroke-width="0.55">B</text>
<text x="109.00" y="299.00" font-size="9.2" fill="#111" stroke="#111" stroke-width="0.16" textLength="45.50" lengthAdjust="spacingAndGlyphs">MBC vs CP</text>
<text x="58.30" y="310.20" font-size="6.4" fill="#222" stroke="#222" stroke-width="0.16" textLength="50.50" lengthAdjust="spacingAndGlyphs">561 (285) 8.43%</text>
<text x="152.00" y="310.20" font-size="6.4" fill="#222" stroke="#222" stroke-width="0.16" textLength="58.00" lengthAdjust="spacingAndGlyphs">3024 (898) 45.47%</text>
<text x="58.30" y="518.20" font-size="6.4" fill="#222" stroke="#222" stroke-width="0.16" textLength="50.50" lengthAdjust="spacingAndGlyphs">356 (189) 5.35%</text>
<text x="152.00" y="518.20" font-size="6.4" fill="#222" stroke="#222" stroke-width="0.16" textLength="58.00" lengthAdjust="spacingAndGlyphs">2710 (871) 40.75%</text>
<path d="M136.5 406.9h0M183.6 403.1h0M170.7 404.1h0M131.8 392.7h0M118.3 401.4h0M129.6 386.6h0M125.3 395.9h0M133.7 400.4h0M134.8 399.0h0M127.3 406.9h0M170.8 409.7h0M131.6 385.5h0M111.8 395.4h0M90.3 404.7h0M109.7 404.3h0M138.7 386.7h0M167.7 427.3h0M149.0 410.8h0M132.2 404.8h0M149.4 422.8h0M129.5 383.6h0M132.3 401.0h0M94.1 412.2h0M149.6 409.4h0M117.4 404.2h0M139.7 412.1h0M107.7 408.7h0M172.8 396.9h0M127.8 409.8h0M143.9 413.1h0M134.1 390.4h0M155.6 402.5h0M109.3 400.3h0M139.8 424.3h0M130.5 396.4h0M139.8 411.1h0M149.9 406.4h0M181.7 401.0h0M162.0 407.0h0M142.1 403.4h0M136.8 429.1h0M134.0 395.9h0M130.9 403.4h0M158.1 403.3h0M134.3 420.8h0M125.4 398.7h0M89.7 397.7h0M151.4 390.2h0M158.6 397.6h0M143.0 422.2h0M127.9 404.8h0M165.0 416.2h0M158.1 393.3h0M146.7 407.2h0M166.2 402.3h0M131.8 406.8h0M156.6 411.8h0M103.9 408.4h0M125.5 413.5h0M164.2 406.5h0M180.4 412.1h0M137.6 412.4h0M128.7 418.9h0M117.6 410.9h0M127.7 403.8h0M158.3 402.6h0M156.5 406.4h0M144.9 412.4h0M102.0 397.3h0M169.2 406.9h0M171.1 403.9h0M175.0 419.6h0M134.5 405.8h0M120.4 412.6h0M100.0 412.4h0M151.5 419.3h0M124.1 399.1h0M115.3 400.4h0M133.2 388.5h0M118.4 414.3h0M154.0 407.4h0M140.9 418.7h0M137.4 416.0h0M145.2 406.4h0M109.8 405.5h0M126.1 403.7h0M162.7 406.8h0M123.2 406.5h0M168.0 395.9h0M134.9 404.5h0M118.0 402.1h0M173.3 406.4h0M149.6 391.3h0M128.2 402.0h0M95.0 409.1h0M97.6 396.6h0M145.9 412.5h0M120.1 400.5h0M173.8 398.2h0M136.4 412.7h0M140.0 414.0h0M120.1 411.1h0M150.3 411.6h0M119.2 407.0h0M130.1 402.8h0M136.5 404.6h0M126.2 402.0h0M128.3 398.4h0M126.5 407.9h0M125.3 402.4h0M164.0 400.4h0M90.3 410.2h0M109.2 407.0h0M147.3 404.0h0M118.5 410.0h0M117.1 397.8h0M156.5 417.1h0M104.6 405.1h0M148.2 394.9h0M140.2 406.0h0M132.8 407.5h0M125.2 399.1h0M107.5 399.9h0M162.3 398.8h0M143.5 410.9h0M167.0 394.0h0M129.8 406.1h0M159.4 394.9h0M154.5 400.3h0M159.7 428.4h0M154.5 404.5h0M146.7 397.9h0M149.4 409.7h0M115.5 394.8h0M134.6 396.2h0M115.9 402.0h0M135.7 415.7h0M131.7 421.1h0M124.0 402.2h0M141.9 402.0h0M143.2 384.6h0M135.6 426.8h0M129.1 413.3h0M141.6 400.0h0M164.8 396.8h0M142.3 426.8h0M124.7 399.8h0M125.8 393.4h0M126.6 404.7h0M137.0 426.5h0M176.5 397.5h0M163.7 430.1h0M163.4 404.7h0M99.0 409.4h0M154.9 453.7h0M158.4 402.1h0M134.4 415.4h0M136.1 413.5h0M109.9 402.6h0M110.4 404.2h0M113.7 398.0h0M161.1 408.2h0M128.7 408.5h0M167.1 398.0h0M149.9 417.1h0M125.9 389.4h0M99.0 418.5h0M183.6 401.0h0M115.8 405.7h0M171.3 404.1h0M107.7 404.0h0M138.2 407.8h0M122.7 386.7h0M145.0 399.6h0M130.3 415.3h0M141.8 389.2h0M128.1 399.6h0M120.0 403.0h0M123.6 421.6h0M140.3 400.5h0M171.8 401.9h0M157.5 420.3h0M128.4 391.1h0M136.1 402.9h0M93.6 394.8h0M145.1 416.5h0M139.9 417.9h0M162.3 396.8h0M140.9 394.3h0M139.6 395.9h0M143.7 417.9h0M111.2 405.4h0M177.7 406.3h0M130.5 391.2h0M133.8 399.6h0M166.8 392.3h0M139.5 419.6h0M154.0 401.5h0M127.6 408.6h0M193.6 404.6h0M136.3 396.1h0M137.7 388.4h0M199.0 395.9h0M161.4 424.9h0M114.4 402.3h0M135.5 398.2h0M157.7 405.1h0M141.3 405.0h0M115.9 413.9h0M139.7 415.3h0M112.7 402.2h0M132.2 400.3h0M132.7 421.7h0M124.5 396.5h0M172.2 410.5h0M120.2 406.5h0M165.6 398.4h0M145.4 395.9h0M144.7 418.0h0M166.0 399.7h0M111.8 390.8h0M90.1 406.0h0M100.5 423.7h0M132.4 385.6h0M163.8 402.5h0M144.7 406.1h0M136.6 415.2h0M169.3 403.0h0M167.7 393.1h0M125.3 406.4h0M142.6 409.8h0M130.6 396.7h0M163.4 425.6h0M154.6 402.0h0M111.4 410.5h0M161.6 437.1h0M153.1 388.1h0M136.7 399.3h0M130.8 401.2h0M133.6 379.9h0M158.4 403.3h0M170.6 396.5h0M149.2 400.6h0M146.7 401.7h0M115.6 398.7h0M158.4 401.3h0M143.5 395.2h0M143.3 414.1h0M152.0 409.4h0M161.5 405.6h0M137.6 411.7h0M115.2 406.5h0M145.3 416.3h0M146.4 399.9h0M119.7 397.0h0M130.0 395.7h0M118.4 400.2h0M140.6 408.5h0M116.0 414.2h0M112.4 412.2h0M136.5 402.9h0M127.5 426.7h0M108.2 404.1h0M121.6 408.0h0M167.3 419.5h0M109.5 396.5h0M157.6 428.4h0M158.4 407.2h0M136.1 413.8h0M136.3 379.5h0M109.0 402.3h0M133.9 409.4h0M139.1 407.0h0M125.3 422.3h0M130.2 397.1h0M138.4 419.8h0M140.9 421.7h0M131.2 406.2h0M122.5 401.4h0M147.5 421.1h0M118.6 416.4h0M179.1 405.0h0M130.4 394.7h0M123.8 400.9h0M136.8 402.9h0M100.6 399.5h0M151.6 404.3h0M171.7 402.7h0M157.2 409.2h0M114.7 400.6h0M133.4 407.7h0M137.1 404.8h0M127.8 405.2h0M144.4 405.0h0M131.8 400.8h0M128.5 414.0h0M140.4 397.2h0M151.9 411.7h0M152.0 401.2h0M138.0 405.9h0M115.6 399.7h0M151.8 407.7h0M94.8 405.6h0M138.7 395.6h0M174.7 400.8h0M105.9 405.8h0M131.9 402.4h0M139.3 402.5h0M135.7 407.3h0M153.4 395.6h0M160.5 402.0h0M130.5 407.3h0M148.9 417.0h0M154.2 399.6h0M118.6 406.5h0M107.0 399.8h0M132.9 394.9h0M175.1 409.7h0M157.9 415.6h0M132.6 384.8h0M158.7 394.0h0M163.4 392.0h0M134.3 404.8h0M158.8 400.3h0M147.3 401.7h0M137.5 410.3h0M148.7 398.5h0M138.5 419.9h0M185.8 400.1h0M162.4 405.1h0M144.2 390.8h0M110.2 406.1h0M149.0 401.5h0M162.9 401.0h0M147.0 394.2h0M112.1 403.7h0M129.5 402.8h0M131.6 397.5h0M133.6 407.3h0M117.5 407.3h0M158.8 406.4h0M121.1 406.8h0M138.5 410.7h0M103.4 398.6h0M111.8 405.9h0M149.9 391.8h0M168.0 383.2h0M138.6 386.8h0M118.7 404.8h0M129.7 405.1h0M162.3 408.6h0M147.9 418.7h0M170.1 394.6h0M115.5 408.3h0M121.6 384.2h0M109.2 414.6h0M175.7 400.1h0M140.0 411.2h0M106.4 410.1h0M136.5 396.9h0M179.3 409.4h0M153.6 404.2h0M160.8 402.4h0M128.4 406.9h0M140.5 410.3h0M114.4 400.0h0M90.4 403.7h0M171.4 401.4h0M156.5 423.4h0M134.2 419.3h0M161.1 404.0h0M140.0 417.3h0M150.5 398.1h0M90.0 413.2h0M159.4 409.5h0M129.3 403.1h0M126.6 404.6h0M133.6 391.5h0M133.1 421.0h0M150.6 406.9h0M109.9 403.6h0M149.3 407.7h0M142.8 387.1h0M111.8 401.7h0M152.9 412.4h0M172.2 408.2h0M139.4 414.5h0M136.5 412.9h0M133.5 409.8h0M136.5 410.4h0M143.1 395.3h0M121.8 405.2h0M108.6 406.2h0M139.2 405.3h0M120.0 409.6h0M169.7 411.3h0M117.5 405.8h0M136.4 410.8h0M132.0 407.2h0M155.8 404.1h0M148.0 410.4h0M112.3 407.1h0M131.9 403.4h0M151.7 402.7h0M141.2 392.0h0M149.3 415.9h0M107.9 405.6h0M145.2 402.6h0M125.7 399.6h0M156.4 405.2h0M134.6 400.7h0M174.3 398.3h0M123.0 408.3h0M116.6 403.4h0M143.7 402.7h0M127.8 407.5h0M135.8 398.2h0M102.8 400.2h0M127.9 397.5h0M154.1 400.9h0M143.6 407.2h0M147.3 423.9h0M146.7 404.1h0M137.8 418.9h0M127.9 404.0h0M161.6 404.2h0M106.6 401.7h0M162.5 410.3h0M86.0 398.1h0M113.4 401.8h0M136.3 417.0h0M121.1 406.3h0M129.5 392.8h0M155.0 409.0h0M132.5 421.3h0M114.1 427.8h0M132.1 408.8h0M155.7 392.9h0M164.6 400.8h0M150.2 413.7h0M142.9 417.1h0M154.7 411.6h0M133.5 401.3h0M134.4 392.4h0M138.8 419.2h0M108.0 409.4h0M126.1 392.8h0M151.3 383.6h0M138.3 396.1h0M131.5 397.5h0M130.9 400.9h0M137.7 403.8h0M166.6 399.5h0M147.0 396.3h0M147.8 409.2h0M162.7 405.7h0M160.6 410.9h0M144.1 397.3h0M180.8 401.0h0M114.4 400.6h0M128.4 399.7h0M130.8 403.8h0M145.3 412.1h0M130.3 408.7h0M71.0 397.5h0M135.0 410.8h0M108.1 405.7h0M134.0 400.2h0M115.1 401.4h0M134.0 380.9h0M143.7 402.1h0M140.6 405.7h0M142.4 398.6h0M159.9 429.9h0M164.2 406.4h0M114.1 399.6h0M135.3 433.5h0M137.8 394.6h0M164.8 418.4h0M139.6 414.4h0M127.5 403.5h0M166.7 406.0h0M127.9 412.5h0M125.1 390.6h0M156.5 406.2h0M136.9 399.9h0M153.4 411.7h0M163.6 426.8h0M133.3 399.6h0M128.5 394.4h0M121.9 401.1h0M137.1 397.3h0M124.1 399.3h0M156.7 399.6h0M146.8 398.4h0M139.9 409.1h0M146.8 411.6h0M138.5 419.6h0M102.8 412.2h0M157.4 397.2h0M142.3 417.1h0M155.0 406.8h0M160.2 397.3h0M164.4 407.8h0M108.0 402.5h0M150.8 419.6h0M107.9 410.8h0M107.3 394.1h0M119.7 407.0h0M142.6 412.5h0M144.7 397.2h0M134.4 391.2h0M138.1 409.7h0M180.0 408.5h0M130.7 397.9h0M125.7 394.4h0M135.0 383.7h0M110.7 403.0h0M115.0 404.3h0M121.8 404.7h0M164.4 407.9h0M186.0 398.5h0M120.0 404.3h0M140.2 412.1h0M152.0 393.1h0M137.3 408.4h0M123.5 409.2h0M134.8 404.4h0M134.9 456.4h0M108.3 411.6h0M131.1 402.8h0M147.3 415.4h0M133.8 396.8h0M124.6 403.3h0M150.7 408.6h0M162.9 408.3h0M168.1 392.4h0M110.4 427.8h0M141.9 393.7h0M150.0 400.3h0M149.5 416.8h0M144.1 436.0h0M141.7 413.1h0M130.0 395.0h0M140.6 408.9h0M161.5 402.5h0M132.0 410.6h0M95.2 397.8h0M126.7 407.4h0M135.3 410.3h0M133.8 399.5h0M132.1 406.0h0M146.1 393.8h0M155.1 400.9h0M136.1 419.7h0M149.7 421.9h0M163.2 405.0h0M179.8 406.8h0M98.5 406.7h0M111.1 399.9h0M116.4 409.0h0M140.9 416.3h0M118.7 410.7h0M144.6 426.1h0M190.8 398.8h0M180.1 397.8h0M135.8 411.4h0M161.3 378.6h0M139.9 411.2h0M166.6 410.4h0M150.3 416.4h0M171.6 404.9h0M140.0 418.2h0M135.5 403.4h0M99.7 405.4h0M108.6 414.5h0M126.9 413.4h0M111.2 399.2h0M131.7 386.4h0M120.8 399.7h0M137.0 395.0h0M147.0 393.5h0M142.3 408.2h0M111.8 402.0h0M106.6 396.7h0M121.9 396.9h0M168.7 405.9h0M164.9 409.5h0M172.3 412.8h0M137.0 399.9h0M119.1 400.5h0M108.9 410.2h0M96.8 401.0h0M160.0 399.5h0M145.6 404.9h0M122.7 405.5h0M199.1 407.3h0M174.3 395.1h0M128.7 392.8h0M128.8 398.1h0M95.7 407.7h0M134.5 412.2h0M156.1 399.4h0M128.7 405.5h0M163.3 405.7h0M148.1 395.8h0M139.3 393.3h0M138.7 396.3h0M116.6 414.3h0M133.7 407.1h0M175.8 405.7h0M151.6 412.0h0M110.1 411.8h0M139.3 416.1h0M142.3 401.5h0M147.8 394.3h0M133.2 429.1h0M169.8 406.3h0M176.5 398.5h0M155.6 403.7h0M138.6 403.2h0M117.3 410.8h0M126.9 412.9h0M121.3 396.2h0M138.2 396.0h0M110.8 400.6h0M170.5 409.3h0M104.7 399.5h0M113.9 403.9h0M112.0 402.3h0M118.2 399.7h0M124.8 403.8h0M117.6 403.3h0M153.0 408.5h0M171.2 403.2h0M114.9 404.4h0M152.9 400.0h0M151.8 402.9h0M153.5 393.4h0M134.0 420.3h0M120.9 416.6h0M159.7 401.3h0M105.6 403.2h0M149.3 411.9h0M136.2 410.8h0M141.6 407.2h0M154.9 418.5h0M156.1 415.8h0M139.8 400.3h0M107.9 404.4h0M167.1 398.6h0M120.7 415.0h0M119.0 401.4h0M135.9 390.1h0M154.1 402.7h0M145.3 408.8h0M113.6 404.4h0M123.4 403.4h0M135.4 405.6h0M121.5 400.1h0M118.1 407.0h0M99.0 407.1h0M112.9 403.3h0M129.7 407.3h0M111.5 401.0h0M157.6 411.9h0M169.0 391.8h0M133.3 404.7h0M173.8 395.3h0M133.5 423.8h0M143.9 427.4h0M116.9 399.3h0M164.1 416.1h0M130.6 407.9h0M139.5 392.0h0M139.8 401.1h0M120.3 394.2h0M101.7 408.8h0M159.5 401.6h0M155.8 406.7h0M148.4 420.5h0M170.2 397.5h0M148.3 402.5h0M96.2 408.7h0M103.8 392.5h0M141.5 386.2h0M154.9 409.1h0M164.4 400.4h0M134.5 421.0h0M178.0 404.7h0M101.4 407.4h0M108.8 400.6h0M127.3 402.5h0M179.9 394.2h0M154.1 404.1h0M128.0 398.0h0M109.8 406.0h0M142.4 399.7h0M132.9 412.5h0M163.2 407.9h0M123.2 412.3h0M143.5 392.8h0M102.5 394.9h0M127.3 398.4h0M109.7 398.3h0M128.9 391.7h0M156.2 390.8h0M114.2 411.3h0M150.2 408.0h0M161.4 402.3h0M117.9 397.9h0M133.5 423.6h0M185.9 393.0h0M171.3 408.1h0M145.0 399.3h0M134.8 429.1h0M134.6 400.9h0M133.6 418.2h0M134.1 396.6h0M138.7 394.3h0M136.4 394.9h0M116.3 402.8h0M113.0 409.2h0M139.9 395.5h0M155.8 395.5h0M113.1 406.9h0M138.3 399.4h0M165.5 403.9h0M166.9 410.3h0M174.6 403.0h0M133.8 396.1h0M140.8 397.9h0M113.8 403.8h0M169.6 408.9h0M103.6 396.8h0M174.1 402.0h0M153.9 408.9h0M138.9 378.6h0M133.5 394.8h0M172.6 402.4h0M130.9 395.1h0M128.0 417.3h0M130.7 409.6h0M151.3 395.5h0M166.8 404.5h0M126.1 420.9h0M131.0 396.0h0M139.6 398.2h0M139.3 394.7h0M149.5 399.3h0M183.3 408.5h0M121.9 403.3h0M142.9 410.1h0M113.6 399.2h0M120.9 408.1h0M134.1 414.9h0M154.9 401.9h0M144.6 409.1h0M153.2 398.4h0M130.8 400.1h0M119.9 399.0h0M117.4 400.7h0M137.5 402.1h0M188.1 400.0h0M138.4 387.6h0M165.3 404.2h0M153.1 399.4h0M152.3 413.9h0M132.0 388.0h0M152.9 405.6h0M112.5 411.1h0M141.6 397.5h0M129.0 388.3h0M144.8 420.4h0M161.1 410.5h0M154.1 411.9h0M158.9 419.5h0M128.0 395.6h0M107.0 408.1h0M144.1 385.4h0M107.7 407.5h0M138.1 390.3h0M129.9 421.6h0M107.1 406.8h0M138.1 390.2h0M138.7 401.8h0M120.0 396.9h0M161.9 400.4h0M125.0 401.2h0M142.5 405.8h0M185.0 406.2h0M143.2 406.6h0M153.1 403.2h0M88.8 403.6h0M132.0 406.0h0M130.3 387.3h0M141.8 404.3h0M94.3 406.5h0M157.5 406.1h0M131.5 404.6h0M117.7 403.1h0M106.1 402.9h0M129.0 413.9h0M116.4 391.8h0M113.1 395.1h0M174.2 394.1h0M154.0 403.6h0M171.1 403.4h0M139.0 397.7h0M140.3 397.5h0M157.6 408.1h0M198.4 396.7h0M156.7 415.7h0M165.1 425.4h0M158.9 413.6h0M77.5 410.4h0M128.2 397.3h0M173.2 402.3h0M155.0 399.0h0M128.3 401.4h0M126.2 392.4h0M134.7 407.4h0M154.5 397.8h0M140.9 391.7h0M135.6 409.7h0M171.6 403.9h0M137.6 404.2h0M140.7 410.0h0M150.2 412.6h0M144.8 416.9h0M137.6 400.8h0M152.3 409.0h0M138.0 403.6h0M167.7 410.1h0M145.2 380.7h0M182.5 423.1h0M140.0 392.2h0M128.6 402.3h0M148.6 404.9h0M141.3 408.3h0M116.8 402.0h0M142.9 419.5h0M145.0 404.1h0M145.0 404.5h0M130.7 408.6h0M155.4 429.5h0M128.9 406.0h0M135.4 422.5h0M129.9 407.1h0M106.5 398.6h0M88.3 413.3h0M116.0 412.4h0M118.5 409.5h0M159.6 405.2h0M114.2 407.0h0M145.0 415.2h0M137.6 407.5h0M139.5 427.4h0M99.3 403.4h0M159.1 412.5h0M153.6 400.4h0M167.2 404.2h0M144.9 400.9h0M115.9 407.2h0M115.5 411.2h0M152.7 397.3h0M138.6 409.4h0M132.0 397.8h0M165.7 400.3h0M146.3 392.1h0M132.1 401.8h0M151.9 406.6h0M127.1 403.8h0M122.6 404.1h0M148.4 396.3h0M77.7 395.8h0M119.8 399.8h0M154.1 399.8h0M137.0 378.6h0M139.0 409.9h0M169.7 406.7h0M124.6 395.6h0M131.5 387.5h0M137.9 399.6h0M129.3 398.7h0M144.3 384.2h0M142.0 408.5h0M102.5 413.1h0M142.1 386.6h0M137.5 401.5h0M134.3 427.0h0M137.1 414.6h0M130.3 379.8h0M140.4 405.5h0M133.2 409.8h0M173.6 413.4h0M138.7 407.0h0M105.0 399.8h0M154.1 407.0h0M96.6 407.5h0M132.2 398.7h0M105.9 391.8h0M119.8 396.3h0M99.2 390.1h0M105.9 398.4h0M146.1 417.5h0M144.8 409.1h0M67.6 414.7h0M152.6 408.8h0M137.0 392.7h0M165.5 408.7h0M130.4 398.9h0M135.5 426.5h0M114.5 399.8h0M128.6 393.0h0M148.9 398.4h0M124.7 422.0h0M152.9 396.4h0M171.0 402.4h0M123.0 423.9h0M166.4 403.0h0M150.0 399.6h0M136.7 410.2h0M132.8 416.9h0M163.4 414.3h0M152.3 399.7h0M172.6 378.6h0M122.3 400.4h0M143.3 400.5h0M156.1 407.7h0M124.0 404.5h0M177.8 404.1h0M128.5 395.1h0M181.8 400.5h0M110.0 403.3h0M149.1 387.3h0M145.7 393.5h0M141.4 389.2h0M116.0 402.1h0M136.6 395.1h0M134.7 397.0h0M118.6 408.0h0M125.6 416.0h0M123.7 399.7h0M114.1 407.2h0M174.8 399.9h0M125.1 406.1h0M156.2 406.4h0M154.5 410.1h0M119.9 399.0h0M157.7 400.6h0M108.8 403.1h0M144.3 394.8h0M138.9 411.5h0M121.1 397.4h0M130.9 402.5h0M135.1 407.4h0M144.0 394.4h0M138.8 405.7h0M136.8 396.2h0M129.2 390.4h0M107.9 407.3h0M133.0 404.1h0M171.8 406.6h0M135.6 401.6h0M155.9 397.6h0M138.1 408.5h0M137.3 401.9h0M131.0 412.5h0M100.0 385.3h0M167.8 400.1h0M135.1 405.0h0M158.3 406.4h0M130.0 410.9h0M161.5 439.6h0M133.3 404.8h0M130.1 405.2h0M123.5 409.7h0M109.3 403.9h0M164.9 401.9h0M176.0 404.3h0M141.9 390.9h0M115.0 401.1h0M159.3 403.7h0M136.5 399.4h0M112.2 394.8h0M139.3 412.1h0M139.2 410.7h0M170.6 410.7h0M114.3 406.0h0M192.2 411.8h0M150.5 396.0h0M162.7 405.1h0M117.7 409.7h0M142.8 415.1h0M116.5 400.1h0M128.9 399.8h0M129.8 406.3h0M141.3 390.1h0M157.9 407.8h0M133.6 406.1h0M145.1 378.6h0M130.5 409.0h0M143.0 398.9h0M116.0 398.9h0M145.2 395.7h0M190.0 409.1h0M129.4 398.1h0M139.2 400.3h0M104.2 395.7h0M93.8 403.1h0M143.3 392.9h0M124.1 395.6h0M136.3 403.5h0M145.6 395.5h0M134.1 415.6h0M162.0 411.6h0M138.9 408.7h0M164.8 417.6h0M134.7 402.0h0M128.3 419.8h0M161.4 403.8h0M142.8 396.4h0M114.6 403.4h0M128.3 401.6h0M128.9 413.1h0M132.8 391.6h0M121.3 401.2h0M111.0 401.4h0M118.5 401.9h0M134.2 419.8h0M135.5 402.0h0M116.3 408.0h0M143.3 414.2h0M175.1 400.7h0M111.0 399.6h0M105.1 401.1h0M115.8 409.2h0M141.8 402.0h0M168.8 407.2h0M144.9 398.3h0M121.1 387.1h0M157.9 401.4h0M142.6 408.2h0M128.4 398.6h0M119.0 401.9h0M151.4 414.7h0M136.1 411.0h0M133.8 406.5h0M143.0 415.9h0M110.9 401.0h0M143.1 424.6h0M169.9 421.9h0M138.0 385.9h0M84.7 396.7h0M141.7 389.7h0M136.7 398.4h0M142.9 410.2h0M131.8 406.0h0M173.9 398.2h0M179.7 408.4h0M153.4 410.0h0M133.2 393.4h0M141.4 392.1h0M131.9 385.8h0M129.4 396.4h0M141.0 388.7h0M150.6 405.6h0M140.5 382.0h0M166.5 402.8h0M110.7 405.2h0M162.3 405.7h0M115.6 401.7h0M169.4 401.1h0M139.7 404.6h0M116.7 393.7h0M126.9 397.5h0M128.2 405.5h0M125.4 409.4h0M140.4 398.9h0M121.2 400.8h0M142.3 402.6h0M144.2 395.3h0M118.0 407.0h0M165.2 406.4h0M147.9 397.3h0M116.3 409.1h0M111.7 397.8h0M126.8 415.5h0M154.6 412.8h0M128.7 387.3h0M89.3 407.7h0M143.4 394.5h0M121.8 405.2h0M151.5 401.1h0M112.7 409.5h0M115.8 401.1h0M114.6 404.9h0M140.6 422.3h0M177.1 415.9h0M120.4 397.5h0M126.8 406.7h0M152.7 405.4h0M131.2 411.6h0M150.1 410.8h0M135.0 417.9h0M150.5 402.7h0M148.4 404.7h0M163.9 404.5h0M154.5 397.7h0M164.1 402.4h0M123.1 405.8h0M121.3 417.4h0M110.2 407.7h0M146.3 400.4h0M149.8 428.3h0M104.7 416.0h0M153.7 398.5h0M128.1 405.9h0M117.0 399.1h0M141.9 401.6h0M133.1 404.4h0M147.1 411.2h0M136.4 387.9h0M135.7 404.2h0M160.4 411.6h0M138.2 408.6h0M133.9 403.4h0M119.7 397.5h0M126.9 421.0h0M137.8 414.2h0M132.4 390.1h0M122.3 420.8h0M114.8 397.6h0M164.0 406.4h0M118.8 398.1h0M145.1 415.7h0M140.3 407.8h0M137.6 406.8h0M145.1 404.1h0M143.4 393.4h0M150.2 402.6h0M163.8 407.2h0M114.5 412.0h0M124.1 413.6h0M133.0 387.0h0M143.4 412.1h0M139.4 399.7h0M147.1 394.3h0M134.4 394.7h0M128.9 400.6h0M122.4 409.9h0M154.8 401.6h0M137.3 423.6h0M128.7 414.1h0M140.5 412.2h0M151.2 392.3h0M150.7 410.4h0M174.1 406.4h0M156.4 402.9h0M118.6 385.4h0M148.4 411.7h0M96.3 408.2h0M118.2 402.7h0M134.5 398.8h0M134.1 410.1h0M134.4 388.3h0M137.2 400.0h0M141.8 404.3h0M151.9 401.4h0M138.1 403.3h0M94.9 407.0h0M133.6 383.5h0M137.4 409.9h0M156.7 408.1h0M150.7 409.1h0M143.6 398.2h0M143.0 413.4h0M141.1 396.0h0M147.2 405.5h0M125.9 424.1h0M137.3 412.2h0M150.0 402.4h0M130.2 418.4h0M105.0 403.4h0M148.0 398.6h0M163.9 404.1h0M172.3 402.0h0M142.1 392.8h0M153.0 408.8h0M129.6 416.0h0M110.1 411.0h0M144.2 409.1h0M141.8 398.5h0M77.3 408.4h0M109.9 402.4h0M132.3 409.4h0M142.3 379.2h0M156.2 396.0h0M165.7 402.2h0M106.9 399.3h0M165.8 406.6h0M129.8 422.7h0M146.6 416.7h0M139.5 424.5h0M112.6 401.8h0M149.3 422.5h0M119.2 399.3h0M153.7 414.3h0M126.5 397.9h0M126.6 403.0h0M147.0 423.2h0M115.8 403.6h0M151.5 408.2h0M106.4 410.4h0M127.3 405.5h0M134.8 406.3h0M129.3 384.5h0M159.3 409.0h0M129.8 404.3h0M144.6 399.4h0M106.5 409.4h0M175.6 398.4h0M112.1 398.1h0M114.5 405.0h0M128.0 408.6h0M162.4 401.1h0M129.6 405.8h0M135.8 414.1h0M145.2 404.7h0M140.8 400.4h0M122.6 389.9h0M140.9 418.3h0M151.9 419.5h0M115.5 406.4h0M121.0 396.5h0M138.5 394.4h0M114.2 399.8h0M105.6 399.5h0M120.4 409.9h0M126.3 394.1h0M133.7 399.6h0M161.3 411.8h0M101.3 406.9h0M173.3 389.9h0M173.5 397.3h0M153.5 409.0h0M140.2 396.3h0M132.5 395.0h0M116.8 408.3h0M131.6 402.5h0M128.7 408.3h0M154.5 401.9h0M135.9 414.3h0M173.1 406.7h0M164.8 413.6h0M145.1 427.0h0M169.0 405.3h0M126.8 402.6h0M134.0 396.2h0M135.1 397.8h0M127.4 417.8h0M135.0 412.8h0M170.0 401.0h0M139.9 387.0h0M128.0 408.0h0M187.4 411.8h0M191.6 389.5h0M147.7 412.0h0M107.0 411.0h0M156.2 406.1h0M165.0 404.2h0M143.5 397.7h0M155.2 406.3h0M131.8 411.7h0M150.1 383.8h0M119.6 399.2h0M119.7 382.1h0M141.4 388.1h0M123.0 406.4h0M127.5 404.0h0M179.4 412.0h0M168.1 405.1h0M135.1 423.8h0M156.0 419.5h0M134.6 408.0h0M143.8 413.6h0M132.9 395.3h0M134.6 401.8h0M167.2 399.5h0M148.7 413.1h0M159.8 390.0h0M165.0 406.4h0M168.7 403.6h0M128.7 411.5h0M133.6 394.2h0M160.8 399.2h0M124.5 402.8h0M146.6 403.3h0M172.3 397.4h0M157.5 415.3h0M174.3 409.2h0M141.2 405.1h0M146.3 400.4h0M156.8 397.7h0M114.3 407.2h0M113.8 409.2h0M152.1 400.9h0M126.4 397.5h0M151.6 402.6h0M128.9 413.4h0M106.6 404.7h0M143.2 406.9h0M106.5 397.6h0M138.3 410.9h0M149.1 404.7h0M116.5 402.6h0M172.8 391.6h0M156.3 406.2h0M138.4 400.5h0M151.3 425.4h0M125.5 388.1h0M118.5 405.5h0M143.6 415.7h0M129.7 392.0h0M139.8 382.5h0M132.1 401.5h0M118.5 420.8h0M104.8 405.7h0M186.1 397.7h0M132.7 410.8h0M119.9 402.1h0M135.3 391.9h0M127.3 399.6h0M144.6 407.3h0M129.6 418.0h0M159.4 409.1h0M163.2 411.9h0M128.3 410.1h0M103.6 404.0h0M132.8 396.7h0M123.0 394.3h0M156.1 404.0h0M143.6 380.9h0M127.9 398.1h0M111.5 401.2h0M115.2 399.8h0M99.0 405.0h0M134.3 413.8h0M135.5 406.5h0M140.4 399.7h0M139.4 411.7h0M136.0 392.1h0M135.5 418.0h0M134.6 421.0h0M106.1 403.3h0M162.7 407.9h0M157.2 422.1h0M159.6 399.3h0M100.8 401.8h0M113.8 398.2h0M101.2 406.8h0M135.9 413.6h0M128.5 411.8h0M124.7 404.2h0M172.5 397.8h0M126.8 406.8h0M136.7 406.3h0M115.0 404.1h0M125.2 405.1h0M110.7 407.8h0M153.7 408.5h0M160.0 408.4h0M148.1 416.1h0M110.8 404.8h0M122.3 400.5h0M130.0 394.0h0M162.1 412.8h0M143.6 429.7h0M140.0 407.5h0M125.6 405.0h0M94.3 408.1h0M135.5 409.8h0M100.2 403.3h0M159.2 406.7h0M167.6 400.8h0M165.1 402.9h0M133.8 406.8h0M169.5 408.5h0M156.6 396.2h0M174.8 404.9h0M145.7 431.6h0M130.7 390.2h0M135.7 394.1h0M160.7 404.5h0M142.6 406.3h0M84.7 409.0h0M123.4 408.0h0M156.7 404.5h0M143.5 411.7h0M127.7 403.6h0M156.8 408.5h0M103.9 400.9h0M143.2 409.4h0M161.4 410.8h0M160.7 403.0h0M132.8 397.0h0M135.6 407.8h0M178.0 415.0h0M103.6 409.3h0M146.1 422.9h0M135.4 427.1h0M163.8 399.6h0M124.6 402.2h0M152.6 422.4h0M179.5 402.8h0M125.0 400.2h0M176.7 399.9h0M110.7 401.2h0M101.5 402.6h0M146.5 394.3h0M158.0 408.9h0M119.5 400.9h0M112.0 401.5h0M123.7 396.2h0M136.8 400.1h0M143.1 402.4h0M115.6 399.8h0M156.4 410.8h0M155.5 405.9h0M114.0 400.7h0M126.3 398.2h0M169.7 408.4h0M139.9 413.6h0M143.1 398.2h0M169.0 411.2h0M79.8 409.2h0M127.1 387.6h0M135.2 412.6h0M139.5 419.5h0M111.3 400.8h0M158.7 409.3h0M138.2 380.9h0M179.7 402.3h0M147.3 415.4h0M148.2 408.9h0M121.4 405.7h0M126.9 393.7h0M105.7 403.4h0M141.6 398.0h0M132.2 394.8h0M174.8 404.8h0M124.6 414.8h0M144.9 412.1h0M114.8 407.0h0M152.3 411.4h0M142.4 407.6h0M120.9 403.9h0M122.8 399.9h0M153.3 406.9h0M173.0 415.8h0M143.3 404.3h0M115.5 403.8h0M122.7 405.1h0M129.4 413.7h0M135.9 395.1h0M147.3 404.0h0M132.3 397.2h0M108.5 403.8h0M188.2 413.3h0M170.5 425.3h0M111.3 405.4h0M187.0 402.4h0M104.8 400.9h0M125.3 401.2h0M111.9 406.5h0M131.4 393.3h0M162.5 404.7h0M162.2 400.1h0M158.2 415.0h0M86.4 406.0h0M119.7 403.4h0M135.1 414.6h0M177.7 410.3h0M127.5 406.9h0M115.8 396.2h0M183.1 417.0h0M136.9 416.4h0M172.1 399.0h0M146.8 405.5h0M127.1 402.4h0M176.5 400.5h0M152.6 408.7h0M131.6 393.1h0M115.9 397.8h0M85.8 406.0h0M146.9 406.4h0M168.3 424.9h0M141.5 414.5h0M125.9 400.7h0M134.1 399.5h0M133.9 429.7h0M152.2 393.6h0M125.2 399.8h0M144.8 401.0h0M132.3 404.8h0M133.4 400.0h0M137.7 409.7h0M142.7 400.0h0M181.6 400.3h0M135.3 398.2h0M138.3 429.6h0M152.6 411.1h0M148.9 410.0h0M176.8 408.5h0M136.9 380.5h0M122.5 410.6h0M144.4 407.3h0M164.2 413.3h0M167.9 412.5h0M136.4 414.6h0M134.3 409.4h0M133.2 410.7h0M102.6 406.3h0M140.3 404.9h0M173.6 407.3h0M124.3 409.9h0M161.3 408.4h0M185.7 402.5h0M106.4 400.6h0M130.1 402.3h0M109.0 381.4h0M148.2 411.8h0M170.8 403.1h0M134.9 402.4h0M160.4 400.9h0M131.6 386.6h0M159.7 403.2h0M114.1 399.2h0M98.7 402.6h0M141.1 382.2h0M136.5 406.3h0M138.0 399.2h0M135.7 416.5h0M137.4 413.0h0M160.7 403.2h0M160.2 404.0h0M140.6 400.6h0M141.4 385.3h0M112.5 407.9h0M119.3 409.1h0M147.2 413.7h0M140.9 410.3h0M112.6 401.2h0M159.6 408.4h0M125.2 395.3h0M146.7 387.3h0M131.1 393.9h0M134.1 414.7h0M90.3 409.2h0M129.9 422.1h0M140.4 405.9h0M131.6 399.8h0M110.2 383.7h0M136.5 416.9h0M81.9 398.1h0M121.2 408.0h0M193.4 408.1h0M115.6 401.0h0M153.0 412.2h0M149.4 411.1h0M154.1 396.9h0M115.9 405.4h0M144.1 410.3h0M143.1 422.7h0M125.5 416.2h0M119.0 410.3h0M140.4 390.4h0M134.6 401.1h0M138.3 408.0h0M119.8 409.3h0M138.9 406.6h0M137.0 398.4h0M169.4 397.0h0M135.1 400.4h0M113.6 395.9h0M123.4 433.3h0M119.4 401.7h0M165.2 407.9h0M117.8 386.3h0M108.1 403.6h0M108.0 413.5h0M135.6 403.1h0M80.5 405.7h0M112.5 400.1h0M126.7 403.5h0M112.2 399.9h0M174.5 428.8h0M148.7 410.0h0M172.4 406.7h0M123.6 406.7h0M149.6 416.0h0M139.6 419.4h0M157.8 405.2h0M134.2 438.9h0M147.4 411.5h0M134.5 406.1h0M167.2 401.2h0M80.0 408.8h0M132.1 389.0h0M141.1 411.2h0M144.8 399.3h0M110.5 399.2h0M124.3 383.2h0M129.6 401.7h0M152.6 403.3h0M157.9 401.5h0M145.4 407.3h0M116.3 407.2h0M113.2 399.3h0M136.6 407.2h0M139.7 395.9h0M108.4 404.1h0M103.6 401.8h0M131.8 420.4h0M114.6 401.9h0M143.7 404.0h0M144.7 401.9h0M154.7 399.5h0M168.1 399.6h0M109.2 407.4h0M105.4 408.0h0M140.2 391.8h0M139.9 402.0h0M127.9 405.2h0M131.3 397.7h0M131.6 408.9h0M156.5 409.9h0M169.7 414.2h0M103.2 408.8h0M139.2 403.6h0M136.6 405.8h0M125.7 395.3h0M145.4 420.1h0M121.4 398.4h0M139.6 392.0h0M135.1 390.8h0M127.5 400.4h0M109.2 402.9h0M143.0 417.0h0M90.8 410.6h0M137.1 418.3h0M138.8 409.3h0M155.4 403.5h0M168.6 396.5h0M135.7 395.8h0M119.8 392.7h0M151.4 410.6h0M106.8 406.2h0M139.5 386.9h0M141.4 398.1h0M139.5 411.4h0M148.1 413.2h0M121.9 408.4h0M123.9 387.6h0M130.9 406.4h0M136.5 410.5h0M123.2 409.0h0M136.7 397.5h0M102.0 399.7h0M129.9 407.7h0M139.6 401.8h0M165.9 410.4h0M128.0 390.7h0M153.1 419.7h0M155.1 400.6h0M103.0 406.9h0M154.2 407.3h0M148.7 398.3h0M101.9 402.2h0M112.6 399.9h0M188.0 397.6h0M132.1 400.2h0M113.9 413.0h0M169.6 411.4h0M169.0 418.4h0M157.4 408.9h0M115.3 395.6h0M139.4 408.3h0M102.3 402.7h0M142.6 396.4h0M148.7 403.1h0M137.1 405.7h0M138.9 428.7h0M139.7 415.9h0M140.7 415.2h0M128.3 404.2h0M132.2 380.8h0M138.6 411.3h0M143.5 415.2h0M91.1 396.0h0M158.8 401.6h0M141.7 418.5h0M105.2 397.1h0M129.8 406.2h0M159.5 411.7h0M158.8 438.6h0M125.1 385.2h0M181.9 405.7h0M132.7 408.1h0M135.0 415.1h0M143.0 414.4h0M145.0 399.7h0M132.7 385.0h0M141.1 386.9h0M183.0 394.7h0M131.5 397.2h0M137.8 426.8h0M136.3 405.2h0M184.6 406.3h0M156.2 402.8h0M133.4 392.7h0M117.3 397.9h0M153.3 412.1h0M126.5 411.6h0M120.4 394.4h0M147.3 399.2h0M123.2 399.8h0M127.4 400.1h0M131.3 410.2h0M152.4 397.5h0M120.5 401.2h0M119.1 410.7h0M108.9 405.2h0M139.1 404.4h0M140.5 394.0h0M139.0 407.3h0M161.9 407.9h0M112.2 390.4h0M123.8 398.7h0M124.9 392.7h0M141.6 410.6h0M140.9 392.9h0M128.2 416.2h0M157.9 396.9h0M136.0 404.4h0M155.9 410.1h0M162.9 409.6h0M131.8 395.5h0M100.7 403.2h0M133.0 398.3h0M136.2 413.9h0M137.0 395.7h0M152.6 403.4h0M109.9 405.0h0M174.6 396.8h0M160.2 399.5h0M117.0 399.4h0M131.9 396.1h0M134.0 428.4h0M128.3 427.0h0M141.3 414.5h0M105.3 398.7h0M113.4 421.8h0M127.0 398.8h0M154.1 401.9h0M142.1 408.5h0M119.0 399.5h0M131.8 415.9h0M140.7 413.0h0M156.0 408.3h0M147.1 399.2h0M127.1 395.8h0M135.0 396.5h0M126.8 403.1h0M130.2 420.9h0M148.6 408.6h0M172.2 419.8h0M107.1 402.9h0M122.4 404.8h0M151.9 411.1h0M138.6 406.2h0M139.6 408.0h0M185.0 404.1h0M113.3 400.8h0M133.1 378.6h0M105.1 396.7h0M148.5 404.1h0M163.4 456.4h0M131.6 405.6h0M130.2 404.0h0M120.7 390.4h0M130.3 404.0h0M148.7 395.0h0M139.1 388.9h0M145.1 398.1h0M121.4 404.0h0M146.4 419.4h0M160.1 410.4h0M165.7 404.9h0M143.3 426.9h0M119.6 397.6h0M112.1 408.7h0M120.0 397.4h0M159.5 402.1h0M119.2 414.8h0M130.3 402.9h0M141.4 395.6h0M176.7 406.4h0M119.4 402.7h0M152.2 409.7h0M138.3 402.8h0M114.1 419.4h0M179.2 407.2h0M175.9 400.5h0M164.1 404.8h0M136.7 417.7h0M160.3 455.8h0M132.0 401.5h0M162.0 402.0h0M119.5 398.9h0M133.2 403.4h0M134.0 431.2h0M102.9 406.9h0M158.9 408.5h0M126.0 386.0h0M131.6 398.3h0M140.3 419.0h0M154.2 395.9h0M135.9 409.1h0M168.2 418.2h0M161.8 407.2h0M120.7 413.8h0M105.2 403.5h0M137.5 395.9h0M127.3 406.9h0M133.9 391.7h0M152.8 404.0h0M128.3 405.1h0M131.6 407.8h0M120.2 405.4h0M168.2 408.0h0M152.6 399.6h0M130.3 407.8h0M169.4 400.7h0M150.4 402.0h0M111.6 400.7h0M130.3 397.9h0M134.0 396.3h0M134.7 393.9h0M144.4 387.8h0M182.4 397.9h0M140.8 383.1h0M124.5 407.4h0M110.2 403.5h0M134.9 378.6h0M111.1 408.3h0M126.8 399.2h0M111.5 406.5h0M135.6 415.9h0M110.7 395.9h0M149.2 395.1h0M176.6 401.5h0M156.5 397.6h0M145.3 401.4h0M121.8 418.4h0M130.5 412.3h0M122.2 399.3h0M162.5 407.9h0M141.3 408.7h0M149.6 400.8h0M133.0 407.1h0M137.9 398.5h0M156.7 401.1h0M143.7 413.3h0M138.9 414.7h0M94.2 399.9h0M150.4 419.4h0M146.9 426.4h0M125.9 404.5h0M167.4 432.2h0M111.1 407.7h0M146.0 410.6h0M135.2 413.4h0M129.8 405.6h0M174.8 417.1h0M135.9 402.1h0M99.1 403.6h0M146.0 404.1h0M141.0 398.9h0M134.5 397.5h0M118.7 404.9h0M139.2 378.6h0M154.6 418.3h0M113.6 391.8h0M127.8 411.2h0M127.3 405.0h0M125.9 409.1h0M139.7 413.1h0M152.0 411.1h0M98.6 404.2h0M140.0 401.5h0M140.7 413.8h0M133.3 412.9h0M138.4 404.4h0M110.0 410.2h0M138.9 401.9h0M144.3 414.9h0M103.8 408.2h0M175.4 405.1h0M115.4 397.5h0M161.2 396.1h0M109.5 396.4h0M137.7 419.1h0M138.8 384.1h0M119.8 393.8h0M153.0 413.9h0M157.0 448.3h0M150.4 417.6h0M167.4 388.1h0M133.4 406.4h0M179.5 409.1h0M135.6 400.4h0M117.7 408.8h0M126.2 415.0h0M140.3 405.9h0M160.1 404.8h0M83.1 408.2h0M194.6 408.4h0M123.1 407.4h0M129.5 389.4h0M133.6 408.9h0M154.7 406.7h0M133.3 403.3h0M186.4 413.1h0M133.9 420.2h0M148.6 397.9h0M172.1 408.5h0M142.1 393.1h0M153.0 399.1h0M137.4 410.2h0M151.1 404.5h0M105.2 406.4h0M155.9 396.4h0M117.2 404.3h0M132.5 399.8h0M107.1 397.3h0M171.9 427.5h0M117.7 403.7h0M140.1 381.9h0M131.0 399.3h0M116.5 409.6h0M131.6 409.2h0M136.4 397.2h0M116.1 399.7h0M141.0 390.7h0M132.8 408.0h0M165.2 400.4h0M161.8 421.5h0M116.1 399.2h0M155.9 402.0h0M173.1 403.2h0M131.6 397.9h0M140.1 393.8h0M132.9 424.9h0M148.3 398.9h0M124.6 396.4h0M173.2 401.2h0M155.2 440.7h0M146.2 402.4h0M115.0 398.0h0M146.1 404.7h0M142.5 380.1h0M163.0 432.5h0M146.4 391.6h0M149.4 395.0h0M101.4 403.1h0M117.6 399.8h0M139.7 404.7h0M168.5 402.9h0M155.1 408.4h0M168.3 394.6h0M130.6 399.1h0M149.9 414.6h0M130.5 402.1h0M147.6 408.2h0M156.7 393.9h0M143.0 402.9h0M144.0 407.0h0M140.0 394.9h0M166.9 406.4h0M137.3 410.0h0M136.4 415.4h0M141.7 410.1h0M140.9 400.4h0M185.3 401.0h0M98.6 413.1h0M158.8 405.0h0M118.9 415.8h0M109.9 397.9h0M110.8 393.3h0M152.5 409.2h0M159.0 405.7h0M99.2 403.6h0M124.9 410.5h0M153.2 398.2h0M138.6 381.8h0M119.2 393.0h0M102.2 407.1h0M141.1 403.7h0M149.5 425.3h0M165.3 404.9h0M139.7 401.2h0M101.9 402.7h0M149.4 408.0h0M129.1 410.1h0M146.3 403.9h0M181.4 400.7h0M95.8 402.8h0M144.4 408.1h0M103.7 404.4h0M142.8 413.7h0M139.7 409.5h0M85.2 396.2h0M151.9 406.3h0M137.0 406.3h0M134.9 415.9h0M116.4 397.1h0M131.3 411.5h0M141.3 398.8h0M131.1 397.4h0M147.7 391.1h0M116.5 411.1h0M117.1 405.3h0M128.0 408.1h0M140.1 410.3h0M148.4 394.2h0M140.2 389.8h0M95.1 406.0h0M136.4 401.3h0M130.2 407.5h0M139.0 417.1h0M96.1 404.5h0M120.8 408.2h0M160.8 392.4h0M112.7 403.8h0M179.5 407.6h0M169.3 412.2h0M128.2 421.5h0M103.1 404.7h0M165.8 412.9h0M131.2 410.7h0M133.4 378.6h0M146.4 411.0h0M97.2 403.1h0M181.3 404.8h0M134.7 394.7h0M145.7 410.6h0M122.3 402.0h0M176.2 410.3h0M96.8 395.6h0M143.0 412.2h0M130.5 397.6h0M98.5 401.4h0M163.5 411.1h0M100.4 396.2h0M154.6 406.7h0M123.0 403.5h0M149.6 432.4h0M97.9 403.0h0M134.9 386.9h0M129.6 411.9h0M119.4 405.7h0M175.3 399.7h0M186.2 405.4h0M146.6 387.6h0M127.7 408.8h0M141.6 413.1h0M142.9 404.6h0M137.7 386.1h0M133.0 406.4h0M116.0 399.7h0M125.5 395.4h0M94.8 404.5h0M135.2 404.8h0M130.3 400.2h0M144.7 411.1h0M120.6 398.7h0M97.5 407.2h0M169.6 396.5h0M122.2 403.3h0M113.1 409.4h0M135.7 413.6h0M125.3 403.0h0M155.2 404.5h0M104.5 405.9h0M141.2 420.1h0M135.9 435.4h0M160.4 407.3h0M99.6 396.4h0M125.0 400.5h0M132.5 416.0h0M123.8 404.7h0M119.7 404.3h0M138.9 391.0h0M109.5 408.6h0M101.8 400.9h0M117.9 402.9h0M151.9 403.6h0M150.5 403.9h0M160.4 403.1h0M142.3 426.1h0M128.2 404.8h0M107.8 399.2h0M113.9 394.6h0M143.1 404.7h0M147.2 410.8h0M120.8 408.9h0M157.6 407.3h0M125.8 397.3h0M140.9 390.5h0M141.6 420.3h0M177.4 403.5h0M131.9 405.2h0M105.1 400.3h0M94.5 390.3h0M156.7 395.9h0M133.0 402.5h0M109.5 402.3h0M136.6 402.4h0M151.5 392.9h0M158.8 401.5h0M171.6 427.8h0M157.1 406.4h0M156.8 405.7h0M135.0 409.0h0M135.4 405.6h0M121.3 403.0h0M125.2 400.0h0M138.7 405.3h0M102.7 402.6h0M165.0 409.3h0M149.1 410.6h0M136.9 414.4h0M118.4 399.0h0M143.9 397.7h0M138.5 401.1h0M101.6 406.9h0M120.4 406.9h0M114.5 395.4h0M180.0 397.7h0M161.3 412.2h0M167.0 418.2h0M142.1 408.4h0M142.1 384.9h0M151.4 413.4h0M124.8 411.4h0M86.7 394.9h0M117.7 406.1h0M128.3 407.7h0M137.1 392.3h0M145.3 391.5h0M156.4 410.8h0M136.4 405.3h0M168.8 403.9h0M126.4 399.0h0M135.5 416.9h0M108.0 404.3h0M139.4 418.5h0M78.7 397.8h0M135.2 410.9h0M176.0 426.9h0M125.0 407.8h0M121.5 397.4h0M181.0 413.7h0M112.5 393.2h0M88.7 397.4h0M126.6 408.3h0M142.5 395.4h0M111.2 399.2h0M169.3 410.6h0M98.3 397.2h0M127.0 400.0h0M119.6 403.5h0M109.8 402.4h0M121.6 415.8h0M123.0 408.4h0M139.5 415.0h0M132.5 391.5h0M119.0 402.7h0M130.3 405.0h0M131.2 401.7h0M132.5 386.3h0M145.8 410.4h0M146.6 404.1h0M101.8 401.5h0M151.6 417.8h0M167.3 403.8h0M129.8 403.0h0M114.9 404.8h0M156.5 397.5h0M157.7 413.2h0M111.8 399.2h0M111.7 410.3h0M135.5 406.1h0M163.3 396.2h0M94.3 397.4h0M152.8 391.3h0M139.3 395.1h0M145.2 405.2h0M149.4 404.0h0M124.6 407.5h0M136.8 418.3h0M93.2 401.5h0M137.5 403.0h0M177.7 413.0h0M137.2 413.6h0M110.0 394.3h0M160.4 403.6h0M160.2 409.6h0M135.1 399.9h0M142.3 389.7h0M130.9 395.0h0M133.9 398.7h0M139.9 403.7h0M127.9 409.3h0M145.5 405.6h0M142.8 413.3h0M132.4 408.9h0M134.8 399.2h0M193.7 404.1h0M130.9 401.1h0M156.6 397.3h0M131.7 397.4h0M107.3 404.9h0M94.5 405.4h0M150.6 418.4h0M113.0 402.6h0M101.8 401.7h0M115.2 399.2h0M125.5 414.5h0M141.5 407.0h0M152.4 395.5h0M160.8 400.5h0M117.9 408.8h0M120.5 401.7h0M108.2 400.2h0M122.9 395.2h0M129.3 385.3h0M134.7 408.9h0M153.5 426.8h0M115.9 411.7h0M129.1 396.6h0M139.1 389.4h0M166.2 404.8h0M111.7 408.8h0M130.8 411.9h0M163.8 409.9h0M162.4 404.0h0M126.6 403.2h0M192.4 404.6h0M140.5 398.2h0M119.9 416.2h0M133.9 429.6h0M148.9 416.6h0M120.1 392.0h0M144.7 411.6h0M176.8 397.0h0M111.8 412.5h0M150.9 419.1h0M146.0 401.5h0M111.7 400.9h0M127.9 416.2h0M198.5 406.8h0M174.1 402.6h0M147.8 412.1h0M146.6 388.0h0M182.3 404.8h0M148.8 384.5h0M148.1 409.4h0M120.1 395.8h0M160.6 392.1h0M115.9 404.1h0M157.4 403.0h0M170.9 407.3h0M143.5 407.8h0M145.5 390.0h0M123.0 398.2h0M168.1 410.3h0M158.2 399.8h0M109.3 377.2h0M159.1 406.4h0M132.0 407.2h0M151.9 397.5h0M137.9 382.4h0M140.8 410.8h0M152.3 403.5h0M106.0 405.6h0M141.2 412.5h0M152.7 405.4h0M162.8 410.6h0M129.8 392.4h0M148.9 394.1h0M102.8 402.0h0M115.2 395.8h0M97.5 406.9h0M129.1 404.3h0M95.6 393.4h0M145.8 411.6h0M143.5 410.4h0M134.3 401.0h0M154.9 410.7h0M130.2 414.0h0M148.3 410.9h0M157.0 393.2h0M137.3 413.1h0M96.4 402.7h0M126.2 414.9h0M158.3 401.3h0M106.1 401.9h0M136.6 429.6h0M180.6 390.2h0M122.1 402.7h0M130.4 393.9h0M138.5 415.0h0M122.5 398.4h0M175.2 410.3h0M139.8 394.7h0M132.7 405.3h0M123.3 400.7h0M134.6 413.2h0M138.6 410.1h0M109.9 408.5h0M185.9 401.4h0M142.4 416.4h0M139.3 408.0h0M135.5 394.4h0M159.7 399.2h0M138.3 378.6h0M106.9 412.8h0M128.0 391.2h0M140.8 403.8h0M119.3 407.0h0M122.0 404.3h0M115.6 411.5h0M135.7 403.9h0M107.7 403.2h0M141.7 406.7h0M124.6 410.2h0M150.0 408.4h0M128.2 410.1h0M187.3 408.0h0M180.6 401.2h0M183.9 404.3h0M141.3 434.7h0M152.4 402.2h0M128.6 423.4h0M157.8 402.5h0M169.3 410.7h0M110.9 412.9h0M121.1 412.7h0M102.6 401.7h0M138.9 389.7h0M134.0 425.0h0M129.7 401.8h0M137.2 407.0h0M139.2 400.0h0M133.1 408.3h0M152.8 407.0h0M154.9 401.5h0M139.3 396.7h0M132.4 393.8h0M145.8 411.3h0M129.3 401.1h0M142.2 401.9h0M170.8 404.1h0M138.9 405.5h0M91.9 408.8h0M146.0 410.1h0M137.5 400.9h0M164.9 407.1h0M138.1 410.9h0M135.0 394.2h0M165.0 406.8h0M133.0 446.7h0M124.7 398.4h0M117.9 410.2h0M136.3 412.9h0M167.3 399.6h0M156.4 406.2h0M139.0 391.6h0M183.1 401.3h0M147.2 397.6h0M109.5 400.8h0M99.8 392.1h0M128.6 414.1h0M124.0 402.6h0M129.1 403.0h0M183.3 403.4h0M106.8 404.7h0M147.0 404.2h0M130.3 399.5h0M106.2 418.0h0M141.1 409.4h0M137.0 421.7h0M159.3 408.3h0M160.1 394.3h0M140.5 412.9h0M137.4 404.2h0M133.6 408.0h0M137.0 395.9h0M141.1 406.3h0M127.9 396.1h0M120.3 404.4h0M107.1 414.3h0M161.8 405.0h0M128.4 412.5h0M143.0 392.6h0M148.1 386.6h0M130.1 407.5h0M172.0 393.4h0M119.8 398.9h0M118.6 422.8h0M166.7 396.4h0M130.8 413.7h0M182.1 405.1h0M127.4 402.3h0M137.6 401.9h0M131.7 391.4h0M108.3 373.2h0M131.2 391.0h0M136.9 402.4h0M131.3 420.2h0M110.5 408.6h0M159.6 400.4h0M143.9 400.7h0M117.0 402.5h0M123.5 400.8h0M143.7 407.3h0M156.4 421.5h0M112.3 403.0h0M157.7 390.3h0M132.4 420.0h0M118.1 412.9h0M130.5 401.8h0M154.9 390.8h0M147.4 387.1h0M167.5 404.0h0M121.5 403.3h0M115.3 402.4h0M107.9 403.5h0M102.3 405.9h0M110.1 401.3h0M149.6 401.3h0M122.5 409.8h0M161.4 395.6h0M153.3 415.5h0M130.1 400.5h0M171.1 400.3h0M103.0 409.2h0M136.5 406.9h0M147.8 405.5h0M148.3 420.8h0M140.8 388.2h0M128.2 397.4h0M135.7 393.0h0M83.5 399.9h0M158.6 395.9h0M125.8 399.4h0M126.9 416.1h0M109.6 404.4h0M150.5 391.1h0M134.5 378.6h0M185.6 405.1h0M124.1 406.7h0M128.9 385.7h0M129.3 396.6h0M135.8 404.3h0M128.0 378.6h0M137.6 386.2h0M144.6 401.8h0M105.3 412.7h0M179.2 409.6h0M134.0 409.6h0M97.6 404.2h0M158.0 398.7h0M131.9 403.9h0M154.2 401.6h0M108.8 408.7h0M144.9 385.0h0M124.1 412.5h0M142.5 407.9h0M108.8 406.7h0M116.0 407.7h0M118.7 415.3h0M140.9 393.3h0M135.8 397.0h0M147.0 397.4h0M137.2 396.1h0M130.3 395.8h0M143.9 403.7h0M177.4 408.8h0M165.9 411.4h0M135.6 393.5h0M129.9 393.1h0M145.5 421.7h0M127.9 407.3h0M82.4 404.7h0M127.0 406.3h0M147.4 446.8h0M121.9 410.2h0M119.5 419.8h0M150.8 411.7h0M124.7 422.5h0M132.9 403.6h0M102.3 401.1h0M129.6 401.0h0M159.9 408.5h0M101.8 401.7h0M123.8 402.7h0M100.4 404.5h0M136.1 395.9h0M111.3 410.5h0M165.1 404.2h0M131.2 405.2h0M131.0 396.9h0M132.4 401.6h0M130.5 414.5h0M119.8 404.2h0M136.4 406.5h0M150.8 411.5h0M112.6 409.4h0M142.5 411.8h0M137.8 412.4h0M89.3 402.4h0M151.0 409.0h0M151.5 429.1h0M126.3 408.2h0M117.3 397.5h0M156.2 421.3h0M141.7 404.8h0M162.7 404.3h0M114.4 414.4h0M147.7 410.7h0M133.5 407.9h0M140.6 422.7h0M123.9 406.6h0M131.1 401.2h0M155.6 406.0h0M129.0 396.1h0M110.5 430.9h0M172.0 400.4h0M110.5 408.1h0M111.5 411.7h0M117.0 406.0h0M159.1 406.5h0M147.9 397.9h0M157.3 404.9h0M131.4 405.5h0M144.3 415.8h0M116.1 406.6h0M134.8 413.4h0M173.7 399.0h0M118.2 405.9h0M102.9 395.1h0M125.8 396.7h0M149.3 422.4h0M110.1 414.3h0M136.2 380.0h0M152.0 415.4h0M144.6 391.4h0M155.3 408.7h0M185.9 403.2h0M146.7 392.8h0M141.2 400.7h0M136.7 407.1h0M98.0 407.5h0M130.4 404.1h0M97.2 404.8h0M130.8 390.4h0M130.7 409.7h0M135.5 427.1h0M139.7 409.7h0M176.1 406.7h0M173.9 412.5h0M136.4 436.7h0M125.3 405.0h0M127.5 404.9h0M152.9 398.3h0M136.5 402.5h0M160.7 407.3h0M121.9 399.0h0M141.6 411.6h0M91.9 400.9h0M146.2 388.2h0M134.8 410.4h0M146.0 398.4h0M103.1 404.8h0M152.4 406.3h0M129.1 389.1h0M136.2 407.4h0M131.5 388.9h0M116.6 400.4h0M116.9 406.1h0M136.9 399.2h0M135.0 393.9h0M125.8 411.4h0M142.5 391.3h0M111.3 401.7h0M126.7 403.2h0M134.5 411.6h0M125.6 406.8h0M109.1 396.4h0M145.6 399.7h0M106.7 395.4h0M133.4 405.2h0M117.9 417.7h0M168.3 408.3h0M131.1 418.5h0M139.9 378.6h0M129.9 398.1h0M104.7 412.5h0M113.7 410.4h0M136.3 385.2h0M101.6 398.3h0M138.2 410.3h0M131.7 416.3h0M181.4 399.0h0M141.3 400.3h0M115.4 402.5h0M123.8 403.1h0M146.0 418.1h0M113.4 402.0h0M122.8 408.1h0M129.2 395.5h0M125.4 395.4h0M133.0 391.8h0M130.5 404.4h0M116.7 402.3h0M161.1 410.7h0M109.6 398.8h0M128.1 407.3h0M139.3 402.4h0M148.2 388.1h0M134.8 381.7h0M138.8 400.7h0M123.9 406.5h0M144.4 413.8h0M132.6 417.0h0M169.0 410.4h0M139.8 402.8h0M138.4 411.0h0M127.3 402.8h0M164.2 414.1h0M112.5 408.8h0M122.7 399.8h0M144.5 406.5h0M144.9 404.4h0M124.3 409.0h0M137.1 416.6h0M95.2 399.6h0M154.4 401.2h0M153.7 408.9h0M142.2 407.5h0M145.1 418.7h0M141.0 418.3h0M147.6 406.5h0M139.2 386.0h0M164.1 407.6h0M138.7 411.9h0M133.8 378.6h0M120.0 404.2h0M177.1 412.6h0M150.8 399.0h0M149.2 411.2h0M152.9 402.5h0M113.2 404.2h0M128.3 402.0h0M110.5 405.0h0M153.7 405.4h0M151.9 405.6h0M149.2 408.9h0M80.8 401.4h0M157.8 406.3h0M125.3 405.3h0M165.2 409.9h0M121.9 409.2h0M147.1 404.9h0M160.6 412.5h0M137.7 412.8h0M105.7 407.2h0M152.9 403.7h0M140.3 403.2h0M192.2 406.2h0M115.8 415.1h0M191.6 404.3h0M108.7 411.1h0M134.1 408.4h0M183.7 407.7h0M143.6 396.8h0M141.7 388.3h0M169.7 405.2h0M121.4 404.6h0M128.5 400.6h0M147.8 398.1h0M163.6 401.0h0M127.6 409.2h0M105.5 402.1h0M127.9 404.8h0M153.6 399.4h0M138.9 394.2h0M129.5 408.4h0M128.4 414.4h0M135.8 410.5h0M176.2 422.3h0M153.0 404.1h0M181.1 407.8h0M189.9 405.2h0M103.3 402.4h0M138.8 399.4h0M170.4 402.3h0M162.4 401.6h0M132.6 410.6h0M127.3 411.1h0M121.6 399.7h0M141.7 404.2h0M140.3 425.7h0M158.6 403.5h0M133.5 400.4h0M142.4 416.5h0M135.2 402.6h0M113.3 408.4h0M81.1 408.7h0M152.7 403.8h0M152.8 406.7h0M124.5 403.0h0M105.8 391.3h0M99.1 396.9h0M115.4 406.9h0M177.4 402.1h0M124.7 404.7h0M117.9 396.6h0M138.9 392.7h0M127.2 414.4h0M129.8 404.2h0M115.9 405.0h0M121.9 417.9h0M131.0 404.0h0M109.0 405.7h0M119.8 397.2h0M142.6 414.5h0M136.6 416.7h0M144.9 415.5h0M155.0 403.0h0M165.7 396.8h0M83.7 404.8h0M141.9 415.0h0M136.1 443.5h0M115.2 411.8h0M106.9 402.1h0M126.7 403.6h0M157.2 407.1h0M119.5 406.8h0M97.7 403.3h0M123.4 403.5h0M125.9 379.2h0M154.7 393.6h0M155.2 408.2h0M82.1 415.3h0M107.9 403.3h0M120.0 411.6h0M136.8 421.0h0M126.3 398.3h0M117.8 391.6h0M171.3 398.7h0M135.8 396.6h0M170.5 410.5h0M137.2 406.9h0M123.9 413.6h0M109.0 406.2h0M150.9 400.6h0M151.9 401.4h0M132.3 409.9h0M170.6 402.2h0M114.7 407.2h0M128.5 404.0h0M144.3 399.1h0M107.4 405.4h0M132.2 396.7h0M133.4 408.1h0M163.6 404.0h0M166.6 407.8h0M117.4 409.0h0M150.0 413.2h0M143.8 414.8h0M131.4 426.0h0M144.0 417.3h0M128.7 403.8h0M142.0 425.6h0M135.1 407.8h0M162.2 406.3h0M155.7 400.3h0M111.0 407.1h0M145.4 412.3h0M129.4 393.7h0M148.4 400.4h0M158.5 403.7h0M137.2 420.0h0M184.9 411.3h0M137.1 401.9h0M163.2 398.2h0M139.4 396.4h0M184.0 403.9h0M157.4 413.0h0M181.4 408.5h0M104.6 408.9h0M136.8 402.7h0M121.5 394.2h0M148.7 398.1h0M128.7 408.1h0M140.2 401.9h0M150.6 425.9h0M135.8 402.6h0M123.6 405.9h0M120.9 406.5h0M133.5 412.0h0M154.6 403.0h0M172.3 400.5h0M140.3 388.1h0M112.9 388.7h0M192.8 405.9h0M130.2 406.0h0M187.4 401.0h0M114.9 403.5h0M107.3 408.4h0M158.0 399.8h0M135.7 378.6h0M133.4 432.3h0M142.6 414.3h0M147.0 407.5h0M150.7 425.5h0M104.5 411.7h0M152.5 390.0h0M167.4 403.8h0M154.7 407.9h0M138.1 407.2h0M134.6 410.6h0M136.4 419.5h0M103.4 400.6h0M142.2 402.0h0M150.4 395.2h0M123.0 405.4h0M157.4 401.9h0M170.9 415.2h0M136.9 412.1h0M157.8 406.9h0M110.7 394.3h0M148.3 403.2h0M139.3 408.5h0M128.0 398.6h0M119.8 399.7h0M122.9 404.7h0M145.2 404.7h0M122.8 404.9h0M148.2 420.1h0M152.9 406.6h0M143.2 394.8h0M126.4 405.6h0M143.2 420.0h0M130.5 402.6h0M149.9 403.7h0M131.8 411.8h0M149.6 412.3h0M126.4 400.7h0M158.8 396.2h0M139.3 411.8h0M159.7 407.6h0M133.3 396.4h0M154.0 406.7h0M140.3 430.3h0M136.0 421.9h0M149.2 386.9h0M139.6 406.3h0M154.5 428.6h0M162.1 409.0h0M127.0 406.5h0M152.7 400.2h0M157.1 404.1h0M110.2 404.7h0M136.9 411.8h0M131.4 390.0h0M171.0 398.3h0M122.8 412.3h0M135.6 426.9h0M158.7 430.8h0M163.3 404.5h0M171.6 406.6h0M171.9 407.8h0M119.3 413.1h0M99.3 403.4h0M147.3 398.6h0M164.9 400.8h0M138.2 407.9h0M147.0 391.0h0M149.6 398.0h0M138.8 406.0h0M125.5 407.5h0M134.1 421.5h0M137.3 399.6h0M139.5 400.8h0M141.2 409.8h0M120.5 397.1h0M130.1 413.6h0M127.8 414.3h0M79.1 400.5h0M164.3 412.9h0M153.3 405.6h0M92.1 403.9h0M158.3 419.5h0M134.1 422.5h0M135.9 407.0h0M135.1 411.3h0M181.4 407.3h0M126.5 401.9h0M125.2 397.4h0M139.7 407.2h0M102.4 402.2h0M117.5 402.6h0M129.5 390.4h0M142.5 381.9h0M164.4 403.7h0M138.3 410.5h0M163.1 417.0h0M182.2 399.4h0M140.8 394.7h0M136.3 401.4h0M119.0 403.6h0M147.9 404.9h0M134.7 399.1h0M123.5 406.0h0M134.6 393.7h0M135.9 390.9h0M139.6 429.9h0M128.6 408.9h0M170.2 401.3h0M130.0 391.9h0M175.1 404.1h0M156.3 403.3h0M121.7 401.5h0M154.4 401.0h0M105.6 409.0h0M126.0 410.4h0M153.7 400.1h0M131.2 410.4h0M97.7 400.8h0M138.3 406.9h0M166.7 399.2h0M148.3 392.1h0M145.6 413.3h0M106.0 400.7h0M136.5 402.4h0M112.7 391.8h0M138.6 401.3h0M151.9 413.4h0M141.9 416.1h0M154.6 405.2h0M116.4 396.5h0M129.6 421.3h0M151.3 412.1h0M113.6 408.7h0M100.9 397.4h0M125.3 403.6h0M124.6 412.6h0M125.4 402.0h0M148.9 408.4h0M124.5 414.2h0M157.2 401.7h0M117.3 404.7h0M139.4 412.3h0M141.2 413.0h0M126.0 418.8h0M113.1 404.2h0M174.0 411.9h0M147.3 409.3h0M111.9 406.4h0M131.3 414.5h0M131.2 395.5h0M129.4 407.5h0M118.7 407.8h0M189.1 399.7h0M98.3 401.3h0M127.5 403.7h0M131.8 396.0h0M142.1 400.9h0M117.6 406.0h0M142.6 419.0h0M137.5 419.6h0M154.2 415.0h0M163.2 394.8h0M143.0 381.3h0" stroke="#7c62f2" stroke-width="1.45" stroke-linecap="square" fill="none"/>
<rect x="33.80" y="314.50" width="196.20" height="180.50" fill="none" stroke="#2a2a2a" stroke-width="1.1"/>
<line x1="33.80" y1="404.50" x2="230.00" y2="404.50" stroke="#333" stroke-width="1.2" />
<line x1="132.30" y1="316.50" x2="132.30" y2="495.00" stroke="#333" stroke-width="1.0" />
<path d="M130.70 318.00L132.30 314.80L133.90 318.00Z" fill="#333"/>
<circle cx="33.80" cy="404.50" r="1.1" fill="#222"/><circle cx="230.00" cy="404.50" r="1.1" fill="#222"/><circle cx="132.30" cy="495.00" r="1.1" fill="#222"/>
<line x1="30.80" y1="314.25" x2="33.80" y2="314.25" stroke="#333" stroke-width="1" />
<text x="27.30" y="316.55" font-size="6.6" fill="#222" stroke="#222" stroke-width="0.16" text-anchor="end">8</text>
<line x1="30.80" y1="359.38" x2="33.80" y2="359.38" stroke="#333" stroke-width="1" />
<text x="27.30" y="361.68" font-size="6.6" fill="#222" stroke="#222" stroke-width="0.16" text-anchor="end">4</text>
<line x1="30.80" y1="404.50" x2="33.80" y2="404.50" stroke="#333" stroke-width="1" />
<text x="27.30" y="406.80" font-size="6.6" fill="#222" stroke="#222" stroke-width="0.16" text-anchor="end">0</text>
<line x1="30.80" y1="449.62" x2="33.80" y2="449.62" stroke="#333" stroke-width="1" />
<text x="27.30" y="451.93" font-size="6.6" fill="#222" stroke="#222" stroke-width="0.16" text-anchor="end">-4</text>
<line x1="30.80" y1="494.75" x2="33.80" y2="494.75" stroke="#333" stroke-width="1" />
<text x="27.30" y="497.05" font-size="6.6" fill="#222" stroke="#222" stroke-width="0.16" text-anchor="end">-8</text>
<line x1="34.20" y1="495.00" x2="34.20" y2="498.00" stroke="#333" stroke-width="1" />
<text x="34.20" y="507.40" font-size="6.6" fill="#222" stroke="#222" stroke-width="0.16" text-anchor="middle">-1</text>
<line x1="83.25" y1="495.00" x2="83.25" y2="498.00" stroke="#333" stroke-width="1" />
<text x="83.25" y="507.40" font-size="6.6" fill="#222" stroke="#222" stroke-width="0.16" text-anchor="middle">-0.5</text>
<line x1="132.30" y1="495.00" x2="132.30" y2="498.00" stroke="#333" stroke-width="1" />
<text x="132.30" y="507.40" font-size="6.6" fill="#222" stroke="#222" stroke-width="0.16" text-anchor="middle">0</text>
<line x1="181.35" y1="495.00" x2="181.35" y2="498.00" stroke="#333" stroke-width="1" />
<text x="181.35" y="507.40" font-size="6.6" fill="#222" stroke="#222" stroke-width="0.16" text-anchor="middle">0.5</text>
<line x1="230.40" y1="495.00" x2="230.40" y2="498.00" stroke="#333" stroke-width="1" />
<text x="230.40" y="507.40" font-size="6.6" fill="#222" stroke="#222" stroke-width="0.16" text-anchor="middle">1</text>
<text x="86.80" y="531.00" font-size="8.6" fill="#111" stroke="#111" stroke-width="0.16" textLength="90.20" lengthAdjust="spacingAndGlyphs">DNA methylation Δβ values</text>
<text transform="translate(16.1 404.5) rotate(-90)" font-size="9.2" fill="#111" text-anchor="middle" textLength="111.5" lengthAdjust="spacingAndGlyphs">Gene expression LOG<tspan font-size="6" dy="1.9">2</tspan><tspan dy="-1.9"> fold change</tspan></text>
<path d="M59.80 337.70L59.80 328.40A9.3 9.3 0 0 1 68.90 339.63Z" fill="#9ccfd6" stroke="#d44a2a" stroke-width="0.80" stroke-linejoin="round"/>
<path d="M59.80 337.70L68.90 339.63A9.3 9.3 0 0 1 55.87 346.13Z" fill="#f8e83a" stroke="#d44a2a" stroke-width="0.80" stroke-linejoin="round"/>
<path d="M59.80 337.70L55.87 346.13A9.3 9.3 0 0 1 51.91 332.77Z" fill="#6a70c0" stroke="#d44a2a" stroke-width="0.80" stroke-linejoin="round"/>
<path d="M59.80 337.70L51.91 332.77A9.3 9.3 0 0 1 59.80 328.40Z" fill="#a4a4a4" stroke="#d44a2a" stroke-width="0.80" stroke-linejoin="round"/>
<circle cx="59.80" cy="337.70" r="9.3" fill="none" stroke="#d44a2a" stroke-width="1.0"/>
<path d="M157.30 338.10L157.30 319.70A18.4 18.4 0 0 1 175.66 336.82Z" fill="#52a444" stroke="#d44a2a" stroke-width="0.96" stroke-linejoin="round"/>
<path d="M157.30 338.10L175.66 336.82A18.4 18.4 0 0 1 157.30 356.50Z" fill="#9ccfd6" stroke="#d44a2a" stroke-width="0.96" stroke-linejoin="round"/>
<path d="M157.30 338.10L157.30 356.50A18.4 18.4 0 0 1 139.18 334.90Z" fill="#f8e83a" stroke="#d44a2a" stroke-width="0.96" stroke-linejoin="round"/>
<path d="M157.30 338.10L139.18 334.90A18.4 18.4 0 0 1 148.95 321.71Z" fill="#6a70c0" stroke="#d44a2a" stroke-width="0.96" stroke-linejoin="round"/>
<path d="M157.30 338.10L148.95 321.71A18.4 18.4 0 0 1 157.30 319.70Z" fill="#a4a4a4" stroke="#d44a2a" stroke-width="0.96" stroke-linejoin="round"/>
<circle cx="157.30" cy="338.10" r="18.4" fill="none" stroke="#d44a2a" stroke-width="1.2"/>
<path d="M157.50 472.60L157.50 457.00A15.6 15.6 0 0 1 173.10 472.60Z" fill="#52a444" stroke="#d44a2a" stroke-width="0.96" stroke-linejoin="round"/>
<path d="M157.50 472.60L173.10 472.60A15.6 15.6 0 0 1 161.54 487.67Z" fill="#9ccfd6" stroke="#d44a2a" stroke-width="0.96" stroke-linejoin="round"/>
<path d="M157.50 472.60L161.54 487.67A15.6 15.6 0 0 1 144.72 463.65Z" fill="#f8e83a" stroke="#d44a2a" stroke-width="0.96" stroke-linejoin="round"/>
<path d="M157.50 472.60L144.72 463.65A15.6 15.6 0 0 1 151.40 458.24Z" fill="#6a70c0" stroke="#d44a2a" stroke-width="0.96" stroke-linejoin="round"/>
<path d="M157.50 472.60L151.40 458.24A15.6 15.6 0 0 1 157.50 457.00Z" fill="#a4a4a4" stroke="#d44a2a" stroke-width="0.96" stroke-linejoin="round"/>
<circle cx="157.50" cy="472.60" r="15.6" fill="none" stroke="#d44a2a" stroke-width="1.2"/>
<path d="M205.50 473.60L205.50 454.60A19.0 19.0 0 0 1 222.43 482.23Z" fill="#52a444" stroke="#3c3494" stroke-width="0.96" stroke-linejoin="round"/>
<path d="M205.50 473.60L222.43 482.23A19.0 19.0 0 0 1 209.13 492.25Z" fill="#9ccfd6" stroke="#3c3494" stroke-width="0.96" stroke-linejoin="round"/>
<path d="M205.50 473.60L209.13 492.25A19.0 19.0 0 0 1 201.87 492.25Z" fill="#f8e83a" stroke="#3c3494" stroke-width="0.96" stroke-linejoin="round"/>
<path d="M205.50 473.60L201.87 492.25A19.0 19.0 0 0 1 193.80 488.57Z" fill="#6a70c0" stroke="#3c3494" stroke-width="0.96" stroke-linejoin="round"/>
<path d="M205.50 473.60L193.80 488.57A19.0 19.0 0 0 1 205.50 454.60Z" fill="#a4a4a4" stroke="#3c3494" stroke-width="0.96" stroke-linejoin="round"/>
<circle cx="205.50" cy="473.60" r="19.0" fill="none" stroke="#3c3494" stroke-width="1.2"/>
<circle cx="205.4" cy="337.6" r="6.2" fill="#b0b0aa" stroke="#3c3494" stroke-width="1.1"/>
<line x1="205.40" y1="331.40" x2="205.40" y2="337.80" stroke="#3c3494" stroke-width="0.9" />
<text x="107.50" y="344.30" font-size="6.6" fill="#3a2e92" font-weight="bold" text-anchor="middle" textLength="12.50" lengthAdjust="spacingAndGlyphs">Not</text>
<text x="107.50" y="352.80" font-size="6.6" fill="#3a2e92" font-weight="bold" text-anchor="middle" textLength="28.00" lengthAdjust="spacingAndGlyphs">Enriched</text>
<text x="156.50" y="366.80" font-size="6.6" fill="#cc3a22" font-weight="bold" text-anchor="middle" textLength="17.00" lengthAdjust="spacingAndGlyphs">Gene</text>
<text x="156.50" y="374.80" font-size="6.6" fill="#cc3a22" font-weight="bold" text-anchor="middle" textLength="35.70" lengthAdjust="spacingAndGlyphs">Expression</text>
<text x="203.80" y="366.80" font-size="6.6" fill="#3a2e92" font-weight="bold" text-anchor="middle" textLength="15.00" lengthAdjust="spacingAndGlyphs">DNA</text>
<text x="203.80" y="374.80" font-size="6.6" fill="#3a2e92" font-weight="bold" text-anchor="middle" textLength="40.00" lengthAdjust="spacingAndGlyphs">Methylation</text>
<text x="58.80" y="479.80" font-size="6.6" fill="#cc3a22" font-weight="bold" text-anchor="middle" textLength="12.50" lengthAdjust="spacingAndGlyphs">Not</text>
<text x="58.80" y="488.00" font-size="6.6" fill="#cc3a22" font-weight="bold" text-anchor="middle" textLength="28.00" lengthAdjust="spacingAndGlyphs">Enriched</text>
<text x="106.30" y="479.80" font-size="6.6" fill="#3a2e92" font-weight="bold" text-anchor="middle" textLength="12.50" lengthAdjust="spacingAndGlyphs">Not</text>
<text x="106.30" y="488.00" font-size="6.6" fill="#3a2e92" font-weight="bold" text-anchor="middle" textLength="28.00" lengthAdjust="spacingAndGlyphs">Enriched</text>
<rect x="87.90" y="544.10" width="8.00" height="8.20" fill="#a4a4a4" stroke="#333" stroke-width="0.8"/>
<text x="99.40" y="550.40" font-size="6.6" fill="#222" stroke="#222" stroke-width="0.16" textLength="76.60" lengthAdjust="spacingAndGlyphs">PRC/Methylation/Epigenetics</text>
<rect x="87.90" y="560.25" width="8.00" height="8.20" fill="#52a444" stroke="#333" stroke-width="0.8"/>
<text x="99.40" y="566.55" font-size="6.6" fill="#222" stroke="#222" stroke-width="0.16" textLength="47.50" lengthAdjust="spacingAndGlyphs">HSCs/Progenitors</text>
<rect x="87.90" y="576.40" width="8.00" height="8.20" fill="#a6d8dc" stroke="#333" stroke-width="0.8"/>
<text x="99.40" y="582.70" font-size="6.6" fill="#222" stroke="#222" stroke-width="0.16" textLength="47.00" lengthAdjust="spacingAndGlyphs">Leukemia-related</text>
<rect x="87.90" y="592.55" width="8.00" height="8.20" fill="#f8f034" stroke="#333" stroke-width="0.8"/>
<text x="99.40" y="598.85" font-size="6.6" fill="#222" stroke="#222" stroke-width="0.16" textLength="46.00" lengthAdjust="spacingAndGlyphs">Lymphoid-related</text>
<rect x="87.90" y="608.70" width="8.00" height="8.20" fill="#7070c0" stroke="#333" stroke-width="0.8"/>
<text x="99.40" y="615.00" font-size="6.6" fill="#222" stroke="#222" stroke-width="0.16" textLength="41.00" lengthAdjust="spacingAndGlyphs">Myeloid-related</text>
<text x="277.00" y="18.30" font-size="12.2" font-weight="bold" stroke="#000" stroke-width="0.55">C</text>
<g style="isolation:isolate">
<ellipse cx="386.7" cy="65.9" rx="45.4" ry="41.8" fill="#8890bc" stroke="#2a4680" stroke-width="1.2" style="mix-blend-mode:multiply"/>
<ellipse cx="428.4" cy="67.3" rx="44.8" ry="41.9" fill="#d8887e" stroke="#c01c40" stroke-width="1.2" style="mix-blend-mode:multiply"/>
<ellipse cx="407.5" cy="103.0" rx="44.9" ry="40.9" fill="#b8d89c" stroke="#6cb040" stroke-width="1.2" style="mix-blend-mode:multiply"/>
</g>
<text x="364.00" y="60.00" font-size="6.8" fill="#fff" text-anchor="middle">1752</text>
<text x="408.70" y="51.90" font-size="6.8" fill="#fff" text-anchor="middle">1129</text>
<text x="449.70" y="60.00" font-size="6.8" fill="#fff" text-anchor="middle">2698</text>
<text x="408.70" y="80.80" font-size="6.8" fill="#fff" text-anchor="middle">292</text>
<text x="379.00" y="98.10" font-size="6.8" fill="#fff" text-anchor="middle">65</text>
<text x="433.00" y="99.40" font-size="6.8" fill="#fff" text-anchor="middle">172</text>
<text x="406.40" y="125.80" font-size="6.8" fill="#fff" text-anchor="middle">125</text>
<text x="324.50" y="13.80" font-size="7.0" fill="#222" stroke="#222" stroke-width="0.16" textLength="27.00" lengthAdjust="spacingAndGlyphs">BC DNA</text>
<text x="324.30" y="21.70" font-size="7.0" fill="#222" stroke="#222" stroke-width="0.16" textLength="57.20" lengthAdjust="spacingAndGlyphs">Hypermethylation</text>
<text x="414.00" y="21.80" font-size="7.0" fill="#222" stroke="#222" stroke-width="0.16" textLength="69.00" lengthAdjust="spacingAndGlyphs">PRC targets (Brookes)</text>
<text x="368.60" y="153.80" font-size="7.0" fill="#222" stroke="#222" stroke-width="0.16" textLength="78.40" lengthAdjust="spacingAndGlyphs">PRC targets (Ben-Porath)</text>
<text x="334.70" y="170.90" font-size="6.3" fill="#111" font-weight="bold" textLength="57.20" lengthAdjust="spacingAndGlyphs" text-decoration="underline">BC DNA hyper vs</text>
<text x="406.60" y="170.90" font-size="6.3" fill="#111" font-weight="bold" textLength="23.40" lengthAdjust="spacingAndGlyphs" text-decoration="underline">P-value</text>
<text x="444.20" y="170.90" font-size="6.3" fill="#111" font-weight="bold" textLength="36.80" lengthAdjust="spacingAndGlyphs" text-decoration="underline">enrichment</text>
<text x="334.70" y="181.70" font-size="6.3" fill="#222" stroke="#222" stroke-width="0.16" textLength="25.30" lengthAdjust="spacingAndGlyphs">Brookes</text>
<text x="402.70" y="181.70" font-size="6.3" fill="#222" stroke="#222" stroke-width="0.16" textLength="31.70" lengthAdjust="spacingAndGlyphs">&lt;2.3E-308</text>
<text x="458.20" y="181.70" font-size="6.3" fill="#222" stroke="#222" stroke-width="0.16" textLength="8.80" lengthAdjust="spacingAndGlyphs">2.6</text>
<text x="334.70" y="191.50" font-size="6.3" fill="#222" stroke="#222" stroke-width="0.16" textLength="33.00" lengthAdjust="spacingAndGlyphs">Ben-Porath</text>
<text x="406.60" y="191.50" font-size="6.3" fill="#222" stroke="#222" stroke-width="0.16" textLength="27.80" lengthAdjust="spacingAndGlyphs">5.5E-194</text>
<text x="458.20" y="191.50" font-size="6.3" fill="#222" stroke="#222" stroke-width="0.16" textLength="8.80" lengthAdjust="spacingAndGlyphs">3.8</text>
<text x="277.90" y="221.00" font-size="11.8" font-weight="bold" stroke="#000" stroke-width="0.55">D</text>
<text x="321.30" y="221.20" font-size="6.8" fill="#222" stroke="#222" stroke-width="0.16" text-anchor="middle" textLength="12.00" lengthAdjust="spacingAndGlyphs">P50</text>
<text x="369.00" y="221.20" font-size="6.8" fill="#222" stroke="#222" stroke-width="0.16" text-anchor="middle" textLength="12.00" lengthAdjust="spacingAndGlyphs">P76</text>
<text x="407.00" y="221.20" font-size="6.8" fill="#222" stroke="#222" stroke-width="0.16" text-anchor="middle" textLength="16.00" lengthAdjust="spacingAndGlyphs">P763</text>
<line x1="302.60" y1="226.20" x2="339.20" y2="226.20" stroke="#444" stroke-width="1.2" />
<line x1="355.70" y1="226.20" x2="382.50" y2="226.20" stroke="#444" stroke-width="1.2" />
<line x1="394.00" y1="226.20" x2="420.80" y2="226.20" stroke="#444" stroke-width="1.2" />
<text transform="translate(311.34 250.20) rotate(-90)" font-size="7.2" fill="#222" textLength="20.5" lengthAdjust="spacingAndGlyphs">DMSO</text>
<line x1="295.80" y1="253.90" x2="321.70" y2="253.90" stroke="#444" stroke-width="1.3" />
<text transform="translate(339.84 250.20) rotate(-90)" font-size="7.2" fill="#222" textLength="14.1" lengthAdjust="spacingAndGlyphs">DAC</text>
<line x1="324.30" y1="253.90" x2="350.20" y2="253.90" stroke="#444" stroke-width="1.3" />
<text transform="translate(363.59 250.20) rotate(-90)" font-size="7.2" fill="#222" textLength="20.5" lengthAdjust="spacingAndGlyphs">DMSO</text>
<line x1="352.80" y1="253.90" x2="369.20" y2="253.90" stroke="#444" stroke-width="1.3" />
<text transform="translate(382.59 250.20) rotate(-90)" font-size="7.2" fill="#222" textLength="14.1" lengthAdjust="spacingAndGlyphs">DAC</text>
<line x1="371.80" y1="253.90" x2="388.20" y2="253.90" stroke="#444" stroke-width="1.3" />
<text transform="translate(401.59 250.20) rotate(-90)" font-size="7.2" fill="#222" textLength="20.5" lengthAdjust="spacingAndGlyphs">DMSO</text>
<line x1="390.80" y1="253.90" x2="407.20" y2="253.90" stroke="#444" stroke-width="1.3" />
<text transform="translate(420.59 250.20) rotate(-90)" font-size="7.2" fill="#222" textLength="14.1" lengthAdjust="spacingAndGlyphs">DAC</text>
<line x1="409.80" y1="253.90" x2="426.20" y2="253.90" stroke="#444" stroke-width="1.3" />
<text transform="translate(301.77 268.60) rotate(-90)" font-size="7.0" fill="#222" textLength="10.8" lengthAdjust="spacingAndGlyphs">24h</text>
<text transform="translate(311.27 268.60) rotate(-90)" font-size="7.0" fill="#222" textLength="10.8" lengthAdjust="spacingAndGlyphs">48h</text>
<text transform="translate(320.77 268.60) rotate(-90)" font-size="7.0" fill="#222" textLength="10.8" lengthAdjust="spacingAndGlyphs">72h</text>
<text transform="translate(330.27 268.60) rotate(-90)" font-size="7.0" fill="#222" textLength="10.8" lengthAdjust="spacingAndGlyphs">24h</text>
<text transform="translate(339.77 268.60) rotate(-90)" font-size="7.0" fill="#222" textLength="10.8" lengthAdjust="spacingAndGlyphs">48h</text>
<text transform="translate(349.27 268.60) rotate(-90)" font-size="7.0" fill="#222" textLength="10.8" lengthAdjust="spacingAndGlyphs">72h</text>
<text transform="translate(358.77 268.60) rotate(-90)" font-size="7.0" fill="#222" textLength="10.8" lengthAdjust="spacingAndGlyphs">48h</text>
<text transform="translate(368.27 268.60) rotate(-90)" font-size="7.0" fill="#222" textLength="10.8" lengthAdjust="spacingAndGlyphs">72h</text>
<text transform="translate(377.77 268.60) rotate(-90)" font-size="7.0" fill="#222" textLength="10.8" lengthAdjust="spacingAndGlyphs">48h</text>
<text transform="translate(387.27 268.60) rotate(-90)" font-size="7.0" fill="#222" textLength="10.8" lengthAdjust="spacingAndGlyphs">72h</text>
<text transform="translate(396.77 268.60) rotate(-90)" font-size="7.0" fill="#222" textLength="10.8" lengthAdjust="spacingAndGlyphs">24h</text>
<text transform="translate(406.27 268.60) rotate(-90)" font-size="7.0" fill="#222" textLength="10.8" lengthAdjust="spacingAndGlyphs">48h</text>
<text transform="translate(415.77 268.60) rotate(-90)" font-size="7.0" fill="#222" textLength="10.8" lengthAdjust="spacingAndGlyphs">24h</text>
<text transform="translate(425.27 268.60) rotate(-90)" font-size="7.0" fill="#222" textLength="10.8" lengthAdjust="spacingAndGlyphs">48h</text>
<rect x="303.10" y="272.10" width="1.80" height="101.90" fill="#9a9a9a"/>
<rect x="312.60" y="272.10" width="1.80" height="101.90" fill="#9a9a9a"/>
<rect x="322.10" y="272.10" width="1.80" height="101.90" fill="#9a9a9a"/>
<rect x="331.60" y="272.10" width="1.80" height="101.90" fill="#9a9a9a"/>
<rect x="341.10" y="272.10" width="1.80" height="101.90" fill="#9a9a9a"/>
<rect x="350.60" y="272.10" width="1.80" height="101.90" fill="#9a9a9a"/>
<rect x="360.10" y="272.10" width="1.80" height="101.90" fill="#9a9a9a"/>
<rect x="369.60" y="272.10" width="1.80" height="101.90" fill="#9a9a9a"/>
<rect x="379.10" y="272.10" width="1.80" height="101.90" fill="#9a9a9a"/>
<rect x="388.60" y="272.10" width="1.80" height="101.90" fill="#9a9a9a"/>
<rect x="398.10" y="272.10" width="1.80" height="101.90" fill="#9a9a9a"/>
<rect x="407.60" y="272.10" width="1.80" height="101.90" fill="#9a9a9a"/>
<rect x="417.10" y="272.10" width="1.80" height="101.90" fill="#9a9a9a"/>
<text x="443.10" y="277.30" font-size="7.2" fill="#3c3c9c" stroke="#3c3c9c" stroke-width="0.16" textLength="20.50" lengthAdjust="spacingAndGlyphs">CEBPE</text>
<line x1="427.30" y1="280.40" x2="439.60" y2="274.60" stroke="#1a1a1a" stroke-width="1.1" />
<text x="443.10" y="284.60" font-size="7.2" fill="#e0a048" stroke="#e0a048" stroke-width="0.16" textLength="28.00" lengthAdjust="spacingAndGlyphs">TNFAIP6</text>
<line x1="427.30" y1="284.20" x2="439.60" y2="281.90" stroke="#1a1a1a" stroke-width="1.1" />
<text x="443.10" y="291.40" font-size="7.2" fill="#e0a048" stroke="#e0a048" stroke-width="0.16" textLength="16.50" lengthAdjust="spacingAndGlyphs">PRG2</text>
<line x1="427.30" y1="287.70" x2="439.60" y2="288.70" stroke="#1a1a1a" stroke-width="1.1" />
<text x="443.10" y="298.10" font-size="7.2" fill="#e0a048" stroke="#e0a048" stroke-width="0.16" textLength="14.00" lengthAdjust="spacingAndGlyphs">MPO</text>
<line x1="427.30" y1="290.50" x2="439.60" y2="295.40" stroke="#1a1a1a" stroke-width="1.1" />
<text x="443.10" y="305.20" font-size="7.2" fill="#a458b4" stroke="#a458b4" stroke-width="0.16" textLength="23.00" lengthAdjust="spacingAndGlyphs">MS4A3</text>
<line x1="427.30" y1="293.50" x2="439.60" y2="302.50" stroke="#1a1a1a" stroke-width="1.1" />
<text x="443.10" y="311.90" font-size="7.2" fill="#a458b4" stroke="#a458b4" stroke-width="0.16" textLength="23.00" lengthAdjust="spacingAndGlyphs">MS4A3</text>
<line x1="427.30" y1="297.00" x2="439.60" y2="309.20" stroke="#1a1a1a" stroke-width="1.1" />
<text x="443.10" y="319.20" font-size="7.2" fill="#3c3c9c" stroke="#3c3c9c" stroke-width="0.16" textLength="26.00" lengthAdjust="spacingAndGlyphs">TYROBP</text>
<line x1="427.30" y1="315.50" x2="439.60" y2="316.50" stroke="#1a1a1a" stroke-width="1.1" />
<text x="443.10" y="326.00" font-size="7.2" fill="#a458b4" stroke="#a458b4" stroke-width="0.16" textLength="23.00" lengthAdjust="spacingAndGlyphs">MS4A3</text>
<line x1="427.30" y1="318.50" x2="439.60" y2="323.30" stroke="#1a1a1a" stroke-width="1.1" />
<text x="443.10" y="347.50" font-size="7.2" fill="#a458b4" stroke="#a458b4" stroke-width="0.16" textLength="28.00" lengthAdjust="spacingAndGlyphs">CDKN1A</text>
<line x1="427.30" y1="351.00" x2="439.60" y2="344.80" stroke="#1a1a1a" stroke-width="1.1" />
<text x="443.10" y="354.60" font-size="7.2" fill="#e0a048" stroke="#e0a048" stroke-width="0.16" textLength="24.00" lengthAdjust="spacingAndGlyphs">MMP25</text>
<line x1="427.30" y1="352.50" x2="439.60" y2="351.90" stroke="#1a1a1a" stroke-width="1.1" />
<text x="443.10" y="361.50" font-size="7.2" fill="#3c3c9c" stroke="#3c3c9c" stroke-width="0.16" textLength="18.50" lengthAdjust="spacingAndGlyphs">RXRA</text>
<line x1="427.30" y1="353.50" x2="439.60" y2="358.80" stroke="#1a1a1a" stroke-width="1.1" />
<text x="443.10" y="372.50" font-size="7.2" fill="#a458b4" stroke="#a458b4" stroke-width="0.16" textLength="17.50" lengthAdjust="spacingAndGlyphs">EGR1</text>
<line x1="427.30" y1="369.80" x2="439.60" y2="369.80" stroke="#1a1a1a" stroke-width="1.1" />
<rect x="495.20" y="277.60" width="7.80" height="10.30" fill="#e00000"/>
<rect x="495.20" y="287.70" width="7.80" height="10.30" fill="#a00000"/>
<rect x="495.20" y="297.80" width="7.80" height="10.30" fill="#700000"/>
<rect x="495.20" y="307.90" width="7.80" height="10.30" fill="#380000"/>
<rect x="495.20" y="318.00" width="7.80" height="10.30" fill="#000000"/>
<rect x="495.20" y="328.10" width="7.80" height="10.30" fill="#203440"/>
<rect x="495.20" y="338.20" width="7.80" height="10.30" fill="#3a6078"/>
<rect x="495.20" y="348.30" width="7.80" height="10.30" fill="#5090b8"/>
<rect x="495.20" y="358.40" width="7.80" height="10.30" fill="#70c8f8"/>
<text x="506.00" y="286.00" font-size="6.8" fill="#222" stroke="#222" stroke-width="0.16">2</text>
<text x="506.00" y="306.50" font-size="6.8" fill="#222" stroke="#222" stroke-width="0.16">1</text>
<text x="506.00" y="325.40" font-size="6.8" fill="#222" stroke="#222" stroke-width="0.16">0</text>
<text x="504.30" y="346.60" font-size="6.8" fill="#222" stroke="#222" stroke-width="0.16">-1</text>
<text x="504.30" y="367.10" font-size="6.8" fill="#222" stroke="#222" stroke-width="0.16">-2</text>
<text transform="translate(490.0 351.8) rotate(-90)" font-size="8.8" fill="#222" textLength="58" lengthAdjust="spacingAndGlyphs">Log<tspan font-size="5.4" dy="1.6">2</tspan><tspan dy="-1.6">(fold change)</tspan></text>
<text x="433.90" y="221.00" font-size="6.9" fill="#111" font-weight="bold" textLength="58.40" lengthAdjust="spacingAndGlyphs" text-decoration="underline">Biological Process</text>
<text x="433.90" y="232.10" font-size="6.9" fill="#4a3ea0" stroke="#4a3ea0" stroke-width="0.16" textLength="71.80" lengthAdjust="spacingAndGlyphs">Myeloid Differentiation</text>
<text x="433.90" y="243.20" font-size="6.9" fill="#e0a050" stroke="#e0a050" stroke-width="0.16" textLength="66.50" lengthAdjust="spacingAndGlyphs">Neutrophil Activation</text>
<text x="433.90" y="254.00" font-size="6.9" fill="#b070c0" stroke="#b070c0" stroke-width="0.16" textLength="56.10" lengthAdjust="spacingAndGlyphs">Tumor Suppressor</text>
<text x="277.50" y="401.30" font-size="12.0" font-weight="bold" stroke="#000" stroke-width="0.55">E</text>
<text x="305.00" y="401.05" font-size="6.5" fill="#111" font-weight="bold" textLength="153.00" lengthAdjust="spacingAndGlyphs">JAATINEN_HEMATOPOIETIC_STEM_CELL_DN</text>
<path d="M325.50 452.60V469.60" stroke="#030303" stroke-width="0.9" fill="none"/>
<path d="M326.78 452.60V469.60" stroke="#090909" stroke-width="0.9" fill="none"/>
<path d="M327.84 452.60V469.60" stroke="#373737" stroke-width="0.9" fill="none"/>
<path d="M328.64 452.60V469.60" stroke="#363636" stroke-width="0.9" fill="none"/>
<path d="M329.92 452.60V469.60" stroke="#353535" stroke-width="0.9" fill="none"/>
<path d="M330.58 452.60V469.60M388.71 452.60V469.60" stroke="#414141" stroke-width="0.9" fill="none"/>
<path d="M331.51 452.60V469.60" stroke="#545454" stroke-width="0.9" fill="none"/>
<path d="M332.40 452.60V469.60" stroke="#464646" stroke-width="0.9" fill="none"/>
<path d="M333.21 452.60V469.60M336.97 452.60V469.60M343.89 452.60V469.60" stroke="#616161" stroke-width="0.9" fill="none"/>
<path d="M334.29 452.60V469.60" stroke="#656565" stroke-width="0.9" fill="none"/>
<path d="M335.16 452.60V469.60" stroke="#454545" stroke-width="0.9" fill="none"/>
<path d="M336.05 452.60V469.60M343.23 452.60V469.60" stroke="#1a1a1a" stroke-width="0.9" fill="none"/>
<path d="M338.19 452.60V469.60" stroke="#393939" stroke-width="0.9" fill="none"/>
<path d="M338.82 452.60V469.60" stroke="#262626" stroke-width="0.9" fill="none"/>
<path d="M339.52 452.60V469.60" stroke="#b1b1b1" stroke-width="0.9" fill="none"/>
<path d="M340.38 452.60V469.60" stroke="#7c7c7c" stroke-width="0.9" fill="none"/>
<path d="M346.33 452.60V469.60" stroke="#adadad" stroke-width="0.9" fill="none"/>
<path d="M348.63 452.60V469.60" stroke="#3e3e3e" stroke-width="0.9" fill="none"/>
<path d="M351.01 452.60V469.60" stroke="#d3d3d3" stroke-width="0.9" fill="none"/>
<path d="M352.93 452.60V469.60" stroke="#272727" stroke-width="0.9" fill="none"/>
<path d="M353.91 452.60V469.60" stroke="#626262" stroke-width="0.9" fill="none"/>
<path d="M354.55 452.60V469.60" stroke="#c6c6c6" stroke-width="0.9" fill="none"/>
<path d="M355.99 452.60V469.60M397.65 452.60V469.60" stroke="#303030" stroke-width="0.9" fill="none"/>
<path d="M358.10 452.60V469.60" stroke="#a2a2a2" stroke-width="0.9" fill="none"/>
<path d="M359.32 452.60V469.60" stroke="#9d9d9d" stroke-width="0.9" fill="none"/>
<path d="M360.52 452.60V469.60" stroke="#909090" stroke-width="0.9" fill="none"/>
<path d="M361.68 452.60V469.60" stroke="#525252" stroke-width="0.9" fill="none"/>
<path d="M363.72 452.60V469.60" stroke="#dddddd" stroke-width="0.9" fill="none"/>
<path d="M365.75 452.60V469.60" stroke="#242424" stroke-width="0.9" fill="none"/>
<path d="M366.50 452.60V469.60M408.71 452.60V469.60" stroke="#383838" stroke-width="0.9" fill="none"/>
<path d="M367.19 452.60V469.60" stroke="#666666" stroke-width="0.9" fill="none"/>
<path d="M371.01 452.60V469.60" stroke="#8b8b8b" stroke-width="0.9" fill="none"/>
<path d="M372.95 452.60V469.60" stroke="#747474" stroke-width="0.9" fill="none"/>
<path d="M373.87 452.60V469.60" stroke="#212121" stroke-width="0.9" fill="none"/>
<path d="M375.62 452.60V469.60" stroke="#a4a4a4" stroke-width="0.9" fill="none"/>
<path d="M379.85 452.60V469.60" stroke="#6f6f6f" stroke-width="0.9" fill="none"/>
<path d="M380.76 452.60V469.60" stroke="#9a9a9a" stroke-width="0.9" fill="none"/>
<path d="M382.66 452.60V469.60" stroke="#aaaaaa" stroke-width="0.9" fill="none"/>
<path d="M385.69 452.60V469.60" stroke="#b2b2b2" stroke-width="0.9" fill="none"/>
<path d="M387.29 452.60V469.60" stroke="#4b4b4b" stroke-width="0.9" fill="none"/>
<path d="M391.66 452.60V469.60M412.53 452.60V469.60" stroke="#202020" stroke-width="0.9" fill="none"/>
<path d="M392.39 452.60V469.60" stroke="#afafaf" stroke-width="0.9" fill="none"/>
<path d="M393.63 452.60V469.60" stroke="#484848" stroke-width="0.9" fill="none"/>
<path d="M401.28 452.60V469.60" stroke="#252525" stroke-width="0.9" fill="none"/>
<path d="M402.09 452.60V469.60" stroke="#e8e8e8" stroke-width="0.9" fill="none"/>
<path d="M402.89 452.60V469.60" stroke="#b0b0b0" stroke-width="0.9" fill="none"/>
<path d="M406.97 452.60V469.60" stroke="#1f1f1f" stroke-width="0.9" fill="none"/>
<path d="M409.43 452.60V469.60" stroke="#dbdbdb" stroke-width="0.9" fill="none"/>
<path d="M411.77 452.60V469.60" stroke="#bcbcbc" stroke-width="0.9" fill="none"/>
<path d="M413.76 452.60V469.60" stroke="#959595" stroke-width="0.9" fill="none"/>
<path d="M415.90 452.60V469.60" stroke="#bfbfbf" stroke-width="0.9" fill="none"/>
<path d="M421.86 452.60V469.60" stroke="#191919" stroke-width="0.9" fill="none"/>
<path d="M428.32 452.60V469.60" stroke="#b8b8b8" stroke-width="0.9" fill="none"/>
<path d="M429.28 452.60V469.60" stroke="#dadada" stroke-width="0.9" fill="none"/>
<path d="M430.81 452.60V469.60" stroke="#aeaeae" stroke-width="0.9" fill="none"/>
<rect x="325.70" y="469.60" width="107.00" height="3.40" fill="url(#gbar)"/>
<rect x="325.20" y="406.60" width="113.50" height="66.40" fill="none" stroke="#222" stroke-width="1"/>
<line x1="325.20" y1="449.50" x2="438.70" y2="449.50" stroke="#555" stroke-width="0.6" />
<line x1="325.20" y1="452.60" x2="438.70" y2="452.60" stroke="#222" stroke-width="0.9" />
<line x1="321.60" y1="449.50" x2="325.20" y2="449.50" stroke="#333" stroke-width="0.8" />
<line x1="321.60" y1="443.65" x2="325.20" y2="443.65" stroke="#333" stroke-width="0.8" />
<line x1="321.60" y1="437.80" x2="325.20" y2="437.80" stroke="#333" stroke-width="0.8" />
<line x1="321.60" y1="431.95" x2="325.20" y2="431.95" stroke="#333" stroke-width="0.8" />
<line x1="321.60" y1="426.10" x2="325.20" y2="426.10" stroke="#333" stroke-width="0.8" />
<line x1="321.60" y1="420.25" x2="325.20" y2="420.25" stroke="#333" stroke-width="0.8" />
<line x1="321.60" y1="414.40" x2="325.20" y2="414.40" stroke="#333" stroke-width="0.8" />
<line x1="321.60" y1="408.55" x2="325.20" y2="408.55" stroke="#333" stroke-width="0.8" />
<text x="319.30" y="452.00" font-size="7.0" fill="#222" stroke="#222" stroke-width="0.16" text-anchor="end">0</text>
<text x="319.30" y="440.30" font-size="7.0" fill="#222" stroke="#222" stroke-width="0.16" text-anchor="end">0.2</text>
<text x="319.30" y="428.60" font-size="7.0" fill="#222" stroke="#222" stroke-width="0.16" text-anchor="end">0.4</text>
<text x="319.30" y="416.90" font-size="7.0" fill="#222" stroke="#222" stroke-width="0.16" text-anchor="end">0.6</text>
<text transform="translate(302.15 473.50) rotate(-90)" font-size="8.2" fill="#222" textLength="71" lengthAdjust="spacingAndGlyphs">Enrichment score (ES)</text>
<polyline points="325.40,428.00 325.48,426.92 325.59,425.41 325.71,423.59 325.86,421.62 326.01,419.64 326.17,417.78 326.34,416.19 326.50,415.00 326.66,414.23 326.81,413.76 326.97,413.51 327.13,413.41 327.31,413.38 327.51,413.35 327.74,413.25 328.00,413.00 328.30,412.62 328.62,412.17 328.97,411.69 329.34,411.19 329.74,410.70 330.14,410.24 330.57,409.83 331.00,409.50 331.45,409.24 331.91,409.02 332.38,408.85 332.88,408.71 333.38,408.60 333.91,408.51 334.45,408.45 335.00,408.40 335.54,408.36 336.06,408.32 336.58,408.30 337.12,408.30 337.71,408.34 338.38,408.43 339.13,408.58 340.00,408.80 340.98,409.08 342.03,409.42 343.16,409.80 344.38,410.24 345.66,410.73 347.03,411.27 348.48,411.86 350.00,412.50 351.64,413.21 353.40,413.99 355.26,414.84 357.19,415.73 359.16,416.66 361.13,417.60 363.09,418.55 365.00,419.50 366.88,420.45 368.75,421.44 370.62,422.44 372.50,423.46 374.38,424.48 376.25,425.50 378.12,426.51 380.00,427.50 381.88,428.48 383.75,429.46 385.62,430.43 387.50,431.39 389.38,432.35 391.25,433.31 393.12,434.26 395.00,435.20 396.90,436.15 398.82,437.10 400.76,438.05 402.69,439.00 404.59,439.93 406.46,440.82 408.27,441.69 410.00,442.50 411.67,443.28 413.30,444.02 414.90,444.74 416.44,445.43 417.92,446.08 419.35,446.70 420.71,447.27 422.00,447.80 423.22,448.28 424.39,448.73 425.49,449.13 426.53,449.49 427.51,449.82 428.41,450.11 429.24,450.37 430.00,450.60 430.68,450.78 431.27,450.92 431.80,451.01 432.25,451.08 432.64,451.12 432.98,451.14 433.26,451.17 433.50,451.20" fill="none" stroke="#86e040" stroke-width="1.1" stroke-linejoin="round"/>
<text x="403.30" y="417.90" font-size="6.8" fill="#222" stroke="#222" stroke-width="0.16" textLength="26.00" lengthAdjust="spacingAndGlyphs">NES: 2.73</text>
<text x="403.30" y="425.30" font-size="6.8" fill="#222" stroke="#222" stroke-width="0.16" textLength="17.50" lengthAdjust="spacingAndGlyphs">FDR: 0</text>
<text x="325.40" y="482.20" font-size="7.4" fill="#cc2030" font-weight="bold" textLength="14.80" lengthAdjust="spacingAndGlyphs">DAC</text>
<text x="412.20" y="482.20" font-size="7.4" fill="#2a3aa0" font-weight="bold" textLength="20.80" lengthAdjust="spacingAndGlyphs">DMSO</text>
<text x="326.30" y="499.00" font-size="6.5" fill="#111" font-weight="bold" textLength="110.70" lengthAdjust="spacingAndGlyphs">GAL_LEUKEMIC_STEM_CELL_DN</text>
<path d="M325.50 554.60V571.00" stroke="#0c0c0c" stroke-width="0.9" fill="none"/>
<path d="M326.39 554.60V571.00" stroke="#0d0d0d" stroke-width="0.9" fill="none"/>
<path d="M327.67 554.60V571.00M329.24 554.60V571.00" stroke="#636363" stroke-width="0.9" fill="none"/>
<path d="M328.29 554.60V571.00M386.80 554.60V571.00" stroke="#363636" stroke-width="0.9" fill="none"/>
<path d="M330.20 554.60V571.00" stroke="#3e3e3e" stroke-width="0.9" fill="none"/>
<path d="M330.89 554.60V571.00" stroke="#5a5a5a" stroke-width="0.9" fill="none"/>
<path d="M331.99 554.60V571.00M366.63 554.60V571.00" stroke="#393939" stroke-width="0.9" fill="none"/>
<path d="M332.77 554.60V571.00" stroke="#646464" stroke-width="0.9" fill="none"/>
<path d="M333.56 554.60V571.00" stroke="#666666" stroke-width="0.9" fill="none"/>
<path d="M334.76 554.60V571.00M431.08 554.60V571.00" stroke="#2a2a2a" stroke-width="0.9" fill="none"/>
<path d="M335.55 554.60V571.00" stroke="#d9d9d9" stroke-width="0.9" fill="none"/>
<path d="M336.23 554.60V571.00" stroke="#474747" stroke-width="0.9" fill="none"/>
<path d="M337.39 554.60V571.00" stroke="#e7e7e7" stroke-width="0.9" fill="none"/>
<path d="M338.20 554.60V571.00M354.87 554.60V571.00" stroke="#414141" stroke-width="0.9" fill="none"/>
<path d="M340.31 554.60V571.00M341.91 554.60V571.00M342.62 554.60V571.00" stroke="#626262" stroke-width="0.9" fill="none"/>
<path d="M340.95 554.60V571.00" stroke="#696969" stroke-width="0.9" fill="none"/>
<path d="M344.47 554.60V571.00" stroke="#e1e1e1" stroke-width="0.9" fill="none"/>
<path d="M345.75 554.60V571.00" stroke="#e6e6e6" stroke-width="0.9" fill="none"/>
<path d="M349.03 554.60V571.00M362.34 554.60V571.00" stroke="#dedede" stroke-width="0.9" fill="none"/>
<path d="M349.72 554.60V571.00M369.25 554.60V571.00M389.00 554.60V571.00" stroke="#8d8d8d" stroke-width="0.9" fill="none"/>
<path d="M350.41 554.60V571.00" stroke="#1c1c1c" stroke-width="0.9" fill="none"/>
<path d="M351.26 554.60V571.00" stroke="#7a7a7a" stroke-width="0.9" fill="none"/>
<path d="M352.28 554.60V571.00" stroke="#2e2e2e" stroke-width="0.9" fill="none"/>
<path d="M353.28 554.60V571.00" stroke="#1b1b1b" stroke-width="0.9" fill="none"/>
<path d="M353.92 554.60V571.00" stroke="#e2e2e2" stroke-width="0.9" fill="none"/>
<path d="M356.69 554.60V571.00" stroke="#202020" stroke-width="0.9" fill="none"/>
<path d="M360.96 554.60V571.00M421.23 554.60V571.00" stroke="#9b9b9b" stroke-width="0.9" fill="none"/>
<path d="M363.39 554.60V571.00" stroke="#cfcfcf" stroke-width="0.9" fill="none"/>
<path d="M364.48 554.60V571.00" stroke="#676767" stroke-width="0.9" fill="none"/>
<path d="M371.07 554.60V571.00" stroke="#808080" stroke-width="0.9" fill="none"/>
<path d="M374.52 554.60V571.00" stroke="#707070" stroke-width="0.9" fill="none"/>
<path d="M375.44 554.60V571.00" stroke="#959595" stroke-width="0.9" fill="none"/>
<path d="M380.96 554.60V571.00" stroke="#424242" stroke-width="0.9" fill="none"/>
<path d="M382.20 554.60V571.00M391.67 554.60V571.00" stroke="#acacac" stroke-width="0.9" fill="none"/>
<path d="M384.09 554.60V571.00" stroke="#e3e3e3" stroke-width="0.9" fill="none"/>
<path d="M385.66 554.60V571.00" stroke="#585858" stroke-width="0.9" fill="none"/>
<path d="M387.45 554.60V571.00" stroke="#919191" stroke-width="0.9" fill="none"/>
<path d="M393.63 554.60V571.00" stroke="#cbcbcb" stroke-width="0.9" fill="none"/>
<path d="M396.75 554.60V571.00" stroke="#b3b3b3" stroke-width="0.9" fill="none"/>
<path d="M398.00 554.60V571.00" stroke="#afafaf" stroke-width="0.9" fill="none"/>
<path d="M399.02 554.60V571.00M412.74 554.60V571.00" stroke="#434343" stroke-width="0.9" fill="none"/>
<path d="M400.06 554.60V571.00" stroke="#767676" stroke-width="0.9" fill="none"/>
<path d="M401.20 554.60V571.00" stroke="#737373" stroke-width="0.9" fill="none"/>
<path d="M403.46 554.60V571.00" stroke="#b6b6b6" stroke-width="0.9" fill="none"/>
<path d="M407.40 554.60V571.00" stroke="#222222" stroke-width="0.9" fill="none"/>
<path d="M409.11 554.60V571.00" stroke="#e0e0e0" stroke-width="0.9" fill="none"/>
<path d="M413.52 554.60V571.00M422.98 554.60V571.00" stroke="#656565" stroke-width="0.9" fill="none"/>
<path d="M415.40 554.60V571.00" stroke="#747474" stroke-width="0.9" fill="none"/>
<path d="M416.36 554.60V571.00" stroke="#c8c8c8" stroke-width="0.9" fill="none"/>
<path d="M418.16 554.60V571.00" stroke="#383838" stroke-width="0.9" fill="none"/>
<path d="M422.29 554.60V571.00" stroke="#7e7e7e" stroke-width="0.9" fill="none"/>
<path d="M424.25 554.60V571.00" stroke="#7f7f7f" stroke-width="0.9" fill="none"/>
<path d="M424.90 554.60V571.00" stroke="#858585" stroke-width="0.9" fill="none"/>
<path d="M425.91 554.60V571.00" stroke="#e8e8e8" stroke-width="0.9" fill="none"/>
<path d="M428.06 554.60V571.00" stroke="#bababa" stroke-width="0.9" fill="none"/>
<path d="M431.97 554.60V571.00" stroke="#d8d8d8" stroke-width="0.9" fill="none"/>
<path d="M432.70 554.60V571.00" stroke="#b1b1b1" stroke-width="0.9" fill="none"/>
<rect x="325.70" y="571.00" width="107.00" height="4.20" fill="url(#gbar)"/>
<rect x="325.20" y="504.40" width="113.50" height="70.80" fill="none" stroke="#222" stroke-width="1"/>
<line x1="325.20" y1="552.00" x2="438.70" y2="552.00" stroke="#555" stroke-width="0.6" />
<line x1="325.20" y1="554.60" x2="438.70" y2="554.60" stroke="#222" stroke-width="0.9" />
<line x1="321.60" y1="552.00" x2="325.20" y2="552.00" stroke="#333" stroke-width="0.8" />
<line x1="321.60" y1="545.30" x2="325.20" y2="545.30" stroke="#333" stroke-width="0.8" />
<line x1="321.60" y1="538.60" x2="325.20" y2="538.60" stroke="#333" stroke-width="0.8" />
<line x1="321.60" y1="531.90" x2="325.20" y2="531.90" stroke="#333" stroke-width="0.8" />
<line x1="321.60" y1="525.20" x2="325.20" y2="525.20" stroke="#333" stroke-width="0.8" />
<line x1="321.60" y1="518.50" x2="325.20" y2="518.50" stroke="#333" stroke-width="0.8" />
<line x1="321.60" y1="511.80" x2="325.20" y2="511.80" stroke="#333" stroke-width="0.8" />
<line x1="321.60" y1="505.10" x2="325.20" y2="505.10" stroke="#333" stroke-width="0.8" />
<text x="319.30" y="554.50" font-size="7.0" fill="#222" stroke="#222" stroke-width="0.16" text-anchor="end">0</text>
<text x="319.30" y="541.10" font-size="7.0" fill="#222" stroke="#222" stroke-width="0.16" text-anchor="end">0.2</text>
<text x="319.30" y="527.70" font-size="7.0" fill="#222" stroke="#222" stroke-width="0.16" text-anchor="end">0.4</text>
<text x="319.30" y="514.30" font-size="7.0" fill="#222" stroke="#222" stroke-width="0.16" text-anchor="end">0.6</text>
<text transform="translate(302.15 575.70) rotate(-90)" font-size="8.2" fill="#222" textLength="71" lengthAdjust="spacingAndGlyphs">Enrichment score (ES)</text>
<polyline points="325.20,528.00 325.28,526.86 325.37,525.29 325.48,523.40 325.61,521.34 325.76,519.24 325.92,517.23 326.10,515.44 326.30,514.00 326.51,512.88 326.74,511.94 326.99,511.16 327.25,510.49 327.53,509.93 327.83,509.42 328.16,508.96 328.50,508.50 328.87,508.08 329.27,507.73 329.70,507.45 330.14,507.22 330.59,507.03 331.06,506.87 331.53,506.73 332.00,506.60 332.44,506.48 332.85,506.40 333.24,506.34 333.66,506.31 334.11,506.30 334.64,506.31 335.26,506.35 336.00,506.40 336.88,506.47 337.88,506.55 338.96,506.66 340.12,506.79 341.33,506.94 342.56,507.13 343.79,507.34 345.00,507.60 346.18,507.88 347.36,508.17 348.54,508.49 349.75,508.84 350.99,509.23 352.27,509.69 353.60,510.20 355.00,510.80 356.49,511.50 358.06,512.29 359.70,513.16 361.38,514.08 363.07,515.03 364.75,515.98 366.40,516.91 368.00,517.80 369.55,518.65 371.07,519.49 372.57,520.32 374.06,521.15 375.54,521.98 377.02,522.81 378.51,523.65 380.00,524.50 381.49,525.35 382.98,526.20 384.46,527.05 385.94,527.90 387.43,528.77 388.93,529.65 390.45,530.56 392.00,531.50 393.60,532.49 395.25,533.54 396.93,534.62 398.62,535.71 400.30,536.80 401.94,537.86 403.51,538.86 405.00,539.80 406.41,540.67 407.76,541.50 409.06,542.29 410.31,543.04 411.53,543.77 412.71,544.47 413.87,545.14 415.00,545.80 416.12,546.45 417.21,547.08 418.28,547.69 419.31,548.27 420.31,548.83 421.26,549.33 422.16,549.79 423.00,550.20 423.77,550.54 424.47,550.83 425.12,551.07 425.72,551.26 426.29,551.43 426.86,551.56 427.42,551.69 428.00,551.80 428.62,551.89 429.27,551.95 429.92,551.99 430.56,552.00 431.16,552.00 431.70,552.00 432.16,551.99 432.50,552.00" fill="none" stroke="#86e040" stroke-width="1.1" stroke-linejoin="round"/>
<text x="403.20" y="520.40" font-size="6.8" fill="#222" stroke="#222" stroke-width="0.16" textLength="26.00" lengthAdjust="spacingAndGlyphs">NES: 2.64</text>
<text x="403.20" y="527.80" font-size="6.8" fill="#222" stroke="#222" stroke-width="0.16" textLength="17.50" lengthAdjust="spacingAndGlyphs">FDR: 0</text>
<text x="325.40" y="585.60" font-size="7.4" fill="#cc2030" font-weight="bold" textLength="14.80" lengthAdjust="spacingAndGlyphs">DAC</text>
<text x="412.20" y="585.60" font-size="7.4" fill="#2a3aa0" font-weight="bold" textLength="20.80" lengthAdjust="spacingAndGlyphs">DMSO</text>
<text x="305.40" y="602.50" font-size="6.5" fill="#111" font-weight="bold" textLength="153.40" lengthAdjust="spacingAndGlyphs">BROWN_MYELOID_CELL_DEVELOPMENT_UP</text>
<path d="M325.50 654.60V671.00" stroke="#131313" stroke-width="0.9" fill="none"/>
<path d="M326.24 654.60V671.00" stroke="#121212" stroke-width="0.9" fill="none"/>
<path d="M327.02 654.60V671.00" stroke="#070707" stroke-width="0.9" fill="none"/>
<path d="M327.90 654.60V671.00M330.64 654.60V671.00" stroke="#616161" stroke-width="0.9" fill="none"/>
<path d="M328.68 654.60V671.00" stroke="#585858" stroke-width="0.9" fill="none"/>
<path d="M329.70 654.60V671.00" stroke="#434343" stroke-width="0.9" fill="none"/>
<path d="M331.72 654.60V671.00" stroke="#696969" stroke-width="0.9" fill="none"/>
<path d="M332.48 654.60V671.00" stroke="#323232" stroke-width="0.9" fill="none"/>
<path d="M333.49 654.60V671.00" stroke="#595959" stroke-width="0.9" fill="none"/>
<path d="M334.67 654.60V671.00" stroke="#555555" stroke-width="0.9" fill="none"/>
<path d="M340.42 654.60V671.00M413.50 654.60V671.00" stroke="#333333" stroke-width="0.9" fill="none"/>
<path d="M341.60 654.60V671.00M372.62 654.60V671.00" stroke="#a0a0a0" stroke-width="0.9" fill="none"/>
<path d="M342.83 654.60V671.00M412.47 654.60V671.00" stroke="#515151" stroke-width="0.9" fill="none"/>
<path d="M347.18 654.60V671.00" stroke="#dcdcdc" stroke-width="0.9" fill="none"/>
<path d="M348.86 654.60V671.00" stroke="#3b3b3b" stroke-width="0.9" fill="none"/>
<path d="M349.96 654.60V671.00" stroke="#737373" stroke-width="0.9" fill="none"/>
<path d="M350.64 654.60V671.00" stroke="#4d4d4d" stroke-width="0.9" fill="none"/>
<path d="M351.69 654.60V671.00" stroke="#cccccc" stroke-width="0.9" fill="none"/>
<path d="M352.73 654.60V671.00" stroke="#afafaf" stroke-width="0.9" fill="none"/>
<path d="M353.38 654.60V671.00" stroke="#828282" stroke-width="0.9" fill="none"/>
<path d="M354.58 654.60V671.00" stroke="#212121" stroke-width="0.9" fill="none"/>
<path d="M355.85 654.60V671.00" stroke="#3f3f3f" stroke-width="0.9" fill="none"/>
<path d="M356.85 654.60V671.00" stroke="#6f6f6f" stroke-width="0.9" fill="none"/>
<path d="M357.60 654.60V671.00M422.87 654.60V671.00" stroke="#626262" stroke-width="0.9" fill="none"/>
<path d="M358.49 654.60V671.00M414.56 654.60V671.00" stroke="#7d7d7d" stroke-width="0.9" fill="none"/>
<path d="M359.55 654.60V671.00" stroke="#888888" stroke-width="0.9" fill="none"/>
<path d="M360.36 654.60V671.00" stroke="#292929" stroke-width="0.9" fill="none"/>
<path d="M361.28 654.60V671.00M377.06 654.60V671.00" stroke="#3a3a3a" stroke-width="0.9" fill="none"/>
<path d="M365.37 654.60V671.00" stroke="#5f5f5f" stroke-width="0.9" fill="none"/>
<path d="M370.22 654.60V671.00" stroke="#a5a5a5" stroke-width="0.9" fill="none"/>
<path d="M372.00 654.60V671.00" stroke="#dadada" stroke-width="0.9" fill="none"/>
<path d="M373.28 654.60V671.00M426.74 654.60V671.00" stroke="#525252" stroke-width="0.9" fill="none"/>
<path d="M373.90 654.60V671.00" stroke="#e5e5e5" stroke-width="0.9" fill="none"/>
<path d="M375.10 654.60V671.00" stroke="#e8e8e8" stroke-width="0.9" fill="none"/>
<path d="M383.20 654.60V671.00" stroke="#222222" stroke-width="0.9" fill="none"/>
<path d="M384.79 654.60V671.00" stroke="#8d8d8d" stroke-width="0.9" fill="none"/>
<path d="M385.78 654.60V671.00" stroke="#c4c4c4" stroke-width="0.9" fill="none"/>
<path d="M388.32 654.60V671.00" stroke="#353535" stroke-width="0.9" fill="none"/>
<path d="M389.53 654.60V671.00" stroke="#b9b9b9" stroke-width="0.9" fill="none"/>
<path d="M390.50 654.60V671.00" stroke="#e1e1e1" stroke-width="0.9" fill="none"/>
<path d="M391.62 654.60V671.00" stroke="#3e3e3e" stroke-width="0.9" fill="none"/>
<path d="M392.88 654.60V671.00" stroke="#909090" stroke-width="0.9" fill="none"/>
<path d="M393.77 654.60V671.00" stroke="#282828" stroke-width="0.9" fill="none"/>
<path d="M394.56 654.60V671.00" stroke="#6e6e6e" stroke-width="0.9" fill="none"/>
<path d="M397.67 654.60V671.00" stroke="#b0b0b0" stroke-width="0.9" fill="none"/>
<path d="M399.14 654.60V671.00" stroke="#959595" stroke-width="0.9" fill="none"/>
<path d="M400.96 654.60V671.00" stroke="#dbdbdb" stroke-width="0.9" fill="none"/>
<path d="M406.48 654.60V671.00" stroke="#6d6d6d" stroke-width="0.9" fill="none"/>
<path d="M407.51 654.60V671.00" stroke="#5d5d5d" stroke-width="0.9" fill="none"/>
<path d="M408.31 654.60V671.00" stroke="#d1d1d1" stroke-width="0.9" fill="none"/>
<path d="M416.47 654.60V671.00" stroke="#a9a9a9" stroke-width="0.9" fill="none"/>
<path d="M417.21 654.60V671.00" stroke="#bfbfbf" stroke-width="0.9" fill="none"/>
<path d="M420.60 654.60V671.00" stroke="#272727" stroke-width="0.9" fill="none"/>
<path d="M424.00 654.60V671.00" stroke="#3c3c3c" stroke-width="0.9" fill="none"/>
<path d="M428.02 654.60V671.00" stroke="#5b5b5b" stroke-width="0.9" fill="none"/>
<path d="M428.89 654.60V671.00" stroke="#4f4f4f" stroke-width="0.9" fill="none"/>
<path d="M430.12 654.60V671.00" stroke="#c2c2c2" stroke-width="0.9" fill="none"/>
<path d="M432.31 654.60V671.00" stroke="#202020" stroke-width="0.9" fill="none"/>
<rect x="325.70" y="671.00" width="107.00" height="3.60" fill="url(#gbar)"/>
<rect x="325.20" y="607.00" width="113.50" height="67.60" fill="none" stroke="#222" stroke-width="1"/>
<line x1="325.20" y1="652.20" x2="438.70" y2="652.20" stroke="#555" stroke-width="0.6" />
<line x1="325.20" y1="654.60" x2="438.70" y2="654.60" stroke="#222" stroke-width="0.9" />
<line x1="321.60" y1="652.20" x2="325.20" y2="652.20" stroke="#333" stroke-width="0.8" />
<line x1="321.60" y1="646.20" x2="325.20" y2="646.20" stroke="#333" stroke-width="0.8" />
<line x1="321.60" y1="640.20" x2="325.20" y2="640.20" stroke="#333" stroke-width="0.8" />
<line x1="321.60" y1="634.20" x2="325.20" y2="634.20" stroke="#333" stroke-width="0.8" />
<line x1="321.60" y1="628.20" x2="325.20" y2="628.20" stroke="#333" stroke-width="0.8" />
<line x1="321.60" y1="622.20" x2="325.20" y2="622.20" stroke="#333" stroke-width="0.8" />
<line x1="321.60" y1="616.20" x2="325.20" y2="616.20" stroke="#333" stroke-width="0.8" />
<line x1="321.60" y1="610.20" x2="325.20" y2="610.20" stroke="#333" stroke-width="0.8" />
<text x="319.30" y="654.70" font-size="7.0" fill="#222" stroke="#222" stroke-width="0.16" text-anchor="end">0</text>
<text x="319.30" y="642.70" font-size="7.0" fill="#222" stroke="#222" stroke-width="0.16" text-anchor="end">0.2</text>
<text x="319.30" y="630.70" font-size="7.0" fill="#222" stroke="#222" stroke-width="0.16" text-anchor="end">0.4</text>
<text x="319.30" y="618.70" font-size="7.0" fill="#222" stroke="#222" stroke-width="0.16" text-anchor="end">0.6</text>
<text transform="translate(302.15 675.10) rotate(-90)" font-size="8.2" fill="#222" textLength="71" lengthAdjust="spacingAndGlyphs">Enrichment score (ES)</text>
<polyline points="325.30,628.00 325.39,627.03 325.50,625.69 325.63,624.09 325.78,622.34 325.94,620.54 326.12,618.82 326.30,617.27 326.50,616.00 326.70,614.98 326.91,614.09 327.13,613.31 327.36,612.62 327.60,612.03 327.88,611.50 328.17,611.03 328.50,610.60 328.87,610.24 329.27,609.99 329.70,609.82 330.16,609.70 330.62,609.62 331.09,609.56 331.55,609.49 332.00,609.40 332.43,609.28 332.84,609.15 333.25,609.03 333.66,608.91 334.08,608.82 334.52,608.77 334.99,608.76 335.50,608.80 336.05,608.92 336.64,609.11 337.27,609.36 337.91,609.64 338.56,609.92 339.21,610.19 339.86,610.43 340.50,610.60 341.09,610.69 341.64,610.71 342.18,610.69 342.72,610.65 343.30,610.63 343.93,610.67 344.66,610.78 345.50,611.00 346.46,611.33 347.50,611.75 348.62,612.24 349.81,612.77 351.06,613.36 352.34,613.96 353.66,614.58 355.00,615.20 356.37,615.83 357.80,616.49 359.27,617.17 360.78,617.88 362.32,618.59 363.87,619.33 365.44,620.06 367.00,620.80 368.59,621.55 370.21,622.31 371.87,623.09 373.53,623.88 375.19,624.66 376.83,625.45 378.44,626.23 380.00,627.00 381.52,627.76 383.00,628.52 384.47,629.27 385.91,630.02 387.33,630.77 388.73,631.52 390.12,632.26 391.50,633.00 392.86,633.73 394.18,634.45 395.49,635.17 396.78,635.89 398.07,636.60 399.36,637.33 400.67,638.06 402.00,638.80 403.37,639.57 404.79,640.37 406.22,641.18 407.66,641.99 409.07,642.80 410.45,643.57 411.77,644.31 413.00,645.00 414.16,645.64 415.26,646.26 416.31,646.84 417.31,647.40 418.28,647.92 419.21,648.42 420.12,648.88 421.00,649.30 421.85,649.69 422.65,650.03 423.42,650.34 424.16,650.62 424.87,650.88 425.58,651.10 426.29,651.31 427.00,651.50 427.75,651.66 428.54,651.80 429.34,651.90 430.12,651.99 430.86,652.05 431.52,652.11 432.08,652.16 432.50,652.20" fill="none" stroke="#86e040" stroke-width="1.1" stroke-linejoin="round"/>
<text x="403.20" y="619.30" font-size="6.8" fill="#222" stroke="#222" stroke-width="0.16" textLength="26.00" lengthAdjust="spacingAndGlyphs">NES: 2.72</text>
<text x="403.20" y="626.70" font-size="6.8" fill="#222" stroke="#222" stroke-width="0.16" textLength="17.50" lengthAdjust="spacingAndGlyphs">FDR: 0</text>
<text x="325.40" y="684.10" font-size="7.4" fill="#cc2030" font-weight="bold" textLength="14.80" lengthAdjust="spacingAndGlyphs">DAC</text>
<text x="412.20" y="684.10" font-size="7.4" fill="#2a3aa0" font-weight="bold" textLength="20.80" lengthAdjust="spacingAndGlyphs">DMSO</text>
<rect x="0.5" y="0.5" width="519" height="692" fill="none" stroke="#000" stroke-width="1"/>
</svg></div></body></html>
